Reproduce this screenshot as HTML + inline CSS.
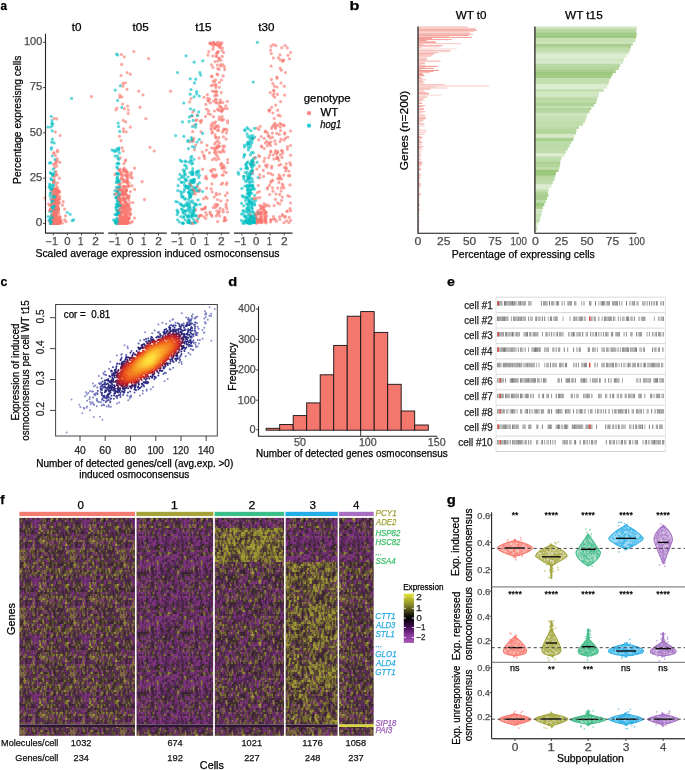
<!DOCTYPE html>
<html><head><meta charset="utf-8"><style>
html,body{margin:0;padding:0;background:#fff;width:685px;height:770px;overflow:hidden}
svg{display:block;will-change:transform}
text{font-family:"Liberation Sans",sans-serif}
.w{stroke:#F8766D}.h{stroke:#00BFC4}
</style></head><body>
<svg width="685" height="770" viewBox="0 0 685 770">
<text x="0.41" y="9.60" font-size="13.5" font-weight="bold" stroke="#000" stroke-width="0.25" textLength="6.49" lengthAdjust="spacingAndGlyphs">a</text>
<g stroke-width="3.2" stroke-linecap="round" stroke-opacity="0.64">
<path class="h" d="M251.8 137.9h0"/>
<path class="w" d="M121.1 206.7h0M60.2 135.5h0M286.2 163.8h0M223.1 209.7h0M56.5 206.8h0M269.6 185.4h0"/>
<path class="h" d="M252.1 189.1h0"/>
<path class="w" d="M259.7 156.5h0"/>
<path class="h" d="M244.2 211.2h0"/>
<path class="w" d="M258.7 213.4h0"/>
<path class="h" d="M192.8 202.6h0"/>
<path class="w" d="M55.8 222.9h0M52.9 206.0h0M260.2 220.0h0M282.6 61.4h0"/>
<path class="h" d="M247.6 168.9h0M254.7 195.3h0"/>
<path class="w" d="M189.7 101.9h0"/>
<path class="h" d="M52.7 210.7h0"/>
<path class="w" d="M120.1 198.1h0M210.1 212.0h0M53.1 221.6h0M275.6 128.3h0"/>
<path class="h" d="M116.0 197.7h0"/>
<path class="w" d="M290.6 131.0h0M122.2 191.0h0M54.3 201.1h0"/>
<path class="h" d="M182.4 209.4h0M202.8 60.8h0M194.5 82.9h0"/>
<path class="w" d="M126.4 190.4h0"/>
<path class="h" d="M52.7 176.1h0"/>
<path class="w" d="M55.7 213.0h0M285.5 138.1h0M122.8 208.1h0"/>
<path class="h" d="M249.7 210.5h0"/>
<path class="w" d="M219.4 143.0h0M213.0 174.5h0M218.8 127.1h0M126.0 213.1h0"/>
<path class="h" d="M120.4 211.8h0M250.0 219.2h0M188.5 216.3h0M117.6 214.1h0M251.4 166.8h0M51.2 223.4h0"/>
<path class="w" d="M216.2 56.0h0M123.1 182.1h0"/>
<path class="h" d="M242.2 195.7h0M180.9 204.7h0M118.5 209.8h0"/>
<path class="w" d="M214.8 95.9h0"/>
<path class="h" d="M251.7 202.9h0"/>
<path class="w" d="M145.9 118.6h0M221.1 119.2h0"/>
<path class="h" d="M194.3 206.6h0"/>
<path class="w" d="M125.6 193.1h0M290.6 52.5h0"/>
<path class="h" d="M248.1 177.1h0"/>
<path class="w" d="M200.9 122.6h0M170.6 91.2h0M226.4 132.9h0M214.6 177.2h0"/>
<path class="h" d="M255.6 200.4h0"/>
<path class="w" d="M55.5 212.7h0M224.6 146.2h0"/>
<path class="h" d="M54.4 209.9h0"/>
<path class="w" d="M55.8 196.6h0M219.0 69.5h0"/>
<path class="h" d="M50.8 223.2h0"/>
<path class="w" d="M282.7 153.3h0"/>
<path class="h" d="M252.5 173.3h0"/>
<path class="w" d="M51.5 216.6h0"/>
<path class="h" d="M54.6 212.5h0M117.0 173.6h0M248.4 149.9h0"/>
<path class="w" d="M264.3 219.7h0M221.5 111.7h0M209.7 99.1h0M57.9 204.4h0M269.8 154.8h0M119.1 200.5h0"/>
<path class="h" d="M49.5 163.1h0"/>
<path class="w" d="M205.8 218.5h0M55.4 207.1h0"/>
<path class="h" d="M251.1 163.7h0M52.0 221.8h0M248.4 221.2h0"/>
<path class="w" d="M120.8 205.0h0M125.7 193.7h0"/>
<path class="h" d="M189.0 222.1h0"/>
<path class="w" d="M121.4 215.6h0"/>
<path class="h" d="M254.2 164.9h0M118.4 221.9h0"/>
<path class="w" d="M53.5 153.5h0M128.5 206.0h0"/>
<path class="h" d="M193.1 215.3h0"/>
<path class="w" d="M54.8 212.4h0M57.8 222.9h0M281.6 150.7h0"/>
<path class="h" d="M248.7 192.9h0"/>
<path class="w" d="M214.7 149.0h0M50.0 221.9h0"/>
<path class="h" d="M258.1 177.5h0"/>
<path class="w" d="M264.7 210.5h0"/>
<path class="h" d="M245.4 172.4h0"/>
<path class="w" d="M124.2 186.4h0M121.8 213.0h0"/>
<path class="h" d="M247.2 185.2h0"/>
<path class="w" d="M258.4 219.6h0M124.8 223.4h0M275.3 127.3h0M126.5 223.0h0M54.2 205.7h0M206.1 176.4h0M55.2 204.8h0M57.5 222.9h0"/>
<path class="w" d="M211.3 129.5h0M216.2 174.7h0"/>
<path class="h" d="M183.8 136.3h0"/>
<path class="w" d="M223.1 75.9h0"/>
<path class="h" d="M254.7 137.2h0M192.0 139.6h0"/>
<path class="w" d="M148.6 58.6h0M220.0 208.4h0"/>
<path class="h" d="M197.7 190.6h0M245.1 130.4h0"/>
<path class="w" d="M198.8 216.2h0M58.1 219.3h0M119.8 218.3h0M126.3 171.7h0M59.6 203.1h0M275.3 152.7h0M226.9 182.8h0M125.6 220.4h0"/>
<path class="w" d="M120.2 222.6h0M276.7 154.0h0M56.2 223.4h0M130.3 127.2h0M219.5 110.5h0"/>
<path class="h" d="M249.4 182.6h0M195.0 188.8h0"/>
<path class="w" d="M259.7 197.6h0M214.8 44.3h0"/>
<path class="h" d="M248.2 217.1h0M249.0 203.0h0"/>
<path class="w" d="M221.4 184.3h0"/>
<path class="h" d="M188.6 203.6h0M252.8 181.9h0"/>
<path class="w" d="M125.0 216.0h0"/>
<path class="h" d="M193.1 190.0h0M248.4 192.9h0"/>
<path class="w" d="M279.5 216.8h0M220.7 152.5h0M216.2 154.7h0M121.0 219.7h0"/>
<path class="h" d="M181.2 182.1h0"/>
<path class="w" d="M133.8 51.5h0"/>
<path class="h" d="M189.3 221.1h0"/>
<path class="w" d="M57.0 191.6h0M265.6 218.6h0M289.7 175.7h0M266.5 212.3h0"/>
<path class="h" d="M252.2 169.7h0"/>
<path class="w" d="M128.0 204.4h0"/>
<path class="h" d="M238.6 174.2h0"/>
<path class="w" d="M211.1 188.9h0M223.6 130.2h0"/>
<path class="h" d="M248.3 129.0h0M248.6 148.0h0"/>
<path class="w" d="M208.5 110.7h0M122.8 186.7h0M130.4 74.2h0M126.6 173.7h0M53.7 219.0h0M59.8 196.4h0M57.5 182.8h0M290.6 203.0h0"/>
<path class="w" d="M222.1 116.6h0M54.0 215.8h0M53.9 202.2h0M217.5 130.4h0M127.7 222.7h0"/>
<path class="h" d="M116.9 166.8h0M248.1 219.9h0"/>
<path class="w" d="M123.0 192.3h0M261.6 221.4h0M57.2 194.1h0M212.2 76.4h0M276.8 133.4h0"/>
<path class="h" d="M249.3 174.2h0M54.7 193.7h0M50.2 193.0h0M247.4 190.4h0"/>
<path class="w" d="M281.8 47.7h0"/>
<path class="h" d="M250.9 171.5h0"/>
<path class="w" d="M54.1 223.1h0"/>
<path class="h" d="M54.0 218.2h0"/>
<path class="w" d="M254.3 217.1h0M57.0 206.9h0M123.7 170.3h0M118.4 214.8h0"/>
<path class="h" d="M54.2 222.7h0M185.0 161.2h0"/>
<path class="w" d="M121.2 172.7h0"/>
<path class="h" d="M189.6 183.5h0"/>
<path class="w" d="M216.9 148.2h0M49.6 211.1h0M61.0 220.6h0M253.4 138.6h0"/>
<path class="h" d="M50.7 188.4h0"/>
<path class="w" d="M265.0 131.9h0M134.4 218.1h0M211.9 216.2h0M60.2 221.4h0M281.0 83.0h0M222.5 132.1h0"/>
<path class="h" d="M179.4 222.0h0"/>
<path class="w" d="M201.6 120.4h0M53.7 193.7h0"/>
<path class="h" d="M248.6 199.3h0M199.9 72.7h0M248.6 185.5h0M256.2 218.4h0M251.9 161.7h0M51.6 219.1h0"/>
<path class="w" d="M264.1 207.3h0M129.2 217.7h0M217.2 147.7h0M55.8 160.5h0"/>
<path class="h" d="M52.4 139.2h0"/>
<path class="w" d="M127.0 197.4h0"/>
<path class="h" d="M193.9 222.9h0"/>
<path class="w" d="M216.3 215.9h0"/>
<path class="h" d="M54.1 219.8h0"/>
<path class="w" d="M119.6 219.5h0"/>
<path class="h" d="M250.4 223.3h0"/>
<path class="w" d="M127.7 218.7h0M119.5 196.2h0"/>
<path class="h" d="M247.9 222.7h0M256.2 218.8h0"/>
<path class="w" d="M56.5 208.7h0"/>
<path class="h" d="M186.1 186.8h0M184.0 216.6h0"/>
<path class="w" d="M56.4 220.8h0"/>
<path class="h" d="M249.9 213.6h0"/>
<path class="w" d="M52.0 222.5h0"/>
<path class="h" d="M192.4 146.5h0"/>
<path class="w" d="M131.3 172.7h0M119.8 194.0h0M271.0 46.2h0M124.8 200.4h0"/>
<path class="h" d="M190.4 108.9h0"/>
<path class="w" d="M219.2 116.9h0"/>
<path class="h" d="M51.5 147.6h0"/>
<path class="w" d="M270.6 145.5h0M260.6 212.5h0M119.6 212.1h0M274.3 86.2h0M58.5 209.5h0M261.6 208.6h0"/>
<path class="h" d="M119.8 209.6h0M250.4 154.8h0"/>
<path class="w" d="M265.2 213.0h0"/>
<path class="h" d="M190.4 195.7h0"/>
<path class="w" d="M58.6 190.5h0"/>
<path class="h" d="M249.9 136.2h0M248.9 195.3h0"/>
<path class="w" d="M117.0 197.5h0M138.7 91.2h0M259.9 177.8h0M55.2 223.4h0"/>
<path class="h" d="M177.9 211.5h0M193.4 190.9h0M188.1 177.0h0"/>
<path class="w" d="M122.5 209.1h0"/>
<path class="h" d="M115.1 156.0h0M50.9 223.4h0"/>
<path class="w" d="M123.2 220.7h0"/>
<path class="h" d="M112.0 150.0h0M52.0 215.5h0"/>
<path class="w" d="M200.3 215.3h0M266.8 141.4h0M258.5 213.4h0M222.0 120.4h0M209.7 43.2h0M224.5 218.1h0"/>
<path class="h" d="M114.7 151.4h0M191.7 156.3h0"/>
<path class="w" d="M191.0 98.5h0"/>
<path class="h" d="M190.6 180.6h0"/>
<path class="w" d="M57.6 209.0h0M222.2 175.0h0"/>
<path class="h" d="M246.4 203.7h0M183.5 217.7h0M184.7 165.2h0"/>
<path class="w" d="M284.3 86.2h0"/>
<path class="h" d="M252.7 199.6h0"/>
<path class="w" d="M215.8 102.6h0M279.9 219.5h0"/>
<path class="h" d="M191.7 180.3h0"/>
<path class="w" d="M217.8 204.8h0M219.8 47.6h0"/>
<path class="h" d="M253.3 222.3h0"/>
<path class="w" d="M55.2 219.8h0M282.9 185.6h0"/>
<path class="h" d="M198.0 218.4h0"/>
<path class="w" d="M126.2 190.6h0M119.7 186.5h0"/>
<path class="h" d="M252.5 204.6h0"/>
<path class="w" d="M258.6 212.7h0M123.9 212.0h0"/>
<path class="h" d="M117.2 200.4h0"/>
<path class="w" d="M56.4 214.1h0M210.6 43.7h0M128.9 218.7h0"/>
<path class="h" d="M113.7 219.9h0M180.2 160.2h0"/>
<path class="w" d="M208.1 113.7h0M54.1 188.3h0M125.8 202.7h0M128.5 208.5h0"/>
<path class="h" d="M52.7 123.5h0M249.7 195.9h0M245.8 221.4h0M247.9 186.7h0"/>
<path class="w" d="M119.7 200.6h0"/>
<path class="h" d="M188.4 192.5h0"/>
<path class="w" d="M259.9 221.2h0M285.6 171.0h0M280.0 54.9h0M216.9 95.4h0M207.3 94.7h0"/>
<path class="h" d="M67.4 212.5h0"/>
<path class="w" d="M55.8 212.4h0M219.4 82.4h0"/>
<path class="h" d="M250.9 215.7h0M119.1 180.8h0M175.7 135.6h0M187.8 141.5h0"/>
<path class="w" d="M55.7 195.3h0"/>
<path class="h" d="M192.9 174.5h0M248.7 200.8h0"/>
<path class="w" d="M126.7 211.7h0M56.4 189.7h0M215.5 121.8h0M217.7 221.6h0M54.7 223.2h0"/>
<path class="h" d="M53.3 221.4h0"/>
<path class="w" d="M57.1 220.6h0"/>
<path class="h" d="M50.2 220.6h0"/>
<path class="w" d="M60.0 222.6h0"/>
<path class="h" d="M249.9 138.4h0M55.8 212.9h0"/>
<path class="w" d="M263.8 205.9h0"/>
<path class="h" d="M185.6 198.8h0"/>
<path class="w" d="M56.5 208.3h0M276.0 194.0h0"/>
<path class="h" d="M50.8 178.6h0M52.9 188.8h0"/>
<path class="w" d="M190.1 141.7h0M214.0 148.2h0"/>
<path class="h" d="M243.7 205.8h0"/>
<path class="w" d="M54.0 222.0h0M193.4 181.5h0"/>
<path class="h" d="M254.4 189.1h0"/>
<path class="w" d="M127.3 187.1h0M58.1 206.8h0"/>
<path class="h" d="M50.9 222.7h0"/>
<path class="w" d="M55.3 221.7h0"/>
<path class="h" d="M53.8 204.9h0"/>
<path class="w" d="M123.8 220.2h0"/>
<path class="h" d="M118.2 210.4h0"/>
<path class="w" d="M120.0 184.2h0M58.2 211.7h0M123.5 131.6h0"/>
<path class="h" d="M255.4 157.6h0"/>
<path class="w" d="M258.3 185.5h0"/>
<path class="h" d="M54.1 195.4h0"/>
<path class="w" d="M124.9 214.4h0M116.9 108.0h0M118.9 169.8h0M261.4 207.3h0"/>
<path class="h" d="M187.4 216.0h0"/>
<path class="w" d="M196.3 220.3h0"/>
<path class="h" d="M120.4 214.6h0M250.1 175.6h0"/>
<path class="w" d="M125.1 223.1h0M125.4 82.8h0M195.8 120.6h0M218.4 45.5h0"/>
<path class="h" d="M250.9 130.7h0M193.2 120.4h0M245.7 215.8h0M51.6 189.9h0M118.3 196.9h0M243.9 176.7h0"/>
<path class="w" d="M256.6 212.5h0"/>
<path class="h" d="M115.8 221.6h0"/>
<path class="w" d="M121.4 177.8h0M54.5 220.4h0M60.1 216.6h0M55.6 200.4h0"/>
<path class="h" d="M252.4 170.9h0"/>
<path class="w" d="M267.6 187.6h0M215.3 99.5h0"/>
<path class="h" d="M247.4 221.6h0"/>
<path class="w" d="M212.7 169.3h0M126.1 204.9h0"/>
<path class="h" d="M243.9 221.0h0"/>
<path class="w" d="M215.6 137.3h0M217.7 74.7h0M221.7 168.1h0M250.0 214.5h0"/>
<path class="h" d="M251.2 217.8h0"/>
<path class="w" d="M58.2 220.2h0"/>
<path class="h" d="M120.0 219.6h0M244.5 146.9h0"/>
<path class="w" d="M211.6 215.0h0M128.1 205.9h0"/>
<path class="h" d="M116.5 204.3h0"/>
<path class="w" d="M56.0 221.8h0"/>
<path class="h" d="M189.8 189.7h0"/>
<path class="w" d="M55.5 209.8h0"/>
<path class="h" d="M177.6 202.0h0"/>
<path class="w" d="M126.2 131.8h0"/>
<path class="h" d="M252.9 186.4h0M190.5 184.8h0"/>
<path class="w" d="M55.8 223.4h0M212.5 132.0h0"/>
<path class="h" d="M253.6 222.2h0"/>
<path class="w" d="M257.7 221.7h0M56.5 216.4h0"/>
<path class="h" d="M248.8 177.6h0M177.0 210.2h0M194.2 209.1h0"/>
<path class="w" d="M123.0 83.4h0M215.8 126.4h0"/>
<path class="h" d="M181.6 161.4h0"/>
<path class="w" d="M255.6 215.0h0"/>
<path class="h" d="M50.8 162.7h0"/>
<path class="w" d="M195.8 209.9h0M211.1 128.0h0"/>
<path class="h" d="M54.2 182.4h0"/>
<path class="w" d="M207.0 198.3h0"/>
<path class="h" d="M249.5 219.9h0"/>
<path class="w" d="M54.2 216.0h0M258.7 155.6h0"/>
<path class="h" d="M184.1 191.3h0"/>
<path class="w" d="M283.2 60.5h0"/>
<path class="h" d="M255.2 222.6h0M245.8 221.0h0"/>
<path class="w" d="M124.3 56.8h0M276.7 158.4h0M195.6 145.1h0M121.1 75.5h0"/>
<path class="h" d="M118.9 213.4h0"/>
<path class="w" d="M270.8 173.6h0M256.8 215.4h0M123.8 211.0h0M128.2 113.5h0M56.8 210.2h0"/>
<path class="h" d="M185.6 210.6h0"/>
<path class="w" d="M201.6 142.3h0M123.6 223.2h0"/>
<path class="h" d="M251.4 222.1h0"/>
<path class="w" d="M57.9 220.4h0M125.1 181.5h0M142.1 181.7h0"/>
<path class="h" d="M252.2 208.7h0"/>
<path class="w" d="M51.5 223.4h0M221.0 44.3h0"/>
<path class="h" d="M180.9 216.6h0"/>
<path class="w" d="M53.3 218.1h0M259.4 166.2h0"/>
<path class="h" d="M251.4 218.0h0"/>
<path class="w" d="M121.0 201.7h0M62.3 223.1h0"/>
<path class="h" d="M115.3 221.0h0"/>
<path class="w" d="M55.4 214.4h0M57.1 217.2h0M222.4 110.4h0M222.5 151.0h0M221.8 42.8h0M208.4 101.1h0M279.0 178.8h0M212.9 55.9h0"/>
<path class="h" d="M249.7 185.9h0"/>
<path class="w" d="M132.3 221.7h0M209.5 152.8h0"/>
<path class="h" d="M119.6 213.1h0M200.7 75.1h0"/>
<path class="w" d="M51.9 214.9h0M125.5 220.3h0M224.1 220.9h0M126.5 176.0h0M57.4 221.5h0M57.5 204.7h0M273.2 155.0h0M54.1 152.6h0"/>
<path class="h" d="M246.1 164.4h0M193.9 159.3h0"/>
<path class="w" d="M56.1 223.3h0"/>
<path class="h" d="M186.5 168.3h0"/>
<path class="w" d="M53.3 223.3h0M208.2 100.6h0M278.4 57.9h0"/>
<path class="h" d="M247.4 222.1h0M246.8 186.6h0M117.5 177.1h0"/>
<path class="w" d="M288.9 222.6h0M261.3 213.3h0"/>
<path class="h" d="M189.1 121.4h0"/>
<path class="w" d="M226.9 208.6h0M277.7 158.5h0M211.1 125.2h0M219.2 45.4h0M124.0 194.3h0M57.4 193.2h0"/>
<path class="h" d="M195.7 79.2h0M247.5 144.0h0"/>
<path class="w" d="M55.9 185.0h0"/>
<path class="h" d="M193.1 179.8h0"/>
<path class="w" d="M55.5 163.9h0"/>
<path class="h" d="M54.1 196.6h0M52.0 120.5h0"/>
<path class="w" d="M54.5 219.8h0M203.5 198.8h0M279.3 134.3h0M121.7 206.9h0M120.2 169.1h0M123.0 217.7h0M282.0 157.4h0M272.9 191.2h0"/>
<path class="h" d="M193.4 219.4h0"/>
<path class="w" d="M274.2 118.6h0M194.5 125.2h0M131.2 174.5h0M273.5 216.5h0M207.7 98.4h0M53.2 196.7h0"/>
<path class="h" d="M185.7 214.6h0"/>
<path class="w" d="M198.8 191.4h0M119.5 223.3h0M269.0 136.0h0M215.3 150.5h0M271.5 128.4h0M122.7 104.1h0"/>
<path class="h" d="M252.7 220.9h0"/>
<path class="w" d="M284.8 217.2h0M219.8 215.9h0"/>
<path class="h" d="M186.1 55.8h0"/>
<path class="w" d="M260.5 209.2h0M216.4 44.1h0"/>
<path class="h" d="M51.8 123.6h0"/>
<path class="w" d="M54.6 167.4h0M58.5 218.2h0"/>
<path class="h" d="M192.6 182.3h0"/>
<path class="w" d="M64.7 209.0h0"/>
<path class="h" d="M250.5 190.0h0"/>
<path class="w" d="M52.6 222.8h0M129.1 185.9h0M263.6 176.4h0"/>
<path class="h" d="M249.5 193.2h0"/>
<path class="w" d="M214.2 197.1h0"/>
<path class="h" d="M52.2 206.8h0M120.5 223.0h0"/>
<path class="w" d="M50.4 222.9h0M199.1 158.1h0M54.5 213.6h0M123.4 191.7h0M126.1 219.3h0M118.5 206.2h0M122.9 218.0h0"/>
<path class="h" d="M115.8 207.7h0"/>
<path class="w" d="M273.8 90.3h0M120.3 187.8h0"/>
<path class="h" d="M198.9 170.9h0M185.4 174.3h0"/>
<path class="w" d="M126.8 178.4h0M122.6 212.1h0M216.9 42.7h0M277.1 78.2h0M213.0 84.9h0M256.3 217.6h0M261.2 136.6h0"/>
<path class="h" d="M52.2 222.7h0"/>
<path class="w" d="M127.5 198.0h0M266.9 204.9h0M55.5 223.1h0M283.9 187.9h0M57.3 219.2h0M215.6 85.3h0M265.6 212.8h0M197.1 115.2h0"/>
<path class="w" d="M55.0 219.9h0M217.9 61.1h0M56.1 197.3h0M53.4 200.1h0M122.9 218.0h0M212.6 126.1h0"/>
<path class="h" d="M253.5 219.5h0"/>
<path class="w" d="M259.7 212.8h0M206.8 215.1h0M216.4 127.0h0"/>
<path class="h" d="M51.2 220.6h0"/>
<path class="w" d="M219.8 102.5h0M280.0 176.7h0"/>
<path class="h" d="M248.2 143.5h0"/>
<path class="w" d="M273.5 218.8h0M261.5 222.4h0M124.4 198.4h0M211.4 85.7h0"/>
<path class="h" d="M253.4 158.7h0"/>
<path class="w" d="M54.6 199.2h0M63.2 201.7h0M214.7 128.5h0M54.0 211.4h0"/>
<path class="h" d="M190.2 78.8h0M243.6 223.4h0"/>
<path class="w" d="M222.3 56.4h0M220.8 165.3h0M208.0 55.1h0"/>
<path class="h" d="M253.2 82.1h0"/>
<path class="w" d="M251.7 218.6h0"/>
<path class="h" d="M120.2 222.2h0"/>
<path class="w" d="M129.7 210.2h0"/>
<path class="h" d="M251.9 140.4h0"/>
<path class="w" d="M213.2 80.9h0"/>
<path class="h" d="M120.5 222.4h0"/>
<path class="w" d="M124.4 217.2h0M267.4 189.0h0M125.1 223.3h0M51.4 190.7h0M257.6 219.8h0M217.1 53.2h0M122.8 205.9h0M127.2 72.5h0"/>
<path class="w" d="M124.5 194.0h0"/>
<path class="h" d="M189.0 185.5h0"/>
<path class="w" d="M128.5 197.1h0"/>
<path class="h" d="M199.3 139.4h0M52.2 156.0h0"/>
<path class="w" d="M284.7 132.9h0M124.2 221.0h0M128.8 185.8h0M44.8 198.0h0M126.8 195.2h0"/>
<path class="h" d="M51.8 142.2h0"/>
<path class="w" d="M54.8 209.5h0M223.0 167.3h0M57.9 222.6h0M263.3 210.4h0M53.5 221.7h0M266.3 223.0h0M59.0 220.6h0M50.0 220.9h0"/>
<path class="h" d="M192.5 173.4h0"/>
<path class="w" d="M269.2 111.3h0M127.8 172.4h0"/>
<path class="h" d="M118.2 223.3h0"/>
<path class="w" d="M57.3 161.1h0M125.8 219.8h0"/>
<path class="h" d="M118.9 147.8h0M247.2 175.3h0"/>
<path class="w" d="M124.6 171.3h0M282.3 197.0h0"/>
<path class="h" d="M53.9 222.4h0M118.5 200.7h0M181.8 176.1h0M250.9 173.4h0M247.1 207.6h0"/>
<path class="w" d="M51.3 216.9h0M271.7 166.2h0M57.1 209.5h0"/>
<path class="h" d="M50.9 198.3h0"/>
<path class="w" d="M261.4 219.9h0M260.5 219.1h0"/>
<path class="h" d="M247.1 133.9h0"/>
<path class="w" d="M273.5 44.7h0"/>
<path class="h" d="M116.7 223.3h0M191.4 137.6h0"/>
<path class="w" d="M220.8 200.8h0M54.1 118.4h0M281.5 200.6h0M124.0 208.0h0M53.3 210.8h0M126.4 222.9h0M265.7 217.9h0M277.8 188.1h0"/>
<path class="w" d="M53.8 217.4h0M130.7 213.5h0"/>
<path class="h" d="M248.7 206.9h0"/>
<path class="w" d="M55.8 197.4h0"/>
<path class="h" d="M254.5 205.1h0M116.8 222.9h0"/>
<path class="w" d="M212.3 91.0h0M59.3 191.8h0"/>
<path class="h" d="M116.9 192.7h0"/>
<path class="w" d="M56.0 219.2h0M271.6 107.3h0"/>
<path class="h" d="M117.7 204.4h0"/>
<path class="w" d="M227.6 159.5h0M261.3 217.1h0M265.8 131.1h0M281.4 187.8h0M129.2 195.6h0M126.3 171.8h0"/>
<path class="h" d="M254.4 214.1h0"/>
<path class="w" d="M57.4 191.2h0M55.0 221.7h0M126.2 207.2h0"/>
<path class="h" d="M249.5 178.4h0M196.0 124.4h0M52.8 201.2h0"/>
<path class="w" d="M127.7 178.2h0M280.7 130.6h0M56.6 223.1h0M258.7 222.3h0"/>
<path class="h" d="M189.2 222.2h0"/>
<path class="w" d="M123.1 220.7h0"/>
<path class="h" d="M114.9 190.6h0"/>
<path class="w" d="M57.5 150.3h0"/>
<path class="h" d="M189.7 204.9h0"/>
<path class="w" d="M260.7 220.1h0M122.3 194.2h0"/>
<path class="h" d="M116.6 54.0h0M118.4 212.8h0"/>
<path class="w" d="M252.9 162.7h0M57.2 200.6h0"/>
<path class="h" d="M73.7 219.8h0"/>
<path class="w" d="M119.8 223.4h0"/>
<path class="h" d="M50.8 173.5h0"/>
<path class="w" d="M200.1 121.0h0M272.9 95.4h0M257.2 192.7h0M279.8 203.9h0M254.8 157.9h0M121.8 194.7h0"/>
<path class="h" d="M117.4 191.2h0"/>
<path class="w" d="M126.6 190.0h0M124.1 169.6h0M260.3 219.1h0"/>
<path class="h" d="M116.8 148.9h0"/>
<path class="w" d="M54.0 203.4h0"/>
<path class="h" d="M118.4 187.1h0"/>
<path class="w" d="M259.5 221.9h0M58.2 208.9h0"/>
<path class="h" d="M193.2 210.4h0"/>
<path class="w" d="M205.8 212.6h0"/>
<path class="h" d="M49.0 220.1h0"/>
<path class="w" d="M266.0 205.8h0"/>
<path class="h" d="M53.4 180.4h0M252.2 171.0h0"/>
<path class="w" d="M128.2 222.9h0M123.0 212.1h0"/>
<path class="h" d="M118.0 222.3h0"/>
<path class="w" d="M281.4 70.2h0M257.4 220.1h0"/>
<path class="h" d="M252.8 165.1h0M116.1 197.8h0M250.5 174.0h0M195.5 127.2h0M194.0 179.7h0"/>
<path class="w" d="M280.4 59.8h0M204.6 158.5h0"/>
<path class="h" d="M243.3 213.5h0"/>
<path class="w" d="M120.4 157.8h0"/>
<path class="h" d="M183.8 103.0h0M53.6 217.1h0"/>
<path class="w" d="M212.5 176.1h0M126.3 190.2h0"/>
<path class="h" d="M177.2 214.6h0M71.6 98.4h0M49.1 187.1h0M52.5 223.2h0"/>
<path class="w" d="M275.1 219.3h0"/>
<path class="h" d="M251.9 222.8h0M252.4 138.6h0"/>
<path class="w" d="M120.4 213.2h0M275.7 143.9h0"/>
<path class="h" d="M191.3 161.1h0"/>
<path class="w" d="M122.9 190.9h0M56.9 209.1h0"/>
<path class="h" d="M119.5 187.2h0M253.3 188.2h0"/>
<path class="w" d="M124.7 180.6h0M116.8 188.8h0M66.0 221.6h0M289.9 162.7h0M120.1 215.5h0"/>
<path class="h" d="M117.5 180.9h0"/>
<path class="w" d="M256.5 223.3h0M126.7 216.5h0M258.9 129.4h0"/>
<path class="h" d="M117.8 158.3h0M116.2 182.5h0"/>
<path class="w" d="M55.7 206.0h0"/>
<path class="h" d="M190.2 94.2h0"/>
<path class="w" d="M120.4 205.1h0"/>
<path class="h" d="M249.3 188.0h0M196.1 215.3h0"/>
<path class="w" d="M126.8 182.2h0"/>
<path class="h" d="M193.8 207.8h0"/>
<path class="w" d="M206.8 178.7h0M217.0 45.1h0"/>
<path class="h" d="M188.6 206.9h0"/>
<path class="w" d="M52.2 222.5h0M264.7 158.3h0M121.7 212.0h0"/>
<path class="h" d="M251.7 193.3h0M53.9 175.4h0"/>
<path class="w" d="M123.9 163.6h0"/>
<path class="h" d="M249.1 194.9h0M187.9 210.6h0M116.6 206.9h0"/>
<path class="w" d="M272.4 137.3h0M219.8 46.9h0M123.3 120.4h0M270.2 92.6h0"/>
<path class="h" d="M244.5 154.6h0"/>
<path class="w" d="M60.2 221.2h0"/>
<path class="h" d="M53.1 189.0h0M192.3 171.7h0M191.8 215.5h0M192.8 171.4h0"/>
<path class="w" d="M277.6 152.5h0"/>
<path class="h" d="M244.4 155.0h0"/>
<path class="w" d="M121.9 206.9h0M213.2 207.5h0"/>
<path class="h" d="M182.4 121.9h0"/>
<path class="w" d="M118.6 183.9h0"/>
<path class="h" d="M192.2 141.0h0"/>
<path class="w" d="M56.3 211.4h0M122.3 175.8h0M266.9 167.1h0"/>
<path class="h" d="M51.9 220.6h0"/>
<path class="w" d="M55.9 162.7h0"/>
<path class="h" d="M186.3 166.0h0"/>
<path class="w" d="M190.0 183.3h0M280.2 68.2h0M52.4 195.3h0M224.8 108.6h0M214.5 123.5h0M217.9 51.9h0"/>
<path class="h" d="M250.1 217.7h0"/>
<path class="w" d="M57.2 223.0h0"/>
<path class="h" d="M115.2 90.1h0"/>
<path class="w" d="M266.0 220.4h0"/>
<path class="h" d="M190.8 182.3h0M117.5 179.1h0M191.7 174.7h0M191.0 89.5h0"/>
<path class="w" d="M267.3 145.7h0M287.4 149.2h0M224.4 66.9h0M252.4 172.5h0M57.4 221.6h0M127.6 218.0h0M271.6 180.9h0M119.4 170.0h0"/>
<path class="w" d="M261.1 206.0h0M119.8 95.1h0"/>
<path class="h" d="M249.2 201.1h0"/>
<path class="w" d="M289.5 196.5h0"/>
<path class="h" d="M186.5 186.4h0"/>
<path class="w" d="M282.3 184.0h0"/>
<path class="h" d="M246.5 223.0h0M247.8 136.7h0"/>
<path class="w" d="M284.1 222.7h0"/>
<path class="h" d="M53.3 173.9h0M113.8 150.5h0M190.5 210.1h0M194.6 147.5h0"/>
<path class="w" d="M119.8 97.3h0"/>
<path class="h" d="M246.6 212.0h0M184.6 170.9h0"/>
<path class="w" d="M56.2 204.7h0M286.6 220.8h0M120.5 219.3h0M59.6 217.6h0M127.6 220.5h0"/>
<path class="h" d="M251.2 202.1h0"/>
<path class="w" d="M281.1 124.0h0"/>
<path class="h" d="M118.5 195.0h0"/>
<path class="w" d="M204.6 208.2h0M267.5 132.8h0"/>
<path class="h" d="M188.8 192.1h0M116.9 204.2h0"/>
<path class="w" d="M58.0 202.1h0M219.7 194.1h0"/>
<path class="h" d="M247.5 189.4h0M54.2 142.9h0"/>
<path class="w" d="M57.6 187.3h0M226.0 206.4h0M58.3 210.0h0M51.7 221.8h0"/>
<path class="h" d="M252.8 211.6h0"/>
<path class="w" d="M58.3 222.8h0"/>
<path class="h" d="M197.6 184.7h0M53.0 196.6h0"/>
<path class="w" d="M122.6 189.5h0"/>
<path class="h" d="M194.4 210.9h0M247.3 172.6h0"/>
<path class="w" d="M50.8 221.8h0M132.0 185.8h0M227.5 120.8h0"/>
<path class="h" d="M247.8 219.5h0"/>
<path class="w" d="M269.0 110.1h0M59.1 221.7h0"/>
<path class="h" d="M251.4 198.6h0"/>
<path class="w" d="M123.9 222.4h0M129.0 213.5h0M49.8 205.5h0M261.4 220.2h0M120.5 203.0h0M58.8 213.2h0M53.9 223.4h0M121.1 174.6h0"/>
<path class="h" d="M243.7 176.4h0"/>
<path class="w" d="M221.9 50.4h0"/>
<path class="h" d="M118.2 150.2h0"/>
<path class="w" d="M276.4 221.3h0"/>
<path class="h" d="M117.6 100.5h0M51.8 188.3h0"/>
<path class="w" d="M221.7 163.5h0M130.2 214.4h0M279.7 194.4h0M265.5 165.4h0M214.7 82.0h0"/>
<path class="h" d="M50.4 172.5h0"/>
<path class="w" d="M125.1 206.6h0M127.4 185.4h0"/>
<path class="h" d="M55.1 159.4h0M186.9 180.7h0"/>
<path class="w" d="M275.6 150.6h0M120.0 171.8h0M124.0 219.4h0M123.6 219.5h0M257.1 198.2h0M214.0 176.0h0M274.1 205.6h0"/>
<path class="h" d="M194.4 179.5h0"/>
<path class="w" d="M122.1 147.8h0M214.7 143.9h0"/>
<path class="h" d="M252.5 138.2h0M250.6 202.3h0M194.1 96.8h0M185.8 204.5h0"/>
<path class="w" d="M129.7 215.3h0"/>
<path class="h" d="M51.8 214.6h0M185.8 179.6h0M188.0 187.8h0"/>
<path class="w" d="M256.9 169.1h0M58.4 199.9h0M59.8 222.4h0"/>
<path class="h" d="M187.8 188.2h0"/>
<path class="w" d="M264.2 210.2h0"/>
<path class="h" d="M251.8 163.9h0"/>
<path class="w" d="M217.9 110.0h0"/>
<path class="h" d="M189.8 207.1h0"/>
<path class="w" d="M264.1 203.5h0M254.5 198.0h0M118.9 220.0h0M132.2 177.9h0M55.6 216.6h0M284.7 95.1h0M219.4 58.0h0M119.4 221.9h0"/>
<path class="w" d="M120.2 194.9h0M219.2 87.3h0M58.2 199.0h0M58.1 223.3h0M126.3 175.4h0"/>
<path class="h" d="M252.2 179.3h0M251.8 178.4h0"/>
<path class="w" d="M210.1 213.6h0M60.1 218.2h0"/>
<path class="h" d="M200.0 204.4h0"/>
<path class="w" d="M57.2 221.2h0"/>
<path class="h" d="M250.6 215.8h0M199.5 175.3h0"/>
<path class="w" d="M271.4 79.6h0M192.0 116.2h0"/>
<path class="h" d="M183.4 206.4h0"/>
<path class="w" d="M220.5 102.6h0"/>
<path class="h" d="M187.6 222.2h0M249.0 223.3h0"/>
<path class="w" d="M120.7 219.1h0M124.2 222.7h0"/>
<path class="h" d="M247.9 197.4h0"/>
<path class="w" d="M272.8 113.0h0M129.1 206.4h0"/>
<path class="h" d="M181.8 177.5h0"/>
<path class="w" d="M124.5 222.4h0M54.6 222.2h0"/>
<path class="h" d="M253.8 220.8h0"/>
<path class="w" d="M127.3 180.6h0M123.9 199.0h0M277.8 151.6h0M124.2 194.0h0M265.2 220.4h0M271.3 53.6h0M219.0 151.7h0M120.2 205.7h0"/>
<path class="w" d="M212.6 122.8h0M122.0 190.3h0"/>
<path class="h" d="M192.4 139.9h0"/>
<path class="w" d="M281.1 139.2h0M125.9 170.1h0M50.4 209.4h0"/>
<path class="h" d="M195.1 204.2h0"/>
<path class="w" d="M269.0 143.4h0M56.4 210.9h0"/>
<path class="h" d="M51.5 217.9h0M117.9 205.9h0M118.3 163.1h0"/>
<path class="w" d="M219.4 105.7h0"/>
<path class="h" d="M258.2 212.9h0"/>
<path class="w" d="M56.1 220.7h0M57.0 191.0h0M122.7 199.2h0M214.7 158.3h0M255.6 214.3h0M216.3 159.8h0"/>
<path class="h" d="M196.1 191.0h0"/>
<path class="w" d="M218.8 137.6h0"/>
<path class="h" d="M247.7 211.4h0M53.6 220.5h0"/>
<path class="w" d="M211.3 76.4h0M57.9 190.9h0M271.0 142.0h0M217.9 140.7h0"/>
<path class="h" d="M196.6 91.5h0"/>
<path class="w" d="M212.0 132.9h0M280.8 164.4h0M59.1 222.6h0M219.6 146.4h0"/>
<path class="h" d="M182.4 223.2h0"/>
<path class="w" d="M122.6 179.1h0M54.6 197.5h0M216.1 137.7h0M121.0 179.0h0"/>
<path class="h" d="M248.6 204.2h0M50.9 219.0h0"/>
<path class="w" d="M59.7 162.3h0M281.1 191.1h0M268.7 157.7h0"/>
<path class="h" d="M196.9 187.2h0"/>
<path class="w" d="M57.5 196.0h0M55.1 189.1h0M59.5 222.9h0"/>
<path class="h" d="M247.0 127.6h0M247.0 193.9h0M179.9 174.3h0M249.8 191.5h0"/>
<path class="w" d="M216.2 142.0h0"/>
<path class="h" d="M115.2 222.8h0M193.8 211.6h0"/>
<path class="w" d="M222.9 146.1h0"/>
<path class="h" d="M52.3 174.3h0"/>
<path class="w" d="M55.6 194.2h0M59.0 223.2h0M276.9 77.1h0"/>
<path class="h" d="M196.8 204.9h0M255.2 220.3h0"/>
<path class="w" d="M278.3 115.2h0"/>
<path class="h" d="M188.3 140.3h0"/>
<path class="w" d="M129.0 218.6h0M53.3 223.4h0"/>
<path class="h" d="M53.1 223.3h0"/>
<path class="w" d="M284.1 125.6h0"/>
<path class="h" d="M52.9 204.4h0"/>
<path class="w" d="M227.1 129.9h0M122.7 194.2h0"/>
<path class="h" d="M251.9 186.1h0M249.2 143.4h0M198.1 199.9h0"/>
<path class="w" d="M270.6 182.3h0"/>
<path class="h" d="M186.2 161.5h0"/>
<path class="w" d="M56.3 219.5h0M226.1 139.1h0M288.9 171.1h0"/>
<path class="h" d="M51.2 116.4h0M251.6 164.4h0"/>
<path class="w" d="M264.4 222.0h0M57.2 193.5h0M55.1 204.6h0"/>
<path class="h" d="M182.1 205.2h0"/>
<path class="w" d="M55.7 211.9h0M123.1 222.8h0M124.2 220.7h0M280.2 115.8h0M227.5 212.0h0M290.0 184.9h0"/>
<path class="h" d="M252.6 160.7h0"/>
<path class="w" d="M217.6 125.5h0M214.3 152.6h0M57.5 220.1h0M216.7 56.6h0"/>
<path class="h" d="M247.2 167.6h0M249.8 201.3h0"/>
<path class="w" d="M285.4 216.3h0M134.5 168.2h0M199.3 216.3h0M223.3 175.0h0M119.9 205.9h0M201.6 209.2h0"/>
<path class="h" d="M183.6 213.4h0M178.1 185.7h0"/>
<path class="w" d="M124.9 210.3h0M219.1 119.5h0M52.4 203.2h0M225.5 129.2h0"/>
<path class="h" d="M189.7 212.4h0M244.9 186.0h0"/>
<path class="w" d="M259.4 219.9h0M192.8 223.4h0M218.3 146.8h0M218.1 51.8h0"/>
<path class="h" d="M47.9 127.1h0M196.7 93.9h0"/>
<path class="w" d="M216.7 146.8h0M128.9 197.5h0M217.6 214.1h0M55.0 217.7h0M55.4 216.5h0M212.6 159.7h0M205.9 104.4h0"/>
<path class="h" d="M53.3 198.2h0M117.6 174.1h0"/>
<path class="w" d="M265.5 142.9h0M259.8 205.5h0"/>
<path class="h" d="M199.0 190.7h0"/>
<path class="w" d="M126.6 221.5h0M211.6 64.9h0"/>
<path class="h" d="M117.4 191.9h0"/>
<path class="w" d="M217.9 68.4h0"/>
<path class="h" d="M253.0 220.0h0"/>
<path class="w" d="M281.6 179.1h0M205.7 196.8h0"/>
<path class="h" d="M190.9 157.5h0"/>
<path class="w" d="M57.2 223.4h0M127.3 180.8h0M53.6 222.6h0M277.6 202.9h0M226.4 172.6h0M215.3 207.5h0M127.8 223.1h0M53.4 219.4h0"/>
<path class="h" d="M53.3 169.2h0"/>
<path class="w" d="M127.1 222.2h0"/>
<path class="h" d="M116.9 173.5h0M251.5 152.6h0M51.6 200.4h0"/>
<path class="w" d="M125.7 121.9h0M290.6 210.7h0M279.8 123.7h0M273.3 58.0h0M128.1 219.5h0"/>
<path class="h" d="M54.9 172.2h0"/>
<path class="w" d="M127.2 182.1h0"/>
<path class="h" d="M118.9 159.3h0"/>
<path class="w" d="M59.0 198.5h0"/>
<path class="h" d="M117.1 178.2h0"/>
<path class="w" d="M222.9 64.9h0M55.5 190.2h0M260.4 218.9h0M123.2 197.3h0"/>
<path class="h" d="M182.6 197.0h0"/>
<path class="w" d="M56.2 195.2h0M125.3 199.6h0M55.6 196.4h0"/>
<path class="h" d="M248.9 178.7h0"/>
<path class="w" d="M125.4 218.9h0M224.2 171.5h0M50.7 223.4h0M278.9 165.3h0M54.4 212.4h0M124.8 202.2h0"/>
<path class="h" d="M188.6 220.2h0"/>
<path class="w" d="M195.6 193.7h0M201.6 215.3h0M55.6 222.8h0M284.7 133.9h0"/>
<path class="h" d="M52.2 130.8h0M193.5 182.8h0"/>
<path class="w" d="M56.7 166.1h0"/>
<path class="h" d="M116.6 197.1h0M119.4 190.4h0"/>
<path class="w" d="M277.2 157.2h0"/>
<path class="h" d="M245.9 168.3h0"/>
<path class="w" d="M58.1 209.0h0M128.7 222.6h0M57.3 197.1h0"/>
<path class="h" d="M253.9 221.5h0"/>
<path class="w" d="M258.6 139.8h0M272.8 180.2h0"/>
<path class="h" d="M114.5 194.3h0M191.9 115.5h0M192.1 212.4h0"/>
<path class="w" d="M190.9 185.8h0M56.8 175.1h0"/>
<path class="h" d="M254.6 204.1h0M187.0 202.7h0M181.2 194.9h0"/>
<path class="w" d="M216.9 91.7h0M256.8 219.4h0M216.5 176.1h0"/>
<path class="h" d="M55.6 223.3h0"/>
<path class="w" d="M279.8 178.2h0M123.1 179.4h0M64.6 219.8h0M51.4 199.7h0M124.3 186.5h0"/>
<path class="h" d="M244.1 216.1h0M53.3 185.6h0"/>
<path class="w" d="M53.7 215.9h0"/>
<path class="h" d="M192.0 190.0h0"/>
<path class="w" d="M217.0 74.0h0M218.0 145.3h0M191.5 223.1h0M130.6 222.8h0M214.9 169.7h0"/>
<path class="h" d="M254.5 222.6h0M243.1 197.0h0"/>
<path class="w" d="M53.5 164.4h0"/>
<path class="h" d="M254.6 218.3h0"/>
<path class="w" d="M202.7 209.4h0"/>
<path class="h" d="M51.5 179.9h0M187.1 205.6h0"/>
<path class="w" d="M215.6 79.9h0"/>
<path class="h" d="M250.2 164.4h0M52.3 125.5h0"/>
<path class="w" d="M124.7 200.9h0M277.5 94.4h0"/>
<path class="h" d="M51.4 193.2h0M249.9 141.4h0M251.8 207.9h0"/>
<path class="w" d="M216.1 94.5h0M227.7 123.0h0"/>
<path class="h" d="M53.4 222.8h0"/>
<path class="w" d="M282.4 150.9h0M120.1 183.7h0"/>
<path class="h" d="M50.5 223.4h0M247.3 178.9h0"/>
<path class="w" d="M254.2 198.8h0M220.7 66.1h0M115.5 193.9h0"/>
<path class="h" d="M243.8 157.1h0"/>
<path class="w" d="M287.1 211.0h0M223.5 119.6h0M118.5 198.4h0M129.0 183.0h0M272.4 133.2h0M54.0 198.2h0M52.7 220.2h0M285.4 72.5h0"/>
<path class="w" d="M56.9 221.1h0"/>
<path class="h" d="M185.3 219.9h0"/>
<path class="w" d="M56.5 200.7h0M286.0 167.4h0M215.8 91.4h0M260.9 220.2h0M55.0 209.1h0"/>
<path class="h" d="M191.7 164.0h0"/>
<path class="w" d="M197.6 221.6h0M121.8 222.7h0M206.4 150.1h0M223.1 149.0h0M265.0 214.2h0"/>
<path class="h" d="M250.5 144.9h0M251.4 160.5h0M247.9 221.7h0"/>
<path class="w" d="M65.5 215.8h0M224.8 220.4h0M57.8 219.6h0"/>
<path class="h" d="M115.0 221.1h0M240.9 169.0h0"/>
<path class="w" d="M117.8 193.9h0"/>
<path class="h" d="M117.4 168.2h0M190.6 160.3h0M238.1 172.3h0"/>
<path class="w" d="M126.1 171.6h0M48.7 204.1h0M59.9 221.9h0"/>
<path class="h" d="M184.5 199.1h0M184.2 182.3h0"/>
<path class="w" d="M125.6 219.9h0M270.5 221.9h0M263.3 207.5h0M270.7 50.1h0M213.5 42.7h0M53.5 219.8h0"/>
<path class="h" d="M251.0 185.5h0"/>
<path class="w" d="M54.7 209.9h0M52.8 212.5h0M129.2 208.9h0"/>
<path class="h" d="M202.5 191.5h0"/>
<path class="w" d="M287.8 137.0h0"/>
<path class="h" d="M252.0 142.8h0"/>
<path class="w" d="M121.7 64.4h0"/>
<path class="h" d="M117.1 215.0h0"/>
<path class="w" d="M122.7 194.8h0M56.0 223.3h0M217.9 109.0h0M55.1 201.6h0M53.6 182.0h0M214.9 128.4h0"/>
<path class="h" d="M182.0 192.9h0M116.4 187.3h0"/>
<path class="w" d="M129.1 175.0h0M204.0 216.8h0"/>
<path class="h" d="M193.0 173.8h0"/>
<path class="w" d="M277.9 125.7h0M270.7 219.8h0M123.4 169.7h0M58.6 222.1h0M54.1 218.0h0M269.1 205.9h0M277.8 157.5h0"/>
<path class="h" d="M118.2 123.0h0M53.2 211.0h0"/>
<path class="w" d="M121.0 223.4h0M122.7 223.0h0M289.5 58.8h0M125.3 223.2h0M223.5 52.5h0"/>
<path class="h" d="M188.9 219.9h0M118.9 222.4h0M198.6 111.9h0"/>
<path class="w" d="M125.6 207.7h0M123.2 223.4h0"/>
<path class="h" d="M52.5 222.1h0M247.7 142.2h0M192.0 181.0h0"/>
<path class="w" d="M60.7 220.8h0M216.8 206.1h0M224.9 167.9h0M265.7 222.0h0M216.6 204.3h0M59.5 221.7h0M57.4 189.9h0M222.4 47.9h0"/>
<path class="h" d="M54.1 209.8h0"/>
<path class="w" d="M283.8 175.1h0"/>
<path class="h" d="M192.2 200.9h0M51.6 204.2h0"/>
<path class="w" d="M123.6 128.8h0"/>
<path class="h" d="M246.6 166.7h0"/>
<path class="w" d="M222.9 108.9h0"/>
<path class="h" d="M184.4 185.1h0M117.3 210.6h0"/>
<path class="w" d="M52.9 222.8h0"/>
<path class="h" d="M243.0 210.7h0"/>
<path class="w" d="M125.2 202.0h0M272.5 187.8h0M270.2 138.0h0M56.0 171.5h0M117.7 210.5h0M268.2 173.1h0"/>
<path class="h" d="M194.5 181.7h0M183.3 196.6h0"/>
<path class="w" d="M225.3 195.5h0M56.5 195.8h0M58.6 192.1h0M122.6 222.1h0M256.9 128.1h0"/>
<path class="h" d="M117.6 155.9h0M116.5 223.3h0M49.9 195.6h0M245.7 181.4h0M248.6 208.6h0"/>
<path class="w" d="M59.6 223.2h0"/>
<path class="h" d="M50.3 221.0h0"/>
<path class="w" d="M124.0 217.0h0M122.7 222.1h0"/>
<path class="h" d="M195.4 216.1h0M53.1 208.0h0"/>
<path class="w" d="M124.0 175.2h0M51.7 218.0h0M193.7 193.7h0M213.6 101.1h0M125.7 214.0h0M279.1 174.9h0"/>
<path class="h" d="M192.6 180.9h0"/>
<path class="w" d="M55.8 199.0h0"/>
<path class="h" d="M197.1 171.3h0"/>
<path class="w" d="M287.2 211.6h0M123.9 198.8h0"/>
<path class="h" d="M51.2 223.1h0"/>
<path class="w" d="M55.2 221.8h0"/>
<path class="h" d="M243.9 179.1h0M195.4 187.7h0"/>
<path class="w" d="M272.7 174.8h0M124.5 108.7h0"/>
<path class="h" d="M250.2 181.4h0"/>
<path class="w" d="M280.4 126.9h0"/>
<path class="h" d="M252.9 212.3h0"/>
<path class="w" d="M57.6 223.4h0"/>
<path class="h" d="M248.2 214.7h0M182.7 212.2h0"/>
<path class="w" d="M222.7 168.1h0"/>
<path class="h" d="M199.3 96.0h0M52.2 221.3h0M246.7 197.6h0M192.7 163.1h0"/>
<path class="w" d="M59.4 192.1h0M276.0 124.9h0M271.1 66.0h0"/>
<path class="h" d="M243.0 223.0h0"/>
<path class="w" d="M275.7 105.0h0"/>
<path class="h" d="M190.3 197.4h0"/>
<path class="w" d="M150.0 147.3h0M119.7 189.9h0M54.5 213.8h0M226.1 204.2h0M121.7 223.2h0M270.7 151.1h0M55.5 219.4h0M288.0 55.3h0"/>
<path class="w" d="M121.6 173.8h0"/>
<path class="h" d="M118.4 212.7h0"/>
<path class="w" d="M204.2 156.5h0"/>
<path class="h" d="M251.2 204.9h0"/>
<path class="w" d="M53.9 223.4h0M119.3 223.2h0M56.5 188.2h0"/>
<path class="h" d="M117.9 213.8h0"/>
<path class="w" d="M279.0 160.3h0M127.4 205.0h0"/>
<path class="h" d="M192.1 216.6h0"/>
<path class="w" d="M219.2 42.3h0"/>
<path class="h" d="M245.4 221.3h0"/>
<path class="w" d="M125.7 207.6h0M130.0 203.0h0M120.1 198.7h0M259.7 174.5h0M126.5 195.2h0M121.7 204.2h0"/>
<path class="h" d="M118.3 212.5h0"/>
<path class="w" d="M54.8 218.6h0"/>
<path class="h" d="M116.6 222.7h0M249.9 220.2h0"/>
<path class="w" d="M126.6 215.9h0M210.3 114.3h0M52.8 219.8h0M290.6 145.5h0M284.3 167.6h0M263.3 170.4h0"/>
<path class="h" d="M191.0 195.9h0"/>
<path class="w" d="M121.9 96.8h0"/>
<path class="h" d="M117.2 218.5h0"/>
<path class="w" d="M216.3 152.6h0M124.2 194.4h0M122.9 207.2h0M289.1 217.4h0M286.3 168.9h0M55.3 196.7h0"/>
<path class="h" d="M183.2 223.2h0"/>
<path class="w" d="M56.7 118.9h0"/>
<path class="h" d="M180.2 203.5h0M197.1 142.0h0"/>
<path class="w" d="M52.4 223.3h0M125.9 214.8h0"/>
<path class="h" d="M116.9 163.5h0M252.5 135.4h0"/>
<path class="w" d="M287.5 146.7h0M127.3 222.4h0M54.2 210.9h0M274.8 123.4h0M128.0 197.3h0"/>
<path class="h" d="M196.3 172.6h0"/>
<path class="w" d="M217.3 65.0h0"/>
<path class="h" d="M120.4 85.8h0"/>
<path class="w" d="M216.4 195.0h0M277.0 87.0h0"/>
<path class="h" d="M252.7 216.1h0"/>
<path class="w" d="M269.7 194.5h0"/>
<path class="h" d="M118.6 126.6h0"/>
<path class="w" d="M210.5 170.5h0"/>
<path class="h" d="M241.9 188.4h0M254.2 215.8h0M198.1 172.7h0"/>
<path class="w" d="M126.3 210.6h0"/>
<path class="h" d="M119.4 152.8h0"/>
<path class="w" d="M211.9 183.9h0M126.7 223.4h0M265.1 215.4h0"/>
<path class="h" d="M50.9 189.4h0"/>
<path class="w" d="M59.7 217.6h0M53.7 216.3h0M126.6 218.4h0"/>
<path class="h" d="M121.8 107.5h0"/>
<path class="w" d="M264.4 217.0h0"/>
<path class="h" d="M119.6 193.6h0M181.3 209.0h0"/>
<path class="w" d="M119.5 136.3h0M280.6 101.6h0"/>
<path class="h" d="M249.1 177.0h0M188.5 148.6h0"/>
<path class="w" d="M134.6 189.4h0"/>
<path class="h" d="M246.2 218.4h0"/>
<path class="w" d="M224.7 69.6h0M127.7 218.2h0M202.4 152.1h0"/>
<path class="h" d="M192.0 171.8h0M198.7 177.5h0"/>
<path class="w" d="M227.3 200.4h0M51.2 206.0h0M222.9 102.5h0M260.2 126.4h0"/>
<path class="h" d="M189.3 193.3h0"/>
<path class="w" d="M54.8 205.3h0M268.3 135.9h0M54.7 193.8h0M274.1 93.5h0"/>
<path class="h" d="M116.1 151.0h0"/>
<path class="w" d="M58.4 201.8h0"/>
<path class="h" d="M189.2 162.3h0"/>
<path class="w" d="M287.8 195.7h0M264.2 138.4h0"/>
<path class="h" d="M117.6 201.4h0"/>
<path class="w" d="M55.4 155.5h0M127.0 217.8h0"/>
<path class="h" d="M189.5 116.9h0"/>
<path class="w" d="M125.3 187.3h0M54.3 198.3h0M56.7 221.5h0M264.3 148.6h0M215.1 134.8h0M284.1 140.0h0M58.9 191.9h0"/>
<path class="h" d="M193.2 187.0h0M51.6 220.2h0"/>
<path class="w" d="M215.7 87.4h0"/>
<path class="h" d="M244.5 145.0h0"/>
<path class="w" d="M130.7 209.1h0M120.4 215.4h0M57.8 215.5h0M55.2 189.4h0M126.9 220.8h0"/>
<path class="h" d="M55.5 210.7h0"/>
<path class="w" d="M273.8 90.7h0M57.0 197.1h0"/>
<path class="h" d="M188.9 215.6h0"/>
<path class="w" d="M143.0 94.8h0M219.4 211.4h0M216.4 99.5h0M192.7 189.2h0M193.2 141.3h0M128.3 110.0h0M123.0 86.2h0M59.5 222.8h0"/>
<path class="h" d="M50.7 127.0h0M49.9 185.7h0"/>
<path class="w" d="M54.1 191.8h0M126.3 214.6h0"/>
<path class="h" d="M118.2 196.7h0"/>
<path class="w" d="M123.7 212.7h0"/>
<path class="h" d="M193.7 214.1h0"/>
<path class="w" d="M211.6 44.3h0M115.1 174.6h0"/>
<path class="h" d="M54.3 196.9h0M177.8 190.7h0"/>
<path class="w" d="M122.8 223.0h0M287.3 47.9h0"/>
<path class="h" d="M118.0 182.5h0M70.2 214.3h0M177.5 72.5h0"/>
<path class="w" d="M59.5 220.4h0M140.0 107.2h0"/>
<path class="h" d="M119.7 131.4h0"/>
<path class="w" d="M227.3 108.5h0M267.3 164.9h0"/>
<path class="h" d="M246.6 222.2h0M254.0 202.1h0"/>
<path class="w" d="M290.6 220.3h0"/>
<path class="h" d="M50.5 217.9h0"/>
<path class="w" d="M127.5 205.2h0"/>
<path class="h" d="M54.8 196.8h0"/>
<path class="w" d="M199.6 189.7h0M118.9 219.5h0"/>
<path class="h" d="M253.6 221.1h0"/>
<path class="w" d="M215.1 61.6h0M62.5 205.2h0"/>
<path class="h" d="M189.7 186.7h0"/>
<path class="w" d="M269.9 110.0h0M217.7 156.7h0M218.7 212.7h0M290.6 155.2h0"/>
<path class="h" d="M188.4 216.3h0"/>
<path class="w" d="M226.1 220.0h0"/>
<path class="h" d="M183.9 210.8h0"/>
<path class="w" d="M124.6 198.6h0M223.2 211.9h0M283.4 125.1h0"/>
<path class="h" d="M253.4 161.8h0"/>
<path class="w" d="M126.6 203.1h0"/>
<path class="h" d="M247.7 145.4h0M191.6 190.1h0M53.1 207.1h0"/>
<path class="w" d="M221.1 164.2h0M273.9 159.1h0"/>
<path class="h" d="M197.7 115.5h0"/>
<path class="w" d="M55.3 132.1h0"/>
<path class="h" d="M48.2 216.5h0"/>
<path class="w" d="M223.8 129.2h0M266.8 216.1h0"/>
<path class="h" d="M185.4 211.5h0"/>
<path class="w" d="M225.0 217.4h0M213.7 43.7h0M277.7 178.3h0M121.6 200.2h0M289.9 208.6h0"/>
<path class="h" d="M117.4 222.3h0M49.7 184.1h0"/>
<path class="w" d="M124.2 168.1h0M194.0 190.8h0"/>
<path class="h" d="M185.1 179.4h0"/>
<path class="w" d="M220.9 107.4h0M122.3 217.2h0"/>
<path class="h" d="M250.9 190.1h0"/>
<path class="w" d="M119.3 220.8h0"/>
<path class="h" d="M192.5 126.6h0"/>
<path class="w" d="M58.1 221.9h0M122.3 208.2h0M128.4 219.6h0M202.6 169.2h0M227.2 192.9h0M193.7 138.4h0M223.7 165.6h0M51.8 221.6h0"/>
<path class="h" d="M247.1 162.4h0"/>
<path class="w" d="M144.5 199.6h0"/>
<path class="h" d="M183.2 169.9h0"/>
<path class="w" d="M57.7 223.1h0"/>
<path class="h" d="M179.1 179.2h0"/>
<path class="w" d="M290.6 164.9h0M59.8 198.9h0M288.4 175.6h0"/>
<path class="h" d="M181.8 182.5h0M245.5 200.4h0M116.4 221.9h0M196.7 174.9h0"/>
<path class="w" d="M122.4 208.6h0M56.2 220.9h0M119.2 200.9h0M123.5 204.6h0M122.3 192.8h0M201.1 131.9h0M54.6 219.7h0M272.8 83.5h0"/>
<path class="h" d="M192.5 193.1h0"/>
<path class="w" d="M261.3 217.8h0"/>
<path class="h" d="M248.0 189.6h0"/>
<path class="w" d="M221.0 107.0h0"/>
<path class="h" d="M244.7 196.8h0"/>
<path class="w" d="M121.4 54.5h0"/>
<path class="h" d="M187.7 217.1h0M51.5 185.9h0"/>
<path class="w" d="M125.7 159.8h0"/>
<path class="h" d="M190.0 193.5h0M246.6 209.2h0"/>
<path class="w" d="M258.2 213.6h0M216.3 193.4h0M203.8 155.2h0M128.9 200.3h0M119.2 223.1h0"/>
<path class="h" d="M251.1 184.8h0"/>
<path class="w" d="M280.0 141.6h0M53.2 215.3h0M205.5 116.5h0M261.6 222.6h0M51.4 204.6h0"/>
<path class="h" d="M191.0 195.0h0"/>
<path class="w" d="M124.4 215.8h0"/>
<path class="h" d="M116.4 210.2h0M189.4 192.1h0M250.2 147.0h0"/>
<path class="w" d="M125.8 223.4h0M57.8 202.4h0"/>
<path class="h" d="M192.6 213.8h0"/>
<path class="w" d="M211.6 147.8h0M259.1 221.2h0M52.7 219.6h0M125.7 189.9h0M154.2 151.0h0M205.5 207.1h0M211.5 171.6h0"/>
<path class="h" d="M117.6 55.0h0M185.7 186.9h0"/>
<path class="w" d="M206.7 188.2h0M57.1 190.0h0M125.1 217.0h0M214.9 204.9h0M56.7 212.9h0"/>
<path class="h" d="M50.5 211.5h0"/>
<path class="w" d="M123.7 223.4h0M57.3 223.2h0M132.9 202.5h0M56.4 194.0h0M220.2 44.2h0M56.4 174.4h0"/>
<path class="h" d="M189.4 195.7h0M248.0 162.1h0M191.1 217.2h0"/>
<path class="w" d="M124.0 187.7h0M125.3 217.1h0M125.7 205.7h0"/>
<path class="h" d="M194.2 62.2h0"/>
<path class="w" d="M59.3 178.2h0M124.4 192.5h0"/>
<path class="h" d="M119.2 205.4h0"/>
<path class="w" d="M130.7 177.1h0M126.7 182.4h0"/>
<path class="h" d="M247.4 180.8h0"/>
<path class="w" d="M54.7 190.8h0"/>
<path class="h" d="M120.0 205.7h0"/>
<path class="w" d="M121.1 222.5h0"/>
<path class="h" d="M194.0 110.2h0"/>
<path class="w" d="M262.8 212.9h0M55.3 207.2h0"/>
<path class="h" d="M184.1 176.9h0"/>
<path class="w" d="M274.7 97.1h0"/>
<path class="h" d="M251.1 171.3h0"/>
<path class="w" d="M129.0 211.4h0"/>
<path class="h" d="M119.3 181.4h0M251.0 223.3h0"/>
<path class="w" d="M54.4 180.0h0M55.6 212.3h0"/>
<path class="h" d="M254.5 128.3h0"/>
<path class="w" d="M55.2 201.1h0M56.9 219.5h0M130.4 191.5h0M121.1 140.6h0M273.9 125.2h0M125.3 161.1h0"/>
<path class="h" d="M248.2 205.2h0M184.4 189.2h0M117.3 213.7h0M184.2 172.3h0"/>
<path class="w" d="M217.5 199.5h0M119.6 215.3h0"/>
<path class="h" d="M118.1 197.6h0"/>
<path class="w" d="M53.5 222.0h0M213.5 42.4h0"/>
<path class="h" d="M54.4 206.2h0M245.4 217.1h0"/>
<path class="w" d="M220.4 100.2h0"/>
<path class="h" d="M247.8 209.2h0"/>
<path class="w" d="M194.4 149.8h0"/>
<path class="h" d="M175.7 201.5h0"/>
<path class="w" d="M210.3 102.9h0M210.9 43.2h0"/>
<path class="h" d="M246.5 198.2h0M190.2 208.2h0M253.4 152.7h0M192.8 168.5h0"/>
<path class="w" d="M216.9 211.0h0M54.3 176.9h0"/>
<path class="h" d="M252.4 166.6h0"/>
<path class="w" d="M213.4 116.7h0"/>
<path class="h" d="M116.2 214.6h0"/>
<path class="w" d="M271.0 152.0h0M127.3 209.8h0"/>
<path class="h" d="M250.8 163.6h0"/>
<path class="w" d="M212.9 49.2h0"/>
<path class="h" d="M244.6 129.8h0M51.3 149.3h0"/>
<path class="w" d="M261.5 146.2h0"/>
<path class="h" d="M251.9 221.2h0"/>
<path class="w" d="M285.1 45.5h0"/>
<path class="h" d="M250.4 193.0h0M184.5 174.6h0"/>
<path class="w" d="M214.5 111.0h0"/>
<path class="h" d="M51.9 201.7h0"/>
<path class="w" d="M54.9 222.4h0M57.4 158.5h0M225.8 105.8h0M192.9 112.0h0"/>
<path class="h" d="M118.8 149.2h0M251.6 206.8h0"/>
<path class="w" d="M121.3 219.0h0M221.2 92.5h0"/>
<path class="h" d="M116.9 180.8h0"/>
<path class="w" d="M57.3 208.0h0M226.4 184.5h0M52.7 192.5h0M265.0 219.2h0M57.1 190.4h0M212.2 192.0h0M207.0 145.4h0"/>
<path class="h" d="M252.5 218.0h0"/>
<path class="w" d="M269.2 143.2h0M119.9 203.3h0M216.5 53.4h0M119.5 210.3h0M218.8 58.9h0M218.7 130.2h0M197.4 186.3h0"/>
<path class="h" d="M188.3 208.9h0"/>
<path class="w" d="M122.4 223.4h0"/>
<path class="h" d="M72.3 220.7h0M257.1 162.3h0"/>
<path class="w" d="M280.5 154.8h0M192.7 131.7h0M272.6 126.2h0"/>
<path class="h" d="M249.0 223.2h0"/>
<path class="w" d="M258.2 221.1h0"/>
<path class="h" d="M183.1 223.2h0"/>
<path class="w" d="M53.2 223.3h0M283.7 60.0h0M55.2 200.3h0"/>
<path class="h" d="M190.3 201.8h0M202.6 133.4h0"/>
<path class="w" d="M118.4 197.7h0"/>
<path class="h" d="M53.2 184.9h0"/>
<path class="w" d="M127.6 106.1h0"/>
<path class="h" d="M178.0 212.4h0M195.4 204.2h0M118.4 189.0h0M52.2 207.4h0"/>
<path class="w" d="M56.6 193.7h0"/>
<path class="h" d="M177.6 219.8h0"/>
<path class="w" d="M206.4 109.0h0M59.3 223.2h0M261.2 214.1h0M52.9 203.7h0M262.0 214.9h0M57.2 220.0h0M57.4 207.0h0M55.7 214.3h0"/>
<path class="h" d="M189.9 172.6h0"/>
<path class="w" d="M118.8 189.6h0M204.0 97.3h0M216.0 84.8h0M119.6 200.0h0M54.3 189.3h0M56.1 210.1h0M223.5 136.9h0M259.5 191.6h0"/>
<path class="h" d="M52.3 207.2h0"/>
<path class="w" d="M115.9 109.8h0M224.1 151.7h0M208.8 51.7h0"/>
<path class="h" d="M116.5 218.9h0M181.9 197.0h0M195.7 222.8h0M252.8 185.4h0"/>
<path class="w" d="M123.2 218.3h0"/>
<path class="h" d="M118.0 221.9h0M199.5 182.8h0"/>
<path class="w" d="M258.0 210.7h0M274.8 140.8h0M278.9 182.4h0M127.0 89.3h0"/>
<path class="h" d="M191.9 214.9h0M188.1 222.4h0"/>
<path class="w" d="M282.5 214.7h0M277.7 110.2h0M275.4 199.4h0M123.6 170.8h0M204.9 208.4h0M264.0 161.4h0M196.8 119.8h0"/>
<path class="h" d="M251.2 217.1h0"/>
<path class="w" d="M123.6 221.1h0M57.4 152.0h0"/>
<path class="h" d="M117.4 213.5h0M241.6 203.3h0M189.6 197.2h0"/>
<path class="w" d="M91.4 96.6h0M120.5 190.1h0"/>
<path class="h" d="M50.9 221.4h0"/>
<path class="w" d="M123.2 151.0h0M54.3 211.2h0"/>
<path class="h" d="M52.9 217.5h0M245.8 164.8h0"/>
<path class="w" d="M275.9 45.6h0M56.9 202.4h0"/>
<path class="h" d="M187.4 204.5h0"/>
<path class="w" d="M282.3 215.7h0"/>
<path class="h" d="M118.6 202.6h0M118.6 174.2h0"/>
<path class="w" d="M58.6 221.0h0M53.9 182.7h0M54.3 201.3h0"/>
<path class="h" d="M190.5 223.2h0M180.6 191.5h0"/>
<path class="w" d="M214.4 91.7h0M220.8 64.6h0"/>
<path class="h" d="M118.9 163.9h0"/>
<path class="w" d="M53.7 211.5h0"/>
<path class="h" d="M188.5 199.5h0"/>
<path class="w" d="M213.0 67.5h0"/>
<path class="h" d="M194.2 222.0h0"/>
<path class="w" d="M54.1 221.2h0"/>
<path class="h" d="M53.4 201.7h0M117.5 206.2h0M186.1 186.0h0"/>
<path class="w" d="M205.3 178.2h0M260.1 215.9h0"/>
<path class="h" d="M253.5 217.3h0M241.4 220.4h0"/>
<path class="w" d="M56.1 223.4h0"/>
<path class="h" d="M254.4 222.6h0M51.3 222.5h0"/>
<path class="w" d="M227.3 101.3h0"/>
<path class="h" d="M249.8 211.2h0"/>
<path class="w" d="M127.3 175.7h0"/>
<path class="h" d="M257.4 42.3h0"/>
<path class="w" d="M213.4 46.4h0M118.7 223.2h0M218.9 159.0h0"/>
<path class="h" d="M241.6 214.1h0"/>
<path class="w" d="M215.1 44.5h0M120.6 208.5h0M271.6 168.1h0"/>
<path class="h" d="M184.4 205.9h0"/>
<path class="w" d="M227.7 162.6h0M119.6 217.6h0"/>
<path class="h" d="M117.2 173.4h0"/>
<path class="w" d="M54.5 222.8h0M221.5 80.0h0M127.7 212.9h0M58.2 208.4h0M54.0 202.9h0M260.5 212.1h0M217.1 102.9h0M125.5 208.3h0"/>
<path class="w" d="M257.2 222.5h0M124.6 206.9h0M261.7 146.8h0M221.7 110.5h0M55.2 217.3h0M222.7 183.1h0M54.4 190.9h0M220.9 60.3h0"/>
<path class="w" d="M58.6 209.2h0M123.1 221.0h0M271.4 219.8h0M50.2 209.2h0"/>
<path class="h" d="M115.1 214.4h0"/>
<path class="w" d="M125.2 222.9h0"/>
</g>
<line x1="45.5" y1="33.7" x2="45.5" y2="233.1" stroke="#222" stroke-width="1.1"/>
<text x="35.68" y="226.30" font-size="10.5" fill="#4D4D4D" stroke="#4D4D4D" stroke-width="0.25" textLength="6.65" lengthAdjust="spacingAndGlyphs">0</text>
<line x1="43.0" y1="223.4" x2="45.5" y2="223.4" stroke="#333" stroke-width="0.9"/>
<text x="29.73" y="181.03" font-size="10.5" fill="#4D4D4D" stroke="#4D4D4D" stroke-width="0.25" textLength="12.65" lengthAdjust="spacingAndGlyphs">25</text>
<line x1="43.0" y1="178.1" x2="45.5" y2="178.1" stroke="#333" stroke-width="0.9"/>
<text x="29.85" y="135.75" font-size="10.5" fill="#4D4D4D" stroke="#4D4D4D" stroke-width="0.25" textLength="12.47" lengthAdjust="spacingAndGlyphs">50</text>
<line x1="43.0" y1="132.8" x2="45.5" y2="132.8" stroke="#333" stroke-width="0.9"/>
<text x="29.73" y="90.47" font-size="10.5" fill="#4D4D4D" stroke="#4D4D4D" stroke-width="0.25" textLength="12.65" lengthAdjust="spacingAndGlyphs">75</text>
<line x1="43.0" y1="87.6" x2="45.5" y2="87.6" stroke="#333" stroke-width="0.9"/>
<text x="23.98" y="45.20" font-size="10.5" fill="#4D4D4D" stroke="#4D4D4D" stroke-width="0.25" textLength="18.35" lengthAdjust="spacingAndGlyphs">100</text>
<line x1="43.0" y1="42.3" x2="45.5" y2="42.3" stroke="#333" stroke-width="0.9"/>
<text x="0" y="0" font-size="11.2" stroke="#000" stroke-width="0.25" textLength="128.30" lengthAdjust="spacingAndGlyphs" transform="translate(21.30 183.92) rotate(-90)">Percentage expresisng cells</text>
<line x1="45.3" y1="233.1" x2="103.9" y2="233.1" stroke="#222" stroke-width="1.1"/>
<text x="71.82" y="31.35" font-size="10.2" stroke="#000" stroke-width="0.25" textLength="9.77" lengthAdjust="spacingAndGlyphs">t0</text>
<line x1="53.3" y1="233.1" x2="53.3" y2="235.4" stroke="#333" stroke-width="0.9"/>
<text x="45.82" y="244.60" font-size="10" fill="#4D4D4D" stroke="#4D4D4D" stroke-width="0.25" textLength="12.05" lengthAdjust="spacingAndGlyphs">−1</text>
<line x1="67.4" y1="233.1" x2="67.4" y2="235.4" stroke="#333" stroke-width="0.9"/>
<text x="64.30" y="244.60" font-size="10" fill="#4D4D4D" stroke="#4D4D4D" stroke-width="0.25" textLength="6.31" lengthAdjust="spacingAndGlyphs">0</text>
<line x1="81.5" y1="233.1" x2="81.5" y2="235.4" stroke="#333" stroke-width="0.9"/>
<text x="78.08" y="244.60" font-size="10" fill="#4D4D4D" stroke="#4D4D4D" stroke-width="0.25" textLength="5.37" lengthAdjust="spacingAndGlyphs">1</text>
<line x1="95.6" y1="233.1" x2="95.6" y2="235.4" stroke="#333" stroke-width="0.9"/>
<text x="92.30" y="244.60" font-size="10" fill="#4D4D4D" stroke="#4D4D4D" stroke-width="0.25" textLength="6.65" lengthAdjust="spacingAndGlyphs">2</text>
<line x1="108.2" y1="233.1" x2="166.8" y2="233.1" stroke="#222" stroke-width="1.1"/>
<text x="132.52" y="31.35" font-size="10.2" stroke="#000" stroke-width="0.25" textLength="16.24" lengthAdjust="spacingAndGlyphs">t05</text>
<line x1="116.2" y1="233.1" x2="116.2" y2="235.4" stroke="#333" stroke-width="0.9"/>
<text x="108.69" y="244.60" font-size="10" fill="#4D4D4D" stroke="#4D4D4D" stroke-width="0.25" textLength="12.05" lengthAdjust="spacingAndGlyphs">−1</text>
<line x1="130.3" y1="233.1" x2="130.3" y2="235.4" stroke="#333" stroke-width="0.9"/>
<text x="127.17" y="244.60" font-size="10" fill="#4D4D4D" stroke="#4D4D4D" stroke-width="0.25" textLength="6.31" lengthAdjust="spacingAndGlyphs">0</text>
<line x1="144.4" y1="233.1" x2="144.4" y2="235.4" stroke="#333" stroke-width="0.9"/>
<text x="140.95" y="244.60" font-size="10" fill="#4D4D4D" stroke="#4D4D4D" stroke-width="0.25" textLength="5.37" lengthAdjust="spacingAndGlyphs">1</text>
<line x1="158.5" y1="233.1" x2="158.5" y2="235.4" stroke="#333" stroke-width="0.9"/>
<text x="155.17" y="244.60" font-size="10" fill="#4D4D4D" stroke="#4D4D4D" stroke-width="0.25" textLength="6.65" lengthAdjust="spacingAndGlyphs">2</text>
<line x1="171.0" y1="233.1" x2="229.6" y2="233.1" stroke="#222" stroke-width="1.1"/>
<text x="195.39" y="31.35" font-size="10.2" stroke="#000" stroke-width="0.25" textLength="16.24" lengthAdjust="spacingAndGlyphs">t15</text>
<line x1="179.0" y1="233.1" x2="179.0" y2="235.4" stroke="#333" stroke-width="0.9"/>
<text x="171.56" y="244.60" font-size="10" fill="#4D4D4D" stroke="#4D4D4D" stroke-width="0.25" textLength="12.05" lengthAdjust="spacingAndGlyphs">−1</text>
<line x1="193.1" y1="233.1" x2="193.1" y2="235.4" stroke="#333" stroke-width="0.9"/>
<text x="190.04" y="244.60" font-size="10" fill="#4D4D4D" stroke="#4D4D4D" stroke-width="0.25" textLength="6.31" lengthAdjust="spacingAndGlyphs">0</text>
<line x1="207.2" y1="233.1" x2="207.2" y2="235.4" stroke="#333" stroke-width="0.9"/>
<text x="203.82" y="244.60" font-size="10" fill="#4D4D4D" stroke="#4D4D4D" stroke-width="0.25" textLength="5.37" lengthAdjust="spacingAndGlyphs">1</text>
<line x1="221.3" y1="233.1" x2="221.3" y2="235.4" stroke="#333" stroke-width="0.9"/>
<text x="218.04" y="244.60" font-size="10" fill="#4D4D4D" stroke="#4D4D4D" stroke-width="0.25" textLength="6.65" lengthAdjust="spacingAndGlyphs">2</text>
<line x1="233.9" y1="233.1" x2="292.5" y2="233.1" stroke="#222" stroke-width="1.1"/>
<text x="258.27" y="31.35" font-size="10.2" stroke="#000" stroke-width="0.25" textLength="16.18" lengthAdjust="spacingAndGlyphs">t30</text>
<line x1="241.9" y1="233.1" x2="241.9" y2="235.4" stroke="#333" stroke-width="0.9"/>
<text x="234.43" y="244.60" font-size="10" fill="#4D4D4D" stroke="#4D4D4D" stroke-width="0.25" textLength="12.05" lengthAdjust="spacingAndGlyphs">−1</text>
<line x1="256.0" y1="233.1" x2="256.0" y2="235.4" stroke="#333" stroke-width="0.9"/>
<text x="252.91" y="244.60" font-size="10" fill="#4D4D4D" stroke="#4D4D4D" stroke-width="0.25" textLength="6.31" lengthAdjust="spacingAndGlyphs">0</text>
<line x1="270.1" y1="233.1" x2="270.1" y2="235.4" stroke="#333" stroke-width="0.9"/>
<text x="266.69" y="244.60" font-size="10" fill="#4D4D4D" stroke="#4D4D4D" stroke-width="0.25" textLength="5.37" lengthAdjust="spacingAndGlyphs">1</text>
<line x1="284.2" y1="233.1" x2="284.2" y2="235.4" stroke="#333" stroke-width="0.9"/>
<text x="280.91" y="244.60" font-size="10" fill="#4D4D4D" stroke="#4D4D4D" stroke-width="0.25" textLength="6.65" lengthAdjust="spacingAndGlyphs">2</text>
<text x="35.43" y="256.60" font-size="11.2" stroke="#000" stroke-width="0.25" textLength="244.02" lengthAdjust="spacingAndGlyphs">Scaled average expression induced osmoconsensus</text>
<text x="303.74" y="101.80" font-size="11.2" stroke="#000" stroke-width="0.25" textLength="46.91" lengthAdjust="spacingAndGlyphs">genotype</text>
<circle cx="309" cy="113.2" r="2.1" fill="#F8766D" fill-opacity="0.85"/>
<circle cx="309" cy="125.7" r="2.1" fill="#00BFC4" fill-opacity="0.85"/>
<text x="320.40" y="115.60" font-size="10.8" stroke="#000" stroke-width="0.25" textLength="17.72" lengthAdjust="spacingAndGlyphs">WT</text>
<text x="320.26" y="127.90" font-size="10.8" font-style="italic" stroke="#000" stroke-width="0.25" textLength="20.99" lengthAdjust="spacingAndGlyphs">hog1</text>
<text x="349.44" y="9.80" font-size="13.5" font-weight="bold" stroke="#000" stroke-width="0.25" textLength="9.92" lengthAdjust="spacingAndGlyphs">b</text>
<text x="455.70" y="19.45" font-size="11.2" stroke="#000" stroke-width="0.25" textLength="30.85" lengthAdjust="spacingAndGlyphs">WT t0</text>
<text x="565.10" y="19.45" font-size="11.2" stroke="#000" stroke-width="0.25" textLength="37.56" lengthAdjust="spacingAndGlyphs">WT t15</text>
<rect x="418.4" y="26.6" width="49.7" height="1.1" fill="#f4a59e"/>
<rect x="418.4" y="27.6" width="57.6" height="1.1" fill="#fadcd8"/>
<rect x="418.4" y="28.7" width="56.6" height="1.1" fill="#f4a59e"/>
<rect x="418.4" y="29.7" width="58.6" height="1.1" fill="#f39a92"/>
<rect x="418.4" y="30.7" width="55.5" height="1.1" fill="#f7bdb7"/>
<rect x="418.4" y="31.8" width="52.5" height="1.1" fill="#fadcd8"/>
<rect x="418.4" y="32.8" width="51.5" height="1.1" fill="#f6b3ad"/>
<rect x="418.4" y="33.8" width="54.5" height="1.1" fill="#f7bdb7"/>
<rect x="418.4" y="34.8" width="50.5" height="1.1" fill="#f39a92"/>
<rect x="418.4" y="35.9" width="30.1" height="1.1" fill="#f9cbc6"/>
<rect x="418.4" y="36.9" width="53.5" height="1.1" fill="#f4a59e"/>
<rect x="418.4" y="37.9" width="13.8" height="1.1" fill="#f39a92"/>
<rect x="418.4" y="39.0" width="33.3" height="1.1" fill="#f4a59e"/>
<rect x="418.4" y="40.0" width="8.3" height="1.1" fill="#f39a92"/>
<rect x="418.4" y="41.0" width="17.1" height="1.1" fill="#f7bdb7"/>
<rect x="418.4" y="42.1" width="17.4" height="1.1" fill="#f39a92"/>
<rect x="418.4" y="43.1" width="42.4" height="1.1" fill="#f9cbc6"/>
<rect x="418.4" y="44.1" width="4.8" height="1.1" fill="#f6b3ad"/>
<rect x="418.4" y="45.2" width="24.2" height="1.1" fill="#f4a59e"/>
<rect x="418.4" y="46.2" width="21.0" height="1.1" fill="#f9cbc6"/>
<rect x="418.4" y="47.2" width="2.7" height="1.1" fill="#f6b3ad"/>
<rect x="418.4" y="48.3" width="38.4" height="1.1" fill="#fadcd8"/>
<rect x="418.4" y="49.3" width="15.0" height="1.1" fill="#fadcd8"/>
<rect x="418.4" y="50.3" width="32.3" height="1.1" fill="#f4a59e"/>
<rect x="418.4" y="51.3" width="31.1" height="1.1" fill="#fadcd8"/>
<rect x="418.4" y="52.4" width="19.7" height="1.1" fill="#f6b3ad"/>
<rect x="418.4" y="53.4" width="15.5" height="1.1" fill="#f39a92"/>
<rect x="418.4" y="54.4" width="13.9" height="1.1" fill="#f7bdb7"/>
<rect x="418.4" y="55.5" width="12.7" height="1.1" fill="#f6b3ad"/>
<rect x="418.4" y="56.5" width="7.3" height="1.1" fill="#f9cbc6"/>
<rect x="418.4" y="57.5" width="9.4" height="1.1" fill="#fadcd8"/>
<rect x="418.4" y="58.6" width="8.7" height="1.1" fill="#f4a59e"/>
<rect x="418.4" y="59.6" width="7.6" height="1.1" fill="#f7bdb7"/>
<rect x="418.4" y="60.6" width="22.2" height="1.1" fill="#f6b3ad"/>
<rect x="418.4" y="61.7" width="5.5" height="1.1" fill="#fadcd8"/>
<rect x="418.4" y="62.7" width="6.7" height="1.1" fill="#f4a59e"/>
<rect x="418.4" y="63.7" width="3.6" height="1.1" fill="#f9cbc6"/>
<rect x="418.4" y="64.7" width="6.8" height="1.1" fill="#f7bdb7"/>
<rect x="418.4" y="65.8" width="19.2" height="1.1" fill="#f39a92"/>
<rect x="418.4" y="66.8" width="6.9" height="1.1" fill="#f7bdb7"/>
<rect x="418.4" y="67.8" width="15.3" height="1.1" fill="#f39a92"/>
<rect x="418.4" y="68.9" width="2.3" height="1.1" fill="#f6b3ad"/>
<rect x="418.4" y="69.9" width="20.5" height="1.1" fill="#f39a92"/>
<rect x="418.4" y="70.9" width="15.1" height="1.1" fill="#f4a59e"/>
<rect x="418.4" y="72.0" width="11.1" height="1.1" fill="#f7bdb7"/>
<rect x="418.4" y="73.0" width="3.9" height="1.1" fill="#f4a59e"/>
<rect x="418.4" y="74.0" width="5.0" height="1.1" fill="#f39a92"/>
<rect x="418.4" y="75.1" width="6.0" height="1.1" fill="#f39a92"/>
<rect x="418.4" y="76.1" width="1.0" height="1.1" fill="#f4a59e"/>
<rect x="418.4" y="77.1" width="2.8" height="1.1" fill="#f4a59e"/>
<rect x="418.4" y="78.2" width="4.3" height="1.1" fill="#f6b3ad"/>
<rect x="418.4" y="79.2" width="7.9" height="1.1" fill="#f9cbc6"/>
<rect x="418.4" y="80.2" width="3.7" height="1.1" fill="#f6b3ad"/>
<rect x="418.4" y="81.2" width="5.9" height="1.1" fill="#f6b3ad"/>
<rect x="418.4" y="82.3" width="4.1" height="1.1" fill="#f7bdb7"/>
<rect x="418.4" y="83.3" width="6.5" height="1.1" fill="#f9cbc6"/>
<rect x="418.4" y="84.3" width="26.4" height="1.1" fill="#f6b3ad"/>
<rect x="418.4" y="85.4" width="70.7" height="1.1" fill="#f9cbc6"/>
<rect x="418.4" y="86.4" width="17.0" height="1.1" fill="#f7bdb7"/>
<rect x="418.4" y="87.4" width="29.4" height="1.1" fill="#f9cbc6"/>
<rect x="418.4" y="88.5" width="12.1" height="1.1" fill="#f4a59e"/>
<rect x="418.4" y="89.5" width="5.5" height="1.1" fill="#f7bdb7"/>
<rect x="418.4" y="90.5" width="1.6" height="1.1" fill="#f9cbc6"/>
<rect x="418.4" y="91.6" width="7.0" height="1.1" fill="#f4a59e"/>
<rect x="418.4" y="92.6" width="10.2" height="1.1" fill="#f4a59e"/>
<rect x="418.4" y="93.6" width="10.4" height="1.1" fill="#f4a59e"/>
<rect x="418.4" y="94.6" width="23.2" height="1.1" fill="#fadcd8"/>
<rect x="418.4" y="95.7" width="9.3" height="1.1" fill="#fadcd8"/>
<rect x="418.4" y="96.7" width="8.4" height="1.1" fill="#f7bdb7"/>
<rect x="418.4" y="97.7" width="6.2" height="1.1" fill="#f9cbc6"/>
<rect x="418.4" y="98.8" width="4.5" height="1.1" fill="#f4a59e"/>
<rect x="418.4" y="99.8" width="6.7" height="1.1" fill="#fadcd8"/>
<rect x="418.4" y="100.8" width="3.1" height="1.1" fill="#f7bdb7"/>
<rect x="418.4" y="101.9" width="1.0" height="1.1" fill="#f9cbc6"/>
<rect x="418.4" y="102.9" width="3.8" height="1.1" fill="#f39a92"/>
<rect x="418.4" y="103.9" width="1.0" height="1.1" fill="#fadcd8"/>
<rect x="418.4" y="105.0" width="7.0" height="1.1" fill="#f7bdb7"/>
<rect x="418.4" y="106.0" width="4.8" height="1.1" fill="#f6b3ad"/>
<rect x="418.4" y="107.0" width="1.1" height="1.1" fill="#f6b3ad"/>
<rect x="418.4" y="108.0" width="5.6" height="1.1" fill="#f7bdb7"/>
<rect x="418.4" y="109.1" width="5.3" height="1.1" fill="#f4a59e"/>
<rect x="418.4" y="110.1" width="1.1" height="1.1" fill="#fadcd8"/>
<rect x="418.4" y="111.1" width="6.8" height="1.1" fill="#f7bdb7"/>
<rect x="418.4" y="112.2" width="4.2" height="1.1" fill="#f9cbc6"/>
<rect x="418.4" y="113.2" width="1.0" height="1.1" fill="#f6b3ad"/>
<rect x="418.4" y="114.2" width="6.4" height="1.1" fill="#fadcd8"/>
<rect x="418.4" y="115.3" width="6.6" height="1.1" fill="#f6b3ad"/>
<rect x="418.4" y="116.3" width="2.3" height="1.1" fill="#fadcd8"/>
<rect x="418.4" y="117.3" width="7.5" height="1.1" fill="#f39a92"/>
<rect x="418.4" y="118.4" width="6.6" height="1.1" fill="#f6b3ad"/>
<rect x="418.4" y="119.4" width="5.0" height="1.1" fill="#f6b3ad"/>
<rect x="418.4" y="120.4" width="4.7" height="1.1" fill="#f6b3ad"/>
<rect x="418.4" y="121.5" width="0.9" height="1.1" fill="#f39a92"/>
<rect x="418.4" y="122.5" width="2.6" height="1.1" fill="#f9cbc6"/>
<rect x="418.4" y="123.5" width="6.0" height="1.1" fill="#f4a59e"/>
<rect x="418.4" y="124.5" width="3.0" height="1.1" fill="#fadcd8"/>
<rect x="418.4" y="125.6" width="6.8" height="1.1" fill="#fadcd8"/>
<rect x="418.4" y="126.6" width="0.9" height="1.1" fill="#fadcd8"/>
<rect x="418.4" y="127.6" width="0.9" height="1.1" fill="#f6b3ad"/>
<rect x="418.4" y="128.7" width="2.2" height="1.1" fill="#f9cbc6"/>
<rect x="418.4" y="129.7" width="8.0" height="1.1" fill="#f9cbc6"/>
<rect x="418.4" y="130.7" width="0.9" height="1.1" fill="#f6b3ad"/>
<rect x="418.4" y="131.8" width="7.8" height="1.1" fill="#f9cbc6"/>
<rect x="418.4" y="132.8" width="0.9" height="1.1" fill="#f6b3ad"/>
<rect x="418.4" y="133.8" width="6.0" height="1.1" fill="#f9cbc6"/>
<rect x="418.4" y="134.9" width="0.8" height="1.1" fill="#f4a59e"/>
<rect x="418.4" y="135.9" width="2.0" height="1.1" fill="#f4a59e"/>
<rect x="418.4" y="136.9" width="4.3" height="1.1" fill="#f4a59e"/>
<rect x="418.4" y="137.9" width="3.0" height="1.1" fill="#f9cbc6"/>
<rect x="418.4" y="139.0" width="2.1" height="1.1" fill="#f9cbc6"/>
<rect x="418.4" y="140.0" width="1.3" height="1.1" fill="#f6b3ad"/>
<rect x="418.4" y="141.0" width="2.7" height="1.1" fill="#f6b3ad"/>
<rect x="418.4" y="142.1" width="4.0" height="1.1" fill="#f4a59e"/>
<rect x="418.4" y="143.1" width="0.6" height="1.1" fill="#f9cbc6"/>
<rect x="418.4" y="144.1" width="3.0" height="1.1" fill="#f7bdb7"/>
<rect x="418.4" y="145.2" width="0.7" height="1.1" fill="#f4a59e"/>
<rect x="418.4" y="146.2" width="4.9" height="1.1" fill="#f4a59e"/>
<rect x="418.4" y="147.2" width="2.1" height="1.1" fill="#f4a59e"/>
<rect x="418.4" y="148.3" width="2.8" height="1.1" fill="#f7bdb7"/>
<rect x="418.4" y="149.3" width="4.6" height="1.1" fill="#fadcd8"/>
<rect x="418.4" y="150.3" width="2.0" height="1.1" fill="#fadcd8"/>
<rect x="418.4" y="151.4" width="2.8" height="1.1" fill="#f7bdb7"/>
<rect x="418.4" y="152.4" width="0.7" height="1.1" fill="#f4a59e"/>
<rect x="418.4" y="153.4" width="3.2" height="1.1" fill="#fadcd8"/>
<rect x="418.4" y="154.4" width="2.2" height="1.1" fill="#f6b3ad"/>
<rect x="418.4" y="155.5" width="2.1" height="1.1" fill="#f6b3ad"/>
<rect x="418.4" y="156.5" width="2.3" height="1.1" fill="#f9cbc6"/>
<rect x="418.4" y="157.5" width="0.6" height="1.1" fill="#f39a92"/>
<rect x="418.4" y="158.6" width="2.8" height="1.1" fill="#f7bdb7"/>
<rect x="418.4" y="159.6" width="0.5" height="1.1" fill="#fadcd8"/>
<rect x="418.4" y="160.6" width="2.8" height="1.1" fill="#fadcd8"/>
<rect x="418.4" y="161.7" width="3.8" height="1.1" fill="#f39a92"/>
<rect x="418.4" y="162.7" width="2.9" height="1.1" fill="#f4a59e"/>
<rect x="418.4" y="163.7" width="3.4" height="1.1" fill="#f39a92"/>
<rect x="418.4" y="164.8" width="3.2" height="1.1" fill="#fadcd8"/>
<rect x="418.4" y="165.8" width="1.8" height="1.1" fill="#f4a59e"/>
<rect x="418.4" y="166.8" width="1.1" height="1.1" fill="#f9cbc6"/>
<rect x="418.4" y="167.8" width="3.2" height="1.1" fill="#f9cbc6"/>
<rect x="418.4" y="168.9" width="2.6" height="1.1" fill="#f39a92"/>
<rect x="418.4" y="169.9" width="1.3" height="1.1" fill="#f6b3ad"/>
<rect x="418.4" y="170.9" width="0.4" height="1.1" fill="#f9cbc6"/>
<rect x="418.4" y="172.0" width="1.0" height="1.1" fill="#f9cbc6"/>
<rect x="418.4" y="173.0" width="1.1" height="1.1" fill="#f4a59e"/>
<rect x="418.4" y="174.0" width="3.1" height="1.1" fill="#f9cbc6"/>
<rect x="418.4" y="175.1" width="2.1" height="1.1" fill="#f7bdb7"/>
<rect x="418.4" y="176.1" width="1.5" height="1.1" fill="#f9cbc6"/>
<rect x="418.4" y="177.1" width="1.8" height="1.1" fill="#f39a92"/>
<rect x="418.4" y="178.2" width="1.4" height="1.1" fill="#fadcd8"/>
<rect x="418.4" y="179.2" width="1.2" height="1.1" fill="#f7bdb7"/>
<rect x="418.4" y="180.2" width="0.9" height="1.1" fill="#f7bdb7"/>
<rect x="418.4" y="181.3" width="1.6" height="1.1" fill="#f7bdb7"/>
<rect x="418.4" y="182.3" width="1.9" height="1.1" fill="#f9cbc6"/>
<rect x="418.4" y="183.3" width="2.6" height="1.1" fill="#f6b3ad"/>
<rect x="418.4" y="184.3" width="2.4" height="1.1" fill="#f6b3ad"/>
<rect x="418.4" y="185.4" width="2.4" height="1.1" fill="#f4a59e"/>
<rect x="418.4" y="186.4" width="1.8" height="1.1" fill="#f9cbc6"/>
<rect x="418.4" y="187.4" width="1.2" height="1.1" fill="#f7bdb7"/>
<rect x="418.4" y="188.5" width="1.2" height="1.1" fill="#f7bdb7"/>
<rect x="418.4" y="189.5" width="0.8" height="1.1" fill="#f7bdb7"/>
<rect x="418.4" y="190.5" width="1.0" height="1.1" fill="#f6b3ad"/>
<rect x="418.4" y="191.6" width="0.6" height="1.1" fill="#fadcd8"/>
<rect x="418.4" y="192.6" width="1.3" height="1.1" fill="#f7bdb7"/>
<rect x="418.4" y="193.6" width="2.4" height="1.1" fill="#f39a92"/>
<rect x="418.4" y="194.7" width="1.3" height="1.1" fill="#f4a59e"/>
<rect x="418.4" y="195.7" width="0.7" height="1.1" fill="#f6b3ad"/>
<rect x="418.4" y="196.7" width="1.2" height="1.1" fill="#f9cbc6"/>
<rect x="418.4" y="197.7" width="1.9" height="1.1" fill="#fadcd8"/>
<rect x="418.4" y="198.8" width="1.1" height="1.1" fill="#fadcd8"/>
<rect x="418.4" y="199.8" width="1.7" height="1.1" fill="#fadcd8"/>
<rect x="418.4" y="200.8" width="1.1" height="1.1" fill="#f9cbc6"/>
<rect x="418.4" y="201.9" width="0.3" height="1.1" fill="#f39a92"/>
<rect x="418.4" y="202.9" width="1.5" height="1.1" fill="#fadcd8"/>
<rect x="418.4" y="203.9" width="1.5" height="1.1" fill="#f4a59e"/>
<rect x="418.4" y="205.0" width="1.1" height="1.1" fill="#f39a92"/>
<rect x="418.4" y="206.0" width="0.8" height="1.1" fill="#fadcd8"/>
<rect x="418.4" y="207.0" width="0.3" height="1.1" fill="#f6b3ad"/>
<rect x="418.4" y="208.1" width="1.3" height="1.1" fill="#f7bdb7"/>
<rect x="418.4" y="209.1" width="1.4" height="1.1" fill="#f6b3ad"/>
<rect x="418.4" y="210.1" width="1.1" height="1.1" fill="#f7bdb7"/>
<rect x="418.4" y="211.1" width="0.6" height="1.1" fill="#fadcd8"/>
<rect x="418.4" y="212.2" width="0.8" height="1.1" fill="#fadcd8"/>
<rect x="418.4" y="213.2" width="1.6" height="1.1" fill="#fadcd8"/>
<rect x="418.4" y="214.2" width="0.9" height="1.1" fill="#fadcd8"/>
<rect x="418.4" y="215.3" width="0.3" height="1.1" fill="#f4a59e"/>
<rect x="418.4" y="216.3" width="1.3" height="1.1" fill="#f9cbc6"/>
<rect x="418.4" y="217.3" width="0.7" height="1.1" fill="#fadcd8"/>
<rect x="418.4" y="218.4" width="0.8" height="1.1" fill="#f9cbc6"/>
<rect x="418.4" y="219.4" width="0.3" height="1.1" fill="#f6b3ad"/>
<rect x="418.4" y="220.4" width="1.2" height="1.1" fill="#f7bdb7"/>
<rect x="418.4" y="221.5" width="1.0" height="1.1" fill="#f9cbc6"/>
<rect x="418.4" y="222.5" width="0.5" height="1.1" fill="#f9cbc6"/>
<rect x="418.4" y="223.5" width="0.5" height="1.1" fill="#f6b3ad"/>
<rect x="418.4" y="224.6" width="0.7" height="1.1" fill="#f9cbc6"/>
<rect x="418.4" y="225.6" width="0.5" height="1.1" fill="#f9cbc6"/>
<rect x="418.4" y="226.6" width="0.5" height="1.1" fill="#f7bdb7"/>
<rect x="418.4" y="227.6" width="0.7" height="1.1" fill="#f6b3ad"/>
<rect x="418.4" y="228.7" width="1.0" height="1.1" fill="#f39a92"/>
<rect x="418.4" y="229.7" width="0.3" height="1.1" fill="#f6b3ad"/>
<rect x="418.4" y="230.7" width="0.5" height="1.1" fill="#f7bdb7"/>
<rect x="418.4" y="231.8" width="0.6" height="1.1" fill="#f6b3ad"/>
<rect x="535.2" y="26.6" width="101.4" height="1.1" fill="#c6e1b4"/>
<rect x="535.2" y="27.6" width="101.4" height="1.1" fill="#c6e1b4"/>
<rect x="535.2" y="28.7" width="101.4" height="1.1" fill="#b0d497"/>
<rect x="535.2" y="29.7" width="101.1" height="1.1" fill="#b0d497"/>
<rect x="535.2" y="30.7" width="101.1" height="1.1" fill="#a9d08e"/>
<rect x="535.2" y="31.8" width="101.1" height="1.1" fill="#a9d08e"/>
<rect x="535.2" y="32.8" width="101.5" height="1.1" fill="#9cc87e"/>
<rect x="535.2" y="33.8" width="101.5" height="1.1" fill="#9cc87e"/>
<rect x="535.2" y="34.8" width="101.5" height="1.1" fill="#9cc87e"/>
<rect x="535.2" y="35.9" width="101.0" height="1.1" fill="#9cc87e"/>
<rect x="535.2" y="36.9" width="101.0" height="1.1" fill="#9cc87e"/>
<rect x="535.2" y="37.9" width="101.0" height="1.1" fill="#c6e1b4"/>
<rect x="535.2" y="39.0" width="100.2" height="1.1" fill="#c6e1b4"/>
<rect x="535.2" y="40.0" width="100.2" height="1.1" fill="#c6e1b4"/>
<rect x="535.2" y="41.0" width="100.2" height="1.1" fill="#c6e1b4"/>
<rect x="535.2" y="42.1" width="97.7" height="1.1" fill="#c6e1b4"/>
<rect x="535.2" y="43.1" width="97.7" height="1.1" fill="#c6e1b4"/>
<rect x="535.2" y="44.1" width="97.7" height="1.1" fill="#9cc87e"/>
<rect x="535.2" y="45.2" width="95.8" height="1.1" fill="#9cc87e"/>
<rect x="535.2" y="46.2" width="95.8" height="1.1" fill="#9cc87e"/>
<rect x="535.2" y="47.2" width="95.8" height="1.1" fill="#b0d497"/>
<rect x="535.2" y="48.3" width="94.9" height="1.1" fill="#b0d497"/>
<rect x="535.2" y="49.3" width="94.9" height="1.1" fill="#b0d497"/>
<rect x="535.2" y="50.3" width="94.9" height="1.1" fill="#b8d9a2"/>
<rect x="535.2" y="51.3" width="93.5" height="1.1" fill="#b8d9a2"/>
<rect x="535.2" y="52.4" width="93.5" height="1.1" fill="#b8d9a2"/>
<rect x="535.2" y="53.4" width="93.5" height="1.1" fill="#d4e8c6"/>
<rect x="535.2" y="54.4" width="91.1" height="1.1" fill="#d4e8c6"/>
<rect x="535.2" y="55.5" width="91.1" height="1.1" fill="#d4e8c6"/>
<rect x="535.2" y="56.5" width="91.1" height="1.1" fill="#d4e8c6"/>
<rect x="535.2" y="57.5" width="88.9" height="1.1" fill="#d4e8c6"/>
<rect x="535.2" y="58.6" width="88.9" height="1.1" fill="#c6e1b4"/>
<rect x="535.2" y="59.6" width="88.9" height="1.1" fill="#c6e1b4"/>
<rect x="535.2" y="60.6" width="87.8" height="1.1" fill="#c6e1b4"/>
<rect x="535.2" y="61.7" width="87.8" height="1.1" fill="#d4e8c6"/>
<rect x="535.2" y="62.7" width="87.8" height="1.1" fill="#d4e8c6"/>
<rect x="535.2" y="63.7" width="85.0" height="1.1" fill="#b0d497"/>
<rect x="535.2" y="64.7" width="85.0" height="1.1" fill="#b0d497"/>
<rect x="535.2" y="65.8" width="85.0" height="1.1" fill="#b0d497"/>
<rect x="535.2" y="66.8" width="83.5" height="1.1" fill="#b0d497"/>
<rect x="535.2" y="67.8" width="83.5" height="1.1" fill="#b0d497"/>
<rect x="535.2" y="68.9" width="83.5" height="1.1" fill="#b0d497"/>
<rect x="535.2" y="69.9" width="80.5" height="1.1" fill="#a9d08e"/>
<rect x="535.2" y="70.9" width="80.5" height="1.1" fill="#a9d08e"/>
<rect x="535.2" y="72.0" width="80.5" height="1.1" fill="#9cc87e"/>
<rect x="535.2" y="73.0" width="77.3" height="1.1" fill="#9cc87e"/>
<rect x="535.2" y="74.0" width="77.3" height="1.1" fill="#9cc87e"/>
<rect x="535.2" y="75.1" width="77.3" height="1.1" fill="#9cc87e"/>
<rect x="535.2" y="76.1" width="75.8" height="1.1" fill="#9cc87e"/>
<rect x="535.2" y="77.1" width="75.8" height="1.1" fill="#9cc87e"/>
<rect x="535.2" y="78.2" width="75.8" height="1.1" fill="#b8d9a2"/>
<rect x="535.2" y="79.2" width="74.0" height="1.1" fill="#b8d9a2"/>
<rect x="535.2" y="80.2" width="74.0" height="1.1" fill="#b8d9a2"/>
<rect x="535.2" y="81.2" width="74.0" height="1.1" fill="#b8d9a2"/>
<rect x="535.2" y="82.3" width="73.2" height="1.1" fill="#b8d9a2"/>
<rect x="535.2" y="83.3" width="73.2" height="1.1" fill="#b8d9a2"/>
<rect x="535.2" y="84.3" width="73.2" height="1.1" fill="#d4e8c6"/>
<rect x="535.2" y="85.4" width="71.8" height="1.1" fill="#d4e8c6"/>
<rect x="535.2" y="86.4" width="71.8" height="1.1" fill="#d4e8c6"/>
<rect x="535.2" y="87.4" width="71.8" height="1.1" fill="#d4e8c6"/>
<rect x="535.2" y="88.5" width="68.4" height="1.1" fill="#d4e8c6"/>
<rect x="535.2" y="89.5" width="68.4" height="1.1" fill="#b0d497"/>
<rect x="535.2" y="90.5" width="68.4" height="1.1" fill="#b0d497"/>
<rect x="535.2" y="91.6" width="63.8" height="1.1" fill="#c6e1b4"/>
<rect x="535.2" y="92.6" width="63.8" height="1.1" fill="#c6e1b4"/>
<rect x="535.2" y="93.6" width="63.8" height="1.1" fill="#c6e1b4"/>
<rect x="535.2" y="94.6" width="63.1" height="1.1" fill="#c6e1b4"/>
<rect x="535.2" y="95.7" width="63.1" height="1.1" fill="#c6e1b4"/>
<rect x="535.2" y="96.7" width="63.1" height="1.1" fill="#c6e1b4"/>
<rect x="535.2" y="97.7" width="61.8" height="1.1" fill="#b0d497"/>
<rect x="535.2" y="98.8" width="61.8" height="1.1" fill="#b0d497"/>
<rect x="535.2" y="99.8" width="61.8" height="1.1" fill="#b8d9a2"/>
<rect x="535.2" y="100.8" width="60.9" height="1.1" fill="#b8d9a2"/>
<rect x="535.2" y="101.9" width="60.9" height="1.1" fill="#b8d9a2"/>
<rect x="535.2" y="102.9" width="60.9" height="1.1" fill="#b0d497"/>
<rect x="535.2" y="103.9" width="58.8" height="1.1" fill="#b0d497"/>
<rect x="535.2" y="105.0" width="58.8" height="1.1" fill="#b0d497"/>
<rect x="535.2" y="106.0" width="58.8" height="1.1" fill="#c6e1b4"/>
<rect x="535.2" y="107.0" width="56.1" height="1.1" fill="#c6e1b4"/>
<rect x="535.2" y="108.0" width="56.1" height="1.1" fill="#b0d497"/>
<rect x="535.2" y="109.1" width="56.1" height="1.1" fill="#b0d497"/>
<rect x="535.2" y="110.1" width="54.3" height="1.1" fill="#b0d497"/>
<rect x="535.2" y="111.1" width="54.3" height="1.1" fill="#b0d497"/>
<rect x="535.2" y="112.2" width="54.3" height="1.1" fill="#b0d497"/>
<rect x="535.2" y="113.2" width="52.0" height="1.1" fill="#c6e1b4"/>
<rect x="535.2" y="114.2" width="52.0" height="1.1" fill="#c6e1b4"/>
<rect x="535.2" y="115.3" width="52.0" height="1.1" fill="#c6e1b4"/>
<rect x="535.2" y="116.3" width="51.2" height="1.1" fill="#b8d9a2"/>
<rect x="535.2" y="117.3" width="51.2" height="1.1" fill="#b8d9a2"/>
<rect x="535.2" y="118.4" width="51.2" height="1.1" fill="#b8d9a2"/>
<rect x="535.2" y="119.4" width="49.9" height="1.1" fill="#b8d9a2"/>
<rect x="535.2" y="120.4" width="49.9" height="1.1" fill="#b8d9a2"/>
<rect x="535.2" y="121.5" width="49.9" height="1.1" fill="#b0d497"/>
<rect x="535.2" y="122.5" width="47.9" height="1.1" fill="#b0d497"/>
<rect x="535.2" y="123.5" width="47.9" height="1.1" fill="#b0d497"/>
<rect x="535.2" y="124.5" width="47.9" height="1.1" fill="#b0d497"/>
<rect x="535.2" y="125.6" width="43.8" height="1.1" fill="#b0d497"/>
<rect x="535.2" y="126.6" width="43.8" height="1.1" fill="#b0d497"/>
<rect x="535.2" y="127.6" width="43.8" height="1.1" fill="#a9d08e"/>
<rect x="535.2" y="128.7" width="41.3" height="1.1" fill="#a9d08e"/>
<rect x="535.2" y="129.7" width="41.3" height="1.1" fill="#a9d08e"/>
<rect x="535.2" y="130.7" width="41.3" height="1.1" fill="#a9d08e"/>
<rect x="535.2" y="131.8" width="40.8" height="1.1" fill="#a9d08e"/>
<rect x="535.2" y="132.8" width="40.8" height="1.1" fill="#a9d08e"/>
<rect x="535.2" y="133.8" width="40.8" height="1.1" fill="#d4e8c6"/>
<rect x="535.2" y="134.9" width="38.9" height="1.1" fill="#d4e8c6"/>
<rect x="535.2" y="135.9" width="38.9" height="1.1" fill="#d4e8c6"/>
<rect x="535.2" y="136.9" width="38.9" height="1.1" fill="#d4e8c6"/>
<rect x="535.2" y="137.9" width="38.2" height="1.1" fill="#a9d08e"/>
<rect x="535.2" y="139.0" width="38.2" height="1.1" fill="#a9d08e"/>
<rect x="535.2" y="140.0" width="38.2" height="1.1" fill="#a9d08e"/>
<rect x="535.2" y="141.0" width="36.2" height="1.1" fill="#b8d9a2"/>
<rect x="535.2" y="142.1" width="36.2" height="1.1" fill="#b8d9a2"/>
<rect x="535.2" y="143.1" width="36.2" height="1.1" fill="#b8d9a2"/>
<rect x="535.2" y="144.1" width="34.4" height="1.1" fill="#b8d9a2"/>
<rect x="535.2" y="145.2" width="34.4" height="1.1" fill="#b0d497"/>
<rect x="535.2" y="146.2" width="34.4" height="1.1" fill="#b0d497"/>
<rect x="535.2" y="147.2" width="32.6" height="1.1" fill="#b0d497"/>
<rect x="535.2" y="148.3" width="32.6" height="1.1" fill="#b0d497"/>
<rect x="535.2" y="149.3" width="32.6" height="1.1" fill="#b0d497"/>
<rect x="535.2" y="150.3" width="30.4" height="1.1" fill="#b0d497"/>
<rect x="535.2" y="151.4" width="30.4" height="1.1" fill="#b0d497"/>
<rect x="535.2" y="152.4" width="30.4" height="1.1" fill="#b0d497"/>
<rect x="535.2" y="153.4" width="29.3" height="1.1" fill="#d4e8c6"/>
<rect x="535.2" y="154.4" width="29.3" height="1.1" fill="#d4e8c6"/>
<rect x="535.2" y="155.5" width="29.3" height="1.1" fill="#d4e8c6"/>
<rect x="535.2" y="156.5" width="26.2" height="1.1" fill="#b0d497"/>
<rect x="535.2" y="157.5" width="26.2" height="1.1" fill="#b0d497"/>
<rect x="535.2" y="158.6" width="26.2" height="1.1" fill="#b0d497"/>
<rect x="535.2" y="159.6" width="25.1" height="1.1" fill="#b0d497"/>
<rect x="535.2" y="160.6" width="25.1" height="1.1" fill="#b0d497"/>
<rect x="535.2" y="161.7" width="25.1" height="1.1" fill="#9cc87e"/>
<rect x="535.2" y="162.7" width="25.0" height="1.1" fill="#9cc87e"/>
<rect x="535.2" y="163.7" width="25.0" height="1.1" fill="#a9d08e"/>
<rect x="535.2" y="164.8" width="25.0" height="1.1" fill="#a9d08e"/>
<rect x="535.2" y="165.8" width="24.3" height="1.1" fill="#a9d08e"/>
<rect x="535.2" y="166.8" width="24.3" height="1.1" fill="#b8d9a2"/>
<rect x="535.2" y="167.8" width="24.3" height="1.1" fill="#b8d9a2"/>
<rect x="535.2" y="168.9" width="23.3" height="1.1" fill="#b8d9a2"/>
<rect x="535.2" y="169.9" width="23.3" height="1.1" fill="#9cc87e"/>
<rect x="535.2" y="170.9" width="23.3" height="1.1" fill="#9cc87e"/>
<rect x="535.2" y="172.0" width="20.7" height="1.1" fill="#9cc87e"/>
<rect x="535.2" y="173.0" width="20.7" height="1.1" fill="#9cc87e"/>
<rect x="535.2" y="174.0" width="20.7" height="1.1" fill="#9cc87e"/>
<rect x="535.2" y="175.1" width="19.9" height="1.1" fill="#9cc87e"/>
<rect x="535.2" y="176.1" width="19.9" height="1.1" fill="#b0d497"/>
<rect x="535.2" y="177.1" width="19.9" height="1.1" fill="#b0d497"/>
<rect x="535.2" y="178.2" width="19.1" height="1.1" fill="#b0d497"/>
<rect x="535.2" y="179.2" width="19.1" height="1.1" fill="#b0d497"/>
<rect x="535.2" y="180.2" width="19.1" height="1.1" fill="#b0d497"/>
<rect x="535.2" y="181.3" width="17.4" height="1.1" fill="#b0d497"/>
<rect x="535.2" y="182.3" width="17.4" height="1.1" fill="#b0d497"/>
<rect x="535.2" y="183.3" width="17.4" height="1.1" fill="#b0d497"/>
<rect x="535.2" y="184.3" width="16.2" height="1.1" fill="#d4e8c6"/>
<rect x="535.2" y="185.4" width="16.2" height="1.1" fill="#d4e8c6"/>
<rect x="535.2" y="186.4" width="16.2" height="1.1" fill="#d4e8c6"/>
<rect x="535.2" y="187.4" width="13.8" height="1.1" fill="#d4e8c6"/>
<rect x="535.2" y="188.5" width="13.8" height="1.1" fill="#c6e1b4"/>
<rect x="535.2" y="189.5" width="13.8" height="1.1" fill="#c6e1b4"/>
<rect x="535.2" y="190.5" width="12.7" height="1.1" fill="#a9d08e"/>
<rect x="535.2" y="191.6" width="12.7" height="1.1" fill="#a9d08e"/>
<rect x="535.2" y="192.6" width="12.7" height="1.1" fill="#9cc87e"/>
<rect x="535.2" y="193.6" width="13.1" height="1.1" fill="#9cc87e"/>
<rect x="535.2" y="194.7" width="13.1" height="1.1" fill="#9cc87e"/>
<rect x="535.2" y="195.7" width="13.1" height="1.1" fill="#9cc87e"/>
<rect x="535.2" y="196.7" width="11.9" height="1.1" fill="#9cc87e"/>
<rect x="535.2" y="197.7" width="11.9" height="1.1" fill="#9cc87e"/>
<rect x="535.2" y="198.8" width="11.9" height="1.1" fill="#9cc87e"/>
<rect x="535.2" y="199.8" width="10.8" height="1.1" fill="#b8d9a2"/>
<rect x="535.2" y="200.8" width="10.8" height="1.1" fill="#b8d9a2"/>
<rect x="535.2" y="201.9" width="10.8" height="1.1" fill="#b8d9a2"/>
<rect x="535.2" y="202.9" width="9.2" height="1.1" fill="#9cc87e"/>
<rect x="535.2" y="203.9" width="9.2" height="1.1" fill="#9cc87e"/>
<rect x="535.2" y="205.0" width="9.2" height="1.1" fill="#9cc87e"/>
<rect x="535.2" y="206.0" width="7.6" height="1.1" fill="#a9d08e"/>
<rect x="535.2" y="207.0" width="7.6" height="1.1" fill="#a9d08e"/>
<rect x="535.2" y="208.1" width="7.6" height="1.1" fill="#a9d08e"/>
<rect x="535.2" y="209.1" width="7.2" height="1.1" fill="#d4e8c6"/>
<rect x="535.2" y="210.1" width="7.2" height="1.1" fill="#d4e8c6"/>
<rect x="535.2" y="211.1" width="7.2" height="1.1" fill="#c6e1b4"/>
<rect x="535.2" y="212.2" width="6.3" height="1.1" fill="#c6e1b4"/>
<rect x="535.2" y="213.2" width="6.3" height="1.1" fill="#c6e1b4"/>
<rect x="535.2" y="214.2" width="6.3" height="1.1" fill="#b8d9a2"/>
<rect x="535.2" y="215.3" width="5.3" height="1.1" fill="#b8d9a2"/>
<rect x="535.2" y="216.3" width="5.3" height="1.1" fill="#b8d9a2"/>
<rect x="535.2" y="217.3" width="5.3" height="1.1" fill="#b8d9a2"/>
<rect x="535.2" y="218.4" width="4.7" height="1.1" fill="#b8d9a2"/>
<rect x="535.2" y="219.4" width="4.7" height="1.1" fill="#b8d9a2"/>
<rect x="535.2" y="220.4" width="4.7" height="1.1" fill="#a9d08e"/>
<rect x="535.2" y="221.5" width="3.4" height="1.1" fill="#a9d08e"/>
<rect x="535.2" y="222.5" width="3.4" height="1.1" fill="#d4e8c6"/>
<rect x="535.2" y="223.5" width="3.4" height="1.1" fill="#d4e8c6"/>
<rect x="535.2" y="224.6" width="2.3" height="1.1" fill="#d4e8c6"/>
<rect x="535.2" y="225.6" width="2.3" height="1.1" fill="#d4e8c6"/>
<rect x="535.2" y="226.6" width="2.3" height="1.1" fill="#c6e1b4"/>
<rect x="535.2" y="227.6" width="2.1" height="1.1" fill="#c6e1b4"/>
<rect x="535.2" y="228.7" width="2.1" height="1.1" fill="#c6e1b4"/>
<rect x="535.2" y="229.7" width="2.1" height="1.1" fill="#c6e1b4"/>
<rect x="535.2" y="230.7" width="0.4" height="1.1" fill="#c6e1b4"/>
<rect x="535.2" y="231.8" width="0.4" height="1.1" fill="#c6e1b4"/>
<line x1="418.0" y1="26.6" x2="418.0" y2="232.8" stroke="#111" stroke-width="1.2"/>
<line x1="534.9" y1="26.6" x2="534.9" y2="232.8" stroke="#111" stroke-width="1.2"/>
<line x1="417.4" y1="233.3" x2="519.0" y2="233.3" stroke="#111" stroke-width="1.1"/>
<line x1="534.3" y1="233.3" x2="636.5" y2="233.3" stroke="#111" stroke-width="1.1"/>
<text x="414.47" y="244.60" font-size="10.5" fill="#4D4D4D" stroke="#4D4D4D" stroke-width="0.25" textLength="6.88" lengthAdjust="spacingAndGlyphs">0</text>
<text x="532.07" y="244.60" font-size="10.5" fill="#4D4D4D" stroke="#4D4D4D" stroke-width="0.25" textLength="6.88" lengthAdjust="spacingAndGlyphs">0</text>
<text x="437.10" y="244.60" font-size="10.5" fill="#4D4D4D" stroke="#4D4D4D" stroke-width="0.25" textLength="13.41" lengthAdjust="spacingAndGlyphs">25</text>
<text x="554.70" y="244.60" font-size="10.5" fill="#4D4D4D" stroke="#4D4D4D" stroke-width="0.25" textLength="13.41" lengthAdjust="spacingAndGlyphs">25</text>
<text x="462.92" y="244.60" font-size="10.5" fill="#4D4D4D" stroke="#4D4D4D" stroke-width="0.25" textLength="13.22" lengthAdjust="spacingAndGlyphs">50</text>
<text x="580.52" y="244.60" font-size="10.5" fill="#4D4D4D" stroke="#4D4D4D" stroke-width="0.25" textLength="13.22" lengthAdjust="spacingAndGlyphs">50</text>
<text x="488.20" y="244.60" font-size="10.5" fill="#4D4D4D" stroke="#4D4D4D" stroke-width="0.25" textLength="13.41" lengthAdjust="spacingAndGlyphs">75</text>
<text x="605.80" y="244.60" font-size="10.5" fill="#4D4D4D" stroke="#4D4D4D" stroke-width="0.25" textLength="13.41" lengthAdjust="spacingAndGlyphs">75</text>
<text x="510.57" y="244.60" font-size="10.5" fill="#4D4D4D" stroke="#4D4D4D" stroke-width="0.25" textLength="16.31" lengthAdjust="spacingAndGlyphs">100</text>
<text x="628.67" y="244.60" font-size="10.5" fill="#4D4D4D" stroke="#4D4D4D" stroke-width="0.25" textLength="16.31" lengthAdjust="spacingAndGlyphs">100</text>
<text x="0" y="0" font-size="11.2" stroke="#000" stroke-width="0.25" textLength="79.49" lengthAdjust="spacingAndGlyphs" transform="translate(408.20 170.19) rotate(-90)">Genes (n=200)</text>
<text x="451.86" y="257.50" font-size="11.2" stroke="#000" stroke-width="0.25" textLength="143.00" lengthAdjust="spacingAndGlyphs">Percentage of expressing cells</text>
<text x="0.47" y="286.20" font-size="13.5" font-weight="bold" stroke="#000" stroke-width="0.25" textLength="6.85" lengthAdjust="spacingAndGlyphs">c</text>
<ellipse cx="148" cy="361" rx="33" ry="10" fill="#f08a2c" transform="rotate(-33 148 361)"/>
<ellipse cx="149" cy="360" rx="18" ry="6" fill="#fbc03a" transform="rotate(-33 149 360)"/>
<path d="M66.7 432.4h0M71.5 399.6h0M211.3 340.7h0M102.4 419.8h0M93.9 416.9h0M100.0 416.8h0M214.8 309.1h0M82.2 413.2h0M209.7 307.3h0M79.4 404.7h0M124.5 345.2h0" stroke="#9698d0" stroke-width="2.0" stroke-linecap="round"/>
<path d="M80.4 407.3h0M181.7 313.2h0M164.5 381.3h0M167.6 379.0h0M211.1 313.8h0M205.0 311.2h0M211.0 315.9h0M84.2 408.8h0M83.8 407.7h0M90.0 410.2h0M158.4 324.6h0M145.1 332.2h0M86.0 392.2h0M209.4 315.7h0M206.2 313.0h0M85.1 396.3h0M207.8 319.8h0M86.5 407.7h0M127.5 346.6h0M205.0 314.2h0M206.1 314.6h0M162.4 322.8h0M205.8 323.1h0M204.4 332.4h0M92.9 383.5h0M87.1 406.5h0M205.4 323.4h0M110.3 361.8h0M202.6 338.8h0M205.8 317.1h0M86.9 394.6h0M128.2 400.3h0M203.9 332.8h0M205.0 322.1h0M204.3 327.8h0M150.8 389.3h0M139.9 395.6h0M98.8 376.0h0M204.2 318.6h0M153.1 386.9h0M88.3 393.0h0M181.8 364.1h0M87.2 400.8h0M110.9 406.8h0M116.9 403.6h0M119.0 402.6h0M116.9 355.6h0M90.0 391.0h0M173.2 319.3h0M190.5 354.6h0M142.7 393.6h0M96.8 406.2h0M172.3 319.8h0M129.8 398.6h0M127.9 348.3h0M192.7 314.3h0M109.0 406.7h0M90.8 403.9h0M202.4 330.1h0M94.2 405.0h0M197.7 346.4h0M89.4 399.2h0M90.1 401.9h0M146.7 390.7h0M93.7 386.6h0M198.9 343.6h0M197.3 316.5h0M89.8 397.2h0M93.4 404.1h0M170.0 321.2h0M106.8 406.4h0M199.9 339.9h0M93.4 403.7h0M91.9 391.5h0M92.2 402.5h0M103.4 373.1h0M92.4 402.2h0" stroke="#8589c8" stroke-width="2.0" stroke-linecap="round"/>
<path d="M154.7 330.5h0M101.7 405.6h0M104.9 371.4h0M196.2 316.9h0M131.3 396.7h0M95.4 385.4h0M92.9 391.6h0M196.0 347.0h0M193.4 349.8h0M108.6 405.2h0M166.2 323.8h0M181.4 361.9h0M191.7 316.0h0M146.6 389.5h0M104.2 405.2h0M129.7 396.7h0M93.1 397.4h0M173.2 367.7h0M186.2 317.6h0M121.8 354.0h0M192.6 349.9h0M185.7 356.3h0M104.0 374.2h0M195.5 318.2h0M103.3 404.4h0M192.1 316.8h0M188.6 353.1h0M170.6 369.6h0M94.1 394.5h0M121.2 354.8h0M195.2 318.2h0M197.8 340.1h0M131.0 395.6h0M142.8 390.8h0M97.6 401.2h0M98.9 402.1h0M96.9 400.5h0M194.4 318.2h0M195.6 345.1h0M179.1 362.6h0M104.6 374.4h0M109.0 368.7h0M101.7 378.3h0M152.2 333.3h0M188.6 317.9h0M95.4 393.6h0M96.8 399.0h0M95.5 395.2h0M198.6 328.7h0M100.9 402.3h0M166.0 372.9h0M140.3 340.6h0M110.4 402.5h0M99.0 383.3h0M196.9 323.2h0M97.3 387.4h0M195.6 342.8h0M196.7 323.1h0M197.7 326.7h0M175.6 322.7h0M197.7 333.0h0M169.6 369.2h0M191.6 318.9h0M188.0 319.2h0M197.4 333.3h0M97.0 393.1h0M127.5 395.4h0M190.7 348.9h0M196.9 335.3h0M127.1 395.4h0" stroke="#7277bf" stroke-width="2.0" stroke-linecap="round"/>
<path d="M195.2 322.2h0M188.6 319.6h0M110.2 401.6h0M105.8 402.1h0M97.6 394.0h0M177.7 323.2h0M106.1 374.9h0M97.8 391.1h0M190.6 319.7h0M179.9 360.2h0M164.8 372.8h0M134.5 392.5h0M99.9 384.0h0M163.4 373.9h0M138.5 343.5h0M196.2 335.1h0M106.1 401.6h0M120.6 396.9h0M117.1 398.1h0M178.3 323.6h0M196.0 334.3h0M102.0 399.8h0M180.1 359.5h0M192.0 346.2h0M188.8 320.6h0M191.0 320.7h0M103.8 400.6h0M171.2 324.9h0M101.2 382.7h0M194.9 324.6h0M193.7 342.8h0M195.9 332.7h0M189.4 321.0h0M195.1 326.8h0M194.9 326.5h0M113.8 398.8h0M179.4 324.2h0M102.7 381.4h0M195.3 330.9h0M102.7 381.5h0M195.3 331.8h0M107.2 400.5h0M102.4 398.7h0M194.0 324.7h0M183.7 323.4h0M108.6 400.3h0M195.0 328.4h0M191.5 345.6h0M188.9 321.9h0M158.0 332.6h0M158.8 332.1h0M113.0 367.2h0M123.2 395.1h0M112.9 367.3h0M131.5 350.9h0M187.2 322.5h0M169.6 326.1h0M121.8 357.4h0M193.5 340.5h0M100.5 386.9h0M181.8 324.4h0M173.8 325.2h0M154.3 379.2h0M194.6 330.6h0M192.2 323.6h0M138.6 389.5h0M190.6 323.1h0M144.1 339.8h0M190.5 345.9h0M190.8 323.3h0M189.5 323.0h0M144.1 386.5h0M108.7 399.4h0M100.6 388.5h0M111.2 370.4h0M187.3 323.4h0M190.8 323.5h0M136.3 390.3h0M101.5 385.8h0M110.9 398.7h0M193.6 335.9h0M100.8 392.2h0M172.9 325.8h0M100.8 389.8h0M156.0 377.6h0M101.8 395.3h0M193.7 334.1h0M126.2 355.0h0" stroke="#5357a8" stroke-width="2.0" stroke-linecap="round"/>
<path d="M175.6 325.6h0M187.2 324.0h0M104.8 380.6h0M146.0 338.9h0M101.0 389.3h0M110.7 398.4h0M104.0 397.5h0M102.4 384.8h0M181.8 325.4h0M111.3 370.8h0M116.2 396.6h0M190.6 324.6h0M155.0 378.1h0M192.0 341.7h0M103.3 396.8h0M106.6 398.6h0M101.9 394.0h0M102.0 394.0h0M130.4 352.7h0M128.0 392.5h0M191.0 343.5h0M191.1 343.2h0M103.4 396.4h0M102.7 384.9h0M192.2 328.1h0M164.5 329.7h0M189.5 325.0h0M147.7 383.2h0M188.7 324.9h0M173.2 326.3h0M186.1 325.2h0M158.4 375.6h0M103.2 395.9h0M121.1 359.1h0M117.2 395.9h0M179.7 326.0h0M191.4 327.0h0M105.0 397.4h0M140.2 387.9h0M102.0 392.9h0M120.4 394.8h0M183.6 325.8h0M179.5 326.0h0M119.0 395.2h0M192.6 334.6h0M192.3 330.6h0M101.8 389.9h0M169.0 327.6h0M102.5 386.4h0M130.2 391.6h0M102.0 388.7h0M188.8 346.3h0M117.3 363.4h0M111.4 371.5h0M166.2 329.0h0M187.2 325.7h0M176.1 360.7h0M191.3 341.4h0M117.0 363.8h0M191.1 328.1h0M179.5 357.5h0M189.5 344.9h0M189.3 345.2h0M185.8 326.2h0M190.9 328.2h0M120.5 360.0h0M135.4 389.7h0M151.2 337.0h0M139.1 388.0h0M191.7 337.4h0M104.4 395.7h0M148.2 382.2h0M177.9 358.8h0M106.6 380.0h0M120.6 360.2h0M105.1 382.4h0M148.3 338.4h0M108.8 397.2h0M143.6 385.3h0M106.8 396.9h0M180.7 355.8h0M191.0 330.4h0M104.2 384.1h0M147.4 382.6h0M109.4 375.9h0M191.5 336.5h0M141.6 386.5h0M184.5 350.9h0M170.5 327.8h0M107.8 396.7h0M107.2 379.9h0M190.1 330.0h0M191.1 333.6h0M108.1 396.7h0M180.7 327.2h0M146.1 383.3h0M190.0 342.3h0M112.1 371.6h0M124.3 392.6h0M173.5 362.0h0M134.4 389.5h0M176.6 359.5h0M123.5 392.7h0M190.4 332.4h0M114.2 395.5h0M190.5 339.4h0M184.1 327.7h0M106.8 395.9h0M188.7 329.4h0M147.0 382.5h0M105.0 384.1h0M184.4 350.5h0M190.6 336.6h0M188.2 329.3h0M103.9 387.5h0M104.8 384.8h0M190.0 340.5h0M108.3 379.1h0M107.9 395.8h0M111.6 395.7h0" stroke="#343691" stroke-width="2.0" stroke-linecap="round"/>
<path d="M190.2 336.4h0M188.7 330.8h0M181.5 353.9h0M186.3 347.4h0M174.6 327.8h0M185.3 348.8h0M154.9 376.7h0M107.7 380.6h0M104.8 392.3h0M180.4 328.2h0M188.8 342.6h0M188.0 330.9h0M126.2 356.9h0M116.5 366.3h0M170.0 328.7h0M187.8 344.6h0M152.1 337.5h0M164.7 331.2h0M107.6 394.9h0M137.9 387.4h0M110.2 376.8h0M138.2 347.6h0M160.0 334.0h0M185.3 329.6h0M189.3 334.8h0M185.5 329.7h0M147.0 381.8h0M105.1 386.8h0M120.4 392.8h0M170.2 329.0h0M187.9 332.3h0M163.4 332.2h0M123.7 391.7h0M106.3 384.3h0M105.3 387.4h0M105.3 390.3h0M162.4 370.7h0M184.6 330.1h0M145.0 382.8h0M180.4 329.0h0M112.1 373.9h0M105.8 391.5h0M109.4 394.3h0M108.3 393.9h0M145.4 382.4h0M142.5 384.4h0M108.9 394.1h0M152.1 377.8h0M108.4 393.7h0M114.3 393.8h0M109.3 394.0h0M123.3 391.4h0M187.4 333.4h0M170.0 363.5h0M169.6 329.6h0M116.1 367.9h0M108.8 380.9h0M115.0 393.5h0M145.8 382.0h0M109.3 393.8h0M178.9 329.1h0M188.4 337.7h0M118.3 392.6h0M114.5 393.5h0M187.7 334.8h0M114.7 370.2h0M176.0 358.4h0M181.5 329.8h0M135.0 387.9h0M106.5 390.8h0M187.9 341.1h0M119.4 363.7h0M186.6 344.6h0M167.3 330.7h0M107.9 383.5h0M109.6 393.4h0M124.8 390.6h0M127.0 357.4h0M175.1 359.0h0M161.6 370.9h0M182.9 330.8h0M134.8 387.8h0M138.3 386.2h0M141.6 345.3h0M117.5 392.3h0M177.1 329.4h0M122.1 391.2h0M106.8 388.6h0M125.8 358.3h0M142.4 383.8h0M112.1 375.8h0M187.5 337.4h0M158.6 372.9h0M164.0 368.6h0M186.3 334.3h0" stroke="#2d2d87" stroke-width="2.0" stroke-linecap="round"/>
<path d="M167.8 364.9h0M115.0 370.6h0M167.6 331.0h0M133.5 353.0h0M172.6 360.7h0M146.2 341.6h0M173.0 329.6h0M177.2 356.7h0M109.8 381.4h0M144.2 382.3h0M107.5 387.4h0M186.5 343.0h0M128.0 357.2h0M109.1 391.6h0M110.6 392.3h0M187.1 339.5h0M115.1 392.2h0M151.0 339.1h0M174.8 329.7h0M141.8 383.8h0M142.5 344.8h0M113.0 374.8h0M157.7 336.5h0M119.0 391.3h0M108.1 389.4h0M114.1 372.8h0M119.6 391.1h0M115.9 369.7h0M113.5 374.0h0M186.5 341.8h0M142.1 345.4h0M109.8 382.3h0M110.4 381.1h0M139.0 348.5h0M108.6 385.0h0M183.9 347.7h0M184.1 347.4h0M108.5 389.7h0M160.5 335.2h0M116.8 391.5h0M167.0 331.7h0M131.2 388.2h0M152.7 376.4h0M181.3 351.4h0M122.2 361.9h0M152.1 376.7h0M149.2 378.5h0M164.4 333.1h0M110.0 391.0h0M186.4 337.9h0M143.6 382.2h0M165.5 366.5h0M186.0 336.7h0M108.8 386.8h0M186.3 338.4h0M181.7 332.0h0M181.0 331.6h0M158.3 336.5h0M117.6 391.0h0M184.3 334.1h0M178.4 330.8h0M170.8 330.6h0M110.1 390.5h0M125.4 359.5h0M152.4 376.3h0M185.8 336.9h0M115.7 391.2h0M112.4 377.8h0M134.7 386.8h0M148.4 340.9h0M176.0 330.5h0M109.2 387.4h0M135.6 386.4h0M144.0 344.1h0M186.0 338.9h0M140.3 347.7h0M177.4 355.6h0M183.7 333.9h0M136.7 351.1h0M185.7 337.6h0M156.3 337.6h0M184.5 335.0h0M170.6 361.4h0M110.7 382.6h0M109.6 388.1h0M111.8 380.0h0M160.8 335.5h0M175.9 330.7h0M131.0 387.8h0M115.3 390.8h0M114.6 373.5h0M113.7 375.4h0M111.1 390.0h0M120.0 390.0h0M176.2 330.8h0M112.5 378.6h0M158.3 336.9h0M111.3 381.8h0M176.8 355.9h0M115.4 372.0h0M114.8 390.6h0M111.4 389.8h0M128.2 388.3h0M121.4 363.5h0M180.3 332.1h0M163.4 368.0h0M113.3 390.4h0M180.9 332.5h0M110.3 385.5h0M182.0 349.3h0M182.4 348.6h0M142.2 346.2h0M165.9 333.0h0M111.7 389.5h0M110.5 387.6h0M132.7 354.8h0M170.3 331.4h0M165.2 366.1h0M185.3 341.2h0M114.0 390.1h0M183.3 334.6h0M118.5 389.9h0M160.6 370.2h0M181.7 333.2h0M123.8 389.0h0M173.4 331.0h0M177.2 355.2h0M184.7 337.2h0" stroke="#2a277f" stroke-width="2.0" stroke-linecap="round"/>
<path d="M124.5 388.8h0M112.0 381.4h0M111.1 388.1h0M167.9 363.3h0M153.2 339.2h0M139.0 384.2h0M111.4 388.4h0M112.9 379.0h0M111.3 388.1h0M184.1 336.1h0M124.2 361.2h0M111.5 388.3h0M172.1 331.3h0M115.9 371.8h0M164.2 334.2h0M184.5 343.6h0M153.7 374.8h0M145.7 379.8h0M176.9 355.3h0M113.9 389.4h0M150.7 376.6h0M129.2 357.7h0M111.4 386.7h0M183.5 346.0h0M165.1 333.8h0M111.5 387.0h0M173.3 331.3h0M111.8 383.6h0M118.5 389.4h0M167.0 364.0h0M159.7 370.7h0M123.7 388.6h0M111.6 386.2h0M149.8 340.9h0M114.4 375.8h0M118.4 389.2h0M121.9 363.5h0M114.6 389.2h0M182.2 348.1h0M114.0 389.0h0M163.9 366.9h0M184.0 337.3h0M175.3 331.6h0M151.6 340.1h0M131.8 386.8h0M116.0 372.5h0M126.0 388.1h0M112.1 384.5h0M112.8 381.4h0M118.1 389.1h0M112.6 387.5h0M123.4 362.3h0M112.5 387.3h0M115.8 372.9h0M112.2 386.5h0M113.3 379.7h0M169.6 332.2h0M132.3 355.7h0M140.5 348.5h0M122.6 388.5h0M173.8 331.7h0M139.6 349.4h0M124.7 361.3h0M178.5 332.6h0M117.2 388.8h0M176.3 355.4h0M119.1 388.7h0M139.4 349.6h0M114.9 388.4h0M115.0 375.2h0M184.1 342.3h0M152.0 340.2h0M160.0 336.9h0M152.7 375.0h0M181.5 334.6h0M113.8 387.7h0M126.5 387.7h0M138.4 383.8h0M126.2 387.7h0M147.1 342.9h0M172.2 358.9h0M132.5 386.2h0M178.8 352.3h0M134.3 385.6h0M146.9 378.4h0M135.7 385.0h0M182.5 346.4h0M126.1 387.6h0M121.5 364.8h0M132.6 386.1h0M144.6 344.9h0M120.1 388.2h0M127.2 359.8h0M141.9 347.5h0M183.1 337.6h0M157.3 371.8h0M130.4 386.6h0M183.6 339.4h0M113.7 381.8h0M175.7 355.5h0M122.5 363.9h0M169.9 332.8h0M172.7 358.1h0M121.7 364.9h0M114.1 385.3h0M152.6 374.7h0M114.8 386.3h0M114.9 377.6h0M144.7 345.1h0M176.5 332.9h0M170.9 359.6h0M177.2 353.7h0M125.4 361.5h0M114.6 385.8h0M122.4 364.2h0" stroke="#2c2274" stroke-width="2.0" stroke-linecap="round"/>
<path d="M129.8 386.5h0M168.2 333.5h0M163.0 335.9h0M182.0 346.4h0M169.4 333.1h0M118.1 387.4h0M153.1 340.2h0M183.2 342.4h0M134.8 354.4h0M134.4 385.1h0M148.6 376.8h0M179.1 334.3h0M122.1 364.9h0M182.8 339.0h0M182.3 337.6h0M124.4 387.1h0M117.2 372.4h0M117.4 371.9h0M129.8 358.5h0M118.1 370.7h0M118.2 386.9h0M130.3 358.2h0M130.9 357.8h0M118.6 370.1h0M180.0 335.3h0M170.2 359.7h0M165.1 364.5h0M147.7 343.2h0M182.8 340.3h0M178.0 352.2h0M150.2 341.8h0M142.7 347.5h0M182.7 342.7h0M131.9 385.5h0M154.3 373.2h0M178.3 334.3h0M166.4 363.0h0M127.5 360.5h0M122.6 386.9h0M177.9 334.2h0M115.3 382.1h0M181.8 345.7h0M173.5 356.7h0M179.3 350.2h0M135.4 354.4h0M116.9 385.2h0M117.8 385.8h0M142.3 348.1h0M172.8 333.4h0M124.1 363.5h0M179.6 349.4h0M181.9 339.1h0M115.7 381.2h0M115.8 381.8h0M121.3 366.7h0M160.6 368.3h0M123.6 364.1h0M167.6 334.5h0M127.4 386.0h0M132.3 385.0h0M135.9 383.6h0M115.9 381.4h0M116.8 375.6h0M176.2 334.1h0M148.2 343.4h0M148.0 343.5h0M116.0 380.9h0M117.4 384.7h0M130.6 358.6h0M180.1 336.6h0M122.0 366.1h0M143.4 347.4h0M132.1 357.5h0M144.3 378.6h0M182.0 342.0h0M127.5 385.8h0M123.0 365.0h0M117.0 383.7h0M117.2 374.8h0M181.3 338.8h0M162.4 337.2h0M116.8 376.3h0M120.9 367.8h0M138.5 382.1h0M116.4 381.2h0M121.3 385.8h0M116.4 380.9h0M176.1 334.4h0" stroke="#571c55" stroke-width="2.0" stroke-linecap="round"/>
<path d="M125.8 385.8h0M121.6 385.8h0M122.5 385.9h0M173.8 334.0h0M178.9 336.1h0M117.8 373.8h0M121.0 367.9h0M154.4 340.7h0M142.8 348.2h0M179.0 349.5h0M176.2 353.2h0M126.7 362.0h0M164.9 363.6h0M147.8 376.2h0M179.3 336.6h0M174.9 334.4h0M141.7 379.9h0M126.8 385.6h0M138.3 352.5h0M126.7 362.0h0M148.4 343.7h0M157.0 370.6h0M132.4 357.6h0M148.6 343.6h0M173.0 334.2h0M131.6 358.3h0M164.4 363.9h0M165.7 336.0h0M145.7 377.2h0M138.0 352.9h0M181.3 343.3h0M117.6 375.4h0M146.2 345.4h0M123.5 385.5h0M129.6 360.0h0M120.8 368.7h0M180.8 345.3h0M117.5 382.3h0M117.2 377.5h0M119.4 384.4h0M153.2 341.4h0M168.3 335.0h0M179.1 337.0h0M120.2 384.7h0M158.3 339.5h0M118.3 383.3h0M117.2 380.2h0M159.2 368.7h0M119.8 384.4h0M117.3 380.4h0M154.0 372.3h0M118.0 382.6h0M173.9 355.0h0M159.4 368.5h0M173.4 355.4h0M179.7 337.9h0M117.8 382.0h0M174.1 354.8h0M178.2 336.4h0M117.6 376.6h0M181.0 341.8h0M137.5 381.9h0M147.3 376.0h0M162.4 365.6h0M150.9 342.6h0M138.4 381.4h0M118.2 382.3h0M152.3 342.0h0M160.3 367.5h0M154.0 372.2h0M171.8 334.7h0M147.4 375.9h0M162.3 365.7h0M125.5 385.0h0M171.1 334.8h0M118.2 375.0h0M127.3 384.9h0M119.7 383.7h0M121.9 367.7h0M127.7 361.9h0M154.1 372.1h0M123.7 365.5h0M159.9 339.2h0M122.3 384.7h0M162.1 365.7h0M135.0 382.9h0M175.9 335.5h0M176.1 335.6h0M157.7 340.1h0M121.1 384.3h0M175.7 352.7h0M145.3 377.0h0M121.7 368.1h0M138.8 381.0h0M169.3 335.2h0M150.4 343.1h0M123.4 366.0h0M178.6 348.9h0M127.1 384.7h0M175.8 335.6h0M154.5 341.3h0M168.4 335.6h0M139.3 352.3h0M138.2 353.3h0M180.3 344.7h0M149.5 343.7h0M174.6 335.4h0M179.6 346.5h0M179.8 346.0h0M127.9 362.1h0M119.3 373.2h0M176.9 336.4h0M118.3 376.3h0M118.4 375.9h0M145.2 347.0h0M136.6 381.9h0M171.3 356.8h0M135.3 382.5h0M122.6 367.4h0M126.1 363.6h0M118.7 381.1h0" stroke="#861a3c" stroke-width="2.0" stroke-linecap="round"/>
<path d="M152.2 372.9h0M143.8 377.6h0M166.6 336.5h0M165.1 337.1h0M178.5 348.4h0M161.7 338.8h0M123.6 384.2h0M133.4 357.7h0M127.4 384.3h0M148.7 344.4h0M169.9 335.5h0M119.4 382.0h0M152.6 342.3h0M120.8 383.2h0M157.5 340.5h0M135.5 382.2h0M146.5 375.9h0M175.1 335.9h0M119.0 381.0h0M179.1 346.9h0M179.6 340.2h0M168.2 359.2h0M122.1 383.6h0M136.1 381.8h0M175.9 336.4h0M119.0 375.4h0M147.0 345.8h0M125.4 364.7h0M179.9 343.4h0M179.6 340.5h0M137.7 354.2h0M118.8 378.1h0M164.2 337.8h0M118.9 376.5h0M174.5 336.0h0M131.7 383.3h0M179.0 346.5h0M154.3 342.0h0M123.8 383.7h0M178.7 339.2h0M179.4 340.7h0M173.9 353.6h0M120.4 372.4h0M119.4 380.1h0M119.1 378.2h0M173.1 336.0h0M167.4 336.7h0M136.6 355.4h0M166.7 337.0h0M177.6 348.9h0M165.3 361.6h0M179.1 345.7h0M147.5 374.9h0M176.2 350.8h0M166.7 337.0h0M172.0 355.4h0M124.5 366.1h0M123.0 368.0h0M179.4 343.7h0M133.8 382.4h0M154.2 342.2h0M123.4 367.5h0M163.4 363.4h0M146.9 346.3h0M121.2 371.0h0M166.5 360.3h0M162.3 339.1h0M123.2 383.1h0M141.1 378.5h0M125.5 383.5h0M120.3 373.1h0M140.2 379.1h0M124.2 366.7h0M131.5 382.9h0M146.9 346.4h0M166.9 337.1h0M169.1 336.5h0M146.1 375.5h0M177.6 338.6h0M159.4 340.4h0M167.8 336.9h0M168.6 358.2h0M170.6 336.4h0M127.2 383.4h0M162.2 364.4h0M154.3 342.3h0M126.7 383.3h0M155.9 341.8h0M131.7 382.7h0M174.7 352.2h0M152.8 371.8h0M120.8 381.1h0M167.8 358.8h0M133.8 358.3h0M172.7 336.5h0M174.9 352.0h0M136.6 380.8h0M175.8 337.5h0M141.0 378.3h0M135.8 381.2h0M154.9 370.5h0M162.8 363.7h0M122.0 381.9h0M165.0 338.1h0M128.5 362.9h0M178.8 341.6h0M120.9 380.9h0M163.4 338.9h0M151.5 372.4h0" stroke="#b81d2a" stroke-width="2.0" stroke-linecap="round"/>
<path d="M145.4 375.6h0M138.5 379.7h0M178.7 341.5h0M177.5 339.1h0M163.8 362.6h0M139.3 353.5h0M120.6 380.1h0M120.0 376.4h0M159.7 366.6h0M155.7 369.8h0M120.2 378.9h0M178.7 342.0h0M122.2 370.3h0M177.5 339.3h0M170.8 336.7h0M145.2 348.2h0M176.2 338.1h0M157.2 368.6h0M121.0 380.4h0M121.3 380.9h0M131.3 360.6h0M121.3 372.2h0M120.2 377.6h0M176.4 349.5h0M124.1 367.6h0M176.1 338.1h0M143.3 376.7h0M172.1 336.8h0M175.4 350.9h0M128.1 382.8h0M168.2 358.1h0M120.6 374.9h0M127.1 364.4h0M169.9 337.0h0M126.5 382.7h0M178.3 345.3h0M129.3 382.6h0M145.3 348.3h0M153.7 342.9h0M134.4 358.1h0M167.2 358.8h0M167.2 337.7h0M124.6 367.3h0M123.7 382.1h0M178.4 343.8h0M178.2 345.2h0M150.3 372.7h0M177.0 339.4h0M149.6 373.1h0M148.7 345.6h0M139.3 353.8h0M177.9 346.1h0M124.2 382.1h0M171.6 354.7h0M147.4 346.6h0M159.4 366.5h0M122.9 381.4h0M150.6 372.5h0M125.9 365.9h0M161.8 340.1h0M160.0 365.9h0M132.0 360.4h0M173.6 337.5h0M168.5 337.5h0M177.4 347.0h0M163.1 362.7h0M123.7 381.7h0M141.1 377.6h0M142.8 350.8h0M167.4 358.4h0M174.8 338.1h0M121.9 372.3h0M121.6 372.9h0M142.0 377.0h0M122.5 370.9h0M127.1 364.9h0M168.9 337.5h0M123.7 381.6h0M134.1 381.1h0M160.9 364.9h0M126.0 382.2h0M140.3 353.1h0M123.3 369.6h0M137.9 355.3h0M122.9 381.0h0M141.9 377.0h0M131.5 381.8h0M175.5 350.0h0M177.9 342.7h0M127.6 364.6h0M124.5 368.0h0M128.0 364.3h0M177.9 344.7h0M124.3 368.4h0M129.0 363.4h0M170.0 337.6h0M141.4 377.2h0M160.5 340.9h0M121.6 374.1h0M176.9 347.5h0M133.2 359.7h0M177.7 342.2h0M159.9 341.1h0M177.6 341.7h0M173.5 338.0h0M121.3 376.7h0M122.7 380.3h0M167.4 338.2h0M128.8 363.7h0M139.1 354.4h0M163.8 361.6h0M176.8 340.5h0M167.6 357.9h0M128.5 381.9h0M148.0 373.4h0M122.2 372.6h0M125.6 367.1h0M166.5 338.6h0M127.4 381.8h0M121.6 375.5h0M165.1 360.1h0M124.0 381.0h0M146.0 374.4h0M125.5 367.3h0M177.5 342.6h0M174.3 351.0h0" stroke="#ca2b25" stroke-width="2.0" stroke-linecap="round"/>
<path d="M123.7 369.8h0M134.6 380.5h0M166.1 359.1h0M159.7 365.6h0M139.3 354.4h0M134.1 380.6h0M121.8 375.0h0M169.0 356.3h0M175.9 339.8h0M165.4 339.1h0M164.7 360.4h0M176.2 340.2h0M160.3 365.0h0M129.1 381.7h0M177.3 342.4h0M131.4 381.3h0M156.2 368.6h0M126.2 381.4h0M121.9 375.1h0M142.4 376.2h0M166.9 338.7h0M173.7 351.5h0M130.5 381.4h0M121.9 375.6h0M123.9 380.5h0M121.9 376.6h0M134.6 380.3h0M122.2 373.8h0M142.5 376.1h0M131.3 381.2h0M148.1 346.9h0M129.6 363.5h0M169.0 338.3h0M175.9 340.2h0M177.2 343.6h0M141.2 352.9h0M137.6 378.8h0M143.0 351.4h0M167.0 338.9h0M137.3 378.9h0M177.1 344.2h0M142.3 376.0h0M165.8 339.3h0M146.3 348.5h0M176.7 345.9h0M158.0 366.9h0M132.3 380.8h0M175.6 348.5h0M160.4 364.6h0M134.9 379.9h0M166.7 358.1h0M135.1 358.5h0M176.9 343.0h0M140.9 376.8h0M172.9 352.1h0M122.9 372.7h0M132.4 361.2h0M149.6 346.0h0M124.5 380.3h0M141.0 353.3h0M176.9 343.6h0M157.2 367.5h0M147.5 347.6h0M137.3 378.7h0M176.2 341.4h0M176.9 344.3h0M150.7 345.4h0M169.4 338.6h0M146.7 348.2h0M175.9 347.5h0M122.5 375.6h0M128.6 364.9h0M174.5 349.9h0M150.7 371.6h0M122.8 373.8h0M149.8 372.0h0M135.3 379.5h0M168.6 356.1h0M124.3 370.3h0M133.0 360.7h0M125.4 368.5h0M122.6 376.5h0M155.3 368.7h0M130.6 363.1h0M175.4 340.6h0M152.5 370.6h0M125.9 380.5h0M166.4 358.1h0M169.7 355.0h0M151.0 345.3h0M170.6 354.1h0M173.7 350.7h0M146.3 348.7h0M171.0 338.8h0M165.7 358.7h0M176.4 342.5h0M122.8 375.0h0M175.9 341.5h0M141.7 376.0h0M125.6 380.2h0M127.2 380.6h0M123.2 373.3h0M158.0 342.7h0M165.4 358.9h0M154.4 343.9h0M153.6 344.2h0M130.6 380.6h0M144.0 350.9h0M171.7 352.9h0M123.9 371.7h0M172.1 352.3h0M162.9 340.9h0M123.9 378.7h0M152.9 370.1h0M134.1 379.7h0M173.3 350.9h0M131.1 380.4h0M160.3 364.2h0M174.3 340.2h0M168.4 339.2h0M134.5 359.6h0M169.1 339.1h0M176.3 344.0h0M175.5 347.3h0M124.7 370.5h0M168.8 339.2h0M123.7 378.0h0M125.3 379.6h0M129.8 380.5h0M139.7 376.9h0M162.0 341.4h0M123.4 377.2h0M123.5 377.3h0M166.7 339.7h0M133.8 379.6h0M171.4 352.9h0M127.4 380.3h0M141.7 375.7h0" stroke="#d83b22" stroke-width="2.0" stroke-linecap="round"/>
<path d="M127.5 366.7h0M174.7 348.6h0M151.2 370.9h0M175.5 347.0h0M124.8 379.0h0M141.0 376.0h0M133.2 379.7h0M160.8 341.9h0M135.5 358.8h0M123.4 375.7h0M142.0 353.0h0M143.3 351.8h0M131.9 362.5h0M127.0 367.4h0M172.2 339.6h0M123.5 375.0h0M123.5 374.7h0M130.7 380.1h0M176.0 344.2h0M126.7 379.9h0M170.1 339.4h0M125.2 370.1h0M133.6 379.5h0M173.4 340.1h0M127.8 380.1h0M175.7 346.0h0M175.7 345.7h0M147.5 372.6h0M141.8 375.5h0M144.1 351.2h0M165.6 358.2h0M167.2 356.7h0M167.9 339.7h0M166.8 357.0h0M123.7 375.5h0M124.1 373.2h0M163.6 341.1h0M135.4 378.6h0M158.4 365.6h0M125.0 371.1h0M134.3 379.0h0M128.0 379.8h0M126.1 379.2h0M161.6 341.9h0M173.7 340.7h0M139.0 376.8h0M149.3 347.0h0M173.2 350.1h0M138.9 356.0h0M129.7 365.0h0M125.3 370.6h0M127.9 367.0h0M162.9 360.7h0M174.8 347.5h0M127.7 367.2h0M137.4 377.5h0M125.0 378.1h0M170.8 352.9h0M175.2 346.0h0M173.1 350.1h0M160.3 363.5h0M128.0 367.0h0M128.3 366.7h0M155.2 344.2h0M133.6 361.2h0M131.9 379.4h0M124.5 376.5h0M167.7 355.8h0M137.8 357.1h0M131.3 379.4h0M124.4 375.8h0M149.0 347.5h0M126.5 369.1h0M131.9 379.3h0M159.4 364.2h0M172.4 340.6h0M170.2 340.1h0M135.6 378.0h0M129.8 379.4h0M174.9 346.1h0M152.0 370.0h0M157.8 343.5h0M139.7 376.0h0M156.7 366.8h0M133.3 361.7h0M149.9 347.0h0M174.9 344.1h0M155.3 344.5h0M131.5 363.7h0M124.8 375.7h0M136.4 358.7h0M171.5 340.5h0M141.8 374.8h0M125.6 377.4h0M159.5 343.1h0M148.2 348.3h0M142.8 352.9h0M164.8 341.3h0M169.4 340.3h0M167.5 355.6h0M174.4 342.9h0M140.3 375.5h0M174.8 344.6h0M151.1 370.3h0M172.4 350.3h0M144.3 373.5h0M154.8 368.1h0M129.5 379.0h0M174.7 344.5h0M174.3 347.0h0M125.4 376.6h0M127.4 378.6h0M127.8 378.7h0M173.0 349.4h0M169.9 353.1h0M140.0 375.6h0M127.1 369.1h0M125.1 374.5h0M170.3 352.6h0M127.7 368.3h0M126.2 370.8h0M131.5 378.8h0M140.5 355.1h0" stroke="#e64a1f" stroke-width="2.0" stroke-linecap="round"/>
<path d="M163.9 359.0h0M136.9 377.1h0M146.7 349.7h0M127.5 378.4h0M148.7 348.1h0M169.4 340.6h0M174.4 345.8h0M130.3 378.8h0M128.7 378.7h0M150.5 346.9h0M159.1 364.2h0M163.1 342.1h0M125.3 374.7h0M170.6 352.1h0M139.5 375.8h0M126.1 377.0h0M166.3 356.4h0M125.4 374.5h0M132.2 378.5h0M130.7 365.1h0M156.5 366.5h0M153.4 345.5h0M165.4 357.3h0M158.2 365.0h0M172.4 341.5h0M127.3 369.4h0M132.7 378.3h0M172.2 341.5h0M173.2 342.3h0M155.4 344.8h0M151.0 370.1h0M127.0 377.5h0M159.4 363.7h0M127.0 370.2h0M136.3 359.3h0M133.8 377.9h0M143.0 353.2h0M172.0 350.1h0M145.7 372.5h0M168.8 341.0h0M126.4 376.6h0M162.0 342.7h0M156.2 344.6h0M155.9 344.7h0M171.5 350.7h0M137.0 358.6h0M126.3 372.0h0M171.5 350.7h0M133.5 377.9h0M136.1 377.0h0M126.0 375.2h0M125.9 373.7h0M174.0 345.1h0M126.3 376.2h0M126.2 376.0h0M129.6 378.2h0M126.0 375.0h0M173.9 344.6h0M129.4 378.1h0M153.0 345.8h0M129.0 367.5h0M138.5 375.8h0M155.4 367.2h0M168.0 354.3h0M126.1 373.5h0M155.5 367.1h0M136.2 376.8h0M155.7 344.9h0M129.9 366.5h0M155.6 344.9h0M128.4 377.6h0M173.7 345.0h0M155.4 367.1h0M170.3 351.7h0M126.4 373.3h0M160.1 343.6h0M127.1 370.9h0M142.3 354.0h0M126.4 373.7h0M149.5 348.0h0M126.8 375.9h0M173.5 345.2h0M172.8 343.0h0M133.2 377.6h0M146.6 371.8h0M157.5 365.2h0M172.3 342.6h0M142.8 373.5h0M152.8 346.2h0M164.5 357.6h0M139.1 356.9h0M169.9 352.0h0M134.2 377.2h0M163.0 342.8h0M151.5 346.8h0M163.8 342.5h0M140.5 355.7h0M164.0 342.5h0M128.8 377.3h0M128.2 377.0h0M156.3 366.2h0M173.0 343.8h0M142.2 373.6h0M171.5 342.3h0M146.2 371.8h0M169.1 352.7h0M134.1 377.1h0M172.3 342.9h0M166.8 355.1h0M165.5 356.4h0M171.4 342.3h0M157.3 344.6h0M163.9 342.6h0M160.0 362.4h0M172.8 343.8h0M170.3 341.9h0M173.1 345.7h0M173.1 344.8h0M173.1 345.3h0M143.8 352.9h0M165.8 356.1h0M165.1 356.7h0M172.9 344.4h0M137.2 359.0h0M130.8 377.4h0M127.3 375.3h0M173.0 345.9h0M165.2 342.4h0M128.6 369.2h0M171.5 342.6h0M171.4 349.6h0M153.1 368.4h0M170.0 342.0h0M164.3 357.4h0M133.9 362.6h0M164.8 357.0h0M141.1 355.4h0M172.9 345.7h0M128.6 369.3h0M172.6 347.3h0M147.6 371.1h0M145.2 351.8h0M127.6 371.5h0M136.8 359.4h0M133.9 362.7h0M154.7 345.7h0M130.0 367.4h0M164.2 342.8h0M168.9 342.0h0M167.8 353.8h0M153.5 368.1h0M158.3 344.5h0" stroke="#ed5b1e" stroke-width="2.0" stroke-linecap="round"/>
<path d="M139.4 357.0h0M151.9 346.9h0M167.9 342.1h0M154.5 367.4h0M171.8 348.7h0M129.0 376.5h0M135.5 376.3h0M129.8 376.8h0M140.5 356.1h0M164.1 357.4h0M167.8 353.6h0M170.6 350.3h0M166.9 342.3h0M148.0 349.6h0M155.4 345.6h0M163.6 357.9h0M172.3 344.6h0M170.0 342.5h0M130.8 376.8h0M132.1 365.2h0M158.9 344.5h0M128.5 370.3h0M172.1 347.4h0M160.8 361.1h0M129.4 376.3h0M127.9 372.3h0M170.2 342.6h0M135.3 376.1h0M165.2 356.1h0M136.7 359.8h0M128.2 371.5h0M169.4 342.6h0M162.7 358.8h0M159.0 363.1h0M163.5 343.3h0M137.8 375.1h0M132.1 376.6h0M147.4 370.9h0M129.7 368.6h0M128.9 370.2h0M134.8 376.1h0M161.1 360.5h0M148.3 370.5h0M137.0 359.7h0M129.2 375.7h0M161.5 344.0h0M171.5 344.0h0M129.6 375.9h0M163.7 343.4h0M166.1 342.9h0M165.1 355.9h0M150.8 369.3h0M147.4 350.4h0M160.9 344.2h0M156.1 345.6h0M129.3 369.6h0M144.4 372.0h0M170.0 350.4h0M167.9 342.8h0M128.9 370.7h0M130.2 368.2h0M131.2 366.9h0M152.2 347.2h0M171.5 347.4h0M152.4 347.1h0M166.1 343.0h0M171.7 346.9h0M134.8 362.4h0M129.9 375.6h0M130.4 375.9h0M133.9 376.0h0M170.6 349.2h0M156.0 345.7h0M146.0 371.3h0M128.9 371.1h0M150.5 348.3h0M152.9 346.9h0M171.2 348.0h0M161.0 344.3h0M156.9 345.5h0M151.5 347.6h0M165.8 343.2h0M168.2 352.4h0M135.5 361.6h0M134.9 362.3h0M140.9 373.3h0M134.8 362.5h0M146.6 351.2h0M170.6 348.9h0M166.4 343.2h0M157.7 345.3h0M168.2 343.1h0M140.2 373.6h0M152.1 368.3h0M167.9 352.6h0M162.6 344.0h0M153.9 346.6h0M168.7 343.2h0M133.1 375.8h0M139.9 357.2h0M140.1 357.1h0M160.5 360.7h0M161.7 359.2h0M156.8 345.7h0M131.4 375.6h0M161.8 359.1h0M160.1 361.2h0M169.6 350.1h0M169.0 351.0h0M171.2 346.7h0M151.7 347.7h0M135.7 375.1h0M132.0 375.6h0M155.9 346.0h0M167.3 343.4h0M165.8 354.6h0M170.7 347.9h0M170.9 347.3h0M162.3 344.3h0M167.9 343.5h0M129.9 370.3h0M146.4 351.6h0M134.4 363.3h0M155.4 365.9h0M150.3 369.1h0M139.9 373.4h0M162.5 358.2h0M131.9 366.7h0M169.6 349.8h0M130.2 369.6h0M145.6 371.1h0M129.5 372.8h0M142.7 372.2h0M147.9 370.2h0M163.7 344.0h0M141.6 355.8h0M151.7 347.9h0M134.0 364.0h0" stroke="#f06c20" stroke-width="2.0" stroke-linecap="round"/>
<path d="M129.6 372.3h0M170.0 344.5h0M140.0 373.3h0M132.2 375.2h0M129.7 372.6h0M166.8 343.7h0M161.4 344.7h0M131.9 375.1h0M169.9 349.1h0M136.7 360.8h0M165.6 343.8h0M135.8 374.8h0M140.4 373.0h0M151.4 368.4h0M132.1 374.9h0M156.5 346.0h0M130.0 371.1h0M129.9 371.9h0M134.7 363.4h0M170.5 346.6h0M153.1 367.4h0M134.4 363.7h0M165.2 354.8h0M136.2 374.5h0M130.1 372.6h0M148.5 369.7h0M165.0 355.0h0M147.0 351.4h0M153.0 347.4h0M152.5 347.7h0M136.7 374.3h0M168.8 344.3h0M165.9 344.0h0M133.9 374.8h0M139.7 373.1h0M169.5 345.0h0M131.1 369.2h0M139.8 373.1h0M163.6 356.4h0M130.8 370.0h0M160.8 359.7h0M141.6 356.2h0M151.1 348.5h0M167.1 352.3h0M152.3 367.8h0M147.6 351.1h0M169.0 344.8h0M135.7 374.3h0M133.8 365.0h0M167.1 352.2h0M168.2 344.5h0M136.9 373.9h0M144.2 371.2h0M160.5 345.3h0M161.4 358.8h0M132.8 374.3h0M139.8 357.9h0M165.0 344.4h0M169.4 345.5h0M168.2 344.6h0M169.4 348.6h0M165.1 354.5h0M130.8 372.3h0M162.3 357.7h0M151.0 368.4h0M166.2 353.2h0M160.6 345.4h0M158.0 362.9h0M163.4 344.8h0M168.7 345.0h0M154.0 366.5h0M134.5 374.3h0M168.7 349.7h0M131.7 373.5h0M149.5 369.0h0M135.8 374.0h0M168.8 345.3h0M158.3 362.5h0M144.3 354.1h0M165.8 344.6h0M165.2 344.7h0M132.7 367.2h0M159.4 345.8h0M145.9 370.4h0M137.7 360.3h0M131.8 369.0h0M131.3 372.1h0M151.6 368.0h0M142.4 355.7h0M151.1 348.9h0M138.8 372.9h0M133.2 366.5h0M132.2 373.2h0M133.2 366.6h0M144.2 370.9h0M168.9 348.3h0M165.1 354.1h0M152.4 367.4h0M157.5 363.2h0M167.6 350.9h0M131.6 370.6h0M148.0 369.5h0M134.1 373.7h0M166.9 351.7h0M140.6 357.5h0M168.7 348.5h0M131.9 369.7h0M159.5 345.9h0M131.8 372.1h0M168.4 349.1h0M165.3 353.7h0M135.3 373.5h0M165.5 353.3h0M145.7 370.3h0M133.2 367.0h0M138.4 372.8h0M138.1 372.9h0M133.2 373.2h0M134.1 365.5h0M163.7 345.3h0M139.3 372.5h0M137.9 372.9h0M135.9 362.8h0M136.9 373.2h0M132.0 371.6h0M132.8 372.9h0M145.0 353.7h0M162.8 356.4h0M156.8 346.7h0M138.8 359.4h0M167.6 350.2h0M132.1 370.0h0M168.5 347.3h0M133.4 373.1h0M143.4 371.0h0M132.1 371.4h0M143.4 371.0h0M168.5 347.7h0M132.1 371.1h0M168.1 346.4h0M165.9 352.5h0M132.8 372.6h0M133.5 366.8h0M133.3 367.2h0M140.6 371.9h0M156.2 346.9h0" stroke="#f37c21" stroke-width="2.0" stroke-linecap="round"/>
<path d="M135.0 364.4h0M166.3 345.5h0M133.8 366.4h0M132.6 369.0h0M138.9 359.5h0M158.9 361.2h0M152.2 367.2h0M135.9 373.0h0M136.8 362.0h0M167.5 346.3h0M167.4 346.2h0M160.2 346.2h0M163.1 345.7h0M158.2 361.9h0M149.8 368.4h0M155.0 347.5h0M137.5 361.2h0M153.3 366.4h0M167.7 348.9h0M132.9 369.2h0M164.1 345.7h0M167.1 350.2h0M133.9 372.5h0M167.0 346.3h0M160.5 346.2h0M136.6 372.7h0M159.7 359.9h0M140.5 371.6h0M133.1 368.8h0M162.9 346.0h0M165.2 345.9h0M143.8 370.6h0M164.4 345.9h0M163.8 345.9h0M135.5 364.2h0M161.2 346.2h0M140.0 358.6h0M166.6 346.4h0M133.5 371.6h0M133.1 370.4h0M165.1 346.0h0M167.2 347.1h0M140.7 371.5h0M150.7 367.8h0M165.3 352.5h0M133.7 371.6h0M158.8 346.7h0M158.8 360.8h0M133.7 371.6h0M134.5 372.1h0M136.4 372.3h0M134.9 365.4h0M167.1 348.5h0M133.4 370.0h0M134.3 371.8h0M135.6 364.4h0M140.0 371.5h0M165.4 346.4h0M136.0 372.2h0M153.8 348.2h0M147.2 369.2h0M134.7 366.2h0M164.3 353.5h0M144.0 370.2h0M145.2 369.8h0M155.4 347.7h0M166.4 347.3h0M141.0 357.9h0M166.0 350.9h0M133.7 369.9h0M134.5 371.5h0M138.0 371.8h0M165.1 352.1h0M134.0 368.5h0M138.1 361.1h0M136.2 371.8h0M165.8 347.1h0M165.9 347.3h0M140.3 358.7h0M162.9 355.0h0M149.3 368.2h0M134.0 369.2h0M166.1 347.6h0M134.6 366.9h0M162.8 346.6h0M163.1 354.8h0M137.5 362.0h0M136.0 364.2h0M135.3 365.5h0M134.1 369.5h0M153.8 348.5h0M160.2 346.9h0M140.5 371.0h0M144.1 370.0h0M147.3 352.6h0M165.7 347.5h0M159.0 360.1h0M146.9 352.9h0M158.0 347.3h0M154.8 364.7h0M134.3 369.8h0M138.7 360.6h0M166.0 349.0h0M137.3 371.5h0M137.7 362.0h0M165.7 348.2h0M165.5 350.5h0M162.4 347.0h0M163.2 354.3h0M160.7 357.6h0M165.4 350.4h0M165.2 347.9h0M147.4 352.7h0M149.9 367.7h0M158.1 361.0h0" stroke="#f68d22" stroke-width="2.0" stroke-linecap="round"/>
<path d="M148.9 351.6h0M142.9 370.1h0M148.5 368.3h0M140.4 370.7h0M156.3 348.0h0M135.2 366.8h0M136.9 371.0h0M163.9 352.8h0M139.3 370.8h0M148.0 368.4h0M137.8 362.1h0M135.8 370.5h0M162.7 347.4h0M135.4 370.0h0M135.3 369.9h0M135.5 370.1h0M141.7 357.8h0M158.8 347.6h0M164.4 351.8h0M155.3 348.3h0M164.7 351.0h0M135.4 369.7h0M152.3 366.3h0M144.8 355.0h0M136.1 365.2h0M146.3 353.8h0M142.5 370.0h0M140.2 359.4h0M139.4 370.6h0M163.1 353.6h0M139.3 370.6h0M162.4 347.6h0M135.3 368.7h0M157.1 361.9h0M162.2 355.0h0M151.4 350.1h0M164.5 348.7h0M163.0 353.6h0M138.3 370.6h0M164.7 349.7h0M158.8 359.7h0M136.8 370.3h0M155.0 364.0h0M145.9 368.9h0M135.7 369.3h0M163.3 348.1h0M150.0 367.3h0M164.5 349.5h0M164.4 350.6h0M154.5 364.4h0M164.4 349.8h0M137.6 370.4h0M140.6 370.2h0M157.6 361.1h0M136.4 369.9h0M136.1 369.5h0M164.4 349.6h0M161.1 347.8h0M145.1 355.1h0M164.1 350.9h0M136.7 364.6h0M164.2 349.3h0M156.1 362.8h0M161.0 347.9h0M160.1 347.9h0M143.4 369.5h0M163.5 348.5h0M155.1 348.7h0M161.7 355.2h0M164.1 349.9h0M163.3 348.5h0M138.7 370.2h0M163.1 348.4h0M136.0 368.7h0M136.1 366.9h0M163.2 352.5h0M137.3 363.8h0M143.0 369.5h0M136.2 368.5h0M160.2 348.1h0M145.3 355.0h0M158.9 359.0h0M141.3 358.8h0M155.6 363.2h0M143.3 356.9h0M142.4 369.5h0M144.9 355.5h0M160.0 357.3h0M140.3 369.8h0M139.4 360.9h0M137.6 363.7h0M160.6 348.3h0M136.4 367.4h0M141.9 369.5h0M157.3 348.5h0M157.1 361.3h0M162.7 352.7h0M138.6 369.7h0M163.4 350.4h0M163.2 351.2h0M142.3 369.4h0M136.5 367.4h0M162.5 349.0h0M161.3 348.6h0M159.6 348.5h0M141.0 369.5h0M143.3 357.1h0M137.9 369.3h0M141.7 369.4h0M137.0 368.5h0M154.3 349.4h0M157.2 360.9h0M162.7 352.1h0M157.6 348.7h0M149.0 352.4h0M162.8 350.5h0M152.3 350.3h0" stroke="#f89c25" stroke-width="2.0" stroke-linecap="round"/>
<path d="M137.0 367.6h0M154.8 363.6h0M139.3 369.3h0M159.0 358.3h0M162.5 350.0h0M137.8 364.1h0M162.7 351.0h0M147.2 353.9h0M153.5 349.9h0M155.2 363.1h0M161.5 354.1h0M156.4 361.7h0M146.2 354.8h0M153.4 350.0h0M162.4 351.7h0M139.8 361.0h0M162.3 350.2h0M149.5 352.2h0M146.5 354.6h0M149.4 367.0h0M160.2 349.0h0M154.9 363.3h0M137.6 365.1h0M162.1 350.3h0M145.2 355.7h0M149.2 352.5h0M144.8 368.4h0M161.9 350.1h0M137.6 367.6h0M137.4 366.4h0M159.8 356.7h0M137.7 365.2h0M138.5 363.2h0M152.9 364.9h0M155.4 362.7h0M148.5 367.2h0M161.4 349.9h0M157.0 349.2h0M149.9 366.6h0M138.8 362.9h0M139.3 362.1h0M147.6 367.5h0M160.8 354.5h0M157.5 360.0h0M160.8 354.6h0M152.2 365.2h0M147.4 367.5h0M152.6 365.0h0M150.6 351.8h0M139.0 362.8h0M137.8 366.6h0M160.5 355.0h0M138.4 367.8h0M159.3 357.0h0M148.9 366.9h0M140.2 361.1h0M139.2 362.6h0M161.2 350.7h0M158.4 358.3h0M159.6 349.7h0M145.5 355.7h0M159.3 356.9h0M138.5 364.0h0M145.9 355.4h0M161.1 350.8h0M160.2 350.0h0M160.4 350.1h0M160.9 350.6h0M140.9 360.3h0M138.2 366.7h0M161.2 352.7h0M158.2 349.6h0M147.0 367.5h0M139.8 361.8h0M152.8 350.7h0M138.5 367.4h0M142.5 358.6h0M142.0 359.2h0M158.6 357.8h0M159.9 350.0h0M161.1 351.8h0M140.4 361.1h0M139.0 367.6h0M159.4 350.0h0M143.0 368.2h0M155.6 350.0h0M151.6 351.5h0M140.1 361.7h0M140.7 368.1h0M157.9 358.7h0M139.7 362.3h0M156.5 350.0h0M139.6 362.5h0M143.9 368.0h0M139.8 367.8h0M155.7 361.6h0M160.3 350.9h0M138.9 364.2h0M149.7 366.2h0M159.9 354.8h0M146.8 367.2h0M151.4 365.3h0M153.9 350.7h0M141.7 367.9h0M139.9 362.3h0" stroke="#f9a929" stroke-width="2.0" stroke-linecap="round"/>
<path d="M140.5 367.7h0M139.8 362.6h0M140.2 367.6h0M139.9 362.5h0M155.1 362.1h0M150.1 352.7h0M158.0 350.3h0M139.0 364.8h0M156.8 350.3h0M139.0 365.8h0M141.3 360.5h0M147.4 354.7h0M140.3 367.3h0M159.2 355.4h0M152.1 364.5h0M148.3 354.1h0M151.2 365.2h0M158.5 356.8h0M149.2 353.5h0M139.7 366.6h0M153.5 363.5h0M150.6 352.6h0M145.7 356.3h0M145.7 356.3h0M139.4 365.4h0M154.3 350.9h0M152.2 351.7h0M140.0 363.0h0M151.3 352.3h0M154.7 350.9h0M154.9 350.8h0M150.3 365.5h0M151.2 365.0h0M158.2 350.9h0M154.8 350.9h0M140.0 363.1h0M139.6 364.4h0M145.3 367.1h0M153.0 363.7h0M157.7 357.8h0M139.6 365.4h0M157.7 350.9h0M153.1 363.6h0M139.7 364.4h0M150.5 365.3h0M144.1 357.9h0M149.5 353.5h0M139.7 364.4h0M140.3 366.6h0M145.4 356.8h0M158.6 351.4h0M159.1 354.4h0M147.2 366.6h0M157.2 351.0h0M155.4 351.0h0M157.6 351.1h0M140.5 366.5h0M157.0 351.0h0M149.2 353.9h0M159.2 352.6h0M141.0 361.7h0M152.1 364.2h0M155.7 360.6h0M157.3 351.2h0M153.3 351.7h0M144.6 357.6h0M157.4 357.9h0M157.3 351.2h0M140.1 364.6h0M158.8 352.4h0M140.5 362.9h0M146.8 355.8h0M156.1 351.2h0M159.0 353.1h0M153.4 363.0h0M156.1 351.2h0M153.4 363.0h0M158.8 352.7h0M142.9 359.5h0M149.4 353.9h0M144.7 366.8h0M153.8 362.5h0M158.7 353.4h0M154.9 361.3h0M156.6 359.0h0M158.7 353.0h0M150.3 353.4h0M156.8 351.5h0M144.0 358.4h0M144.6 366.8h0M141.1 366.1h0M146.8 366.4h0M157.9 352.0h0M140.5 364.5h0M150.5 353.3h0M153.8 351.8h0M156.6 358.8h0M143.5 366.7h0M140.6 364.3h0M149.5 365.3h0M158.1 352.5h0M158.1 355.5h0M153.9 351.9h0M157.3 357.3h0M143.0 366.6h0M158.1 355.4h0" stroke="#fab62e" stroke-width="2.0" stroke-linecap="round"/>
<path d="M151.1 353.1h0M141.4 362.1h0M146.9 356.1h0M157.8 352.6h0M158.2 354.4h0M156.1 351.8h0M140.8 363.9h0M156.9 352.0h0M144.4 358.4h0M149.1 354.5h0M147.0 366.1h0M153.4 362.6h0M141.0 365.0h0M142.7 366.3h0M158.1 353.6h0M143.5 366.4h0M156.3 352.0h0M142.2 366.0h0M142.7 366.2h0M143.3 359.7h0M151.2 364.2h0M157.9 354.3h0M151.8 363.8h0M152.2 363.5h0M157.6 353.1h0M146.5 366.0h0M153.3 352.4h0M143.6 366.2h0M141.3 364.2h0M141.6 362.5h0M155.5 352.2h0M142.0 365.5h0M155.7 359.5h0M157.2 356.5h0M152.1 363.4h0M154.5 352.3h0M147.1 356.4h0M143.8 359.4h0M150.5 364.4h0M154.4 361.1h0M142.0 365.3h0M157.3 353.4h0M156.7 357.3h0M141.7 362.8h0M157.1 356.3h0M157.2 355.9h0M154.1 361.4h0M155.3 352.4h0M150.4 354.1h0M141.9 362.5h0M150.0 364.6h0M155.4 359.5h0M143.2 360.4h0M157.2 355.3h0M157.2 355.0h0M151.7 353.5h0M147.6 365.4h0M152.0 353.3h0M147.1 365.5h0M154.7 352.7h0M157.1 354.4h0M149.7 354.7h0M155.3 352.8h0M148.0 365.2h0M142.3 362.2h0M156.9 354.5h0M154.1 352.9h0M144.4 365.6h0M156.1 353.2h0M147.6 365.2h0M146.9 365.4h0M154.9 359.8h0M148.7 364.9h0M143.8 360.0h0M152.2 362.8h0M156.8 354.5h0M142.3 362.8h0M142.2 363.6h0M153.7 361.3h0M150.9 354.1h0M156.1 353.5h0M156.0 353.4h0M153.3 353.2h0M142.3 362.9h0M151.7 363.2h0M153.0 353.3h0M150.7 354.4h0M153.0 362.0h0M155.3 353.3h0M151.0 363.6h0M144.1 359.8h0M142.9 364.6h0M148.9 355.5h0M145.5 365.3h0M143.5 360.7h0M156.3 354.2h0M146.4 365.2h0M153.0 353.5h0M152.3 353.7h0M152.5 362.3h0M148.6 355.8h0M154.0 353.4h0M156.1 354.2h0M142.6 363.5h0M142.7 363.6h0M146.9 365.0h0M142.8 364.0h0M142.7 363.0h0M155.5 353.8h0M143.1 364.4h0" stroke="#fbc332" stroke-width="2.0" stroke-linecap="round"/>
<path d="M153.1 361.5h0M152.8 361.9h0M149.6 355.3h0M144.7 359.6h0M143.5 364.6h0M150.7 354.7h0M155.9 354.5h0M144.9 365.0h0M156.0 356.1h0M155.6 357.6h0M154.7 359.4h0M150.8 354.7h0M144.0 364.7h0M143.7 364.5h0M145.3 359.0h0M145.0 364.9h0M155.7 354.6h0M148.4 356.3h0M152.2 362.2h0M153.3 361.1h0M154.6 359.3h0M150.8 354.8h0M143.3 362.2h0M152.4 362.0h0M145.6 364.8h0M146.6 357.9h0M155.7 355.9h0M143.3 362.7h0M153.0 354.1h0M145.7 358.8h0M145.9 358.7h0M149.2 363.9h0M146.7 364.6h0M145.6 359.0h0M150.8 355.0h0M143.5 363.5h0M154.2 359.6h0M154.9 358.4h0M143.8 364.0h0M153.7 360.3h0M154.6 354.3h0M155.5 356.0h0M143.7 361.9h0M144.7 360.2h0M144.7 360.2h0M153.4 354.3h0M150.3 363.2h0M154.9 354.8h0M144.7 360.3h0M148.4 364.1h0M145.9 359.0h0M144.0 363.7h0M151.9 362.0h0M154.5 354.6h0M148.7 356.5h0M153.4 360.4h0M143.8 362.4h0M155.1 355.5h0M148.1 357.0h0M152.2 361.6h0M154.5 358.4h0M152.4 354.7h0M145.6 364.2h0M146.0 359.0h0M146.9 364.2h0M145.8 364.2h0M149.2 356.3h0M145.5 359.6h0M152.9 360.8h0M150.6 355.5h0M144.7 360.7h0M149.6 363.4h0M146.6 364.1h0M152.9 354.8h0M144.3 361.5h0M153.3 354.8h0M147.7 363.9h0M154.7 357.0h0M148.0 357.5h0M153.2 355.0h0M152.9 360.5h0M145.7 363.9h0M154.5 355.9h0M148.3 363.6h0M144.8 363.3h0M154.1 355.5h0M153.4 355.2h0M154.2 355.7h0M144.7 361.6h0M150.9 355.7h0M145.4 363.7h0M144.6 362.0h0M146.5 359.0h0M147.6 358.0h0M148.7 357.1h0M154.2 357.6h0M152.6 355.4h0M145.5 360.4h0M145.4 363.4h0M154.0 356.0h0M146.9 363.6h0M153.8 355.9h0M148.6 357.4h0M151.1 361.8h0M145.7 363.2h0M145.1 362.2h0M152.6 355.7h0M153.9 356.9h0M152.1 355.7h0M149.6 356.8h0" stroke="#fcd037" stroke-width="2.0" stroke-linecap="round"/>
<path d="M145.2 361.5h0M152.6 360.1h0M146.8 359.1h0M148.3 357.8h0M148.0 358.0h0M145.3 361.5h0M147.4 358.6h0M153.8 357.3h0M151.8 355.9h0M153.8 356.9h0M145.3 361.6h0M152.2 355.9h0M150.6 362.0h0M149.6 362.6h0M151.6 356.1h0M145.7 360.8h0M145.7 360.9h0M147.1 363.1h0M151.6 361.1h0M153.6 357.3h0M153.2 356.3h0M149.8 362.4h0M150.8 356.5h0M146.5 362.9h0M147.7 363.0h0M148.2 358.2h0M149.9 362.2h0M146.6 362.9h0M152.6 359.6h0M150.4 361.8h0M149.5 357.3h0M148.2 358.3h0M153.0 356.9h0M152.9 356.7h0M149.2 357.6h0M148.2 362.7h0M147.3 359.3h0M147.5 359.1h0M151.9 360.2h0M149.7 357.4h0M152.7 357.1h0M148.4 358.4h0M146.3 361.9h0M150.6 357.1h0M151.9 360.0h0M151.6 356.9h0M152.5 358.9h0M150.4 361.5h0M147.6 359.4h0M146.6 361.1h0M152.2 359.3h0M150.5 361.2h0M147.8 362.2h0M152.0 359.4h0M147.4 362.0h0M148.6 360.3h0M147.7 361.4h0M150.7 359.7h0M147.7 360.8h0M151.8 359.0h0M148.9 360.1h0M150.3 359.7h0M152.2 358.6h0M148.2 360.6h0M151.8 358.7h0M149.1 361.8h0M152.2 358.8h0M149.4 359.0h0M147.7 359.6h0M150.0 357.7h0M149.8 358.8h0M150.4 360.3h0M147.2 360.6h0M148.8 359.6h0M148.2 361.5h0M149.3 361.4h0M148.6 358.8h0M149.6 359.5h0M151.2 359.9h0M151.4 359.3h0M147.5 360.8h0" stroke="#fdde3c" stroke-width="2.0" stroke-linecap="round"/>
<rect x="55.6" y="304.5" width="161.7" height="131.5" fill="none" stroke="#444" stroke-width="1"/>
<line x1="50.0" y1="410.4" x2="55.6" y2="410.4" stroke="#444" stroke-width="1"/>
<text x="0" y="0" font-size="10.8" fill="#222" stroke="#222" stroke-width="0.25" textLength="14.22" lengthAdjust="spacingAndGlyphs" transform="translate(43.60 416.16) rotate(-90)">0.2</text>
<line x1="50.0" y1="379.5" x2="55.6" y2="379.5" stroke="#444" stroke-width="1"/>
<text x="0" y="0" font-size="10.8" fill="#222" stroke="#222" stroke-width="0.25" textLength="14.17" lengthAdjust="spacingAndGlyphs" transform="translate(43.60 385.26) rotate(-90)">0.3</text>
<line x1="50.0" y1="348.6" x2="55.6" y2="348.6" stroke="#444" stroke-width="1"/>
<text x="0" y="0" font-size="10.8" fill="#222" stroke="#222" stroke-width="0.25" textLength="14.01" lengthAdjust="spacingAndGlyphs" transform="translate(43.60 354.35) rotate(-90)">0.4</text>
<line x1="50.0" y1="317.7" x2="55.6" y2="317.7" stroke="#444" stroke-width="1"/>
<text x="0" y="0" font-size="10.8" fill="#222" stroke="#222" stroke-width="0.25" textLength="14.17" lengthAdjust="spacingAndGlyphs" transform="translate(43.60 323.46) rotate(-90)">0.5</text>
<line x1="80.0" y1="436.0" x2="80.0" y2="441.0" stroke="#444" stroke-width="1"/>
<text x="74.40" y="454.20" font-size="10.5" fill="#222" stroke="#222" stroke-width="0.25" textLength="11.39" lengthAdjust="spacingAndGlyphs">40</text>
<line x1="105.2" y1="436.0" x2="105.2" y2="441.0" stroke="#444" stroke-width="1"/>
<text x="99.32" y="454.20" font-size="10.5" fill="#222" stroke="#222" stroke-width="0.25" textLength="11.72" lengthAdjust="spacingAndGlyphs">60</text>
<line x1="130.5" y1="436.0" x2="130.5" y2="441.0" stroke="#444" stroke-width="1"/>
<text x="124.68" y="454.20" font-size="10.5" fill="#222" stroke="#222" stroke-width="0.25" textLength="11.61" lengthAdjust="spacingAndGlyphs">80</text>
<line x1="155.8" y1="436.0" x2="155.8" y2="441.0" stroke="#444" stroke-width="1"/>
<text x="147.42" y="454.20" font-size="10.5" fill="#222" stroke="#222" stroke-width="0.25" textLength="16.31" lengthAdjust="spacingAndGlyphs">100</text>
<line x1="181.0" y1="436.0" x2="181.0" y2="441.0" stroke="#444" stroke-width="1"/>
<text x="172.67" y="454.20" font-size="10.5" fill="#222" stroke="#222" stroke-width="0.25" textLength="16.31" lengthAdjust="spacingAndGlyphs">120</text>
<line x1="206.2" y1="436.0" x2="206.2" y2="441.0" stroke="#444" stroke-width="1"/>
<text x="197.92" y="454.20" font-size="10.5" fill="#222" stroke="#222" stroke-width="0.25" textLength="16.31" lengthAdjust="spacingAndGlyphs">140</text>
<text x="63.76" y="318.00" font-size="10" stroke="#000" stroke-width="0.25" textLength="46.52" lengthAdjust="spacingAndGlyphs">cor =&#160; 0.81</text>
<text x="0" y="0" font-size="10.5" stroke="#000" stroke-width="0.25" textLength="96.87" lengthAdjust="spacingAndGlyphs" transform="translate(19.00 420.39) rotate(-90)">Expression of induced</text>
<text x="0" y="0" font-size="10.5" stroke="#000" stroke-width="0.25" textLength="140.49" lengthAdjust="spacingAndGlyphs" transform="translate(29.40 440.80) rotate(-90)">osmoconsensus per cell WT t15</text>
<text x="36.25" y="466.50" font-size="10" stroke="#000" stroke-width="0.25" textLength="196.98" lengthAdjust="spacingAndGlyphs">Number of detected genes/cell (avg.exp. &gt;0)</text>
<text x="79.25" y="478.30" font-size="10" stroke="#000" stroke-width="0.25" textLength="110.12" lengthAdjust="spacingAndGlyphs">induced osmoconsensus</text>
<text x="228.21" y="286.00" font-size="13.5" font-weight="bold" stroke="#000" stroke-width="0.25" textLength="8.95" lengthAdjust="spacingAndGlyphs">d</text>
<line x1="360.7" y1="430.0" x2="360.7" y2="436.0" stroke="#333" stroke-width="1"/>
<rect x="266.2" y="428.3" width="13.5" height="1.9" fill="#F4776E" stroke="#111" stroke-width="0.9"/>
<rect x="279.7" y="424.5" width="13.5" height="5.7" fill="#F4776E" stroke="#111" stroke-width="0.9"/>
<rect x="293.2" y="415.6" width="13.5" height="14.6" fill="#F4776E" stroke="#111" stroke-width="0.9"/>
<rect x="306.7" y="402.9" width="13.5" height="27.3" fill="#F4776E" stroke="#111" stroke-width="0.9"/>
<rect x="320.2" y="374.8" width="13.5" height="55.4" fill="#F4776E" stroke="#111" stroke-width="0.9"/>
<rect x="333.7" y="345.4" width="13.5" height="84.8" fill="#F4776E" stroke="#111" stroke-width="0.9"/>
<rect x="347.2" y="316.2" width="13.5" height="114.0" fill="#F4776E" stroke="#111" stroke-width="0.9"/>
<rect x="360.7" y="311.6" width="13.5" height="118.6" fill="#F4776E" stroke="#111" stroke-width="0.9"/>
<rect x="374.2" y="332.4" width="13.5" height="97.8" fill="#F4776E" stroke="#111" stroke-width="0.9"/>
<rect x="387.7" y="384.3" width="13.5" height="45.9" fill="#F4776E" stroke="#111" stroke-width="0.9"/>
<rect x="401.2" y="411.0" width="13.5" height="19.2" fill="#F4776E" stroke="#111" stroke-width="0.9"/>
<rect x="414.7" y="425.0" width="13.6" height="5.2" fill="#F4776E" stroke="#111" stroke-width="0.9"/>
<line x1="258.5" y1="306.3" x2="258.5" y2="436.2" stroke="#222" stroke-width="1.1"/>
<line x1="258.0" y1="436.2" x2="436.9" y2="436.2" stroke="#222" stroke-width="1.1"/>
<line x1="256.0" y1="429.8" x2="258.5" y2="429.8" stroke="#333" stroke-width="0.9"/>
<text x="249.52" y="433.20" font-size="10" fill="#4D4D4D" stroke="#4D4D4D" stroke-width="0.25" textLength="6.08" lengthAdjust="spacingAndGlyphs">0</text>
<line x1="256.0" y1="400.2" x2="258.5" y2="400.2" stroke="#333" stroke-width="0.9"/>
<text x="237.80" y="403.60" font-size="10" fill="#4D4D4D" stroke="#4D4D4D" stroke-width="0.25" textLength="17.81" lengthAdjust="spacingAndGlyphs">100</text>
<line x1="256.0" y1="370.0" x2="258.5" y2="370.0" stroke="#333" stroke-width="0.9"/>
<text x="238.07" y="373.40" font-size="10" fill="#4D4D4D" stroke="#4D4D4D" stroke-width="0.25" textLength="17.53" lengthAdjust="spacingAndGlyphs">200</text>
<line x1="256.0" y1="339.4" x2="258.5" y2="339.4" stroke="#333" stroke-width="0.9"/>
<text x="238.24" y="342.80" font-size="10" fill="#4D4D4D" stroke="#4D4D4D" stroke-width="0.25" textLength="17.37" lengthAdjust="spacingAndGlyphs">300</text>
<line x1="256.0" y1="309.0" x2="258.5" y2="309.0" stroke="#333" stroke-width="0.9"/>
<text x="238.39" y="312.40" font-size="10" fill="#4D4D4D" stroke="#4D4D4D" stroke-width="0.25" textLength="17.20" lengthAdjust="spacingAndGlyphs">400</text>
<line x1="300.0" y1="436.2" x2="300.0" y2="438.6" stroke="#333" stroke-width="0.9"/>
<text x="294.07" y="445.80" font-size="10" fill="#4D4D4D" stroke="#4D4D4D" stroke-width="0.25" textLength="11.82" lengthAdjust="spacingAndGlyphs">50</text>
<line x1="368.0" y1="436.2" x2="368.0" y2="438.6" stroke="#333" stroke-width="0.9"/>
<text x="358.90" y="445.80" font-size="10" fill="#4D4D4D" stroke="#4D4D4D" stroke-width="0.25" textLength="17.81" lengthAdjust="spacingAndGlyphs">100</text>
<line x1="436.9" y1="436.2" x2="436.9" y2="438.6" stroke="#333" stroke-width="0.9"/>
<text x="427.80" y="445.80" font-size="10" fill="#4D4D4D" stroke="#4D4D4D" stroke-width="0.25" textLength="17.81" lengthAdjust="spacingAndGlyphs">150</text>
<text x="0" y="0" font-size="10" stroke="#000" stroke-width="0.25" textLength="48.11" lengthAdjust="spacingAndGlyphs" transform="translate(236.00 390.81) rotate(-90)">Frequency</text>
<text x="256.11" y="456.60" font-size="10.5" stroke="#000" stroke-width="0.25" textLength="191.54" lengthAdjust="spacingAndGlyphs">Number of detected genes osmoconsensus</text>
<text x="446.90" y="286.00" font-size="13.5" font-weight="bold" stroke="#000" stroke-width="0.25" textLength="7.95" lengthAdjust="spacingAndGlyphs">e</text>
<path d="M497.6 301.1v4.5M498.8 301.1v4.5M504.5 301.1v4.5M505.6 301.1v4.5M509.1 301.1v4.5M514.8 301.1v4.5M544.9 301.1v4.5M549.5 301.1v4.5M552.9 301.1v4.5M570.2 301.1v4.5M589.7 301.1v4.5M595.5 301.1v4.5M602.4 301.1v4.5M608.1 301.1v4.5M615.0 301.1v4.5M616.2 301.1v4.5M626.5 301.1v4.5M654.1 301.1v4.5M656.4 301.1v4.5M661.0 301.1v4.5M663.3 301.1v4.5" stroke="#7a7a7a" stroke-width="1"/>
<path d="M499.9 301.1v4.5M506.8 301.1v4.5M513.7 301.1v4.5M518.3 301.1v4.5M530.9 301.1v4.5M541.4 301.1v4.5M543.7 301.1v4.5M551.8 301.1v4.5M562.1 301.1v4.5M571.3 301.1v4.5M604.7 301.1v4.5M607.0 301.1v4.5M609.3 301.1v4.5M612.7 301.1v4.5M613.9 301.1v4.5M630.0 301.1v4.5M632.3 301.1v4.5M634.6 301.1v4.5M638.0 301.1v4.5M644.9 301.1v4.5" stroke="#8a8a8a" stroke-width="1"/>
<path d="M501.0 301.1v4.5M510.2 301.1v4.5M512.5 301.1v4.5M520.6 301.1v4.5M524.0 301.1v4.5M525.2 301.1v4.5M546.0 301.1v4.5M557.5 301.1v4.5M569.0 301.1v4.5M574.8 301.1v4.5M590.9 301.1v4.5M601.2 301.1v4.5M617.3 301.1v4.5M649.5 301.1v4.5M651.8 301.1v4.5" stroke="#808080" stroke-width="1"/>
<path d="M502.2 301.1v4.5M521.7 301.1v4.5M528.6 301.1v4.5M547.2 301.1v4.5M554.1 301.1v4.5M564.4 301.1v4.5M581.7 301.1v4.5M598.9 301.1v4.5M633.4 301.1v4.5M636.9 301.1v4.5M642.6 301.1v4.5M643.8 301.1v4.5M657.6 301.1v4.5" stroke="#aaaaaa" stroke-width="1"/>
<path d="M507.9 301.1v4.5M511.4 301.1v4.5M516.0 301.1v4.5M522.9 301.1v4.5M558.7 301.1v4.5M567.9 301.1v4.5M575.9 301.1v4.5M584.0 301.1v4.5M603.5 301.1v4.5M619.6 301.1v4.5M647.2 301.1v4.5" stroke="#949494" stroke-width="1"/>
<path d="M519.4 301.1v4.5M529.8 301.1v4.5M556.4 301.1v4.5M621.9 301.1v4.5" stroke="#9e9e9e" stroke-width="1"/>
<rect x="497.6" y="301.1" width="1.3" height="4.5" fill="#e0443a"/>
<line x1="496.0" y1="297.2" x2="665.4" y2="297.2" stroke="#d9d9d9" stroke-width="1"/>
<text x="464.21" y="308.80" font-size="10" fill="#222" stroke="#222" stroke-width="0.25" textLength="28.44" lengthAdjust="spacingAndGlyphs">cell #1</text>
<path d="M497.6 316.5v4.5M498.8 316.5v4.5M503.3 316.5v4.5M518.3 316.5v4.5M521.7 316.5v4.5M536.7 316.5v4.5M539.0 316.5v4.5M542.4 316.5v4.5M550.5 316.5v4.5M579.2 316.5v4.5M585.0 316.5v4.5M591.9 316.5v4.5M594.2 316.5v4.5M609.1 316.5v4.5M613.7 316.5v4.5M644.8 316.5v4.5M658.9 316.5v4.5" stroke="#7a7a7a" stroke-width="1"/>
<path d="M499.9 316.5v4.5M504.5 316.5v4.5M507.9 316.5v4.5M524.0 316.5v4.5M525.2 316.5v4.5M528.6 316.5v4.5M530.9 316.5v4.5M555.1 316.5v4.5M576.9 316.5v4.5M581.5 316.5v4.5M589.6 316.5v4.5M598.8 316.5v4.5M604.5 316.5v4.5M605.7 316.5v4.5M608.0 316.5v4.5M622.9 316.5v4.5M639.0 316.5v4.5" stroke="#8a8a8a" stroke-width="1"/>
<path d="M501.0 316.5v4.5M502.2 316.5v4.5M513.7 316.5v4.5M514.8 316.5v4.5M544.7 316.5v4.5M556.2 316.5v4.5M610.3 316.5v4.5M627.5 316.5v4.5M628.7 316.5v4.5M634.4 316.5v4.5" stroke="#808080" stroke-width="1"/>
<path d="M505.6 316.5v4.5M506.8 316.5v4.5M511.4 316.5v4.5M517.1 316.5v4.5M520.6 316.5v4.5M532.1 316.5v4.5M553.9 316.5v4.5M570.0 316.5v4.5M574.6 316.5v4.5M575.8 316.5v4.5M580.4 316.5v4.5M595.3 316.5v4.5M602.2 316.5v4.5" stroke="#9e9e9e" stroke-width="1"/>
<path d="M516.0 316.5v4.5M551.6 316.5v4.5M582.7 316.5v4.5M611.4 316.5v4.5M618.3 316.5v4.5M626.4 316.5v4.5M631.0 316.5v4.5M632.1 316.5v4.5M643.6 316.5v4.5M661.2 316.5v4.5M663.5 316.5v4.5" stroke="#949494" stroke-width="1"/>
<path d="M519.4 316.5v4.5M522.9 316.5v4.5M535.5 316.5v4.5M540.1 316.5v4.5M548.2 316.5v4.5M557.4 316.5v4.5M563.1 316.5v4.5M573.5 316.5v4.5M606.8 316.5v4.5M614.9 316.5v4.5M620.6 316.5v4.5M624.1 316.5v4.5M641.3 316.5v4.5M642.5 316.5v4.5M654.3 316.5v4.5M662.3 316.5v4.5" stroke="#aaaaaa" stroke-width="1"/>
<rect x="589.0" y="316.5" width="1.5" height="4.5" fill="#e0443a"/>
<line x1="496.0" y1="312.6" x2="665.4" y2="312.6" stroke="#d9d9d9" stroke-width="1"/>
<text x="464.21" y="324.05" font-size="10" fill="#222" stroke="#222" stroke-width="0.25" textLength="28.44" lengthAdjust="spacingAndGlyphs">cell #2</text>
<path d="M497.6 332.0v4.5M503.3 332.0v4.5M525.2 332.0v4.5M526.3 332.0v4.5M530.9 332.0v4.5M537.8 332.0v4.5M545.9 332.0v4.5M549.3 332.0v4.5M551.6 332.0v4.5M559.7 332.0v4.5M595.3 332.0v4.5M598.8 332.0v4.5M603.4 332.0v4.5M626.4 332.0v4.5M641.3 332.0v4.5" stroke="#8a8a8a" stroke-width="1"/>
<path d="M498.8 332.0v4.5M501.0 332.0v4.5M519.4 332.0v4.5M524.0 332.0v4.5M536.7 332.0v4.5M562.0 332.0v4.5M571.2 332.0v4.5M572.3 332.0v4.5M574.6 332.0v4.5M576.9 332.0v4.5M586.1 332.0v4.5M601.1 332.0v4.5M618.3 332.0v4.5M632.1 332.0v4.5M647.1 332.0v4.5M655.1 332.0v4.5M660.9 332.0v4.5" stroke="#9e9e9e" stroke-width="1"/>
<path d="M499.9 332.0v4.5M506.8 332.0v4.5M512.5 332.0v4.5M516.0 332.0v4.5M517.1 332.0v4.5M527.5 332.0v4.5M547.0 332.0v4.5M557.4 332.0v4.5M568.9 332.0v4.5M582.7 332.0v4.5M606.8 332.0v4.5M612.6 332.0v4.5M631.0 332.0v4.5M636.7 332.0v4.5M640.2 332.0v4.5M652.8 332.0v4.5M659.7 332.0v4.5" stroke="#7a7a7a" stroke-width="1"/>
<path d="M502.2 332.0v4.5M505.6 332.0v4.5M509.1 332.0v4.5M529.8 332.0v4.5M533.2 332.0v4.5M573.5 332.0v4.5M579.2 332.0v4.5M590.7 332.0v4.5M593.0 332.0v4.5M596.5 332.0v4.5M616.0 332.0v4.5M617.2 332.0v4.5M639.0 332.0v4.5M656.3 332.0v4.5M663.2 332.0v4.5" stroke="#808080" stroke-width="1"/>
<path d="M507.9 332.0v4.5M510.2 332.0v4.5M511.4 332.0v4.5M518.3 332.0v4.5M535.5 332.0v4.5M556.2 332.0v4.5M563.1 332.0v4.5M578.1 332.0v4.5M580.4 332.0v4.5" stroke="#aaaaaa" stroke-width="1"/>
<path d="M513.7 332.0v4.5M534.4 332.0v4.5M542.4 332.0v4.5M553.9 332.0v4.5M560.8 332.0v4.5M587.3 332.0v4.5M605.7 332.0v4.5M608.0 332.0v4.5M611.4 332.0v4.5M619.5 332.0v4.5M624.1 332.0v4.5M649.4 332.0v4.5M658.6 332.0v4.5" stroke="#949494" stroke-width="1"/>
<rect x="497.6" y="332.0" width="1.3" height="4.5" fill="#e0443a"/>
<line x1="496.0" y1="328.1" x2="665.4" y2="328.1" stroke="#d9d9d9" stroke-width="1"/>
<text x="464.21" y="339.30" font-size="10" fill="#222" stroke="#222" stroke-width="0.25" textLength="28.39" lengthAdjust="spacingAndGlyphs">cell #3</text>
<path d="M497.6 347.4v4.5M501.0 347.4v4.5M518.3 347.4v4.5M532.1 347.4v4.5M539.0 347.4v4.5M556.2 347.4v4.5M559.7 347.4v4.5M573.5 347.4v4.5M618.1 347.4v4.5M625.0 347.4v4.5M626.1 347.4v4.5M630.7 347.4v4.5" stroke="#8a8a8a" stroke-width="1"/>
<path d="M499.9 347.4v4.5M505.6 347.4v4.5M506.8 347.4v4.5M509.1 347.4v4.5M510.2 347.4v4.5M511.4 347.4v4.5M514.8 347.4v4.5M520.6 347.4v4.5M525.2 347.4v4.5M528.6 347.4v4.5M553.9 347.4v4.5M567.7 347.4v4.5M576.9 347.4v4.5M595.1 347.4v4.5M604.3 347.4v4.5M607.7 347.4v4.5M612.3 347.4v4.5M615.8 347.4v4.5M633.0 347.4v4.5M634.2 347.4v4.5M641.1 347.4v4.5M644.5 347.4v4.5M658.3 347.4v4.5M659.5 347.4v4.5" stroke="#949494" stroke-width="1"/>
<path d="M502.2 347.4v4.5M503.3 347.4v4.5M504.5 347.4v4.5M535.5 347.4v4.5M536.7 347.4v4.5M537.8 347.4v4.5M540.1 347.4v4.5M548.2 347.4v4.5M579.2 347.4v4.5M588.2 347.4v4.5M622.7 347.4v4.5M623.8 347.4v4.5M627.3 347.4v4.5M628.4 347.4v4.5M652.6 347.4v4.5M662.9 347.4v4.5" stroke="#7a7a7a" stroke-width="1"/>
<path d="M507.9 347.4v4.5M512.5 347.4v4.5M521.7 347.4v4.5M544.7 347.4v4.5M547.0 347.4v4.5M552.8 347.4v4.5M580.4 347.4v4.5M593.9 347.4v4.5M597.4 347.4v4.5M602.0 347.4v4.5M603.1 347.4v4.5M606.6 347.4v4.5M620.4 347.4v4.5M631.9 347.4v4.5M643.4 347.4v4.5M656.0 347.4v4.5" stroke="#9e9e9e" stroke-width="1"/>
<path d="M513.7 347.4v4.5M516.0 347.4v4.5M522.9 347.4v4.5M533.2 347.4v4.5M545.9 347.4v4.5M558.5 347.4v4.5M608.9 347.4v4.5M613.5 347.4v4.5M614.6 347.4v4.5M639.9 347.4v4.5" stroke="#aaaaaa" stroke-width="1"/>
<path d="M534.4 347.4v4.5M564.3 347.4v4.5M589.3 347.4v4.5M592.8 347.4v4.5M611.2 347.4v4.5M635.3 347.4v4.5M636.5 347.4v4.5M654.9 347.4v4.5" stroke="#808080" stroke-width="1"/>
<rect x="497.6" y="347.4" width="1.3" height="4.5" fill="#e0443a"/>
<line x1="496.0" y1="343.5" x2="665.4" y2="343.5" stroke="#d9d9d9" stroke-width="1"/>
<text x="464.21" y="354.55" font-size="10" fill="#222" stroke="#222" stroke-width="0.25" textLength="28.24" lengthAdjust="spacingAndGlyphs">cell #4</text>
<path d="M497.6 362.8v4.5M505.6 362.8v4.5M506.8 362.8v4.5M514.8 362.8v4.5M516.0 362.8v4.5M519.4 362.8v4.5M521.7 362.8v4.5M530.9 362.8v4.5M553.9 362.8v4.5M556.2 362.8v4.5M559.7 362.8v4.5M610.0 362.8v4.5M641.0 362.8v4.5M652.5 362.8v4.5" stroke="#8a8a8a" stroke-width="1"/>
<path d="M498.8 362.8v4.5M503.3 362.8v4.5M507.9 362.8v4.5M509.1 362.8v4.5M510.2 362.8v4.5M517.1 362.8v4.5M532.1 362.8v4.5M547.0 362.8v4.5M560.8 362.8v4.5M576.2 362.8v4.5M584.3 362.8v4.5M595.0 362.8v4.5M613.4 362.8v4.5M628.4 362.8v4.5M633.0 362.8v4.5M638.7 362.8v4.5" stroke="#7a7a7a" stroke-width="1"/>
<path d="M499.9 362.8v4.5M550.5 362.8v4.5M565.4 362.8v4.5M566.6 362.8v4.5M573.9 362.8v4.5M582.0 362.8v4.5M585.4 362.8v4.5M607.7 362.8v4.5M612.3 362.8v4.5M615.7 362.8v4.5M634.1 362.8v4.5M644.5 362.8v4.5M653.7 362.8v4.5M654.8 362.8v4.5M661.7 362.8v4.5" stroke="#808080" stroke-width="1"/>
<path d="M501.0 362.8v4.5M504.5 362.8v4.5M526.3 362.8v4.5M533.2 362.8v4.5M552.8 362.8v4.5M562.0 362.8v4.5M563.1 362.8v4.5M597.3 362.8v4.5M611.1 362.8v4.5M637.6 362.8v4.5M649.1 362.8v4.5M651.4 362.8v4.5M659.4 362.8v4.5" stroke="#9e9e9e" stroke-width="1"/>
<path d="M511.4 362.8v4.5M513.7 362.8v4.5M520.6 362.8v4.5M525.2 362.8v4.5M528.6 362.8v4.5M534.4 362.8v4.5M536.7 362.8v4.5M539.0 362.8v4.5M544.7 362.8v4.5M555.1 362.8v4.5M583.1 362.8v4.5M608.8 362.8v4.5M619.2 362.8v4.5M623.8 362.8v4.5M624.9 362.8v4.5M627.2 362.8v4.5M629.5 362.8v4.5M630.7 362.8v4.5M643.3 362.8v4.5M650.2 362.8v4.5M662.9 362.8v4.5" stroke="#aaaaaa" stroke-width="1"/>
<path d="M512.5 362.8v4.5M518.3 362.8v4.5M524.0 362.8v4.5M527.5 362.8v4.5M529.8 362.8v4.5M548.2 362.8v4.5M578.5 362.8v4.5M586.6 362.8v4.5M601.9 362.8v4.5M603.1 362.8v4.5M604.2 362.8v4.5M606.5 362.8v4.5M616.9 362.8v4.5M621.5 362.8v4.5M635.3 362.8v4.5M645.6 362.8v4.5M647.9 362.8v4.5M656.0 362.8v4.5M657.1 362.8v4.5M658.3 362.8v4.5" stroke="#949494" stroke-width="1"/>
<rect x="589.0" y="362.8" width="1.5" height="4.5" fill="#e0443a"/>
<line x1="496.0" y1="358.9" x2="665.4" y2="358.9" stroke="#d9d9d9" stroke-width="1"/>
<text x="464.21" y="369.80" font-size="10" fill="#222" stroke="#222" stroke-width="0.25" textLength="28.39" lengthAdjust="spacingAndGlyphs">cell #5</text>
<path d="M497.6 378.2v4.5M522.9 378.2v4.5M527.5 378.2v4.5M529.8 378.2v4.5M541.3 378.2v4.5M585.7 378.2v4.5M592.6 378.2v4.5M597.2 378.2v4.5M619.0 378.2v4.5M636.8 378.2v4.5M647.1 378.2v4.5M650.6 378.2v4.5M659.8 378.2v4.5" stroke="#9e9e9e" stroke-width="1"/>
<path d="M498.8 378.2v4.5M502.2 378.2v4.5M518.3 378.2v4.5M524.0 378.2v4.5M586.8 378.2v4.5M590.3 378.2v4.5M593.7 378.2v4.5M600.6 378.2v4.5M622.5 378.2v4.5M637.9 378.2v4.5M648.3 378.2v4.5M649.4 378.2v4.5M660.9 378.2v4.5" stroke="#aaaaaa" stroke-width="1"/>
<path d="M499.9 378.2v4.5M503.3 378.2v4.5M510.2 378.2v4.5M517.1 378.2v4.5M521.7 378.2v4.5M530.9 378.2v4.5M535.5 378.2v4.5M559.2 378.2v4.5M561.5 378.2v4.5M582.2 378.2v4.5M599.5 378.2v4.5M611.0 378.2v4.5M616.7 378.2v4.5M617.9 378.2v4.5M646.0 378.2v4.5" stroke="#949494" stroke-width="1"/>
<path d="M501.0 378.2v4.5M505.6 378.2v4.5M525.2 378.2v4.5M539.0 378.2v4.5M544.7 378.2v4.5M566.1 378.2v4.5M568.4 378.2v4.5M571.9 378.2v4.5M584.5 378.2v4.5M596.0 378.2v4.5M615.6 378.2v4.5M643.7 378.2v4.5M644.8 378.2v4.5M654.0 378.2v4.5M663.2 378.2v4.5" stroke="#8a8a8a" stroke-width="1"/>
<path d="M511.4 378.2v4.5M533.2 378.2v4.5M534.4 378.2v4.5M537.8 378.2v4.5M545.9 378.2v4.5M558.1 378.2v4.5M569.6 378.2v4.5M583.4 378.2v4.5M594.9 378.2v4.5M608.7 378.2v4.5M662.1 378.2v4.5" stroke="#808080" stroke-width="1"/>
<path d="M512.5 378.2v4.5M513.7 378.2v4.5M514.8 378.2v4.5M516.0 378.2v4.5M520.6 378.2v4.5M526.3 378.2v4.5M528.6 378.2v4.5M532.1 378.2v4.5M543.6 378.2v4.5M567.3 378.2v4.5M573.0 378.2v4.5M575.3 378.2v4.5M581.1 378.2v4.5M605.2 378.2v4.5M614.4 378.2v4.5M640.2 378.2v4.5M655.2 378.2v4.5M656.3 378.2v4.5M657.5 378.2v4.5" stroke="#7a7a7a" stroke-width="1"/>
<rect x="499.6" y="378.2" width="1.3" height="4.5" fill="#e0443a"/>
<line x1="496.0" y1="374.4" x2="665.4" y2="374.4" stroke="#d9d9d9" stroke-width="1"/>
<text x="464.21" y="385.05" font-size="10" fill="#222" stroke="#222" stroke-width="0.25" textLength="28.39" lengthAdjust="spacingAndGlyphs">cell #6</text>
<path d="M497.6 393.7v4.5M498.8 393.7v4.5M503.3 393.7v4.5M525.2 393.7v4.5M542.4 393.7v4.5M578.1 393.7v4.5M588.4 393.7v4.5M601.1 393.7v4.5M621.8 393.7v4.5M631.0 393.7v4.5M641.3 393.7v4.5M650.5 393.7v4.5M654.0 393.7v4.5M656.3 393.7v4.5M658.6 393.7v4.5" stroke="#9e9e9e" stroke-width="1"/>
<path d="M499.9 393.7v4.5M502.2 393.7v4.5M509.1 393.7v4.5M520.6 393.7v4.5M521.7 393.7v4.5M526.3 393.7v4.5M530.9 393.7v4.5M539.0 393.7v4.5M543.6 393.7v4.5M548.2 393.7v4.5M556.2 393.7v4.5M563.1 393.7v4.5M587.3 393.7v4.5M613.7 393.7v4.5M639.0 393.7v4.5M640.2 393.7v4.5M651.7 393.7v4.5M663.2 393.7v4.5" stroke="#7a7a7a" stroke-width="1"/>
<path d="M501.0 393.7v4.5M506.8 393.7v4.5M514.8 393.7v4.5M547.0 393.7v4.5M558.5 393.7v4.5M572.3 393.7v4.5M576.9 393.7v4.5M586.1 393.7v4.5M591.9 393.7v4.5M599.9 393.7v4.5M605.7 393.7v4.5M625.2 393.7v4.5M628.7 393.7v4.5M629.8 393.7v4.5M657.4 393.7v4.5" stroke="#8a8a8a" stroke-width="1"/>
<path d="M505.6 393.7v4.5M511.4 393.7v4.5M533.2 393.7v4.5M559.7 393.7v4.5M562.0 393.7v4.5M583.8 393.7v4.5M598.8 393.7v4.5M610.3 393.7v4.5M634.4 393.7v4.5M659.7 393.7v4.5" stroke="#808080" stroke-width="1"/>
<path d="M507.9 393.7v4.5M512.5 393.7v4.5M513.7 393.7v4.5M516.0 393.7v4.5M517.1 393.7v4.5M518.3 393.7v4.5M527.5 393.7v4.5M551.6 393.7v4.5M560.8 393.7v4.5M571.2 393.7v4.5M612.6 393.7v4.5M618.3 393.7v4.5M620.6 393.7v4.5M633.3 393.7v4.5M644.8 393.7v4.5" stroke="#949494" stroke-width="1"/>
<path d="M522.9 393.7v4.5M528.6 393.7v4.5M574.6 393.7v4.5M585.0 393.7v4.5M589.6 393.7v4.5M606.8 393.7v4.5M617.2 393.7v4.5M626.4 393.7v4.5M632.1 393.7v4.5M662.0 393.7v4.5" stroke="#aaaaaa" stroke-width="1"/>
<rect x="499.6" y="393.7" width="1.3" height="4.5" fill="#e0443a"/>
<line x1="496.0" y1="389.8" x2="665.4" y2="389.8" stroke="#d9d9d9" stroke-width="1"/>
<text x="464.21" y="400.30" font-size="10" fill="#222" stroke="#222" stroke-width="0.25" textLength="28.44" lengthAdjust="spacingAndGlyphs">cell #7</text>
<path d="M497.6 409.1v4.5M498.8 409.1v4.5M506.8 409.1v4.5M511.4 409.1v4.5M513.7 409.1v4.5M532.1 409.1v4.5M539.0 409.1v4.5M581.5 409.1v4.5M621.8 409.1v4.5" stroke="#949494" stroke-width="1"/>
<path d="M499.9 409.1v4.5M501.0 409.1v4.5M502.2 409.1v4.5M504.5 409.1v4.5M507.9 409.1v4.5M510.2 409.1v4.5M534.4 409.1v4.5M535.5 409.1v4.5M562.0 409.1v4.5M567.7 409.1v4.5M570.0 409.1v4.5M582.7 409.1v4.5M588.4 409.1v4.5M619.5 409.1v4.5M632.1 409.1v4.5M639.0 409.1v4.5M643.6 409.1v4.5M648.2 409.1v4.5" stroke="#aaaaaa" stroke-width="1"/>
<path d="M503.3 409.1v4.5M512.5 409.1v4.5M514.8 409.1v4.5M521.7 409.1v4.5M526.3 409.1v4.5M541.3 409.1v4.5M560.8 409.1v4.5M573.5 409.1v4.5M580.4 409.1v4.5M590.7 409.1v4.5M597.6 409.1v4.5M620.6 409.1v4.5M633.3 409.1v4.5M637.9 409.1v4.5M641.3 409.1v4.5M657.4 409.1v4.5M660.9 409.1v4.5" stroke="#8a8a8a" stroke-width="1"/>
<path d="M517.1 409.1v4.5M520.6 409.1v4.5M525.2 409.1v4.5M537.8 409.1v4.5M542.4 409.1v4.5M543.6 409.1v4.5M557.4 409.1v4.5M559.7 409.1v4.5M566.6 409.1v4.5M579.2 409.1v4.5M595.3 409.1v4.5M598.8 409.1v4.5M603.4 409.1v4.5M612.6 409.1v4.5M640.2 409.1v4.5M647.1 409.1v4.5M658.6 409.1v4.5" stroke="#9e9e9e" stroke-width="1"/>
<path d="M527.5 409.1v4.5M549.3 409.1v4.5M556.2 409.1v4.5M558.5 409.1v4.5M568.9 409.1v4.5M576.9 409.1v4.5M591.9 409.1v4.5M605.7 409.1v4.5M618.3 409.1v4.5M626.4 409.1v4.5M628.7 409.1v4.5M655.1 409.1v4.5M659.7 409.1v4.5M662.0 409.1v4.5" stroke="#808080" stroke-width="1"/>
<path d="M529.8 409.1v4.5M536.7 409.1v4.5M548.2 409.1v4.5M551.6 409.1v4.5M565.4 409.1v4.5M585.0 409.1v4.5M601.1 409.1v4.5M609.1 409.1v4.5M614.9 409.1v4.5M616.0 409.1v4.5M622.9 409.1v4.5M625.2 409.1v4.5M636.7 409.1v4.5M651.7 409.1v4.5M663.2 409.1v4.5" stroke="#7a7a7a" stroke-width="1"/>
<rect x="499.6" y="409.1" width="1.3" height="4.5" fill="#e0443a"/>
<line x1="496.0" y1="405.2" x2="665.4" y2="405.2" stroke="#d9d9d9" stroke-width="1"/>
<text x="464.21" y="415.55" font-size="10" fill="#222" stroke="#222" stroke-width="0.25" textLength="28.39" lengthAdjust="spacingAndGlyphs">cell #8</text>
<path d="M497.6 424.5v4.5M499.9 424.5v4.5M507.9 424.5v4.5M522.9 424.5v4.5M528.6 424.5v4.5M536.7 424.5v4.5M551.6 424.5v4.5M573.5 424.5v4.5M581.5 424.5v4.5M590.7 424.5v4.5M610.3 424.5v4.5M612.6 424.5v4.5M619.5 424.5v4.5M624.1 424.5v4.5M625.2 424.5v4.5M631.0 424.5v4.5M641.3 424.5v4.5M644.8 424.5v4.5" stroke="#aaaaaa" stroke-width="1"/>
<path d="M498.8 424.5v4.5M505.6 424.5v4.5M558.5 424.5v4.5M565.4 424.5v4.5M586.1 424.5v4.5M605.7 424.5v4.5M608.0 424.5v4.5M609.1 424.5v4.5M618.3 424.5v4.5M639.0 424.5v4.5M640.2 424.5v4.5M652.8 424.5v4.5" stroke="#7a7a7a" stroke-width="1"/>
<path d="M501.0 424.5v4.5M502.2 424.5v4.5M504.5 424.5v4.5M509.1 424.5v4.5M518.3 424.5v4.5M525.2 424.5v4.5M556.2 424.5v4.5M567.7 424.5v4.5M580.4 424.5v4.5M582.7 424.5v4.5M588.4 424.5v4.5M621.8 424.5v4.5M635.6 424.5v4.5M656.3 424.5v4.5M659.7 424.5v4.5" stroke="#9e9e9e" stroke-width="1"/>
<path d="M503.3 424.5v4.5M510.2 424.5v4.5M524.0 424.5v4.5M530.9 424.5v4.5M549.3 424.5v4.5M550.5 424.5v4.5M559.7 424.5v4.5M564.3 424.5v4.5M566.6 424.5v4.5M576.9 424.5v4.5M578.1 424.5v4.5M629.8 424.5v4.5" stroke="#8a8a8a" stroke-width="1"/>
<path d="M506.8 424.5v4.5M513.7 424.5v4.5M514.8 424.5v4.5M516.0 424.5v4.5M557.4 424.5v4.5M587.3 424.5v4.5M591.9 424.5v4.5M596.5 424.5v4.5M613.7 424.5v4.5M622.9 424.5v4.5M657.4 424.5v4.5" stroke="#949494" stroke-width="1"/>
<path d="M512.5 424.5v4.5M517.1 424.5v4.5M529.8 424.5v4.5M537.8 424.5v4.5M542.4 424.5v4.5M548.2 424.5v4.5M562.0 424.5v4.5M572.3 424.5v4.5M574.6 424.5v4.5M575.8 424.5v4.5M579.2 424.5v4.5M616.0 424.5v4.5M633.3 424.5v4.5M636.7 424.5v4.5M642.5 424.5v4.5M649.4 424.5v4.5M660.9 424.5v4.5M662.0 424.5v4.5" stroke="#808080" stroke-width="1"/>
<rect x="497.6" y="424.5" width="1.3" height="4.5" fill="#e0443a"/>
<rect x="589.0" y="424.5" width="1.5" height="4.5" fill="#e0443a"/>
<line x1="496.0" y1="420.6" x2="665.4" y2="420.6" stroke="#d9d9d9" stroke-width="1"/>
<text x="464.21" y="430.80" font-size="10" fill="#222" stroke="#222" stroke-width="0.25" textLength="28.44" lengthAdjust="spacingAndGlyphs">cell #9</text>
<path d="M497.6 440.0v4.5M501.0 440.0v4.5M502.2 440.0v4.5M504.5 440.0v4.5M510.2 440.0v4.5M514.8 440.0v4.5M528.6 440.0v4.5M550.5 440.0v4.5M555.1 440.0v4.5M580.2 440.0v4.5M583.6 440.0v4.5M595.1 440.0v4.5M606.3 440.0v4.5M610.9 440.0v4.5M613.2 440.0v4.5M629.3 440.0v4.5M630.5 440.0v4.5" stroke="#8a8a8a" stroke-width="1"/>
<path d="M498.8 440.0v4.5M512.5 440.0v4.5M516.0 440.0v4.5M519.4 440.0v4.5M520.6 440.0v4.5M521.7 440.0v4.5M536.7 440.0v4.5M565.2 440.0v4.5M571.0 440.0v4.5M574.4 440.0v4.5M614.4 440.0v4.5M624.7 440.0v4.5M625.9 440.0v4.5M659.2 440.0v4.5" stroke="#949494" stroke-width="1"/>
<path d="M503.3 440.0v4.5M506.8 440.0v4.5M513.7 440.0v4.5M541.3 440.0v4.5M547.0 440.0v4.5M566.4 440.0v4.5M567.5 440.0v4.5M589.4 440.0v4.5M619.0 440.0v4.5M651.2 440.0v4.5" stroke="#aaaaaa" stroke-width="1"/>
<path d="M505.6 440.0v4.5M507.9 440.0v4.5M517.1 440.0v4.5M564.1 440.0v4.5M592.8 440.0v4.5M622.4 440.0v4.5M636.2 440.0v4.5M637.4 440.0v4.5M646.6 440.0v4.5M648.9 440.0v4.5M663.8 440.0v4.5" stroke="#808080" stroke-width="1"/>
<path d="M518.3 440.0v4.5M525.2 440.0v4.5M530.9 440.0v4.5M542.4 440.0v4.5M575.6 440.0v4.5M584.8 440.0v4.5M587.1 440.0v4.5M591.7 440.0v4.5M609.8 440.0v4.5M621.3 440.0v4.5M654.6 440.0v4.5M658.1 440.0v4.5M662.7 440.0v4.5" stroke="#7a7a7a" stroke-width="1"/>
<path d="M522.9 440.0v4.5M526.3 440.0v4.5M537.8 440.0v4.5M544.7 440.0v4.5M548.2 440.0v4.5M552.8 440.0v4.5M562.9 440.0v4.5M569.8 440.0v4.5M596.3 440.0v4.5M616.7 440.0v4.5M632.8 440.0v4.5M635.1 440.0v4.5M643.1 440.0v4.5M645.4 440.0v4.5M652.3 440.0v4.5M653.5 440.0v4.5M655.8 440.0v4.5M656.9 440.0v4.5M660.4 440.0v4.5" stroke="#9e9e9e" stroke-width="1"/>
<rect x="499.6" y="440.0" width="1.3" height="4.5" fill="#e0443a"/>
<line x1="496.0" y1="436.1" x2="665.4" y2="436.1" stroke="#d9d9d9" stroke-width="1"/>
<text x="458.20" y="446.05" font-size="10" fill="#222" stroke="#222" stroke-width="0.25" textLength="34.37" lengthAdjust="spacingAndGlyphs">cell #10</text>
<line x1="496.0" y1="451.5" x2="665.4" y2="451.5" stroke="#d0d0d0" stroke-width="1"/>
<line x1="496.0" y1="297.2" x2="496.0" y2="451.5" stroke="#e3e3e3" stroke-width="1"/>
<line x1="665.4" y1="297.2" x2="665.4" y2="451.5" stroke="#e3e3e3" stroke-width="1"/>
<text x="0.20" y="503.80" font-size="13.5" font-weight="bold" stroke="#000" stroke-width="0.25" textLength="4.37" lengthAdjust="spacingAndGlyphs">f</text>
<defs>
<pattern id="hm0" patternUnits="userSpaceOnUse" width="41" height="58"><path stroke="#89783d" stroke-width="2" d="M39 1h1M29 5h1M18 9h1M28 19h2M16 25h1M7 43h1m1 0h1m22 0h1m3 0h1M7 45h1m13 0h1M16 53h1M24 57h1"/><path stroke="#796939" stroke-width="2" d="M40 1h1M17 19h1M14 27h1M31 29h1m1 0h1M16 37h1M27 41h1M7 53h1M29 57h1"/><path stroke="#795c49" stroke-width="2" d="M10 1h1M31 3h1M13 5h1m13 0h2M13 9h1M19 11h1M13 13h1M17 17h1M18 19h1M30 31h1m2 0h1M38 37h1M9 41h1m26 0h1M27 43h1m3 0h1M18 51h1M24 53h1m11 0h1"/><path stroke="#665a30" stroke-width="2" d="M16 19h1M12 21h1M16 23h1M15 25h1M12 37h1M6 43h1M8 53h1"/><path stroke="#784a5d" stroke-width="2" d="M2 1h1m15 0h1M37 5h1M19 9h1m4 0h1M13 11h1m3 0h2M38 13h1M9 15h1M18 17h1M34 27h1M34 29h1M10 31h1M20 33h1m8 0h1m10 0h1M5 35h1M17 37h1m1 0h1M8 43h1M8 45h1m11 0h1M19 51h1M6 53h1M23 57h1m1 0h1"/><path stroke="#783c6c" stroke-width="2" d="M5 1h1M22 3h1m4 0h3m2 0h1M14 5h1m11 0h1m11 0h1M13 7h1m4 0h1m10 0h1M7 9h1m4 0h1M16 11h1M12 13h1m7 0h1M1 19h1M14 25h1M16 27h1m16 0h1M38 29h1M29 31h1m1 0h2m1 0h1m1 0h1m1 0h1M0 33h1M4 35h1m1 0h1m12 0h1M2 37h1m15 0h1M12 39h1M12 41h1m22 0h1M26 43h1m8 0h1m2 0h1M6 45h1m2 0h1m12 0h1m9 0h1M6 51h1M4 53h1m12 0h2m4 0h1m13 0h1M10 57h1"/><path stroke="#634643" stroke-width="2" d="M6 1h1m4 0h1M13 3h1M22 5h1M7 7h1M8 9h1m8 0h1M2 11h1M20 15h1M16 17h1m12 0h1M21 21h1m3 0h1m7 0h1M22 23h1m10 0h1m5 0h1M15 27h1M30 29h1m1 0h1m3 0h2M37 31h1M37 33h1M17 35h1M1 37h1m9 0h1m14 0h1m10 0h1M15 39h1M11 41h1m8 0h1M10 43h2m25 0h1m1 0h1M17 49h2M17 51h1m2 0h1M3 53h1m15 0h1M22 55h4M37 57h1"/><path stroke="#55472f" stroke-width="2" d="M13 1h1M12 19h1M13 21h1m2 0h1M14 37h2"/><path stroke="#4f3c34" stroke-width="2" d="M12 1h1m14 0h1M28 17h1M21 19h1m1 0h2M15 23h1M11 27h1m19 0h1M13 29h1M37 35h1M13 37h1M21 43h1M7 51h1M30 57h1"/><path stroke="#7b317e" stroke-width="2" d="M3 1h1m5 0h1m9 0h2m3 0h2M1 3h3m1 0h1m2 0h3m9 0h2m3 0h2m6 0h3M1 5h2m2 0h1M0 7h3m7 0h2m13 0h4m9 0h1M1 9h1m3 0h1m4 0h2m11 0h1m3 0h2M7 11h1m2 0h1m4 0h1m7 0h2m1 0h2m1 0h2m6 0h2M4 13h7m4 0h1m7 0h1m1 0h2m12 0h2M5 15h4m1 0h3m19 0h1m5 0h2M1 17h2m31 0h1m1 0h2M3 19h1M2 21h2m34 0h2M2 23h2M0 25h3m14 0h2m4 0h2m14 0h2M6 27h1m10 0h4m6 0h1m11 0h2M5 29h5m7 0h5m17 0h2M3 31h2m4 0h1m10 0h2m2 0h2M2 33h2m5 0h2m5 0h1m4 0h1m1 0h3m8 0h2M1 35h3m3 0h4m4 0h2m11 0h4M4 37h3m1 0h1m1 0h1m10 0h3m4 0h4M4 39h2m2 0h2m7 0h2m13 0h3m2 0h3M0 41h2m30 0h3m3 0h2M25 43h1M27 45h2m1 0h2m3 0h1m2 0h1M6 47h1m9 0h2m1 0h1m2 0h1m10 0h4m2 0h1M9 49h2m8 0h2m2 0h1m12 0h1M5 51h1m3 0h2m13 0h1m11 0h3M5 53h1m6 0h1m9 0h1m15 0h1M6 55h2m6 0h5M3 57h2m6 0h1m2 0h2m2 0h3"/><path stroke="#6c2f6c" stroke-width="2" d="M8 1h1m7 0h2m16 0h1M4 3h1m9 0h1m24 0h1M0 5h1m3 0h1m1 0h1m2 0h1m24 0h1m5 0h1M23 7h2m7 0h1m2 0h1m1 0h1m1 0h2M4 9h1m1 0h1m7 0h1m10 0h2M4 11h2m8 0h1m10 0h1m2 0h1m2 0h1M2 13h2m14 0h1m2 0h1m2 0h1m3 0h1m2 0h2m2 0h1M15 15h1m7 0h1m13 0h1M3 17h1m2 0h1m7 0h1m10 0h1m7 0h1m1 0h1m4 0h1M2 19h1m1 0h1m30 0h3m2 0h1M6 21h2m21 0h1M9 23h2m3 0h1m8 0h1m2 0h1m2 0h4m4 0h2M7 25h1m11 0h1m6 0h1m6 0h1m4 0h1M0 27h1m1 0h1m2 0h1m3 0h1m12 0h1m3 0h1m8 0h1M2 29h2m6 0h2m4 0h1m8 0h1m1 0h1m7 0h1M35 31h1M4 33h1m13 0h1m7 0h2M0 35h1m23 0h1m10 0h1M9 37h1m14 0h2m8 0h2M0 39h1m1 0h1m20 0h2m3 0h3M14 41h2m1 0h1m1 0h1m2 0h1m2 0h1M30 43h1M10 45h1m4 0h2m19 0h1m2 0h1M5 47h1m5 0h1m6 0h1m9 0h1m11 0h1M2 49h1m8 0h1m1 0h2m6 0h2m3 0h1m10 0h1m1 0h1M12 51h1m3 0h1m8 0h1m6 0h1M21 53h1M8 55h1m3 0h1m25 0h1M5 57h1m2 0h1m8 0h1m15 0h1"/><path stroke="#5e3255" stroke-width="2" d="M1 1h1m24 0h1m6 0h1M0 3h1m29 0h1m9 0h1M21 5h1m1 0h1m6 0h2m7 0h1M14 7h1M9 9h1M3 11h1m2 0h1m1 0h2m1 0h2m7 0h1m15 0h1M14 13h1m2 0h1m1 0h1m7 0h1m9 0h1M4 15h1m16 0h1m18 0h1M5 17h1m1 0h1m7 0h1m5 0h1M0 19h1m12 0h1m11 0h1M18 21h1m9 0h1m3 0h1m1 0h1m1 0h1m3 0h1M12 23h1m4 0h1m3 0h1m2 0h2M3 25h1m21 0h1m1 0h1m6 0h1M30 27h1m6 0h1M29 29h1M11 31h1m6 0h2M5 33h1m11 0h1m1 0h1m8 0h1m7 0h1m1 0h2M11 35h1m6 0h1m1 0h1m5 0h1m9 0h1m1 0h1M3 37h1m16 0h1M11 39h1m2 0h1m4 0h1m15 0h2m3 0h1M8 41h1m12 0h1m4 0h1m10 0h1m2 0h1M12 43h1m15 0h1m4 0h1M33 45h1m3 0h1M20 47h2m15 0h2M5 49h1m29 0h1M15 53h1m4 0h1M3 55h1m32 0h2M2 57h1m9 0h1m25 0h2"/><path stroke="#5e2860" stroke-width="2" d="M4 1h1m10 0h1m5 0h1M11 3h1m3 0h2m7 0h1m13 0h1M3 5h1m3 0h1m2 0h1m5 0h1m7 0h2m6 0h1m2 0h1M5 7h1m3 0h1m7 0h1m1 0h4m10 0h2M0 9h1m14 0h1m21 0h1M0 11h1m21 0h1m10 0h1m5 0h1M0 13h2m9 0h1m10 0h1m6 0h1m3 0h1M1 15h2m11 0h1m4 0h1m2 0h1m1 0h1m1 0h1m4 0h1m1 0h1M0 17h1m25 0h1m11 0h2M6 19h2m24 0h1M8 21h1m18 0h1m2 0h1m4 0h1m1 0h1M1 23h1m5 0h1m3 0h1m1 0h1m4 0h1m8 0h1M4 25h2m6 0h1m22 0h1M1 27h1m5 0h1m13 0h1m1 0h2m13 0h1M4 29h1m7 0h1m13 0h1M0 31h1m1 0h1m2 0h1m2 0h1m3 0h1m1 0h3m5 0h2m4 0h1m10 0h2M1 33h1m6 0h1m2 0h1m3 0h1m6 0h1m10 0h1M21 35h1m1 0h1m1 0h1m1 0h1m6 0h1M7 37h1m24 0h2M1 39h1m4 0h1m3 0h1m2 0h1M18 41h1m11 0h1M0 43h2m16 0h1m3 0h1M2 45h2m13 0h1M2 47h2m4 0h3m3 0h2m7 0h1m5 0h1m1 0h2M24 49h2m8 0h1m3 0h1m1 0h1M11 51h1m11 0h1m7 0h1m7 0h2M13 53h1m16 0h2M4 55h2m3 0h1m1 0h1m1 0h1m5 0h1m7 0h1M6 57h1m2 0h1m6 0h1m9 0h1m4 0h2m1 0h1m1 0h1"/><path stroke="#4c3539" stroke-width="2" d="M28 1h1m9 0h1M18 3h1M35 11h1M29 15h1M8 17h1M27 19h1m2 0h1M17 21h1m6 0h1M5 23h1M13 27h1M14 29h1m8 0h1M20 39h1M10 41h1m17 0h1M20 43h1M24 47h1M25 53h1m7 0h1m1 0h1M26 55h1m2 0h1M28 57h1"/><path stroke="#4d2f40" stroke-width="2" d="M7 1h1m15 0h1m5 0h1m1 0h1M12 3h1m4 0h1m1 0h1m3 0h1M20 5h1M8 7h1m21 0h2M39 9h1M1 11h1m32 0h1M13 15h1m3 0h1m9 0h1M4 17h1M5 19h1m9 0h1m6 0h1M1 21h1m18 0h1m1 0h1M40 23h1M22 25h1m14 0h1M10 27h1m18 0h1m2 0h1M15 29h1M30 33h1M0 37h1m26 0h1m8 0h1m2 0h1M16 39h1m9 0h2M16 43h2M11 45h1M7 47h1M3 49h2m11 0h1m11 0h2M0 51h1m7 0h1m12 0h1m8 0h1M9 53h1m22 0h1m6 0h1M21 55h1m8 0h1M13 57h1m8 0h1"/><path stroke="#4c254a" stroke-width="2" d="M14 1h1m15 0h1m1 0h1m2 0h2M6 3h2m28 0h2M8 5h1m2 0h1m3 0h1m1 0h1m15 0h1m2 0h1M3 7h2m1 0h1m5 0h1m2 0h2m19 0h1M2 9h2m12 0h1m3 0h3m6 0h1m4 0h1m3 0h1m1 0h1M21 11h1m10 0h1m7 0h1M16 13h1m13 0h1m3 0h1m1 0h1M0 15h1m2 0h1m12 0h1m1 0h1m6 0h1m8 0h3M13 17h1m5 0h1m2 0h1m1 0h1m5 0h3M8 19h1m5 0h1m11 0h1m4 0h1m1 0h2m3 0h2M4 21h2m3 0h1m16 0h1m4 0h1M0 23h1m3 0h1m1 0h1m1 0h1m10 0h1m8 0h1m5 0h3M6 25h1m1 0h2m1 0h1m1 0h1m6 0h1m7 0h1m3 0h1m3 0h1M3 27h2m3 0h1m3 0h1m12 0h1m2 0h1m7 0h1M0 29h2m20 0h1m1 0h1m3 0h1M1 31h1m11 0h1m3 0h1m8 0h2M13 33h2m16 0h2M14 35h1m7 0h1m9 0h1M3 39h1m3 0h1m13 0h2m2 0h1m5 0h1M2 41h1m1 0h1m8 0h1m2 0h1m6 0h2m4 0h1m1 0h1M2 43h1m12 0h1m3 0h1m3 0h2m4 0h1m4 0h1M1 45h1m3 0h1m8 0h1m3 0h2m3 0h1m2 0h1m2 0h1m4 0h1m5 0h1M4 47h1m8 0h1m12 0h2m2 0h1M1 49h1m4 0h1m1 0h1m3 0h1m2 0h1m11 0h1m4 0h2M2 51h1m1 0h1m8 0h3m6 0h1m3 0h1m6 0h1m1 0h1M11 53h1m2 0h1m12 0h1M0 55h3m7 0h1m9 0h1m7 0h1m5 0h2m3 0h1M1 57h1m5 0h1m13 0h1m5 0h1m7 0h1"/><path stroke="#3e2c2e" stroke-width="2" d="M0 1h1M12 5h1m6 0h1M32 9h1M9 17h1M11 19h1m7 0h1M0 21h1m10 0h1m3 0h1M3 41h1m2 0h2M12 45h1m11 0h2M1 47h1m23 0h1M30 49h1M3 51h1m23 0h3M2 53h1m25 0h1M40 55h1M40 57h1"/><path stroke="#3a2136" stroke-width="2" d="M22 1h1m14 0h1M18 5h1M30 9h2m1 0h1m1 0h2M28 15h1m1 0h1M10 17h3m7 0h1m2 0h1m3 0h1M9 19h2m9 0h1M10 21h1m3 0h1m4 0h1m3 0h1M20 23h1M10 25h1m10 0h1m7 0h3M6 31h2M6 33h2m4 0h1M12 35h2m19 0h1m5 0h2M40 37h1M5 41h1M3 43h3m7 0h2m25 0h1M0 45h1m3 0h1m8 0h1M0 47h1m11 0h1M0 49h1m6 0h1m23 0h1M1 51h1m32 0h1M0 53h2m8 0h1m15 0h1m2 0h1m4 0h1m5 0h1M31 55h3M0 57h1"/></pattern><pattern id="hm1" patternUnits="userSpaceOnUse" width="44" height="60"><path stroke="#8f8636" stroke-width="2" d="M36 13h2M9 17h1M17 29h1M2 33h1"/><path stroke="#89783d" stroke-width="2" d="M42 9h1M28 15h1M8 17h1M9 19h1M15 21h1m9 0h1M25 23h1M25 25h1M17 27h1M2 31h1M1 33h1M31 37h1M10 45h1M23 47h1m16 0h1M7 51h1M32 55h1"/><path stroke="#796939" stroke-width="2" d="M13 3h1M27 7h1M41 9h1M16 11h2M27 13h1M6 27h1M17 31h1M40 39h1M24 49h1M21 53h1M13 55h1m25 0h1"/><path stroke="#795c49" stroke-width="2" d="M15 5h1M12 7h1M14 9h1m15 0h1M15 11h1M39 13h1M22 15h1m12 0h2M14 21h1m1 0h1M1 23h1m19 0h1m4 0h1M4 29h1m9 0h1m7 0h1m18 0h1M1 37h1m15 0h1m5 0h1M6 41h1m11 0h1m9 0h1M23 43h1m11 0h1M2 47h1m10 0h1m17 0h1M11 51h1m23 0h1M16 53h1M33 55h1m6 0h1M0 57h1m19 0h1"/><path stroke="#665a30" stroke-width="2" d="M28 13h1M30 37h1M26 41h1M17 47h1m21 0h1"/><path stroke="#784a5d" stroke-width="2" d="M12 3h1M15 7h2M38 13h1M37 15h1m3 0h1M1 17h1m17 0h1m13 0h1M8 19h1m31 0h1M24 23h1m8 0h1m4 0h1M17 25h1M18 27h1M8 29h1m7 0h1m8 0h1M1 31h1m1 0h1M26 33h1M15 41h1m13 0h1M14 43h1m15 0h1M9 47h1m4 0h1M23 49h1m4 0h1M12 51h1m3 0h1M9 57h1m33 0h1M12 59h1m15 0h1"/><path stroke="#783c6c" stroke-width="2" d="M21 3h1M12 5h1m3 0h1M11 7h1m2 0h1m2 0h1m24 0h1M4 9h1M28 11h1m7 0h2M17 13h1M21 15h1m12 0h1m5 0h1M4 17h1m29 0h1m1 0h1m3 0h1M39 19h1m1 0h1M17 21h1M15 23h1m4 0h1m11 0h1M26 25h1M14 27h3m8 0h1M5 29h1m9 0h1m8 0h1m15 0h1M18 31h1M27 33h1M0 35h3M12 37h1m19 0h1M13 39h1m3 0h1m21 0h1M4 41h2m8 0h1m1 0h2M13 43h1m10 0h1m4 0h1m6 0h1M9 45h1m21 0h1m6 0h1M8 47h1m1 0h2m10 0h1m18 0h1M2 49h1m4 0h1m21 0h1M6 51h1m15 0h1m13 0h1M8 53h1m8 0h1m4 0h1m9 0h1M16 55h1m9 0h1M1 57h1m6 0h1m4 0h1m5 0h1m20 0h3M1 59h1m11 0h1m13 0h1m1 0h1"/><path stroke="#634643" stroke-width="2" d="M39 3h1M29 5h1M3 9h1m7 0h1m3 0h1m15 0h1m11 0h1M4 11h1m5 0h1m7 0h1m5 0h2m1 0h1M6 13h1m22 0h1m2 0h1M27 15h1m1 0h1M3 17h1m6 0h1M10 19h1M7 21h1m18 0h1M0 23h1M4 25h1m27 0h1M5 27h1m1 0h1M18 29h1m15 0h1M3 33h1m13 0h1M13 37h1m4 0h1m21 0h1M4 39h2m3 0h1M3 41h1m26 0h1m4 0h1M17 45h1m5 0h1m6 0h1m8 0h1M12 47h1m2 0h2m7 0h2m12 0h1M5 49h1m5 0h3m26 0h1M8 51h1m4 0h1m1 0h1M13 53h1M25 55h1m2 0h1m2 0h1M21 57h1m4 0h1M0 59h1"/><path stroke="#55472f" stroke-width="2" d="M16 9h1M5 13h1m29 0h1M12 15h1M5 25h1M0 29h1m34 0h1M27 41h1M16 45h1M20 53h1M21 55h1"/><path stroke="#4f3c34" stroke-width="2" d="M13 5h1m25 0h1M20 7h1m19 0h2M24 9h1M0 11h1m42 0h1M26 13h1m7 0h1M23 15h1M6 25h1M40 27h1M1 29h1m11 0h1M0 33h1M8 35h3m27 0h1M39 37h1M6 39h1m23 0h1M9 41h1m22 0h1M30 47h1M10 49h1M14 51h1m5 0h1M25 57h1"/><path stroke="#7b317e" stroke-width="2" d="M11 1h1m6 0h1m3 0h2m4 0h2m8 0h2m3 0h1M20 3h1m1 0h2m4 0h4m5 0h1M17 5h1m2 0h4M8 7h2m33 0h1M28 9h2m5 0h1M22 11h1m7 0h2M2 13h2m3 0h2m6 0h2M0 15h3m5 0h1m11 0h1m12 0h1m8 0h2M0 17h1m19 0h1m4 0h5m2 0h1m2 0h1m2 0h2m2 0h1M4 19h1m10 0h2m3 0h1m2 0h2m1 0h4m2 0h1m9 0h2M8 21h2m2 0h2m9 0h2m2 0h2m7 0h2M8 23h2m2 0h1m3 0h3m20 0h2M7 25h4m3 0h3m1 0h1m1 0h2m5 0h1m3 0h1M8 27h2m1 0h2m11 0h1m1 0h1m4 0h1M11 29h1m14 0h1m5 0h2M25 31h2m12 0h1M18 33h1m6 0h1M15 35h2m8 0h1M10 37h1m5 0h1m8 0h2M10 39h3M0 41h2M5 43h3m1 0h1m27 0h2M6 45h1m5 0h1m21 0h1m2 0h1M7 47h1m19 0h2m5 0h1M1 49h1m20 0h1m4 0h1M1 51h2M1 53h1m4 0h1m2 0h3m13 0h3m5 0h2m3 0h2M0 55h2m39 0h3M3 57h2m2 0h1m2 0h3m3 0h1m10 0h3M4 59h1m2 0h1m3 0h1m5 0h3m11 0h2m6 0h3"/><path stroke="#6c2f6c" stroke-width="2" d="M4 1h1m3 0h1m8 0h1m1 0h1m4 0h1m1 0h2m4 0h1m2 0h1m1 0h1m2 0h1m1 0h1M8 3h1m17 0h1m11 0h1M3 5h2m4 0h1m9 0h1m17 0h1m4 0h2M0 7h1m4 0h1m4 0h1m25 0h1m2 0h1M34 9h1m2 0h1M1 11h2m5 0h1m10 0h3m1 0h1m5 0h1m5 0h1m2 0h1M9 13h2m3 0h1m4 0h2M7 15h1m7 0h1m16 0h1M17 17h1m5 0h2m5 0h2m11 0h1M19 19h1m10 0h1m6 0h2M10 21h1m10 0h1m13 0h1m2 0h1m4 0h1M7 23h1m5 0h1m15 0h3m2 0h1M2 25h2m7 0h1m10 0h1m7 0h1m10 0h1M13 27h1m9 0h1m3 0h1m2 0h1m3 0h1M27 29h1M4 31h1m1 0h1m1 0h1m2 0h1m2 0h1m12 0h1m12 0h1M22 33h1m9 0h1m2 0h1m3 0h1M3 35h1m14 0h1m9 0h1m3 0h1m3 0h1M5 37h1m3 0h1m5 0h1m11 0h1m14 0h1M0 39h1m14 0h1m4 0h1m7 0h1m14 0h1M21 41h1m1 0h1m14 0h1m4 0h1M1 43h1m6 0h1m16 0h1m2 0h1m2 0h1m7 0h1m3 0h1M3 45h1m1 0h1m2 0h1m4 0h1m11 0h2m2 0h1m2 0h1m2 0h1M26 47h1m10 0h1M0 49h1m18 0h1m6 0h1m7 0h1M3 51h1m14 0h1m7 0h2m5 0h1m4 0h2M5 53h1m6 0h1m24 0h1M3 55h1m2 0h1m3 0h1m23 0h1M2 57h1m3 0h1m8 0h1m1 0h1m4 0h1m8 0h1m3 0h1m2 0h1M8 59h1m1 0h1m22 0h1"/><path stroke="#5e3255" stroke-width="2" d="M12 1h1M3 3h2M18 5h1m9 0h1m2 0h1m6 0h1M13 7h1m14 0h1m1 0h1m6 0h2M2 9h1m9 0h2m3 0h2m19 0h1M5 11h1m3 0h1m4 0h1m11 0h1m12 0h1M4 13h1m13 0h1m3 0h1m1 0h1m6 0h1M9 15h1m3 0h1M2 17h1m4 0h1m3 0h1m6 0h1M3 19h1m3 0h1m5 0h2m10 0h1M1 21h1m18 0h1M2 23h1m11 0h1m7 0h1m4 0h1M0 25h2m10 0h1m10 0h2m14 0h2M4 27h1M6 29h2m1 0h1m2 0h1m8 0h1m1 0h1m18 0h1M0 31h1m21 0h1m9 0h2m9 0h1M23 33h1m18 0h1M17 35h1m5 0h1m2 0h1m4 0h1M0 37h1m7 0h1m13 0h1m1 0h1M1 39h1m5 0h1m10 0h1m2 0h1m5 0h1m7 0h1M2 41h1m7 0h1m2 0h1m5 0h1M2 43h1m12 0h1m2 0h1m3 0h1m4 0h1M2 45h1m1 0h1m6 0h1m6 0h1m3 0h1M1 47h1M6 49h1m7 0h1m5 0h1m20 0h1M9 51h2m6 0h1m1 0h1m8 0h1m5 0h1M7 53h1m6 0h2m12 0h1m11 0h1M27 55h1m1 0h1M32 57h1m6 0h1M43 59h1"/><path stroke="#5e2860" stroke-width="2" d="M0 1h1m1 0h1m6 0h2m5 0h1m3 0h2m12 0h1m1 0h1m4 0h1M0 3h1m4 0h2m4 0h1m5 0h3m7 0h1m4 0h1m3 0h1m5 0h2M8 5h1m23 0h1m1 0h1M4 7h1m17 0h1m12 0h1M5 9h1m15 0h1m14 0h1m2 0h1M34 11h1m5 0h1M1 13h1m11 0h1M14 15h1m2 0h3m18 0h1M21 17h1m15 0h1m3 0h1M0 19h2m3 0h1m6 0h1m4 0h1m13 0h1m1 0h1m2 0h1M0 21h1m1 0h1m19 0h1m6 0h2m1 0h1m6 0h1M10 23h1m8 0h1m3 0h1m4 0h1m6 0h1m5 0h3M13 25h1m5 0h1m15 0h1m1 0h2m3 0h1M10 27h1m21 0h2m2 0h1M10 29h1m20 0h1m7 0h1M5 31h1m1 0h1m20 0h1m9 0h1M19 33h1m4 0h1m3 0h2m3 0h1m4 0h1m1 0h1M4 35h2m8 0h1m4 0h2m3 0h1m16 0h1M3 37h1m7 0h1m24 0h1m4 0h1m1 0h1M14 39h1m1 0h1m2 0h1m18 0h1m3 0h1M22 41h1m1 0h1m14 0h1m2 0h1M0 43h1m3 0h1m7 0h1m4 0h1m24 0h1M1 45h1m5 0h1m19 0h2m4 0h1m2 0h1m6 0h1M6 47h1m22 0h1m3 0h1M42 49h2M0 51h1m4 0h1M0 53h1m1 0h3m13 0h1m5 0h1m5 0h1m10 0h1M2 55h1m8 0h1m5 0h2M14 57h1m3 0h1m4 0h1m6 0h1m5 0h2M2 59h2m16 0h1m2 0h1m12 0h3m3 0h1"/><path stroke="#4c3539" stroke-width="2" d="M14 3h1M7 5h1m6 0h1m10 0h1M2 7h1m23 0h1M27 9h1M33 13h1M12 17h2M4 21h2M28 27h1m10 0h1M2 29h2M16 31h1M43 33h1M26 39h1m2 0h1m11 0h1M7 41h1m17 0h1m5 0h1m4 0h1M34 43h1M3 47h1m14 0h1M15 49h2m8 0h1m5 0h1m7 0h1M21 51h1m9 0h1M14 55h1m5 0h1"/><path stroke="#4d2f40" stroke-width="2" d="M13 1h1M2 3h1m12 0h1m24 0h1M30 5h1M3 7h1m15 0h1m11 0h1M0 9h2m6 0h3m29 0h1M3 11h1m7 0h1m1 0h1m27 0h1M0 13h1m39 0h1M4 15h1m1 0h1m4 0h1m12 0h1M22 17h1M2 19h1M6 21h1m12 0h1M11 23h1M33 25h1M3 27h1m18 0h1m18 0h1M12 31h2M4 33h1m9 0h1m21 0h1M29 35h2m6 0h1m2 0h1M2 37h1m11 0h1m20 0h1M8 39h1m13 0h2m1 0h1M12 41h1m21 0h1M10 43h1m10 0h1m4 0h1m13 0h1M15 45h1m8 0h1M32 47h1M3 49h1m4 0h1m23 0h1m2 0h1M29 51h1m2 0h1m7 0h1M35 53h1M12 55h1m9 0h1m1 0h1m5 0h1m7 0h1M26 59h1"/><path stroke="#4c254a" stroke-width="2" d="M1 1h1m1 0h1m1 0h3m7 0h1m9 0h1m4 0h2m1 0h1M1 3h1m5 0h1m1 0h1m6 0h1m7 0h2m7 0h3m5 0h1M0 5h1m1 0h1m2 0h1m4 0h2m12 0h1m8 0h1m1 0h2M1 7h1m4 0h2m10 0h1m2 0h1m7 0h1m2 0h1m1 0h1M7 9h1m11 0h2m1 0h1M7 11h1m24 0h1M11 13h2m8 0h1m1 0h1m6 0h1m11 0h1M3 15h1m6 0h1m5 0h1m13 0h2m7 0h1M5 17h2m8 0h2M6 19h1m4 0h1m6 0h1m2 0h2m11 0h2M3 21h1m7 0h1m6 0h1m12 0h1m1 0h2m5 0h3M3 23h1m2 0h1m29 0h2M28 25h2m4 0h1m1 0h1m6 0h1M2 27h1m16 0h1m1 0h1m7 0h1m5 0h1m1 0h2m3 0h1M30 29h1m7 0h1M9 31h2m4 0h1m3 0h1m1 0h1m1 0h2m4 0h1m1 0h1m2 0h1m2 0h1m3 0h2M11 33h1m9 0h1m8 0h2m2 0h1m2 0h1m3 0h1M22 35h1m4 0h1m7 0h1m6 0h2M4 37h1m15 0h2m6 0h1M24 39h1m11 0h1M11 41h1m8 0h1m12 0h1m3 0h1M3 43h1m7 0h1m4 0h1m15 0h1m8 0h1M0 45h1m13 0h1m4 0h1m1 0h1m19 0h2M0 47h1m3 0h2m13 0h1m15 0h2m5 0h2M18 49h1m2 0h1m8 0h1m2 0h1m3 0h1M4 51h1m18 0h1m1 0h1m11 0h1M23 53h1m5 0h1m1 0h1m4 0h1m5 0h2M4 55h2m1 0h3m5 0h1m3 0h1m15 0h1M5 57h1m27 0h2M5 59h2m2 0h1m4 0h1m1 0h1m4 0h2m1 0h1m5 0h1m3 0h2"/><path stroke="#3e2c2e" stroke-width="2" d="M40 5h1M25 7h1M25 9h2M42 11h1M5 15h1M4 23h2M36 29h1M35 31h1M16 33h1M11 35h3m25 0h1M29 37h1m4 0h1m3 0h1M3 39h1m27 0h1M40 41h1M40 45h1M4 49h1m4 0h1m7 0h1M24 51h1m5 0h1m10 0h2M25 59h1"/><path stroke="#3a2136" stroke-width="2" d="M14 1h1M10 3h1M1 5h1m4 0h1m19 0h2m13 0h1M23 7h2m8 0h1M6 9h1m16 0h1m8 0h2M6 11h1m5 0h1m20 0h1M25 13h1m15 0h1m1 0h1M25 15h2M14 17h1M0 27h2m18 0h1m22 0h1M19 29h2m7 0h2m7 0h1m5 0h1M20 31h1m9 0h1m5 0h1M5 33h6m1 0h2m1 0h1m4 0h1M6 35h2m13 0h1m11 0h2M6 37h2m11 0h1m13 0h1m3 0h1M2 39h1m29 0h3m2 0h1M8 41h1m32 0h1M19 43h2m12 0h1M20 45h1M20 47h2M36 49h1m1 0h1M43 51h1M19 53h1M23 55h1m12 0h2M24 57h1M15 59h1"/></pattern><pattern id="hm2" patternUnits="userSpaceOnUse" width="47" height="62"><path stroke="#9f9935" stroke-width="2" d="M10 7h1M17 13h1M17 15h2M24 23h2M15 43h1M8 53h1"/><path stroke="#8f8636" stroke-width="2" d="M35 5h1M9 7h1M20 11h2M16 15h1M38 21h1M25 25h1"/><path stroke="#89783d" stroke-width="2" d="M24 3h1m7 0h1M1 5h1M1 7h1m13 0h1m12 0h1m6 0h1m8 0h1M32 11h1M2 13h2m29 0h1m9 0h1M7 17h1M38 19h1M25 21h1M23 23h1M24 25h1M9 27h1m24 0h1m7 0h1M36 29h1M41 31h1M30 33h1M30 35h1M2 37h1M44 39h1M5 41h1m14 0h1m18 0h1M16 43h1m22 0h1M19 47h1M34 49h1M6 51h1m37 0h1M9 53h1m34 0h1M20 59h1m7 0h1m5 0h1"/><path stroke="#7c7330" stroke-width="2" d="M27 3h1M9 9h1m20 0h1M37 13h1M13 23h2M29 33h1M26 37h1M15 41h1m5 0h1M7 49h1m16 0h1M43 55h1M41 59h1"/><path stroke="#796939" stroke-width="2" d="M28 1h1M4 3h1M31 5h2m1 0h1m2 0h1M27 7h1M3 11h1m9 0h1m1 0h3M22 13h1m12 0h1M37 15h1M1 17h1m4 0h1m10 0h1M3 19h1m13 0h1m6 0h1m2 0h1M14 25h1M1 29h1m8 0h1m17 0h2M35 31h1M37 37h2M10 39h1m15 0h1M8 41h1M14 43h1m5 0h1m1 0h1m17 0h1m2 0h1M38 45h1M18 51h1M7 53h1m6 0h1m26 0h1M42 55h1M19 57h1M35 59h1"/><path stroke="#795c49" stroke-width="2" d="M7 1h1m16 0h1m14 0h1m4 0h1M14 3h1m5 0h1M4 5h1m25 0h1M6 7h1M33 11h1m12 0h1M15 15h1m12 0h1M29 17h1M39 21h1M5 23h1m32 0h1M6 29h1m12 0h1m15 0h1M26 31h1m15 0h1m3 0h1M5 33h1M12 35h1M1 37h1m37 0h1M1 39h1m3 0h1m17 0h1m15 0h2M29 41h1m16 0h1M13 43h1M3 51h1m25 0h1m3 0h1M7 57h1M26 59h1m11 0h1M24 61h1m5 0h1m9 0h1"/><path stroke="#665a30" stroke-width="2" d="M20 1h1M7 3h1M10 5h1m22 0h1m4 0h1M11 7h1m17 0h1m13 0h1M10 9h1m10 0h1m7 0h1M4 11h1M18 13h1m2 0h1m10 0h1m1 0h1m1 0h1M0 15h1m26 0h1m5 0h1M18 17h1m7 0h1M2 19h1m19 0h2m9 0h1m11 0h1M15 23h1m27 0h1m2 0h1M43 27h1M18 29h1M16 31h1m4 0h1M9 35h1m14 0h1m4 0h1M11 41h1m10 0h1M0 43h1m8 0h1m34 0h1m1 0h1M19 45h1M18 47h1m20 0h1M6 49h1M7 51h2m8 0h1m21 0h1M1 53h1m28 0h1m12 0h1M30 55h1m8 0h1M18 57h1m11 0h1M21 59h1m3 0h1m16 0h1M34 61h1"/><path stroke="#784a5d" stroke-width="2" d="M31 3h1m1 0h1M2 5h1M0 7h1m33 0h1M15 9h1M35 11h1M1 13h1m13 0h2M19 15h1M8 17h1m7 0h1m11 0h1M37 19h1M11 21h1m25 0h1M6 23h1m19 0h1m2 0h1m9 0h1M23 25h1m22 0h1M19 27h1m15 0h1M5 29h1m14 0h1M3 37h1m19 0h1M2 39h1M0 41h1m8 0h1m28 0h1m1 0h1M44 49h1M34 51h1M41 55h1M27 59h1m1 0h1M12 61h1m7 0h1m10 0h1m9 0h1"/><path stroke="#783c6c" stroke-width="2" d="M25 1h1m14 0h1m2 0h1M15 3h1m5 0h1M29 5h1M16 7h1M6 9h2m16 0h1m3 0h1m6 0h1m2 0h1m5 0h1M34 11h1M13 13h1m27 0h2m1 0h1M3 15h1m18 0h1M5 17h1m6 0h1M5 21h1m20 0h1M4 23h1M9 25h1m6 0h1m9 0h1m15 0h1M0 27h1m7 0h1m16 0h1m10 0h1M2 29h1m4 0h1m25 0h2M0 31h1m21 0h1m2 0h1m17 0h1M6 33h1m3 0h1m1 0h1m18 0h1M15 35h1m15 0h1m6 0h2M0 37h1m11 0h1m17 0h1m9 0h1M24 39h1m11 0h1m4 0h1m1 0h1m1 0h1M43 41h1M38 43h1M23 47h1M19 49h1m13 0h1m5 0h1M4 51h2M45 53h1M8 55h1M8 57h1m19 0h1M33 59h1m2 0h2M25 61h2"/><path stroke="#634643" stroke-width="2" d="M14 1h1m1 0h1m2 0h1M19 3h1m8 0h1M0 5h1m27 0h1M30 7h2m7 0h2m4 0h1M8 9h1m7 0h1m14 0h1m4 0h1m2 0h1M2 11h1m4 0h1m23 0h1m11 0h1M40 13h1M1 15h1m23 0h1m3 0h1m6 0h1M10 17h1m2 0h1m13 0h1M7 19h1m8 0h1m8 0h2m19 0h1M17 23h1M0 25h1m14 0h1m19 0h1M4 27h1m5 0h1m7 0h1m13 0h2M9 29h1m1 0h1m20 0h1m9 0h1M4 31h1m5 0h2m21 0h2m1 0h1M8 33h2m5 0h1M14 35h1m8 0h1m10 0h1m8 0h1M13 37h1m8 0h1m1 0h1m19 0h1M9 39h1m1 0h1m13 0h1m3 0h1m7 0h1M1 41h2m7 0h1m1 0h1m1 0h1m1 0h1m2 0h1m16 0h1m4 0h1m3 0h1M19 43h1m1 0h1M2 47h1m3 0h1m23 0h1m1 0h1m7 0h1M3 49h1m4 0h1m9 0h1m3 0h2m11 0h1M32 51h1m10 0h1M10 53h1m2 0h1m1 0h1m7 0h1m4 0h2m7 0h1M38 55h1m5 0h1M20 57h1M19 59h1m10 0h1M21 61h1m6 0h2m2 0h1m9 0h1"/><path stroke="#55472f" stroke-width="2" d="M15 1h1m11 0h1m5 0h1M25 3h1M7 5h1m19 0h1m8 0h1M8 7h1M1 9h2m17 0h1M14 11h1m4 0h1m2 0h1m13 0h2M31 13h1m14 0h1M26 15h1M0 17h1M39 19h1M24 21h1M0 23h1m43 0h1M3 35h1m9 0h1m14 0h1M10 37h1m14 0h1m10 0h1m6 0h1M4 39h1m15 0h1m1 0h1m15 0h1M8 43h1M39 45h1M21 49h1m3 0h1M21 51h1m8 0h1M26 53h2m14 0h1M42 57h1M40 59h1m2 0h1M33 61h1m5 0h1"/><path stroke="#4f3c34" stroke-width="2" d="M32 1h1M0 3h1m4 0h2m19 0h1M6 5h1m2 0h1m1 0h1m27 0h1M2 7h1m9 0h1m8 0h1m14 0h1M22 9h1m2 0h1m11 0h1m2 0h2m4 0h1M18 11h1M32 15h1m5 0h1M2 17h2m11 0h1m14 0h2m1 0h1M0 19h2m13 0h1m2 0h1m2 0h1m6 0h1m5 0h1M23 21h1m17 0h1M13 25h1M6 27h1m32 0h1M21 29h1m5 0h1M5 31h1m9 0h1m4 0h1M1 33h1m14 0h1m8 0h1M1 35h2m16 0h1M5 37h1m14 0h1m6 0h2M21 39h1M4 41h1m2 0h1m15 0h1M20 45h1M7 47h1m26 0h1m3 0h1M9 51h1m6 0h1m20 0h1m2 0h1M6 53h1m10 0h1m21 0h2M31 57h1m9 0h1m1 0h1"/><path stroke="#7b317e" stroke-width="2" d="M22 1h2M17 3h1m4 0h2M15 5h2m5 0h2M27 9h1m6 0h1M44 11h1M12 13h1M23 15h2M10 19h1M6 21h2M7 23h1M8 25h1m8 0h6m5 0h2M46 27h1M7 33h1m3 0h1m28 0h4M40 35h1M0 39h1m11 0h1m4 0h1m28 0h1M27 43h1m4 0h1M14 45h1m12 0h1m4 0h2M22 47h1m6 0h1M11 49h1m20 0h1M0 55h1m8 0h2m4 0h1m30 0h1M9 57h1m36 0h1M0 59h1m3 0h1m27 0h1m13 0h1"/><path stroke="#6c2f6c" stroke-width="2" d="M6 1h1m5 0h1m4 0h1m17 0h2m5 0h1M10 3h1m7 0h1m10 0h2m9 0h1m1 0h2M17 5h1M5 7h1m12 0h2M23 9h1M5 11h1m21 0h1M27 13h2M12 15h1m1 0h1m27 0h1M4 17h1m17 0h3M5 19h1m3 0h1m1 0h2M8 21h2m2 0h1m9 0h1m4 0h1M3 23h1m6 0h1m7 0h1m2 0h1m8 0h3M6 25h1m34 0h1M3 27h1m11 0h1M3 29h1m8 0h2m1 0h1m9 0h1M23 31h1m13 0h1m1 0h1M45 33h1M7 35h1m14 0h1m9 0h1m12 0h2M31 37h2m13 0h1M6 39h1m6 0h1m2 0h1m13 0h1m1 0h1M13 41h1m16 0h1m3 0h2M3 43h1m1 0h1m20 0h1m8 0h1m1 0h1M13 45h1M5 47h1m22 0h1M12 49h2m14 0h1m1 0h2m4 0h1M35 51h2M34 53h2M13 55h2m1 0h1m6 0h1m13 0h1m7 0h1M4 57h1m21 0h2M2 59h1m2 0h1m1 0h2m22 0h1m13 0h1M0 61h1m1 0h1m5 0h1m2 0h1m1 0h1m3 0h1m4 0h2m21 0h1"/><path stroke="#5e3255" stroke-width="2" d="M8 1h1m4 0h1m7 0h1m16 0h1M1 3h1m1 0h1m12 0h1m18 0h1m3 0h1M3 5h1m1 0h1m8 0h1m5 0h2m2 0h1M38 7h1M0 9h1m4 0h1m6 0h1m4 0h1M0 11h1m5 0h1m5 0h1m28 0h1m3 0h1M0 13h1m10 0h1m11 0h1m21 0h1M2 15h1m1 0h1m8 0h1m16 0h1m3 0h2m4 0h2m1 0h1M19 17h1m5 0h1M4 19h1m3 0h1M3 21h1m11 0h2m19 0h1M20 23h1m1 0h1m5 0h1m6 0h1M4 25h2m30 0h1M7 27h1m9 0h1m2 0h1m3 0h1m3 0h1m8 0h1m3 0h1M4 29h1m11 0h2m13 0h1m5 0h1m1 0h1M3 31h1m2 0h1m2 0h1m17 0h1m10 0h1m1 0h1M0 33h1m13 0h1m11 0h1m7 0h2M6 35h1m4 0h1m25 0h1m6 0h1M6 37h1m4 0h1m22 0h1M6 41h1m30 0h1m6 0h1M17 43h1m11 0h1m4 0h1M15 45h1M3 47h1m5 0h1m10 0h2m11 0h1M2 49h1m14 0h1m2 0h1m8 0h1m8 0h1m1 0h1M19 51h1m3 0h1m4 0h1m13 0h1m2 0h1M3 53h1m28 0h1m5 0h1M1 55h1m5 0h1m10 0h1m3 0h1m6 0h1M6 57h1m6 0h1m15 0h1m4 0h1m4 0h1M18 59h1m20 0h1M27 61h1m7 0h1"/><path stroke="#5e2860" stroke-width="2" d="M3 1h1m7 0h1m6 0h1m22 0h1M41 3h1M13 5h1m28 0h1m2 0h1M4 7h1M11 11h1m11 0h2m17 0h1M21 15h1m22 0h1M35 17h1m4 0h1M10 21h1m24 0h1M11 23h1m24 0h1M3 25h1m3 0h1m2 0h1m16 0h1m4 0h1M16 27h1M8 29h1m14 0h2M12 31h1m11 0h1m19 0h1M27 33h1m9 0h2m5 0h1m1 0h1M15 37h2m24 0h1m3 0h1M18 39h1m12 0h1m3 0h1M33 41h1M2 43h1m15 0h1m9 0h1m4 0h1M3 45h1m1 0h3m3 0h1m16 0h2m1 0h1M4 47h1m6 0h2m1 0h1m26 0h1M0 49h2m8 0h1m16 0h1M28 55h1m3 0h1M0 57h1m4 0h1m4 0h1m1 0h1M1 59h1m4 0h1m8 0h3M4 61h2m1 0h1m8 0h1m1 0h2m16 0h1m9 0h1"/><path stroke="#4c3539" stroke-width="2" d="M29 1h1m4 0h1M19 5h1m23 0h1M7 7h1m6 0h1m5 0h1m1 0h1m3 0h1m10 0h1M3 9h1m28 0h1M4 13h1m5 0h1m9 0h1m5 0h1M5 15h1m40 0h1M14 17h1m24 0h1M13 19h1M2 21h1m10 0h1m3 0h1M16 23h1M5 27h1m23 0h1M22 29h1m18 0h1m1 0h1M1 31h2M4 33h1m18 0h2m3 0h1M8 35h1m1 0h1M9 37h1m4 0h1m4 0h1m1 0h1M14 39h1m12 0h1M3 41h1m13 0h1m8 0h1M10 43h2m29 0h2M16 45h1m23 0h1M8 47h1m7 0h2m6 0h1M43 49h1M0 51h1m1 0h1m19 0h1m1 0h1m6 0h1m6 0h1M2 53h1m13 0h1m1 0h1m12 0h1M40 55h1M2 57h1m19 0h1M43 61h1"/><path stroke="#4d2f40" stroke-width="2" d="M30 1h1m14 0h1M8 3h1m2 0h1m1 0h1m20 0h1m3 0h1M40 5h1m3 0h1M3 7h1m21 0h1m7 0h1m7 0h2M4 9h1m6 0h1m6 0h1m7 0h1m6 0h1m8 0h2m1 0h1M1 11h1m6 0h3m15 0h1M14 13h1m4 0h1m4 0h1M31 15h1m7 0h1M20 17h1m13 0h1m10 0h1M6 19h1M40 21h1M12 23h1m6 0h1m17 0h1M33 25h2m2 0h2m4 0h2M1 27h1m12 0h1M0 29h1m25 0h1m3 0h1m15 0h1M17 31h1m10 0h1m3 0h1m12 0h1M13 33h1M26 35h1m6 0h1m1 0h1M4 37h1m2 0h1m21 0h1m3 0h1m1 0h1M3 39h1m4 0h1m6 0h1m3 0h1m13 0h1M18 41h1m9 0h1m13 0h1M1 43h1M0 45h1m21 0h1m14 0h1m3 0h1M1 47h1m8 0h1m20 0h1m3 0h1M4 49h1M20 51h1m20 0h1M0 53h1M19 55h1m11 0h1M3 57h1m11 0h1m5 0h1m3 0h1m6 0h1m2 0h1m2 0h1M22 59h1m21 0h1M9 61h1m28 0h1"/><path stroke="#4c254a" stroke-width="2" d="M2 1h1m1 0h2m3 0h2m15 0h1m10 0h1M2 3h1m6 0h1m26 0h1M12 5h1m5 0h1m22 0h1m4 0h1M17 7h1m5 0h2M28 11h1M11 15h1m8 0h1m24 0h1M9 17h1m1 0h1m9 0h1m19 0h3m2 0h1M36 19h1M4 21h1m14 0h1m1 0h1m6 0h5M2 23h1m5 0h2m17 0h1M30 25h2M2 27h1m19 0h2m2 0h1m4 0h1m13 0h1M14 29h1m23 0h1M7 31h2m4 0h2m16 0h1M22 33h1m9 0h2m2 0h1m2 0h1M0 35h1m15 0h1m4 0h1m14 0h1m4 0h1M17 37h2M34 39h1m7 0h1M27 41h1m3 0h2M4 43h1m1 0h1m24 0h1m4 0h1M1 45h2m1 0h1m7 0h1m8 0h1m1 0h1m2 0h1m3 0h1M0 47h1m12 0h1m1 0h1m11 0h1m18 0h1M5 49h1m3 0h1m16 0h1m10 0h1m7 0h2M10 51h2m1 0h1m12 0h2m18 0h1M4 53h2m6 0h1m20 0h1m2 0h1m9 0h1M5 55h2m4 0h2m4 0h1m6 0h1m1 0h2m6 0h3M1 57h1m9 0h1m2 0h1m8 0h2m8 0h1m2 0h2m7 0h1M3 59h1m5 0h4m1 0h1M1 61h1m1 0h1m2 0h1m3 0h1m3 0h1m22 0h1m6 0h1"/><path stroke="#3e2c2e" stroke-width="2" d="M1 1h1M37 3h1m8 0h1M8 5h1m16 0h2M13 7h1m18 0h1M13 9h2m4 0h1M25 11h1m3 0h2m7 0h1m1 0h1M25 13h1m3 0h2m7 0h2M6 15h2m2 0h1M32 17h1m4 0h2M14 19h1m4 0h1m12 0h1m11 0h1M0 21h2m12 0h1m3 0h1m14 0h1m8 0h5M42 23h1m2 0h1M1 25h1M45 29h1M19 31h1m9 0h2M2 33h1m16 0h3M4 35h2m12 0h1m1 0h1m4 0h1m1 0h1m14 0h1M42 37h1M28 39h1M12 43h1m10 0h1m1 0h1m19 0h1M9 45h1m8 0h1m24 0h2M44 47h1M16 49h1M1 51h1m13 0h1M22 53h1m1 0h2M17 57h1m26 0h1M24 59h1"/><path stroke="#3a2136" stroke-width="2" d="M0 1h1m30 0h1m14 0h1M12 3h1m31 0h2M46 7h1M39 11h1M5 13h5M8 15h2M36 17h1m7 0h1M20 19h1m8 0h3m3 0h1m4 0h4M20 21h1m13 0h1M1 23h1m31 0h2m5 0h2M2 25h1m8 0h2m26 0h2m4 0h1M11 27h3m7 0h1m5 0h1m2 0h1m7 0h1m1 0h1m3 0h1M40 29h1m3 0h1M18 31h1M3 33h1m13 0h2M17 35h1M8 37h1M7 39h1M24 41h2M7 43h1m16 0h1m5 0h1M8 45h1m1 0h1m6 0h1m6 0h2m8 0h3m5 0h1m2 0h2M25 47h2m9 0h2m4 0h2m1 0h1M14 49h2m25 0h2M12 51h1m1 0h1m10 0h1M11 53h1m7 0h3M2 55h3m15 0h2m3 0h1m7 0h1M16 57h1m23 0h1M13 59h1m9 0h1M15 61h1"/></pattern><pattern id="hm3" patternUnits="userSpaceOnUse" width="50" height="58"><path stroke="#9f9935" stroke-width="2" d="M17 5h1M40 7h1M43 19h1M16 23h1"/><path stroke="#8f8636" stroke-width="2" d="M1 5h2m15 0h1m21 0h1M39 7h1M41 9h1M6 17h1m4 0h1M42 19h1m1 0h1M15 23h1M33 25h1M17 31h1M41 35h1M24 41h1m18 0h1M24 43h2M46 45h1M8 47h2M9 49h1m10 0h2M14 53h2M2 55h1"/><path stroke="#89783d" stroke-width="2" d="M39 3h1m3 0h1m1 0h1M31 5h1m12 0h1M15 7h1M42 9h1M1 11h1m36 0h2M6 13h1M3 17h1m6 0h1m14 0h1m14 0h1M9 19h1m14 0h1m5 0h2M9 21h1m31 0h1m5 0h1M0 23h1m32 0h1M15 27h1m15 0h1m2 0h1m6 0h1M17 29h1m1 0h1m2 0h1m1 0h1m5 0h1m12 0h1M16 31h1M21 35h1m1 0h1m18 0h1M2 37h1m17 0h1m3 0h1M33 41h1M43 43h1M24 45h1m3 0h1m3 0h1m7 0h1m6 0h1M37 49h1m6 0h1M9 51h1m10 0h1m14 0h1m8 0h1M40 53h2M1 55h1m4 0h2M15 57h1"/><path stroke="#7c7330" stroke-width="2" d="M16 5h1M16 7h2M1 9h1m24 0h1M48 11h1M16 15h1M7 17h1m4 0h1M39 19h1M21 29h1M34 35h1M23 37h1m24 0h1M34 41h1m7 0h1M14 43h1M0 49h1M32 51h1M7 53h1"/><path stroke="#796939" stroke-width="2" d="M8 3h1m1 0h1M28 7h1M4 9h1m12 0h1m29 0h2M47 11h1M1 15h1m44 0h1M16 17h1m31 0h1M23 19h1m4 0h1m11 0h1M16 21h1M3 25h1m4 0h1M11 27h1m21 0h1M6 29h1m30 0h1m4 0h1M20 33h1m3 0h1M26 35h1m6 0h1m6 0h1M3 37h1m10 0h1m32 0h1M39 39h1M6 41h1m11 0h1m16 0h2M23 43h1M33 45h1M21 47h1m24 0h1M19 49h1m5 0h1m3 0h1m8 0h1m7 0h1M36 51h1m8 0h1M12 55h1m13 0h1M1 57h1m19 0h1m23 0h1"/><path stroke="#795c49" stroke-width="2" d="M10 1h1M23 3h1m7 0h1m10 0h1M24 5h1m10 0h1m3 0h1M23 7h1M9 9h1M44 11h1M21 15h1M20 17h1M2 19h1m4 0h1m21 0h1m3 0h1m7 0h1M34 21h1m7 0h2m2 0h1M46 23h1M16 27h1m6 0h1m8 0h1M23 29h1m25 0h1M23 31h1m20 0h1m1 0h1M2 33h1m3 0h1m1 0h1m3 0h1m19 0h1m4 0h1M20 35h1m1 0h1M21 37h2M21 39h1m1 0h1m14 0h1M37 41h1M26 43h1M12 45h1m12 0h1m11 0h1m3 0h1M42 49h1M18 53h1m11 0h1m15 0h1M17 55h1M0 57h1m42 0h1"/><path stroke="#665a30" stroke-width="2" d="M9 3h1m34 0h1M15 5h1m33 0h1M29 7h1M40 9h1M0 11h1m17 0h1m7 0h1M1 17h2m1 0h1m19 0h1m18 0h1M12 19h1m21 0h1m10 0h2M21 21h1M3 23h1m4 0h1m10 0h1m27 0h1M10 25h1m35 0h1M8 27h1m1 0h1m10 0h1M20 29h1m4 0h1m6 0h1m7 0h2M20 31h1m11 0h1m4 0h1M48 35h1M40 39h1m7 0h2M2 41h1m2 0h1m19 0h1M15 43h1m17 0h1M0 47h2m45 0h3M5 49h2m1 0h1m7 0h1m1 0h1m3 0h1m16 0h1m5 0h1m3 0h1M5 51h2m8 0h3m1 0h1m13 0h1m7 0h1M11 53h1m4 0h1m5 0h1m10 0h2m10 0h1M21 55h1m23 0h1"/><path stroke="#784a5d" stroke-width="2" d="M24 3h1m15 0h1M23 5h1m8 0h1m12 0h1M18 9h1m10 0h1m13 0h1M43 11h1M1 13h1M20 15h1m12 0h1m9 0h1m1 0h1M19 17h1m21 0h1M6 19h1m3 0h1m14 0h1M2 21h1m12 0h1m17 0h1m6 0h1m3 0h1M17 23h1m14 0h1m12 0h1M15 25h1m18 0h1M24 27h1m5 0h1m9 0h1M0 29h1m15 0h1m1 0h1m10 0h1M18 31h1m3 0h1M7 33h1m15 0h1m2 0h1m6 0h1M2 35h1m21 0h1M25 37h1m12 0h2M24 39h1m18 0h1M27 43h1M28 47h1m3 0h1m4 0h1M10 49h1m21 0h1M10 51h1m32 0h1M13 53h1m3 0h1m17 0h1M0 55h1m34 0h1m5 0h1m1 0h1"/><path stroke="#783c6c" stroke-width="2" d="M9 1h1m33 0h1M32 3h1m5 0h1m7 0h1M19 5h1m14 0h1m7 0h2M43 7h1m2 0h1M10 9h1M7 13h1m19 0h2M35 15h1M23 17h1m2 0h1m18 0h1M3 19h1m28 0h1m16 0h1M1 21h1m1 0h1m9 0h1m35 0h1M1 23h1m12 0h1m19 0h1M7 25h1m16 0h1m6 0h1M27 27h1m11 0h1M43 31h1M1 33h1m40 0h1m2 0h2M37 35h1M1 37h1m35 0h1M15 39h1m2 0h1m17 0h2m9 0h1M37 43h1m8 0h1M11 45h1m14 0h2m11 0h1M6 47h1m3 0h2m6 0h2m18 0h1M42 51h1M40 55h1M6 57h2m8 0h2"/><path stroke="#634643" stroke-width="2" d="M8 1h1m22 0h1M18 3h1M3 5h1m9 0h2m26 0h1M1 7h2m11 0h1m7 0h1m1 0h1m7 0h1m8 0h1m2 0h2M30 9h1m14 0h1M40 11h1M0 13h1m4 0h1m20 0h1m2 0h2m4 0h2m6 0h1M6 15h1m8 0h1m8 0h1m11 0h1m4 0h1m2 0h1M9 17h1m5 0h1m26 0h1m1 0h1m1 0h1M0 19h2m9 0h1m2 0h2M0 21h1m7 0h1m3 0h1m9 0h1m22 0h1m2 0h1M4 23h1m13 0h1m5 0h1m19 0h1M11 25h1m4 0h1m15 0h1M1 27h1m1 0h1m22 0h1m15 0h1M39 29h1m4 0h1M0 31h1m18 0h1m6 0h1m2 0h1m15 0h1M25 33h1m8 0h1m9 0h1m2 0h1M25 35h1M18 37h2m9 0h1m10 0h2M22 39h1m12 0h1m6 0h1M27 41h2M6 43h1m21 0h1m5 0h1m9 0h1M2 45h2m25 0h1m1 0h1m2 0h1m8 0h1m4 0h1M3 47h1m1 0h1m1 0h1m12 0h1m10 0h1m13 0h1M11 49h1m14 0h3m4 0h1m9 0h1M18 51h1m2 0h1m4 0h1m10 0h1m8 0h1M1 53h2m3 0h1m14 0h1m4 0h1m2 0h1m1 0h1m10 0h1M42 55h1m1 0h1M22 57h1m17 0h1m1 0h1"/><path stroke="#55472f" stroke-width="2" d="M11 3h1m15 0h1m2 0h1M0 5h1m24 0h1m2 0h1M18 7h1m6 0h1M2 9h2m12 0h1m22 0h1M2 11h1m16 0h1m9 0h1M2 15h2m3 0h1m3 0h1m28 0h1m6 0h2M5 17h1m12 0h1m19 0h2M8 19h1m9 0h1m28 0h1M10 21h1m17 0h1M5 23h1m5 0h1m31 0h1m5 0h1M2 25h1m6 0h1m39 0h1M9 27h1m2 0h1m9 0h1m21 0h1M3 29h1m27 0h1m1 0h1m4 0h1M13 31h1m10 0h2m4 0h1m2 0h2M21 33h1M7 35h1m4 0h1m19 0h1M12 37h2m14 0h1m15 0h1m1 0h1M2 39h1m9 0h1M14 41h1m4 0h1m3 0h1m17 0h1M2 43h2m15 0h1m9 0h1m12 0h1M13 45h1m9 0h1m21 0h1M13 47h1m8 0h1M1 49h1m5 0h1m7 0h1m1 0h1m23 0h1M3 51h1m30 0h1m5 0h1M12 53h1M3 55h1m11 0h1m11 0h1M2 57h1m17 0h1m23 0h1"/><path stroke="#4f3c34" stroke-width="2" d="M7 1h1m14 0h2m21 0h1M1 3h3m3 0h1m9 0h1m23 0h1M26 5h2m2 0h1M6 7h1m14 0h1m4 0h2M0 9h1m4 0h1m19 0h1m1 0h1M5 11h2m10 0h1m2 0h1m4 0h1m1 0h1m21 0h1M47 13h1M0 15h1m11 0h1m4 0h2m6 0h1m3 0h1m12 0h1M8 17h1m8 0h1m29 0h1M13 19h1m2 0h1m21 0h1M9 23h1m11 0h1M0 25h1M38 27h1m4 0h1M7 29h1m40 0h1M1 31h1m3 0h2m14 0h1m9 0h1M16 33h2m1 0h1M6 35h1m4 0h1m23 0h1m7 0h1m3 0h1M6 37h1m26 0h2m7 0h1m2 0h1m3 0h1M14 39h1m5 0h1m13 0h1m6 0h1M3 41h2m5 0h1m4 0h1m1 0h1m8 0h1m5 0h1m15 0h1M5 43h1m1 0h1m5 0h1m2 0h1m1 0h1m11 0h1m1 0h1m16 0h1M22 45h1m21 0h1M2 47h1m9 0h1M3 49h1m32 0h1m3 0h1m6 0h1M4 51h1m2 0h2m5 0h1m16 0h1m6 0h1M8 53h3m8 0h1m12 0h1m5 0h2m4 0h1M8 55h1m2 0h1m4 0h1m5 0h1"/><path stroke="#7b317e" stroke-width="2" d="M5 1h1m28 0h2m12 0h1M5 3h1m28 0h2M37 5h2M36 9h2M22 13h2M34 15h1M14 21h1M13 23h1m21 0h1M28 27h2M1 35h1m28 0h1M46 39h1M39 47h1M0 53h1m48 0h1M30 55h2M34 57h3m1 0h2"/><path stroke="#6c2f6c" stroke-width="2" d="M4 1h1m16 0h1m10 0h1m3 0h1m9 0h2M4 3h1m8 0h1m5 0h1m16 0h2M4 5h1m15 0h1m25 0h1M11 7h1M14 9h1M14 11h1m8 0h1M2 13h3m16 0h1m9 0h3M27 15h1m3 0h1M22 17h1m4 0h1m1 0h1m3 0h1M7 21h1m24 0h1M28 23h2m11 0h1M18 25h1m4 0h1M18 27h1M15 31h1m26 0h1M27 33h2m1 0h1m17 0h1M0 37h1m8 0h2m19 0h1M4 39h1m11 0h1m11 0h1m2 0h1m13 0h1M31 43h1m15 0h2M10 45h1m7 0h1M16 47h1m19 0h1M49 51h1M29 55h1m6 0h1m2 0h1M9 57h1m8 0h1m13 0h1m4 0h1"/><path stroke="#5e3255" stroke-width="2" d="M0 1h2m9 0h1m1 0h1m6 0h1m3 0h1m13 0h2m2 0h1M0 3h1m19 0h1m28 0h1M10 5h1m22 0h1m2 0h1M31 7h1m1 0h1m1 0h1m2 0h1m3 0h1m4 0h1M8 9h1m29 0h1m5 0h1m1 0h1m2 0h1M9 11h2m26 0h1M8 13h1m9 0h1m15 0h1m2 0h1M5 15h1m16 0h2m2 0h1m3 0h1M21 17h1m8 0h3m1 0h1M4 19h1M23 21h2m10 0h1M2 23h1m4 0h1m4 0h1m9 0h2m14 0h1M4 25h1m12 0h1m4 0h1m18 0h1m2 0h2M2 27h1m4 0h1m9 0h1m1 0h2m4 0h1m9 0h1m13 0h1M14 29h2m11 0h2M27 31h2m9 0h1m8 0h1M5 33h1m7 0h1m4 0h1m10 0h1m6 0h1m4 0h1m1 0h1M19 35h1m9 0h1M26 37h1m16 0h1M5 39h1m1 0h1m2 0h1m6 0h1m7 0h1M31 41h1m6 0h1m7 0h1M35 43h2M5 45h1m10 0h1m21 0h1m3 0h1M4 47h1m20 0h2m13 0h1m1 0h1m1 0h1M24 49h1M0 51h1m22 0h1m3 0h1m1 0h1M3 53h1m16 0h1m6 0h1m19 0h1M18 55h1M14 57h1m16 0h1m17 0h1"/><path stroke="#5e2860" stroke-width="2" d="M6 1h1m11 0h2m5 0h1m7 0h1m3 0h1m11 0h1M33 3h1M5 5h1m16 0h1M12 7h1m24 0h1M12 9h2m21 0h1M22 11h1m12 0h1M14 13h1m9 0h1M32 15h1M35 17h1M26 19h1m9 0h1M6 21h1M40 23h1M12 25h1m15 0h1m6 0h1m4 0h1M4 27h1M14 33h2M16 35h1M8 39h1m23 0h1M8 41h1M6 45h1M17 47h1m25 0h1M43 53h1m4 0h1M32 55h1M24 57h1m2 0h1m1 0h1m3 0h1m14 0h1"/><path stroke="#4c3539" stroke-width="2" d="M3 1h1m10 0h1m29 0h1M22 3h1M8 5h1M4 7h1m4 0h1m38 0h1M28 9h1M4 11h1m23 0h1m1 0h1m15 0h1M9 13h1m32 0h1m5 0h2M10 15h1M0 17h1m12 0h1m35 0h1M19 19h1m2 0h1m4 0h1m9 0h1M11 21h1m5 0h1M10 23h1m9 0h1m21 0h1M47 25h1M14 27h1m22 0h1M5 29h1m20 0h1m7 0h1M49 31h1M40 33h1M8 35h1m4 0h1m13 0h1m11 0h1M11 37h1m3 0h1M0 39h1m10 0h1m1 0h1M16 41h1m12 0h2m9 0h1m3 0h1M1 45h1M33 47h1M22 51h1m7 0h1M28 53h1m7 0h2M5 55h1m7 0h2m10 0h1m7 0h2M26 57h1m19 0h1"/><path stroke="#4d2f40" stroke-width="2" d="M12 1h1m17 0h1m9 0h1M12 3h1m1 0h1m14 0h1M9 5h1m1 0h2M0 7h1m2 0h1m3 0h1m2 0h1m2 0h1m16 0h1m3 0h1m14 0h1M15 9h1m15 0h1M7 11h2m2 0h1m29 0h2M10 13h2m3 0h1m3 0h2m4 0h1m12 0h2M4 15h1m4 0h1m9 0h1M28 17h1M48 19h1M4 21h2m25 0h1m7 0h1M6 23h1m30 0h1M1 25h1m4 0h1m12 0h1m1 0h1m8 0h1m7 0h1m3 0h2M0 27h1m5 0h1m38 0h1M1 29h1m2 0h1m6 0h1m24 0h1m8 0h1M2 31h1m4 0h1m28 0h1m4 0h1M9 33h1m1 0h1m10 0h1m8 0h1m3 0h1m2 0h1M3 35h1m6 0h1m3 0h1m2 0h1m13 0h1m4 0h1m12 0h1M4 37h1m3 0h1m7 0h1M3 39h1m2 0h1m12 0h1m7 0h1m5 0h1M7 41h1m1 0h1m3 0h1m25 0h1m7 0h1M22 43h1m17 0h1M7 45h3m7 0h1m1 0h1m15 0h2M23 47h2m2 0h1m1 0h2m3 0h2m5 0h1M23 49h1M11 51h1m12 0h2m2 0h1M5 53h1m17 0h1m1 0h1M20 55h1m7 0h1M12 57h1m10 0h1m17 0h1"/><path stroke="#4c254a" stroke-width="2" d="M16 1h2m11 0h1m11 0h1M6 3h1m14 0h1m3 0h1m22 0h1M21 5h1m25 0h1M8 7h1m27 0h1M11 9h1m9 0h1m11 0h2M12 11h2m7 0h1m2 0h1m9 0h1m1 0h1M12 13h1m28 0h1M14 15h1m13 0h1M14 17h1M5 19h1m29 0h1M25 21h2M27 23h1m2 0h2m4 0h1m2 0h1M13 25h2m5 0h1m4 0h1m1 0h1m1 0h1m6 0h2m1 0h1M36 27h1m10 0h2M13 29h1M9 31h2m3 0h1m20 0h1m3 0h1M0 33h1m9 0h1m28 0h1m9 0h1M0 35h1m8 0h1m5 0h1m2 0h1m19 0h1M31 37h1m4 0h1M9 39h1m19 0h2m13 0h1M21 41h1m23 0h1M38 43h2m5 0h1M4 45h1M47 51h2M4 53h1M9 55h2m12 0h2m12 0h2m10 0h1M5 57h1m2 0h1m1 0h2m1 0h1m5 0h1m5 0h1m2 0h1m1 0h1"/><path stroke="#3e2c2e" stroke-width="2" d="M2 1h1m12 0h1M15 3h2m9 0h1m1 0h1M6 5h2m21 0h1m18 0h1M5 7h1M6 9h1m16 0h1M16 11h1m28 0h1M16 13h2m26 0h1m1 0h1M37 15h1m11 0h1M37 17h1M17 19h1m2 0h2M18 21h3m8 0h2m7 0h1M48 23h1M5 25h1m42 0h1M13 27h1M2 29h1m7 0h1M3 31h2m3 0h1m3 0h1M3 33h1M5 35h1m38 0h1M7 37h1m9 0h1m9 0h1m4 0h1m2 0h1M1 39h1m24 0h1M0 41h2m9 0h1m8 0h1m28 0h1M0 43h2m2 0h1m12 0h1m2 0h1m20 0h1M0 45h1m13 0h2m4 0h2m8 0h1m18 0h1M14 47h1M2 49h1m1 0h1m7 0h3m15 0h2m2 0h2m12 0h1M2 51h1m9 0h2m25 0h1M46 55h1M3 57h1"/><path stroke="#3a2136" stroke-width="2" d="M26 1h3M47 3h1M19 7h2M7 9h1m11 0h2m1 0h1m1 0h1m7 0h1M3 11h1m11 0h1m15 0h3M13 13h1m26 0h1m4 0h1M8 15h1m4 0h1m24 0h2M36 17h1M27 21h1m8 0h2M25 23h2M26 25h1M5 27h1m40 0h1M8 29h2m2 0h1m22 0h1m10 0h2M11 31h1m28 0h1m7 0h1M4 33h1M4 35h1m23 0h1m16 0h2M5 37h1M12 41h1m9 0h1M8 43h5m8 0h1M15 47h1M1 51h1M24 53h1M4 55h1m14 0h1m27 0h2M4 57h1m42 0h1"/></pattern><pattern id="hm4" patternUnits="userSpaceOnUse" width="53" height="60"><path stroke="#9f9935" stroke-width="2" d="M10 1h1m12 0h1M47 15h1M8 19h1M17 23h1M35 25h1M3 27h1m31 0h1M34 29h1M11 31h1M13 35h1M8 39h1M17 41h1M39 47h1"/><path stroke="#8f8636" stroke-width="2" d="M5 1h1m3 0h1m10 0h1m1 0h1m1 0h1M5 3h1m24 0h1m4 0h2m5 0h2M42 5h1M48 7h1M23 9h1M2 11h1M47 13h1M13 15h1m17 0h1m16 0h1M17 17h2M24 19h1M16 23h1m28 0h1M9 25h1m34 0h1M2 27h1m6 0h1m26 0h1M9 29h1m15 0h1m7 0h1M12 31h1m7 0h1M11 33h1m8 0h1m14 0h2M14 35h1M0 37h1m7 0h1m4 0h1M0 39h1m8 0h1m2 0h1m8 0h1m8 0h2m8 0h1M1 41h1m16 0h1M2 43h2m13 0h1M27 45h1M40 47h1M17 49h1M51 55h1M43 57h1M22 59h1m5 0h1"/><path stroke="#89783d" stroke-width="2" d="M6 1h1m6 0h1m1 0h1m12 0h1m9 0h1m12 0h1M11 3h1m38 0h1M4 5h1m12 0h1M11 7h1m9 0h1m21 0h1m3 0h1M45 9h1M23 11h1m2 0h1m2 0h1m16 0h1M0 13h1m27 0h1m1 0h1m4 0h1m8 0h1M14 15h1m4 0h1m7 0h1M10 17h1m1 0h1m14 0h1m3 0h1M7 19h1m8 0h1M1 21h1m6 0h1M0 23h1M10 25h1m32 0h1M27 27h1m15 0h1M26 29h2M17 31h1m17 0h1M27 33h1M4 35h1M43 37h2M4 39h2m1 0h1m5 0h1m6 0h1m11 0h1M4 41h1m7 0h1m27 0h1M38 43h2M28 45h1m8 0h1M20 47h1m5 0h1M16 49h1m27 0h1M17 51h1M3 53h1m17 0h1m6 0h1m3 0h1M5 55h1m21 0h1m16 0h1m7 0h1M14 57h1m13 0h1M13 59h1m22 0h1m6 0h1"/><path stroke="#7c7330" stroke-width="2" d="M21 1h1m7 0h2M14 3h1m3 0h1m12 0h2M32 5h1M23 7h1m8 0h1M1 13h1m11 0h1m11 0h1M1 15h1M24 17h1m22 0h1M40 21h1M43 23h2M2 25h1M4 33h1m9 0h1M30 37h1m18 0h1M23 39h1M2 41h1m13 0h1m20 0h1M18 43h1m28 0h3M9 51h1M27 53h1M38 57h1M21 59h1m17 0h1m7 0h1"/><path stroke="#796939" stroke-width="2" d="M47 1h1M51 3h1M22 5h1M16 7h1m5 0h1M1 11h1m23 0h1m1 0h2m4 0h1m11 0h1M2 13h1m19 0h1m6 0h1m10 0h1M2 15h1m17 0h1M11 17h1m21 0h1m1 0h1m16 0h1M1 19h1m15 0h1m7 0h1M25 21h1M9 23h1m31 0h1M8 25h1m14 0h1m10 0h1m6 0h1M25 27h1m13 0h1M43 29h1M18 31h1m2 0h1m22 0h1M18 33h2m22 0h1M7 35h1m4 0h1M35 37h1m16 0h1M1 39h1m37 0h1m11 0h1M28 41h1m6 0h2M39 45h1M6 47h1m2 0h1m9 0h1m10 0h1M10 49h1m21 0h1m12 0h1M2 51h1m12 0h1m28 0h2M13 53h1m12 0h1m22 0h1M41 55h1m1 0h1M44 57h1"/><path stroke="#795c49" stroke-width="2" d="M14 1h1m10 0h1M34 3h1M0 5h1m4 0h1m12 0h1m14 0h1m14 0h1m2 0h1M9 7h1m31 0h2M42 9h1M9 11h1m37 0h2M6 13h1m41 0h1M5 15h1m6 0h1m17 0h1m4 0h1M4 17h1M5 19h1M8 23h1m26 0h1m10 0h1m4 0h1M36 25h1M4 27h1m5 0h2m14 0h1m7 0h1M10 29h1m35 0h1M10 33h1m1 0h1m3 0h1m26 0h1M2 35h1m39 0h1M12 37h1m13 0h1M52 39h1M3 41h1M37 43h1M38 45h1m4 0h1M38 47h1m9 0h1M0 49h1m19 0h1m19 0h1M3 51h2M14 53h1m18 0h1M8 55h1m19 0h1m16 0h1M10 59h1m27 0h1"/><path stroke="#665a30" stroke-width="2" d="M19 1h1m24 0h1M4 3h1M23 5h1m6 0h2m11 0h1M49 7h1M0 9h3m28 0h2m11 0h1M8 11h1m13 0h1m19 0h1M12 13h1m11 0h1m6 0h1m11 0h1M26 15h1M16 17h1m4 0h1m1 0h1m6 0h1m1 0h1M18 19h1m7 0h1m12 0h1M15 23h1m2 0h1m1 0h3m4 0h1m12 0h1m9 0h1M3 25h1m35 0h2m4 0h1m3 0h2M8 27h1m31 0h1m3 0h1M17 29h2M10 31h1m8 0h1m16 0h2m2 0h1m2 0h1M15 33h1m21 0h2M50 35h2M7 37h1m1 0h1m4 0h1m6 0h1m1 0h2m6 0h1m13 0h1m4 0h1M17 39h1m4 0h1m11 0h1m2 0h1m12 0h1M8 41h1m24 0h1m5 0h1m5 0h1m3 0h1M0 43h2m7 0h1m1 0h1m4 0h1m11 0h1m7 0h1m5 0h1m9 0h1M12 45h2m10 0h1m1 0h1m15 0h1M0 47h1m15 0h1m4 0h1m25 0h1M1 49h2M1 51h1m8 0h1m5 0h1m6 0h1M51 53h1M32 55h2M22 57h1m16 0h2M20 59h1m2 0h1m5 0h1m16 0h1"/><path stroke="#784a5d" stroke-width="2" d="M11 1h1m25 0h1m12 0h1M10 3h1m1 0h1m12 0h1m23 0h1M11 5h1m9 0h1m13 0h1m11 0h1m2 0h1M10 7h1m6 0h2m26 0h1M22 9h1m23 0h1M0 11h1m29 0h1M3 13h1m3 0h2m14 0h1m3 0h1M10 15h1m7 0h1M5 17h1m3 0h1m3 0h1m5 0h1m5 0h2M9 19h1M2 21h1m6 0h1m14 0h1M52 23h1M4 25h1m6 0h1m10 0h1m4 0h1m3 0h1m10 0h1M11 29h2m19 0h1m2 0h1M16 31h1m10 0h1M17 33h1m26 0h1M3 35h1m39 0h1M6 39h1M5 41h1m3 0h1m3 0h1M35 43h1M29 45h1m14 0h1M8 47h1m18 0h1M15 49h1m5 0h1m21 0h1M4 53h1m10 0h1m4 0h1m4 0h1m3 0h1m14 0h1m3 0h1M13 55h1m12 0h1M5 57h1m21 0h1m17 0h1M26 59h2m9 0h1"/><path stroke="#783c6c" stroke-width="2" d="M16 1h1m9 0h2M47 3h2M1 5h1m4 0h1m3 0h1m23 0h1M16 9h1m1 0h1m2 0h1m7 0h1M20 11h1m18 0h1M6 15h1m4 0h1m3 0h1m1 0h1m18 0h2m14 0h1M14 17h1m5 0h1M10 19h2m7 0h1M51 21h1M47 23h1M5 27h1m22 0h1m2 0h1M20 29h1m16 0h1M24 31h1m21 0h1M27 35h1m13 0h1m2 0h1M4 37h1m22 0h1M29 41h1M34 43h1M22 45h1M28 47h2m15 0h1M18 49h2m19 0h1m8 0h1m3 0h1M18 51h1M22 53h1m8 0h1M14 55h1M18 57h1m17 0h1m4 0h2m9 0h1M6 59h1m8 0h1"/><path stroke="#634643" stroke-width="2" d="M12 1h1m23 0h1m6 0h1m2 0h1m2 0h1m2 0h1M6 3h1m6 0h1m5 0h1m1 0h1m1 0h2m1 0h1m6 0h1m3 0h1m14 0h1M36 5h1m2 0h1m12 0h1M12 7h1m7 0h1m10 0h1m12 0h1m1 0h1M3 9h1m2 0h1m12 0h1m4 0h1m3 0h1m1 0h1m17 0h2M3 11h1m15 0h1m4 0h1m6 0h1m6 0h1m5 0h1M4 13h2m8 0h1m1 0h1m2 0h1m6 0h1m7 0h1m4 0h1M0 15h1m3 0h1m17 0h2m8 0h1m5 0h1M36 17h2m10 0h1M4 19h1m7 0h1m38 0h1M0 21h1m15 0h2m18 0h1m4 0h1M1 23h1m2 0h1m37 0h1M25 25h1M30 27h1m2 0h1M6 29h1m8 0h1m3 0h1m10 0h1m13 0h1m2 0h1M22 31h1m2 0h2m1 0h1m5 0h1M9 33h1m3 0h1m10 0h1m1 0h1m1 0h1m16 0h1m1 0h2M24 35h1m20 0h1m3 0h1M1 37h1M10 39h1m7 0h1m14 0h1m1 0h2M0 41h1m40 0h1M4 43h1m28 0h1m6 0h1M11 45h1m9 0h1m23 0h1M7 47h1m3 0h1m37 0h1M11 49h1m35 0h1M27 51h1m15 0h1M5 53h1m13 0h1m25 0h1m4 0h1M4 55h1m7 0h1m3 0h1m4 0h1m3 0h1m16 0h1m3 0h1M6 57h1m6 0h1m3 0h1m3 0h1m11 0h1m3 0h1m13 0h1M5 59h1m6 0h1m1 0h1m3 0h2m15 0h1m6 0h1"/><path stroke="#55472f" stroke-width="2" d="M4 1h1m34 0h1m8 0h1M17 3h1m4 0h1m6 0h1m14 0h2M41 5h1M24 7h2m7 0h1M43 9h1m8 0h1M32 11h1m1 0h1M20 13h1m21 0h1m3 0h1M21 15h1m2 0h1m24 0h1M3 17h1m18 0h1m11 0h1M6 19h1m16 0h1M7 21h1m29 0h1m7 0h1M5 23h1m4 0h1m3 0h1m8 0h1m7 0h1m2 0h1m14 0h1M1 25h1M52 27h1M16 29h1M9 31h1M3 33h1m17 0h1m12 0h1M8 35h1m2 0h1m23 0h1M22 37h1m2 0h1m8 0h1m4 0h2m7 0h1m2 0h1M24 39h1m16 0h1m7 0h1M11 41h1m20 0h1m1 0h1m3 0h1m9 0h1m1 0h1M10 43h1m1 0h1m2 0h1m11 0h1m4 0h1m10 0h1m6 0h2M2 45h1m33 0h1M1 47h1m3 0h1m4 0h1m4 0h1m1 0h2m4 0h1m1 0h1m5 0h1M9 49h1m21 0h1M12 51h1m1 0h1M2 53h1m6 0h1m2 0h1m39 0h1M3 55h1m36 0h1M4 59h1m4 0h1m34 0h1"/><path stroke="#4f3c34" stroke-width="2" d="M18 1h1m12 0h1m3 0h1m6 0h1M9 3h1m5 0h1m25 0h1M9 5h1m4 0h1m1 0h1M0 7h2m13 0h1M33 9h1M16 11h1m26 0h1M21 13h1m19 0h1m3 0h1M25 15h1m2 0h1m17 0h1M0 17h1m6 0h1m20 0h1m9 0h2m6 0h1m4 0h1M27 19h1m12 0h1m4 0h1m1 0h1M6 21h1m16 0h1m2 0h1m12 0h1M6 23h1m4 0h1m14 0h1m1 0h1M17 25h1m6 0h1m26 0h1M1 27h1m22 0h1m12 0h1m3 0h2M8 29h1m15 0h1m15 0h1M29 31h1m11 0h2M29 33h1m9 0h1M15 35h1m5 0h1m7 0h2m21 0h1M15 37h1m4 0h1m8 0h1m6 0h1m4 0h2M11 39h1m4 0h1m2 0h1m9 0h1m8 0h1M19 41h1m7 0h1m16 0h1m6 0h1M8 43h1m15 0h1m6 0h1m9 0h1M3 45h1m15 0h2m4 0h1m14 0h1m7 0h1M32 47h1m17 0h1M33 49h1M24 51h1m7 0h1m4 0h1M0 53h1M2 55h1m14 0h2m30 0h2M4 57h1m24 0h1M40 59h1m4 0h1m2 0h1"/><path stroke="#7b317e" stroke-width="2" d="M33 1h1M4 7h1M4 9h1M10 11h1M9 13h2M9 15h1M49 19h2M21 29h1m16 0h1M47 31h2M44 47h1M27 49h1m14 0h1M47 51h1M39 53h1M15 55h1M15 57h2m18 0h1M16 59h1m16 0h1"/><path stroke="#6c2f6c" stroke-width="2" d="M7 5h1M12 9h1m37 0h1M17 13h2M8 15h1m24 0h1M49 17h1M31 19h1m4 0h1M4 21h1m5 0h2M12 25h2m18 0h1m15 0h1m3 0h1M6 27h1m14 0h1m25 0h1M22 29h1m8 0h1m16 0h2M49 31h1M25 35h1M42 41h1M34 45h1M43 47h1M26 49h1m14 0h1M19 51h1m13 0h1m5 0h1m8 0h1M6 53h2m16 0h1m5 0h1m3 0h1m12 0h1M29 55h1M10 57h1m15 0h1M7 59h1m3 0h1m19 0h2m1 0h1m17 0h1"/><path stroke="#5e3255" stroke-width="2" d="M7 1h1m26 0h1M0 3h1m19 0h1m25 0h1M12 5h2m5 0h2M5 7h1m7 0h1m5 0h1m10 0h1m8 0h2M5 9h1m3 0h3m3 0h1m4 0h1m4 0h3m13 0h1m5 0h1m3 0h1M4 11h3m30 0h1M11 13h1m24 0h1m15 0h1M3 15h1m12 0h1m23 0h1m2 0h2M8 17h1m6 0h1M0 19h1m12 0h1m1 0h1M5 21h1m9 0h1m13 0h1m5 0h1m10 0h1m3 0h1M24 23h1m11 0h1M0 25h1m4 0h1m10 0h1m4 0h1m4 0h1m1 0h1m1 0h1M29 27h1m2 0h1m13 0h1M5 29h1m22 0h1m7 0h1m2 0h1M15 31h1m7 0h1M23 33h1m1 0h1m23 0h2M1 35h1m24 0h1m10 0h2m1 0h1M2 37h2m1 0h1M2 39h1m41 0h1M30 41h1M23 43h1m5 0h1M6 45h1m16 0h1m6 0h1m21 0h1M37 47h1m3 0h1M37 49h1M5 51h1m14 0h1m1 0h1m2 0h2m1 0h1m17 0h1M8 53h1m14 0h1m19 0h1M22 55h1m8 0h1m2 0h1M19 57h1m5 0h1m6 0h1m16 0h1M25 59h1"/><path stroke="#5e2860" stroke-width="2" d="M0 1h2M27 5h1M3 7h1m3 0h1m21 0h1m4 0h2M17 9h1M11 11h1m2 0h1m37 0h1M7 15h1m43 0h1M50 17h1M20 19h1M48 23h1M29 25h1m17 0h1M5 31h1M32 33h1M30 43h1M28 49h1m7 0h1m1 0h1m10 0h1m1 0h1M30 51h1m9 0h2m9 0h1M38 53h1m1 0h1M9 57h1m24 0h1M1 59h1"/><path stroke="#4c3539" stroke-width="2" d="M8 1h1m36 0h1M27 3h1M3 5h1m4 0h1m40 0h1M8 7h1m5 0h1M12 11h1m28 0h1M32 13h1M34 15h1m4 0h1M2 19h1m43 0h1M28 21h1m1 0h2m1 0h1M12 23h2M7 25h1m12 0h1m17 0h1m7 0h1M13 27h1m24 0h1M2 29h1M13 31h1m18 0h1m5 0h2M5 33h1m16 0h1m23 0h1M0 35h1m4 0h2m13 0h1m15 0h1m2 0h1M37 37h2m7 0h2M14 39h1m30 0h1M7 41h1m2 0h1m20 0h1m14 0h1m5 0h1M13 43h1M0 45h2m5 0h1m24 0h2m7 0h1m5 0h1m3 0h1M22 47h1m1 0h1m27 0h1M8 49h1m21 0h1m15 0h1M8 51h1m2 0h1m1 0h1M16 53h1m1 0h1m18 0h1m8 0h1M11 55h1m7 0h1m18 0h1m9 0h1M7 57h1m38 0h1M24 59h1m25 0h1"/><path stroke="#4d2f40" stroke-width="2" d="M17 1h1m14 0h1M3 3h1M40 5h1m3 0h1m1 0h1M6 7h1m19 0h1M7 9h2m4 0h2M7 11h1m5 0h1m1 0h1m2 0h1m21 0h1m8 0h1M15 13h1m17 0h1m4 0h1M29 15h1M1 17h2m3 0h1M30 19h1m4 0h1m1 0h1m14 0h1M32 21h1m1 0h1m12 0h1M2 23h2m21 0h1m6 0h1M14 25h1m18 0h1M0 27h1m11 0h1m1 0h1m1 0h1m3 0h1m2 0h1M3 29h2m9 0h1m14 0h1m15 0h1M4 31h1m3 0h1m5 0h1m15 0h1m14 0h1M8 33h1m31 0h2M19 35h1m3 0h1m4 0h1m17 0h1m1 0h1M6 37h1m21 0h1M3 39h1m11 0h1m10 0h1m1 0h1m14 0h1M15 41h1m7 0h1M14 43h1m11 0h1M9 45h1m4 0h1m16 0h1m3 0h1M12 47h1m23 0h1M12 49h1m12 0h1m24 0h1M0 51h1m20 0h1m7 0h1m1 0h1m17 0h1M1 53h1m9 0h1m5 0h1m23 0h1M6 55h2m1 0h1m10 0h1m3 0h1m10 0h2m10 0h1M8 57h1m2 0h2m7 0h1m10 0h1M2 59h1m14 0h1m12 0h1m18 0h1m1 0h1"/><path stroke="#4c254a" stroke-width="2" d="M1 3h2m13 0h1M37 7h1m12 0h1M34 9h1m5 0h1M21 11h1m29 0h1M37 13h1m13 0h1M50 15h1M3 19h1m10 0h1m17 0h1m15 0h1M3 21h1m8 0h3m5 0h1m28 0h1m2 0h1M6 25h1M18 27h2m2 0h1m25 0h1M13 29h1M7 31h1M31 33h1M17 35h2m12 0h1m15 0h1M17 37h3M27 39h1M6 41h1m7 0h1m28 0h1M5 43h1M5 45h1m2 0h1M35 47h1m6 0h1M29 49h1M34 51h1m3 0h1m3 0h1m7 0h1m1 0h1M35 53h1M23 55h1m6 0h1M0 59h1"/><path stroke="#3e2c2e" stroke-width="2" d="M3 1h1m36 0h2M8 3h1m19 0h1m9 0h2M15 5h1m8 0h2m3 0h1m7 0h2m6 0h1M2 7h1m35 0h1m12 0h2M37 9h2M35 11h1M49 13h1M42 15h1M43 17h1M22 19h1m10 0h1m4 0h1M18 21h1m3 0h1m4 0h1m10 0h1m4 0h2M7 23h1m11 0h1m10 0h1m7 0h2M18 25h1M7 27h1m37 0h1m3 0h3M7 29h1m33 0h2M33 31h1M2 33h1m4 0h1m43 0h2M9 35h2m11 0h1m11 0h1M10 37h2m20 0h2M25 39h1m21 0h2M20 41h3m1 0h3m20 0h1M6 43h2m11 0h3m3 0h1m18 0h3M10 45h1m4 0h4m27 0h1m2 0h2M2 47h3m28 0h1m12 0h1m4 0h1M3 49h5m15 0h1M10 53h1M0 55h1m36 0h1m1 0h1M2 57h2m19 0h1m6 0h1m16 0h1m2 0h1M3 59h1"/><path stroke="#3a2136" stroke-width="2" d="M2 1h1M7 3h1m32 0h1M2 5h1m23 0h1m1 0h1M27 7h2m7 0h1M35 9h2m2 0h1M17 11h1m18 0h1m13 0h1M50 13h1M41 15h1m3 0h1M29 17h1m10 0h3m1 0h2M21 19h1m6 0h2m4 0h1m6 0h4M19 21h1m1 0h1m20 0h1m5 0h1M29 23h1m3 0h1m3 0h1M15 25h1m3 0h1m17 0h1M15 27h1m1 0h1M0 29h2m21 0h1m26 0h3M0 31h4m2 0h1m24 0h1m18 0h3M0 33h2m4 0h1m23 0h1m2 0h1M16 35h1m15 0h2M16 37h1M42 39h1m3 0h1M22 43h1M4 45h1M13 47h2m19 0h1M13 49h2m7 0h1m1 0h1m9 0h2M6 51h2m27 0h2M36 53h1m5 0h1M1 55h1m8 0h1M0 57h2m22 0h1m23 0h1M8 59h1m32 0h1"/></pattern><pattern id="hm5" patternUnits="userSpaceOnUse" width="56" height="62"><path stroke="#9f9935" stroke-width="2" d="M2 5h1m4 0h2m2 0h1M36 7h1M46 9h1M1 13h3m15 0h2M19 15h2M26 17h1M26 19h1M24 23h1M2 31h1M35 33h1m11 0h2M13 35h1m21 0h1m11 0h3M13 37h1m16 0h1m4 0h2M0 39h2m13 0h1m20 0h2m14 0h4M0 41h1m14 0h1m35 0h1m3 0h1M9 43h1M2 57h1m27 0h2M6 59h2m31 0h1M45 61h1"/><path stroke="#8f8636" stroke-width="2" d="M0 1h1m37 0h1m4 0h1M3 3h1m3 0h1m33 0h2M1 5h1m8 0h1m1 0h1M1 7h1m5 0h2m28 0h1m8 0h1M19 9h2m26 0h1M0 13h1m13 0h1m6 0h2m18 0h1m12 0h1M25 15h2M8 17h1m14 0h1m30 0h1M53 19h1M8 21h1M8 23h1m20 0h2M8 25h1m19 0h1M22 27h1m3 0h2M0 29h1m29 0h3m7 0h2M1 31h1M16 33h1m19 0h1M14 35h1m19 0h1m3 0h1m11 0h1M1 37h2m9 0h1m16 0h1M16 39h1m13 0h1M37 41h1m8 0h1M8 43h1m1 0h2m6 0h2M1 45h1m17 0h1m1 0h1M18 47h1m14 0h1M3 49h2m8 0h1m19 0h1m16 0h1M3 51h1M50 53h1M2 55h1m6 0h2m44 0h1M1 57h1M38 59h1M44 61h1"/><path stroke="#89783d" stroke-width="2" d="M22 3h1m28 0h1M38 5h2m1 0h1m3 0h1M21 7h1m13 0h1m9 0h1M11 9h1m14 0h1m14 0h1M54 11h1M10 13h1m15 0h1M7 17h1M3 19h1m23 0h1m6 0h1m5 0h1m11 0h1M24 21h1m1 0h1m6 0h1M23 23h1m3 0h1m9 0h1M2 29h1m8 0h1M31 31h1M17 33h1m7 0h1M1 35h1M11 37h1M8 39h1m10 0h1m6 0h1m20 0h1m2 0h2M43 41h1m3 0h1m1 0h2M34 43h1m10 0h1m4 0h1M2 45h1m19 0h1m28 0h1M1 47h1m32 0h2m2 0h1M14 49h1m36 0h1M53 51h2M3 53h1m9 0h1m11 0h1m29 0h1M30 55h1m15 0h1M32 57h1m7 0h1M12 59h1m28 0h1M0 61h1m6 0h1m15 0h1"/><path stroke="#7c7330" stroke-width="2" d="M36 1h2m6 0h1m10 0h1M2 3h1m1 0h1M3 5h2m27 0h1m9 0h1M0 7h1m11 0h1m42 0h1M42 9h2M15 11h1m9 0h1m15 0h1M4 13h1m3 0h1m46 0h1M8 15h1m45 0h2M3 17h1m11 0h1m1 0h1m4 0h1m4 0h1m24 0h2M8 19h1M44 21h2m8 0h1M28 23h1m6 0h2m7 0h1M5 25h3m15 0h1M43 27h1m3 0h1M1 29h1m4 0h1m9 0h1M30 31h1m18 0h1M7 33h2m5 0h2m33 0h1M9 35h1m15 0h1m4 0h1m15 0h1M23 37h1m1 0h2m21 0h1m4 0h1M2 39h1m21 0h1m10 0h1M34 41h1m3 0h1m6 0h1m6 0h1m1 0h1M15 43h1M3 45h1M19 47h1m31 0h1M26 49h1M4 51h1m40 0h1M8 53h1m29 0h1m8 0h1m1 0h1M25 55h1m3 0h1m18 0h4m2 0h1M47 57h1m6 0h1M2 59h1m2 0h1m34 0h1M6 61h1m31 0h1"/><path stroke="#796939" stroke-width="2" d="M8 1h1m12 0h1m7 0h1m23 0h2M8 3h1m22 0h1M16 5h1m8 0h1m25 0h1M11 7h1m11 0h1m26 0h1M2 9h1m11 0h1m6 0h1m27 0h1m5 0h1M29 11h1m22 0h1M7 13h1m16 0h2m13 0h1M7 15h1m6 0h1M0 17h1m46 0h1m2 0h1M23 19h1m4 0h1m12 0h1m12 0h1M43 21h1m2 0h1M2 23h1m52 0h1M19 25h1m32 0h1M14 27h1m6 0h1m7 0h1m12 0h1M33 29h1m9 0h1m3 0h1m7 0h1M11 31h1m9 0h2m25 0h1M9 33h1m27 0h1M15 35h1m6 0h1m1 0h1m1 0h1m9 0h2M16 37h1m3 0h1m23 0h1m1 0h2m3 0h2M5 39h1M14 41h1m16 0h1M4 43h1m11 0h1m11 0h1m14 0h1m7 0h1m3 0h1M6 45h1m8 0h1m4 0h1m18 0h2M8 47h1m5 0h1m30 0h1M6 49h1m11 0h1m1 0h1m7 0h1m8 0h1m7 0h1M26 51h1m19 0h1M4 53h1M17 55h1m10 0h1m18 0h1M8 57h1m14 0h1m1 0h1M1 59h1m11 0h1m36 0h1M26 61h1m19 0h1"/><path stroke="#795c49" stroke-width="2" d="M43 3h1M9 5h1m42 0h1M20 7h1m23 0h1M45 9h1M5 11h1m22 0h1m24 0h1M9 13h1m28 0h1M5 15h1m17 0h2M35 17h1M31 19h1m23 0h1M23 21h1m1 0h1m1 0h1m6 0h1m2 0h1M13 23h1m1 0h1m2 0h1M18 25h1m6 0h1m1 0h1m23 0h1M17 27h1m10 0h1m10 0h1M42 29h1m8 0h1M3 31h1m21 0h1M12 35h1m10 0h1M16 41h1M2 47h1m34 0h1m14 0h2M11 49h1m3 0h1m36 0h1M22 53h1M8 55h1"/><path stroke="#665a30" stroke-width="2" d="M3 1h1m3 0h1m14 0h1m19 0h1m2 0h1M12 3h1m21 0h1m9 0h1m3 0h1M28 5h1m11 0h1m5 0h1m1 0h1M2 7h1m16 0h1m2 0h1m7 0h1m1 0h1m14 0h1m3 0h1m1 0h1M7 9h1m5 0h1m1 0h3m12 0h1m1 0h1m3 0h2m10 0h1m5 0h1M4 11h1m2 0h1m6 0h1m4 0h2m5 0h1m15 0h1M13 13h1m9 0h1m8 0h2m6 0h1m1 0h1M0 15h1m2 0h2m13 0h1m2 0h2m22 0h1m1 0h1M2 17h1m1 0h1m9 0h1m3 0h1m5 0h2m3 0h1m1 0h2m22 0h1M9 19h1m3 0h1m10 0h1m23 0h1M7 21h1m5 0h1m1 0h1m20 0h1m5 0h1m4 0h2M3 23h1m1 0h1m27 0h2m10 0h1M4 25h1m8 0h1m10 0h1m4 0h1m13 0h1m3 0h1M7 27h1m15 0h1m8 0h1m21 0h1M7 29h1m5 0h1m1 0h1m1 0h1m11 0h1m16 0h1M0 31h1m12 0h1m28 0h2M1 33h1m18 0h2m5 0h3m8 0h1m11 0h1M2 35h1m3 0h1m3 0h1m16 0h3m1 0h1m7 0h1m1 0h1M17 37h1m1 0h1m4 0h1m2 0h2m11 0h1M7 39h1m12 0h1m2 0h1m1 0h1m19 0h2m1 0h1M1 41h1m31 0h1m10 0h1M1 43h1m20 0h1m10 0h1m10 0h1m7 0h1M5 45h1m12 0h1M0 47h1m2 0h1m5 0h1m3 0h1m6 0h1m2 0h1m25 0h2M22 49h2m3 0h1M2 51h1m5 0h1m4 0h1m8 0h1m2 0h1m1 0h2m3 0h2m16 0h1M41 53h2m3 0h1m1 0h1M1 55h1m14 0h1m5 0h1m4 0h1m14 0h2M9 57h2m3 0h1m14 0h1m18 0h1m1 0h1M16 59h1m6 0h1m1 0h1m19 0h1m1 0h1M4 61h2m10 0h2m4 0h1m2 0h1m9 0h1m3 0h1m3 0h1"/><path stroke="#784a5d" stroke-width="2" d="M52 3h1M37 5h1M10 7h1m18 0h1M12 9h1m5 0h1m21 0h1M6 11h1m33 0h1M5 13h1m47 0h1M6 15h1M0 19h1m32 0h1m1 0h1M2 21h1m27 0h1M12 23h1m1 0h1m4 0h1m5 0h2M26 25h1M11 27h1m6 0h2m20 0h1m10 0h1M14 29h1m7 0h1M26 31h1m5 0h1m2 0h1M2 33h1m23 0h1M0 35h1m15 0h1M14 37h1m22 0h1M14 39h1m14 0h1m19 0h1M4 41h1m4 0h1m8 0h2m22 0h1M20 43h2M34 45h1M12 47h1m2 0h1m20 0h1m11 0h1M12 49h1m4 0h1m16 0h1m11 0h1m6 0h1M51 51h1M14 53h1m16 0h1m19 0h1M3 55h1m27 0h1M22 57h1m16 0h1M0 59h1m7 0h1m2 0h1m18 0h2M24 61h1m2 0h1m25 0h1"/><path stroke="#783c6c" stroke-width="2" d="M23 1h1M23 3h1M53 5h1M25 7h1M27 9h2M10 11h1m35 0h2M6 13h1M42 19h1m3 0h1M31 21h1m6 0h1m1 0h1M38 23h1m13 0h1M17 25h1M36 31h1M9 39h1M12 45h1M35 49h1m18 0h1M11 51h1m23 0h1m16 0h1M40 55h1"/><path stroke="#634643" stroke-width="2" d="M6 1h1m2 0h1m41 0h1M1 3h1M13 5h3m6 0h1m10 0h1m10 0h1m5 0h1M9 7h1m4 0h2m10 0h1M10 9h1m14 0h1m3 0h1m1 0h1m18 0h1M55 11h1M36 13h2m8 0h1m5 0h1M1 15h2m50 0h1M6 17h1M4 19h1m2 0h1m24 0h1m14 0h1M12 21h1m22 0h1m5 0h1M43 23h1m7 0h1M11 25h2m17 0h1M8 27h1m7 0h1m13 0h2m6 0h1m2 0h1m10 0h1M3 29h1m6 0h1m9 0h2m12 0h1m4 0h1m8 0h1M20 31h1m26 0h1M0 33h1m2 0h2m36 0h1M7 35h1m9 0h1m22 0h1m3 0h1m6 0h1m3 0h1M15 37h1m18 0h1m3 0h1m2 0h1m3 0h1M4 39h1m22 0h1m16 0h1M5 41h1m2 0h1m8 0h1m8 0h4m2 0h1M17 43h1m11 0h1m16 0h1M11 45h1m4 0h1m6 0h1m4 0h1m6 0h1m2 0h1m6 0h1m6 0h1M11 47h1m32 0h1m2 0h1M2 49h1m18 0h1m10 0h1m3 0h1m1 0h1m16 0h1M14 51h1m24 0h1m15 0h1M0 53h1m1 0h1m7 0h3m11 0h1m1 0h1m3 0h1m1 0h1m2 0h1M11 55h1m1 0h2m6 0h1m10 0h1M3 57h1m9 0h1m22 0h1m4 0h1M10 59h1m3 0h2m16 0h1m1 0h1m2 0h1m15 0h2M8 61h1m6 0h1m36 0h1m1 0h1"/><path stroke="#55472f" stroke-width="2" d="M4 1h2m6 0h1m1 0h2m17 0h3m5 0h1m6 0h1m3 0h1M5 3h1m4 0h2m9 0h1m10 0h2m1 0h1M0 5h1m16 0h1m3 0h1m4 0h1m2 0h1m1 0h1m11 0h1m11 0h1M3 7h1m12 0h1m14 0h1m6 0h4m1 0h1m5 0h1m2 0h1m1 0h1M6 9h1m1 0h1m26 0h1m8 0h1M2 11h2m4 0h1m4 0h1m2 0h1m7 0h1m18 0h1M11 13h1m3 0h4m8 0h1M15 15h1m30 0h1M1 17h1m3 0h1m10 0h1m2 0h1m8 0h1m1 0h1m3 0h1m11 0h1m4 0h1M2 19h1m9 0h1m12 0h1m3 0h2M3 21h1m5 0h1m4 0h1m38 0h1m1 0h1M0 23h2m2 0h1m1 0h2m38 0h1m7 0h1M3 25h1m5 0h2m11 0h1m11 0h1m1 0h1m9 0h1M6 27h1m6 0h1m6 0h1m4 0h1m7 0h1m12 0h1M12 29h1m31 0h2M12 31h1m1 0h1m1 0h1m12 0h1m10 0h2m8 0h1M13 33h1m8 0h1m1 0h1m5 0h1m3 0h1M4 35h2m2 0h1m36 0h1M0 37h1m2 0h1m5 0h1m8 0h1m3 0h1m8 0h1m7 0h1m9 0h2m3 0h1M3 39h1m13 0h2m3 0h1m8 0h1m2 0h1m3 0h1m2 0h1M30 41h1m5 0h1m2 0h1m8 0h1m4 0h1M0 43h1m2 0h1m1 0h1m1 0h1m4 0h1m10 0h1m3 0h1M0 45h1m3 0h1m3 0h2m16 0h1m2 0h1m6 0h1m13 0h1M4 47h1m16 0h2m1 0h3m1 0h1m10 0h2m5 0h1M5 49h1m13 0h1m5 0h1m23 0h1M21 51h1m15 0h2m3 0h1M7 53h1m1 0h1m29 0h1m14 0h1M0 55h1m6 0h1m18 0h1m25 0h1M0 57h1m5 0h2m3 0h2m11 0h1m10 0h1m6 0h1m1 0h1m1 0h1m2 0h1m1 0h1m1 0h1m1 0h1M3 59h1m20 0h1m19 0h1m1 0h1m1 0h1m2 0h2M1 61h3m6 0h1m3 0h1m5 0h1m8 0h1m7 0h1m10 0h1m6 0h1"/><path stroke="#4f3c34" stroke-width="2" d="M1 1h1m9 0h1m14 0h3m1 0h1m8 0h1M6 3h1m2 0h1m3 0h1m15 0h2m7 0h1m1 0h1m4 0h1m8 0h1M5 5h2m40 0h1m1 0h1M13 7h1m3 0h2m23 0h1m5 0h1M0 9h2m1 0h1M17 11h1m3 0h1m5 0h1m9 0h1M9 15h2m16 0h1m2 0h1m1 0h1m17 0h1M9 17h1m10 0h2m17 0h2m7 0h1M17 19h1m4 0h1m16 0h1M6 21h1m9 0h1m11 0h2M9 23h1m21 0h1m15 0h1M2 25h1m11 0h1m5 0h1m12 0h1m1 0h1m1 0h1m6 0h1m8 0h2M3 27h1m5 0h1m5 0h1m37 0h1m1 0h1M26 29h1m25 0h1M7 31h1m2 0h1m4 0h1m1 0h1M6 33h1m24 0h1m14 0h1m4 0h1m2 0h1M3 35h1m17 0h1m20 0h1m10 0h2M10 37h1m32 0h1m11 0h1M6 39h1m6 0h1m19 0h1m5 0h2M3 41h1m3 0h1m2 0h1m12 0h2m10 0h1M2 43h1m11 0h1m11 0h1m5 0h1m2 0h4m10 0h1m4 0h1M7 45h1m2 0h1m3 0h1m10 0h1m6 0h2M7 47h1m21 0h1m2 0h1m9 0h1m11 0h2M7 49h1m2 0h1m18 0h1m14 0h1M5 51h1m25 0h1m4 0h1m10 0h1m1 0h1M5 53h1m15 0h1m7 0h1m7 0h1m2 0h1m4 0h1M15 55h1m2 0h1m4 0h2m20 0h1M15 57h1m1 0h2m24 0h1M4 59h1m12 0h1m4 0h1m3 0h1m6 0h1m15 0h1M12 61h1m8 0h1m12 0h1m1 0h1m10 0h1"/><path stroke="#7b317e" stroke-width="2" d="M24 1h1M11 23h1m27 0h1"/><path stroke="#6c2f6c" stroke-width="2" d="M39 11h1M35 13h1M34 15h1M36 19h1M39 21h1M19 31h1m14 0h1m16 0h1M19 35h1M47 49h1M10 51h1M1 53h1m21 0h1M4 55h1m15 0h1M27 57h1M50 61h1"/><path stroke="#5e3255" stroke-width="2" d="M25 1h1m24 0h1M15 3h2m32 0h2m2 0h1M23 5h2m9 0h1M24 7h1m2 0h2m5 0h1M53 9h1M11 11h2m9 0h1m22 0h1M28 13h1m1 0h2m2 0h1m12 0h1m3 0h1M13 15h1m24 0h1M36 17h1M6 19h1m11 0h1m24 0h1m7 0h1M1 21h1m9 0h1m20 0h1M16 23h2M1 25h1m48 0h1M12 27h1m21 0h1M19 29h1m5 0h1m2 0h1M4 31h2m18 0h1m8 0h1m21 0h1M10 33h1m8 0h1m20 0h1m14 0h1M18 35h1m24 0h1M6 37h1M11 39h1M20 41h1M31 43h1m15 0h1M53 45h1M30 47h1M1 49h1m14 0h1m7 0h1M1 51h1m4 0h1m5 0h1m11 0h1m9 0h1m5 0h1M33 53h1M41 55h1M26 57h1m1 0h1m9 0h1m6 0h1M35 59h1m6 0h1M11 61h1m37 0h1m1 0h1"/><path stroke="#5e2860" stroke-width="2" d="M18 3h1M50 13h1M38 17h1m4 0h1M40 23h1M40 25h1M9 29h1"/><path stroke="#4c3539" stroke-width="2" d="M16 1h1m1 0h1m1 0h1m28 0h1M28 3h1M27 5h1m7 0h2m17 0h1M6 7h1m26 0h1M22 9h1m28 0h1M1 11h1m16 0h1m11 0h1m5 0h1M29 15h1m22 0h1M33 17h1m11 0h1m3 0h1M5 19h1m39 0h1M0 21h1m4 0h1m43 0h1M22 23h1m19 0h1M31 25h1m6 0h1m3 0h1m12 0h1M0 27h1m4 0h1m31 0h1m10 0h1M5 29h1m17 0h1m3 0h1m7 0h1m14 0h1M6 31h1m2 0h1M18 33h1m20 0h1m2 0h1m9 0h1M5 37h1M12 39h1M6 43h1m32 0h1m2 0h1M13 45h1m13 0h1m15 0h2m1 0h2m7 0h1M17 47h1M8 49h1M7 51h1m1 0h1m10 0h1M36 53h1M33 57h1M9 61h1m18 0h1m11 0h1"/><path stroke="#4d2f40" stroke-width="2" d="M10 1h1m6 0h1m13 0h1m14 0h1M0 3h1m38 0h1M19 5h1M4 7h1M52 9h1M0 11h1m8 0h1m28 0h1m12 0h1M12 13h1m16 0h1M31 15h1m1 0h1m1 0h1m3 0h1m1 0h2m1 0h1m3 0h1M41 17h1m2 0h1M50 19h1M50 21h1m1 0h1M32 23h1M16 25h1m22 0h1m5 0h1M10 27h1m13 0h1M8 29h1m40 0h1M18 31h1m4 0h1m13 0h1m8 0h1M5 33h1m5 0h1m31 0h1M11 35h1m8 0h1m31 0h1M7 37h1M21 39h1m6 0h1m13 0h2M24 43h1m15 0h1M37 45h1m10 0h1M10 47h1m16 0h1M0 49h1m38 0h1M23 51h1m17 0h1M20 53h1m13 0h1m17 0h1M12 55h1m22 0h2m2 0h1M4 57h2m15 0h1m15 0h1M36 59h1m18 0h1M31 61h2m9 0h1"/><path stroke="#4c254a" stroke-width="2" d="M17 3h1m1 0h1m4 0h1M39 9h1M37 15h1M37 17h1m4 0h1M1 19h1m35 0h2M10 21h1m11 0h1m28 0h1M10 23h1m9 0h1m20 0h1m8 0h1m2 0h1M41 25h1M35 27h1m14 0h1M18 29h1m5 0h1m11 0h3M52 31h1M10 39h1M24 45h1m6 0h1m22 0h1M16 47h1m14 0h1M30 49h2m16 0h1M0 51h1M18 53h1M5 55h1m13 0h1M20 57h1M9 59h1m9 0h2m6 0h1"/><path stroke="#3e2c2e" stroke-width="2" d="M2 1h1m10 0h1m18 0h1m7 0h1m6 0h1M14 3h1m10 0h3m8 0h2m9 0h1m7 0h1M18 5h1m1 0h1m9 0h1M5 9h1m3 0h1m13 0h1m9 0h2m3 0h1M23 11h1m7 0h3m10 0h1m4 0h1M43 13h1m1 0h1M11 15h1m4 0h2m22 0h1m10 0h1M10 17h1m1 0h2M10 19h2m2 0h3m27 0h1m4 0h1M4 21h1m14 0h2M48 23h1M15 25h1m5 0h1m10 0h1m15 0h1M1 27h2m1 0h1m31 0h1m7 0h2M53 29h2M8 31h1m19 0h1m10 0h1m4 0h1M12 33h1m10 0h1m29 0h1M33 35h1M4 37h1m3 0h1m12 0h1M32 39h1M2 41h1m3 0h1m4 0h1m1 0h1m8 0h1m2 0h1M13 43h1m11 0h1m4 0h1m22 0h1M17 45h1m23 0h2m6 0h1M5 47h2m34 0h1m1 0h1M9 49h1m32 0h1M15 51h2m12 0h2m12 0h2m3 0h1M6 53h1m9 0h2m9 0h2m14 0h2m8 0h1M6 55h1m26 0h1m4 0h1m5 0h1m8 0h1M16 57h1m17 0h1m17 0h1M18 59h1m10 0h1m13 0h1M13 61h1m4 0h2m10 0h1m2 0h1m7 0h1"/><path stroke="#3a2136" stroke-width="2" d="M19 1h1M20 3h1m25 0h1M5 7h1M4 9h1m19 0h1M34 11h2m12 0h1m1 0h1M44 13h1m3 0h2M12 15h1m15 0h1m7 0h1m6 0h1m5 0h1M11 17h1M19 19h3M17 21h2m2 0h1M21 23h1m27 0h1M0 25h1m48 0h1M49 27h1M4 29h1M27 31h1m10 0h1m6 0h1m7 0h2M32 33h2m10 0h2M32 35h1M32 37h2m8 0h1M12 41h1m8 0h1m18 0h2M41 43h1m6 0h1M30 45h1M40 49h2m1 0h1M17 51h3M15 53h1m3 0h1M34 55h1m2 0h1M19 57h1M21 59h1m6 0h1"/></pattern><pattern id="hm6" patternUnits="userSpaceOnUse" width="59" height="58"><path stroke="#9f9935" stroke-width="2" d="M15 1h2m14 0h1m4 0h1m3 0h1m5 0h1M15 3h1M19 5h1m7 0h1M18 7h2m3 0h1m19 0h1m6 0h3M19 9h2M20 11h3M3 17h1m39 0h1m8 0h1M2 19h2m31 0h1M54 21h1m3 0h1M53 23h1M15 25h1m14 0h1m22 0h1M1 27h1M1 29h1m12 0h1m5 0h2m23 0h2M15 31h1m21 0h2M15 33h1m8 0h1m3 0h1m8 0h3M3 35h2m10 0h3m6 0h2m7 0h2M11 37h1m12 0h2m8 0h2M10 39h2m16 0h2m7 0h1m2 0h1M23 41h1m22 0h1M0 43h1m6 0h1m5 0h2m43 0h1M0 45h1m18 0h1m38 0h1M33 47h2m21 0h2M33 49h1m23 0h2M47 51h1M53 53h1M19 55h1m6 0h2m12 0h2m8 0h1M14 57h3m9 0h1m4 0h1m7 0h3m8 0h1"/><path stroke="#8f8636" stroke-width="2" d="M28 1h1m6 0h1m3 0h1m5 0h1m1 0h1m2 0h1m1 0h1M9 3h2m5 0h1m14 0h2m13 0h1m4 0h1M13 5h1m9 0h2m3 0h1m17 0h1m2 0h2M26 7h1m14 0h2m3 0h1m6 0h1M21 9h1m1 0h1m2 0h1m8 0h1m1 0h2M1 11h3m5 0h2m32 0h1M25 13h1M49 15h1M0 17h1m1 0h1m32 0h1m6 0h1m1 0h1m13 0h1M18 19h1m17 0h1m3 0h1m3 0h1m6 0h1M0 21h1m18 0h1m28 0h1m4 0h1M25 23h1M2 25h1m11 0h1m6 0h2m8 0h1m25 0h1M15 27h1m1 0h2m3 0h1m1 0h2m2 0h1m23 0h2M5 29h2m6 0h1m4 0h2m7 0h2m8 0h1m9 0h1M1 31h1m12 0h1m5 0h2m19 0h2m3 0h1M0 33h1m3 0h1m11 0h2m9 0h1m12 0h1m5 0h1m8 0h2m1 0h1M18 35h1m9 0h1m6 0h2M40 37h1M12 39h1m8 0h1m1 0h4m4 0h1m4 0h1m2 0h1m12 0h1M17 41h1m3 0h2m1 0h1m26 0h1m1 0h1M6 43h1m1 0h1m6 0h1m2 0h1m4 0h1m13 0h1m19 0h1M4 45h2m12 0h1M12 47h2m7 0h1m8 0h3M0 49h2m13 0h1m5 0h1m9 0h1m2 0h1m21 0h1M8 51h2m6 0h2m9 0h1m20 0h1M0 53h1m26 0h1m17 0h1M0 55h2m18 0h1m2 0h1m20 0h2m5 0h1m1 0h1M13 57h1m13 0h2m6 0h1m7 0h1m13 0h1"/><path stroke="#89783d" stroke-width="2" d="M37 1h1m11 0h1m5 0h1M42 3h1m2 0h1M39 5h1m14 0h1M20 7h2m25 0h1M28 9h1m7 0h1m20 0h1M25 11h1m16 0h1m15 0h1M13 13h1m19 0h1m22 0h1M32 15h1m15 0h1m8 0h2M6 17h1m29 0h1m10 0h1M58 19h1M20 21h1m4 0h1m5 0h1M7 23h1m1 0h1m3 0h2m15 0h1M16 25h1m11 0h1m27 0h1M2 27h1m13 0h1m3 0h2m5 0h1m6 0h1M58 31h1M1 33h1m24 0h1m30 0h1M11 35h1m32 0h2m6 0h1m2 0h1M5 37h1m3 0h1m21 0h1M22 39h1m19 0h2M10 41h1m3 0h1m30 0h1m1 0h1M12 43h1m18 0h1m1 0h1M2 45h1m49 0h1M18 47h1m21 0h1m6 0h2M36 49h1M12 51h1m6 0h1m33 0h1M18 53h1m4 0h1m22 0h1M47 55h1M56 57h1"/><path stroke="#7c7330" stroke-width="2" d="M8 1h1m5 0h1m12 0h1m23 0h1M14 3h1m9 0h1m3 0h3m2 0h1m15 0h1m2 0h1M18 5h1m3 0h1m3 0h1m24 0h1M13 7h1m13 0h1m16 0h1M18 9h1m8 0h1m11 0h1m6 0h1m3 0h1m1 0h1m5 0h1M0 11h1m12 0h2m2 0h2M17 13h1m8 0h1M17 15h1m2 0h1m10 0h1m7 0h1m14 0h1M15 17h1m2 0h1m11 0h1m17 0h2m1 0h1M39 19h1m12 0h1M18 21h1m15 0h3m1 0h1m6 0h3m1 0h1M46 23h1M7 25h1M0 27h1m18 0h1m21 0h1m2 0h4M0 29h1m1 0h1m6 0h1m5 0h3m7 0h1m13 0h1m18 0h1M5 31h1m4 0h1m12 0h2m3 0h2m3 0h2m4 0h1m5 0h1m4 0h1M23 33h1m5 0h1m1 0h1m1 0h1m13 0h1m4 0h2M28 37h1m4 0h1m2 0h1M17 39h1m15 0h2m3 0h1m14 0h1M8 41h1m4 0h1m18 0h1m1 0h2m4 0h1m9 0h1m1 0h1m3 0h1M1 43h1m15 0h1m4 0h1m2 0h1m6 0h1M1 45h1m14 0h2m2 0h1m3 0h1m5 0h1m2 0h2m2 0h1m15 0h1m1 0h3M1 47h1m13 0h1m3 0h1m15 0h1m5 0h1M3 49h1m7 0h1m16 0h1m1 0h1m17 0h2M28 51h1m12 0h1m2 0h1m1 0h1M7 53h1m9 0h1m1 0h1m1 0h1m10 0h1m8 0h2m6 0h1M2 55h1m3 0h1m21 0h1m26 0h1M0 57h3m14 0h2m3 0h2m5 0h2m1 0h1m3 0h1m12 0h1m3 0h1m1 0h1m2 0h1"/><path stroke="#796939" stroke-width="2" d="M10 1h1m27 0h1m4 0h1M5 3h1m2 0h1M4 5h1m15 0h1m26 0h1M22 7h1m1 0h1m3 0h1M6 9h1m27 0h1m16 0h1m3 0h1M4 11h1m46 0h1M16 13h1m19 0h1m1 0h1m1 0h1m3 0h1M11 15h1m3 0h2M7 17h1m6 0h1m4 0h1M30 19h1M2 23h1m7 0h1m13 0h1m12 0h1m6 0h1M25 25h2m19 0h1M23 27h1M2 31h1m28 0h1M5 33h1m19 0h1M2 35h1M10 37h1m3 0h1m3 0h1m10 0h1M56 39h1M9 41h1m18 0h1m8 0h1M10 43h1m13 0h1m1 0h2m12 0h1M15 45h1m15 0h1m7 0h1m9 0h1M16 47h1m5 0h1m14 0h1m15 0h3M12 49h1m9 0h1M15 51h1m5 0h1m1 0h1M33 53h1m24 0h1M4 55h1m11 0h1m25 0h1M42 57h1m1 0h1"/><path stroke="#795c49" stroke-width="2" d="M32 1h1m8 0h1m6 0h1M48 5h1M38 7h1m19 0h1M22 9h1M23 11h1M24 13h1M11 19h1m2 0h1m4 0h1M30 21h1M29 25h1M3 27h1M29 29h1M56 31h1M2 33h1M5 35h1m20 0h1m10 0h1M12 37h1m31 0h1M12 41h1m5 0h1M3 45h1m36 0h1m6 0h1M58 47h1M25 49h1m6 0h1m4 0h1M18 51h1m3 0h1M28 53h1M5 55h1m37 0h1m8 0h1m3 0h1M51 57h1"/><path stroke="#665a30" stroke-width="2" d="M9 1h1m2 0h2m12 0h1m2 0h2m13 0h1m8 0h1m2 0h3M23 3h1m2 0h2m19 0h2m1 0h1m2 0h3M8 5h1m3 0h1m16 0h1m3 0h2m6 0h5m6 0h2m1 0h1M34 7h1m4 0h2M14 9h2m17 0h1m6 0h1m8 0h1m6 0h1M8 11h1m6 0h1m3 0h1m6 0h1m10 0h1m8 0h1m5 0h2m3 0h1M3 13h1m4 0h2m10 0h2m12 0h1m2 0h1m1 0h1m11 0h1m1 0h1M30 15h1m22 0h1M16 17h1m12 0h1m10 0h2m3 0h1m7 0h1m1 0h1M0 19h1m6 0h1m7 0h1m13 0h1m1 0h2m5 0h1m4 0h1m5 0h1M17 21h1m19 0h1m6 0h1m10 0h1m1 0h1M11 23h1m6 0h2m6 0h1m4 0h1m4 0h1m1 0h1m6 0h1m1 0h3m4 0h1M3 25h1m9 0h1m10 0h1m19 0h1m3 0h1m3 0h1m1 0h1M14 27h1m11 0h1m2 0h3m5 0h1m4 0h1M4 29h1m5 0h2m10 0h3m7 0h2m2 0h1m1 0h1m1 0h3m1 0h1m5 0h3M0 31h1m3 0h1m1 0h1m2 0h1m6 0h1m2 0h1m2 0h1m2 0h1m10 0h1m3 0h1m6 0h1m6 0h2M3 33h1m6 0h2m2 0h1m15 0h1m1 0h1m1 0h3m17 0h1M10 35h1m16 0h1m10 0h2M4 37h1m12 0h1m5 0h1m8 0h1m6 0h1m7 0h1m6 0h2M20 39h1m9 0h1m1 0h1m2 0h1m5 0h1m5 0h1M0 41h1m24 0h2m2 0h3m1 0h1m2 0h1m18 0h1M9 43h1m6 0h1m4 0h1m6 0h1m5 0h1m15 0h3M7 45h2m14 0h1m2 0h1m5 0h1m2 0h1m2 0h1m15 0h1M0 47h1m2 0h2m9 0h1m5 0h1m15 0h1m7 0h1m4 0h1M2 49h1m1 0h1m11 0h1m3 0h1m5 0h2m7 0h1M0 51h1m19 0h1m10 0h1m4 0h1m5 0h1m2 0h1m3 0h1m8 0h1M5 53h2m1 0h1m2 0h1m8 0h1m1 0h1m3 0h1m9 0h1m3 0h1m3 0h1m3 0h1m1 0h1m1 0h1m1 0h1M7 55h1m3 0h1m1 0h1m4 0h1m3 0h1m13 0h1m2 0h1m6 0h1m1 0h2m4 0h1m2 0h2M5 57h1m6 0h1m12 0h1m19 0h2m7 0h1"/><path stroke="#784a5d" stroke-width="2" d="M35 3h1m3 0h1m3 0h1M38 5h1M29 7h1m24 0h1m2 0h1M5 9h1m18 0h1m17 0h1M24 11h1m16 0h1m2 0h1M22 13h1m34 0h2M36 15h1m10 0h1M37 17h1m19 0h1M10 19h1m46 0h1M1 21h2m8 0h1m1 0h1m10 0h1M8 23h1m6 0h1M27 25h1M33 27h1M57 31h1M18 33h1M32 35h1M43 37h1m8 0h1M9 39h1m34 0h1M11 41h1M19 43h1M48 45h1M7 51h1m5 0h1m19 0h1M47 53h1M15 55h1"/><path stroke="#783c6c" stroke-width="2" d="M36 3h1m3 0h2m2 0h1M15 7h1M5 11h1M47 13h2M5 15h2m30 0h1M14 21h1M54 27h1M12 35h1M5 39h1m39 0h1M24 49h1m28 0h2"/><path stroke="#634643" stroke-width="2" d="M42 1h1M4 3h1M5 5h1m8 0h1m25 0h1M14 7h1m2 0h1m12 0h1m5 0h2m10 0h1M25 9h1m3 0h1m2 0h1m8 0h1m1 0h1M35 11h2m3 0h1m7 0h1M2 13h1m9 0h1m2 0h1m7 0h1m8 0h1m8 0h1m4 0h1m8 0h1M3 15h2m9 0h1m6 0h1m11 0h1m4 0h1m16 0h2M5 17h1m14 0h1m17 0h1m7 0h1m9 0h1M9 19h1m27 0h1m7 0h1m1 0h1M9 21h2m1 0h1M16 23h1m26 0h1M8 25h1m8 0h1m27 0h1m1 0h1M30 29h2m2 0h1m22 0h1M43 31h1M6 35h1M6 37h1m8 0h2m2 0h1m1 0h1m4 0h2m2 0h1m10 0h1M13 39h1m4 0h1m8 0h1m18 0h1M15 41h1m4 0h1M2 43h1m8 0h1m8 0h1m26 0h1M36 45h1m14 0h1M5 47h1m11 0h1M8 49h1m4 0h2m2 0h1m20 0h1m1 0h1M11 51h1m12 0h1m1 0h1m5 0h1m21 0h1M14 53h1M14 55h1m10 0h1M38 57h1m13 0h1"/><path stroke="#55472f" stroke-width="2" d="M0 1h2m3 0h3m3 0h1m5 0h1m6 0h2m28 0h1M3 3h1m7 0h3m11 0h1m8 0h1m2 0h1m20 0h1M0 5h1m8 0h3m9 0h1m3 0h1M8 7h1m3 0h1m12 0h1m5 0h1m1 0h1m1 0h1m9 0h1m3 0h1M12 9h2m31 0h1m1 0h1m5 0h1M11 11h2m3 0h1m21 0h1m8 0h1m2 0h1M10 13h1m3 0h1m3 0h1m24 0h1m1 0h1m6 0h1M0 15h1m9 0h1m7 0h1m6 0h1m14 0h1M1 17h1m2 0h1m5 0h1m6 0h1m3 0h1m9 0h1m2 0h1m4 0h1m10 0h1m3 0h1M6 19h1m10 0h1m16 0h1m6 0h1m6 0h1m1 0h1m2 0h1M26 21h1m5 0h1m6 0h1m12 0h1M0 23h2m1 0h2m7 0h1m4 0h1m2 0h1m11 0h1m2 0h1m16 0h1m4 0h2M1 25h1m9 0h1m8 0h1m2 0h1m14 0h1m1 0h1m2 0h1m5 0h1m8 0h1M40 27h1m2 0h1m13 0h2M7 29h1m4 0h1m13 0h1m8 0h1M11 31h1m1 0h1m13 0h1m2 0h1m1 0h1m2 0h1m13 0h1m1 0h3M6 33h1m12 0h2m20 0h1m3 0h1m5 0h1M9 35h1m4 0h1m4 0h3m1 0h1m5 0h1m10 0h2m4 0h1m6 0h2m1 0h2M3 37h1m16 0h1m16 0h1m10 0h1M48 39h1m2 0h1M6 41h2m8 0h1m10 0h1m10 0h2m9 0h1m4 0h1m2 0h2M5 43h1m24 0h1m7 0h2m13 0h1m2 0h1M6 45h1m5 0h3m6 0h2m2 0h1m24 0h1M2 47h1m5 0h1m2 0h1m27 0h1M9 49h1m9 0h1m9 0h1m11 0h1m1 0h2m2 0h1M5 51h1m28 0h2m4 0h1m2 0h1m8 0h1M1 53h1m10 0h1m3 0h1m7 0h1m10 0h1M3 55h1m8 0h1m4 0h1m3 0h1m2 0h1m4 0h1m5 0h1M6 57h4m9 0h2m3 0h1m22 0h1"/><path stroke="#4f3c34" stroke-width="2" d="M2 1h1m19 0h2m10 0h1M6 3h1m10 0h1m1 0h1m18 0h1m18 0h1M3 5h1m3 0h1m8 0h1m13 0h1m1 0h1m4 0h1M5 7h3m24 0h1M0 9h1m6 0h1m1 0h2m5 0h2m26 0h1m9 0h1M7 11h1m31 0h1m5 0h1m3 0h1m6 0h1M4 13h1m6 0h1m23 0h1m13 0h2m3 0h1M19 15h1m4 0h1m19 0h2m4 0h1m1 0h1M11 17h1m10 0h1m5 0h1m3 0h1M1 19h1m2 0h1m3 0h1m11 0h1m12 0h1m8 0h1m12 0h2M29 21h1m3 0h1m6 0h2m1 0h1m6 0h1M6 23h1m16 0h1m5 0h1m20 0h1M12 25h1m5 0h1m13 0h1m4 0h1m3 0h2M11 27h3m34 0h1m2 0h1m4 0h1M3 29h1m4 0h1m34 0h1m4 0h2m3 0h1M3 31h1m4 0h1m8 0h2m7 0h1m17 0h1M9 33h1m11 0h2m25 0h1M22 35h1m8 0h1m10 0h2m3 0h1m3 0h1m6 0h1M8 37h1m29 0h1m6 0h1m5 0h1m1 0h1M14 39h1m1 0h1m37 0h2m1 0h2M1 41h1m1 0h1m37 0h1m6 0h1M3 43h2m30 0h2m12 0h1m5 0h1M29 45h1M6 47h1m2 0h1m19 0h1m8 0h1m3 0h1m9 0h1M10 49h1m7 0h1m31 0h1m1 0h1m2 0h1M4 51h1m5 0h1m18 0h2m26 0h1M4 53h1m24 0h1m1 0h1m2 0h1m8 0h1m7 0h1M32 55h1m4 0h2M4 57h1m16 0h1m12 0h1m2 0h1m10 0h1"/><path stroke="#6c2f6c" stroke-width="2" d="M16 7h1m39 0h1M31 9h1M32 11h1M13 15h1M41 23h1M9 25h1M56 29h1"/><path stroke="#5e3255" stroke-width="2" d="M2 3h1m4 0h1M57 5h1M0 7h1m54 0h1M4 9h1m3 0h1M6 11h1m26 0h1M5 13h1M7 15h2m3 0h1m21 0h2M12 19h2m32 0h1M8 21h1m6 0h1M32 27h1m2 0h2M54 29h1M2 37h1m19 0h1m19 0h1M6 39h1m12 0h1M43 41h2M45 47h1M14 51h1m10 0h1"/><path stroke="#5e2860" stroke-width="2" d="M42 23h1M55 27h1M49 35h1M0 37h2M19 41h1"/><path stroke="#4c3539" stroke-width="2" d="M33 1h1M56 3h1M31 5h1m3 0h1M1 9h2m8 0h1m18 0h1M30 11h1m3 0h1M0 13h1m30 0h1M29 15h1m11 0h1m4 0h1M3 21h1m12 0h1m6 0h1m32 0h1M55 23h2M10 25h1m44 0h1M4 27h2M42 33h1m1 0h1m4 0h2M0 35h2M13 37h1m35 0h1m6 0h1M4 39h1M46 43h1m1 0h1M27 45h1m16 0h1M24 47h1M37 51h1M9 53h1m5 0h1m14 0h1m24 0h1M30 55h2M10 57h1"/><path stroke="#4d2f40" stroke-width="2" d="M21 1h1M6 5h1m8 0h1m20 0h1m19 0h1m1 0h1M3 9h1m44 0h1M27 11h3M1 13h1m4 0h1m35 0h1M1 15h2m19 0h1m19 0h1M8 17h1m4 0h1M7 21h1m34 0h1M34 25h1M8 27h3m38 0h1M8 35h1m39 0h1M46 37h1m3 0h1M0 39h1m7 0h1M42 41h1M41 43h1m3 0h1M41 45h1m4 0h1M23 47h1m22 0h1M23 49h1m15 0h1M13 53h1m11 0h1m31 0h1M11 57h1"/><path stroke="#4c254a" stroke-width="2" d="M31 11h1M25 17h1M6 21h1M40 23h1M35 25h2M55 29h1M43 33h1M13 35h1m36 0h1M5 41h1M42 43h2M28 45h1m16 0h1M56 53h1"/><path stroke="#3e2c2e" stroke-width="2" d="M3 1h2m13 0h3M0 3h1m17 0h1m1 0h1m1 0h1M1 5h2m14 0h1M4 7h1m4 0h3M54 11h2M7 13h1m11 0h1m7 0h1m2 0h1M9 15h1m13 0h1m2 0h3m14 0h1m7 0h1M9 17h1m13 0h1m3 0h1m5 0h1M16 19h1m4 0h2m1 0h2m1 0h2m25 0h1M4 21h1m16 0h1m5 0h2m22 0h1M5 23h1m15 0h2m4 0h2m4 0h2m4 0h1m11 0h1M0 25h1m3 0h1m1 0h1m12 0h1m19 0h1m10 0h2M6 27h2m30 0h2M7 31h1m4 0h1m35 0h1M7 33h2m3 0h2M30 35h1M57 37h1M3 39h1m45 0h2M2 41h1m1 0h1M29 43h1m24 0h1M9 45h3M7 47h1m17 0h2m1 0h1m14 0h1m6 0h2M5 49h1m36 0h1m2 0h2m4 0h1M1 51h3m2 0h1m43 0h1m5 0h1M2 53h2m6 0h1m26 0h1m1 0h1M8 55h1m1 0h1m22 0h1M3 57h1m29 0h1"/><path stroke="#3a2136" stroke-width="2" d="M1 3h1m19 0h1M1 7h3M28 13h2M12 17h1m11 0h1m1 0h1M5 19h1m17 0h1m2 0h1M5 21h1m16 0h1M5 25h1m27 0h1M50 27h1M7 35h1M7 37h1m50 0h1M1 39h2m4 0h1m7 0h1M44 43h1M42 45h2M10 47h1m16 0h1M6 49h2M38 51h2m11 0h1m3 0h1M38 53h1M9 55h1m24 0h1"/></pattern><pattern id="hm7" patternUnits="userSpaceOnUse" width="62" height="60"><path stroke="#9f9935" stroke-width="2" d="M0 1h1m3 0h2m8 0h2m7 0h1m6 0h1m12 0h1m3 0h2m8 0h1M4 3h1m10 0h1m27 0h1m3 0h2m7 0h2M2 5h5m13 0h2m15 0h1m10 0h1M0 7h7m2 0h5m6 0h1m5 0h2m12 0h2m19 0h1M4 9h2m3 0h2m14 0h2m12 0h3M9 11h2m30 0h1m10 0h2M3 13h1m3 0h2m1 0h1m21 0h1m6 0h1m2 0h2m8 0h2M6 15h3m29 0h1m16 0h2m1 0h1M5 17h3m19 0h3m2 0h1m5 0h1m16 0h4m1 0h2M28 19h2m6 0h2m17 0h1m1 0h1M7 21h2m9 0h1m9 0h5m4 0h1m20 0h1M7 23h2m22 0h1m2 0h2m10 0h4M2 25h1m24 0h2m3 0h4M3 27h2m23 0h2m4 0h3M3 29h1m25 0h2m5 0h3m4 0h1M1 31h2m23 0h1m4 0h3m3 0h2m3 0h2M38 33h1m2 0h3m5 0h1M24 35h1m17 0h1m6 0h1M15 37h1m13 0h2m4 0h2m1 0h4m10 0h2m6 0h2M22 39h5m2 0h2m4 0h2m6 0h2M3 41h1m18 0h2m11 0h2m1 0h1m5 0h1m7 0h3M38 43h3m1 0h1M40 45h2M12 49h1m13 0h3m15 0h1m3 0h1M9 51h5m5 0h2m6 0h2m15 0h1m3 0h3m8 0h2M6 53h2m4 0h2m3 0h2m29 0h1m7 0h3M6 55h1m18 0h1m11 0h3m4 0h1m10 0h2M15 57h4m2 0h1m3 0h1m12 0h1M16 59h2m24 0h1m9 0h1"/><path stroke="#8f8636" stroke-width="2" d="M1 1h1m6 0h2m2 0h2m2 0h1m1 0h2m2 0h1m6 0h1m1 0h1m2 0h1m7 0h1m13 0h1m1 0h1m2 0h1M3 3h1m1 0h1m7 0h2m19 0h1m4 0h1m2 0h1m1 0h1m1 0h1m2 0h1m5 0h1M12 5h2m16 0h1m5 0h1m3 0h1m6 0h1m1 0h1m7 0h1M19 7h1m10 0h1m8 0h1M0 9h2m4 0h1m4 0h2m8 0h1m15 0h2m11 0h1m9 0h1M3 11h1m21 0h3m5 0h2m5 0h1m10 0h1m4 0h2M2 13h1m3 0h1m4 0h1m4 0h2m2 0h1m6 0h1m3 0h1m1 0h1m4 0h1m15 0h1m1 0h3M9 15h2m6 0h1m10 0h1m2 0h1m7 0h1m3 0h1m13 0h1M8 17h1m1 0h1m4 0h1m4 0h1m1 0h1m2 0h1m5 0h1m1 0h1m1 0h2M7 19h1m10 0h1m2 0h1m16 0h1m17 0h1m1 0h1m1 0h1M0 21h1m5 0h1m9 0h1m5 0h1m16 0h1m8 0h1m1 0h2m5 0h1m2 0h2M3 23h1m2 0h1m34 0h1m3 0h1m4 0h1m1 0h1M3 25h1m4 0h1m6 0h1m10 0h1m18 0h1m2 0h1m3 0h2M5 27h1m21 0h1m3 0h2m6 0h1m12 0h1m6 0h2M4 29h1m1 0h1m3 0h1m33 0h1M6 31h1m1 0h1m1 0h2m5 0h1m4 0h2m3 0h4m5 0h1m4 0h1m7 0h1m2 0h1M1 33h2m9 0h1m6 0h2m11 0h1m23 0h1M0 35h2m10 0h1m10 0h1m1 0h1m12 0h1m13 0h1m7 0h1M12 37h2m2 0h1m4 0h1m2 0h2m8 0h1m16 0h1m2 0h1m3 0h1M4 39h1m5 0h3m6 0h1m8 0h1m3 0h2m21 0h2M4 41h1m16 0h1m5 0h2m1 0h1m3 0h1m2 0h1m5 0h1M3 43h1m56 0h1M22 45h1m2 0h1m5 0h2m1 0h2m6 0h1M12 47h1m2 0h1M20 49h1m8 0h1m1 0h1m1 0h1m6 0h1m5 0h2m2 0h1M3 51h1m3 0h1m13 0h1m1 0h1m2 0h1m2 0h1m3 0h2m5 0h1m4 0h1m6 0h1m5 0h1m2 0h1M0 53h2m6 0h3m3 0h1m1 0h1m2 0h1m3 0h1m4 0h1m18 0h1m7 0h1M5 55h1m1 0h1m2 0h4m4 0h1m5 0h1m18 0h1m1 0h1m2 0h1m8 0h2M13 57h2m7 0h1m11 0h2m1 0h1m6 0h1m4 0h2m2 0h1M1 59h1m5 0h1m5 0h1m7 0h1m19 0h1m2 0h1m1 0h1m4 0h1"/><path stroke="#89783d" stroke-width="2" d="M20 1h1m17 0h1M38 3h1M34 5h1M21 7h1m15 0h1m20 0h1M4 17h1m7 0h1M4 19h1m12 0h1m23 0h1M1 21h1m32 0h1m1 0h1M9 23h1m7 0h1M29 25h1m1 0h1M15 27h1m2 0h1m11 0h1m16 0h1M18 29h1m1 0h1m10 0h2M7 31h1m13 0h1M7 35h1m1 0h1m31 0h1m9 0h1M5 37h1m8 0h1M6 41h1m7 0h1M13 43h1m44 0h2M12 45h1m39 0h1M8 47h1m35 0h1M11 49h1m3 0h1M30 53h1m6 0h1m1 0h1m4 0h1m5 0h1M31 55h1m9 0h1M24 57h1m20 0h2M27 59h1"/><path stroke="#7c7330" stroke-width="2" d="M33 1h1m3 0h1m3 0h1M6 3h1m2 0h2m5 0h1m13 0h1m9 0h1m10 0h1m9 0h1M7 5h3m5 0h1m25 0h1m1 0h1m9 0h1M14 7h1m9 0h2m2 0h2m21 0h1m8 0h1M7 9h2m11 0h1m21 0h1m2 0h1m2 0h2m1 0h2m3 0h1m4 0h1M4 11h1m2 0h2m10 0h1m9 0h1m7 0h1m4 0h1m3 0h1M5 13h1m3 0h1m3 0h1m5 0h1m2 0h2m1 0h2m17 0h1m1 0h1m1 0h1m11 0h1M15 15h2m6 0h1m2 0h2m31 0h1m1 0h1M2 17h1m10 0h2m6 0h1m2 0h1m1 0h1m7 0h1m2 0h1m16 0h1m4 0h1M6 19h1m1 0h3m3 0h3m10 0h1m2 0h1m16 0h1m13 0h1M13 21h1m3 0h1m1 0h1m1 0h1m16 0h1m1 0h2m13 0h2m2 0h1M21 23h2m17 0h1M1 25h1m2 0h1m8 0h2m9 0h1m16 0h1m7 0h1M2 27h1m7 0h1m22 0h1m6 0h1m3 0h1m5 0h2m2 0h1M15 29h1m8 0h1m10 0h1m14 0h2m4 0h1M13 31h2m3 0h1m5 0h2m8 0h1m5 0h1m5 0h1m3 0h2m4 0h1m2 0h1M17 33h2m18 0h1m8 0h1m1 0h1m1 0h1M2 35h1m33 0h2m5 0h1m2 0h1m10 0h1m3 0h1M0 37h1m3 0h1m4 0h1m7 0h4m2 0h1m2 0h2m4 0h1m4 0h1m4 0h1m1 0h1m1 0h1m2 0h1m9 0h1M17 39h1m9 0h1m3 0h1m2 0h1m14 0h1m2 0h1m1 0h1m3 0h1M7 41h1m2 0h2m7 0h1m4 0h1m6 0h1m7 0h1m2 0h1m12 0h1m3 0h1m1 0h1M0 43h1m9 0h1m12 0h1m3 0h1m5 0h1m7 0h1m1 0h1m6 0h3m8 0h1M4 45h1m21 0h2m11 0h1m9 0h1M11 47h1m14 0h1m33 0h1M3 49h1m26 0h1m1 0h1m12 0h1m3 0h1m1 0h2m6 0h1m1 0h1M8 51h1m8 0h2m3 0h1m1 0h1m7 0h1m14 0h1m3 0h1m1 0h2M11 53h1m17 0h1m8 0h1m20 0h1M8 55h1m5 0h1m11 0h2m8 0h1M12 57h1m6 0h1m23 0h1m11 0h3M5 59h2m12 0h1m23 0h1m3 0h2m4 0h1"/><path stroke="#796939" stroke-width="2" d="M28 1h1M50 3h1M10 5h1m7 0h1m12 0h1M36 7h1m17 0h1M3 9h1m18 0h1m34 0h1m1 0h1M36 11h1m2 0h1m18 0h1m1 0h1M4 13h1M2 15h1m37 0h2m2 0h1M9 17h1m13 0h1m15 0h1m13 0h1M34 19h1M33 21h1M15 23h1m21 0h1m21 0h1m1 0h1M17 25h2m17 0h1m9 0h2m9 0h1M49 27h1M5 29h1m10 0h1M0 31h1m2 0h1m5 0h1m9 0h2M8 33h1m21 0h2m8 0h1M15 35h1m2 0h1M1 39h1m11 0h1m1 0h1m5 0h1m25 0h1m9 0h1M26 41h1m2 0h1m11 0h1m3 0h1M26 43h1m17 0h1m9 0h1m1 0h1M23 45h1m22 0h1m11 0h1m1 0h1M22 47h1m4 0h1M5 49h1m1 0h1m5 0h1m7 0h1M2 51h1m2 0h2m18 0h1m12 0h1m4 0h1M24 53h1m24 0h1M17 55h1m5 0h1m11 0h1m17 0h1M0 57h2m24 0h1m5 0h1m8 0h1m6 0h1m2 0h1M20 59h1m1 0h2m4 0h1m16 0h1"/><path stroke="#795c49" stroke-width="2" d="M44 1h1M0 3h1m36 0h1M56 5h1M2 9h1M2 11h1m8 0h1M40 13h2M32 15h1M22 19h1m12 0h1M16 23h1m13 0h1m1 0h1m3 0h1m14 0h1m6 0h1m1 0h1M48 27h1M45 29h1m1 0h1M44 31h1M0 33h1m6 0h1M8 35h1m30 0h1m10 0h1M33 37h1M14 39h1m5 0h1M13 41h1M53 43h1M6 49h1m7 0h1M40 53h1M22 55h1m7 0h1m9 0h1m1 0h1M27 57h1m2 0h1m21 0h1M0 59h1m13 0h1"/><path stroke="#665a30" stroke-width="2" d="M10 1h2m5 0h1m3 0h1m2 0h1m1 0h2m4 0h1m2 0h2m2 0h2m5 0h1m4 0h2M8 3h1m3 0h1m5 0h1m3 0h2m3 0h1m1 0h1m1 0h1m1 0h1m1 0h2m4 0h1m3 0h1m12 0h2M14 5h1m1 0h1m2 0h1m2 0h1m1 0h2m9 0h1m3 0h1m4 0h2m8 0h2m4 0h1M8 7h1m39 0h1m6 0h1m1 0h1m1 0h1M19 9h1m4 0h1m2 0h1m4 0h2m10 0h1m8 0h1m1 0h1M5 11h2m7 0h1m5 0h1m1 0h3m3 0h1m9 0h1m11 0h1m8 0h1M1 13h1m10 0h1m1 0h1m6 0h1m2 0h1m9 0h1m12 0h1m1 0h1m1 0h1m3 0h1m3 0h1M1 15h1m3 0h1m5 0h2m9 0h1m1 0h2m7 0h2m2 0h1m4 0h1m11 0h1m5 0h1M0 17h2m9 0h1m7 0h1m10 0h1m10 0h1m2 0h1M0 19h1m4 0h1m7 0h1m5 0h2m4 0h2m4 0h3m20 0h1m4 0h1M3 21h1m5 0h1m10 0h1m6 0h1m14 0h2m1 0h1m1 0h1m1 0h1M4 23h1m8 0h2m4 0h2m7 0h1m4 0h1m5 0h1m4 0h1m8 0h1M5 25h1m1 0h1m31 0h2m9 0h1M11 27h1m1 0h2m9 0h1m18 0h1m9 0h1m1 0h1m5 0h1M2 29h1m8 0h1m5 0h1m5 0h1m1 0h4m30 0h1M12 31h1m26 0h1m5 0h1m1 0h2m9 0h1M9 33h3m1 0h1m10 0h3m6 0h1m5 0h1m5 0h1m1 0h1m3 0h2m4 0h1M10 35h2m1 0h2m4 0h3m22 0h2m2 0h1m7 0h1M1 37h1m5 0h1m2 0h2m10 0h1m5 0h1m2 0h1m11 0h1m1 0h1m4 0h1m4 0h1m1 0h1M3 39h1m1 0h3m8 0h1m1 0h1m18 0h2m3 0h1m5 0h1m2 0h1m1 0h1m6 0h1M20 41h1m4 0h1m7 0h1m6 0h1m10 0h1m4 0h1m1 0h1m1 0h1M4 43h1m6 0h1m7 0h1m2 0h1m1 0h1m9 0h1m1 0h2m11 0h1m5 0h1m1 0h1M0 45h1m10 0h1m3 0h1m1 0h1m3 0h1m2 0h1m3 0h1m4 0h1m2 0h1m13 0h1m10 0h1M7 47h1m1 0h1m6 0h2m3 0h1m3 0h1m5 0h1m2 0h2m3 0h2m6 0h1m7 0h1m5 0h1M4 49h1m13 0h2m5 0h1m8 0h1m2 0h1m1 0h1m1 0h1m1 0h1m16 0h1M0 51h2m2 0h1m9 0h3m13 0h1m8 0h1m1 0h1m4 0h1m8 0h3M5 53h1m9 0h1m11 0h1m13 0h1m19 0h1M3 55h1m5 0h1m11 0h1m25 0h1m6 0h1m4 0h1M5 57h2m13 0h1m2 0h1m7 0h1m4 0h1m5 0h1m15 0h1M2 59h1m5 0h1m3 0h1m2 0h1m2 0h1m12 0h1m3 0h1m22 0h1"/><path stroke="#784a5d" stroke-width="2" d="M11 5h1m26 0h1M31 7h1m6 0h1M58 9h1M3 15h1m49 0h1M17 17h1M42 19h1M4 21h1m30 0h1M18 23h1m23 0h1M30 25h1M16 27h1m2 0h1M7 29h1m1 0h1m9 0h1m26 0h1M5 31h1M44 33h1M40 35h1m12 0h1M12 43h1m12 0h1M53 45h1M45 47h1M10 49h1M25 53h1m10 0h1m6 0h1M49 55h1M40 57h1M25 59h1m3 0h2m7 0h1"/><path stroke="#783c6c" stroke-width="2" d="M10 23h1M8 29h1M34 35h1M35 53h1"/><path stroke="#634643" stroke-width="2" d="M6 1h1m18 0h1M19 3h2M1 5h1m15 0h1m40 0h1M18 7h1m31 0h1M43 9h1M12 11h1M4 15h1m47 0h1M16 17h1M11 19h1M23 21h1M1 23h2m26 0h1m13 0h1M9 25h1m6 0h1M17 27h1m20 0h1m6 0h2M4 31h1M14 33h1M17 35h1m17 0h1m23 0h1M6 37h1m1 0h1M45 39h2M5 41h1m6 0h1m44 0h1M20 43h1m7 0h1m16 0h1M38 45h1m20 0h1M20 47h1m2 0h1m22 0h1m1 0h1M9 49h1m28 0h1M20 53h1m1 0h1m28 0h1M16 55h1m33 0h1m1 0h1M28 57h1m10 0h1M24 59h1m1 0h1m10 0h1m11 0h1"/><path stroke="#55472f" stroke-width="2" d="M2 1h2m3 0h1m41 0h1m5 0h1M1 3h2m4 0h1m3 0h1m5 0h1m10 0h1m3 0h1m19 0h2m6 0h1M26 5h2m1 0h1m12 0h1m3 0h1m3 0h1m10 0h1M7 7h1m9 0h1m4 0h1m19 0h1m2 0h1m3 0h1m2 0h2M13 9h1m14 0h2m6 0h1m9 0h2m6 0h1M13 11h1m7 0h1m8 0h1m1 0h1m2 0h1m7 0h1m1 0h1m1 0h2m5 0h2M15 13h1m2 0h1m9 0h1m1 0h1m6 0h1m7 0h1m15 0h1M0 15h1m12 0h2m5 0h1m8 0h2m4 0h1m11 0h2m2 0h1M3 17h1m36 0h1m2 0h1M1 19h3m35 0h2m7 0h1m1 0h2M2 21h1m2 0h1m8 0h2m28 0h1m1 0h1m5 0h1M0 23h1m4 0h1m17 0h2m1 0h2m10 0h1m18 0h1M6 25h1m5 0h1m12 0h1m18 0h1m6 0h1m2 0h1M0 27h2m4 0h2m1 0h1m15 0h2m10 0h1M13 29h2m6 0h1m11 0h2m4 0h1m2 0h1m6 0h1m2 0h1m1 0h2M15 31h2m18 0h1m17 0h1m3 0h1m2 0h1M3 33h2m16 0h1m1 0h1m3 0h3m6 0h1m23 0h1M6 35h1m9 0h1m5 0h1m3 0h2m4 0h1m14 0h1m10 0h1M47 37h2m7 0h1M0 39h1m8 0h1m29 0h1m1 0h1m8 0h1m8 0h1m1 0h1M0 41h1m1 0h1m12 0h2m15 0h1M1 43h2m11 0h1m6 0h1m10 0h1m2 0h1M3 45h1m1 0h1m7 0h2m1 0h1m1 0h3m8 0h2m12 0h1m1 0h1m5 0h1m3 0h1m1 0h1M4 47h1m5 0h1m2 0h2m13 0h1m1 0h1m1 0h1m3 0h1m4 0h1m1 0h1m6 0h1m8 0h1M2 49h1m5 0h1m7 0h2m4 0h2m29 0h1m2 0h3M31 51h1m3 0h1m1 0h1m4 0h1M2 53h3m26 0h3m11 0h1m8 0h1m5 0h1M0 55h3m1 0h1m10 0h1m3 0h1m8 0h1m3 0h1m1 0h1m11 0h1M7 57h1m3 0h1m21 0h1m13 0h1m6 0h1M4 59h1m27 0h3m1 0h1m3 0h1m9 0h1m6 0h1"/><path stroke="#4f3c34" stroke-width="2" d="M45 1h1m13 0h2M21 3h1m2 0h3m27 0h1M0 5h1m22 0h1m8 0h2m18 0h1m6 0h1M15 7h1m7 0h1m8 0h2m10 0h1m2 0h1m8 0h1M16 9h2m5 0h1m7 0h1m2 0h1M1 11h1m16 0h1m25 0h1m4 0h1m11 0h1M0 13h1M18 15h2m1 0h1m14 0h1m12 0h1M18 17h1m23 0h1m4 0h1M43 19h2m1 0h1M54 21h1M20 25h1m2 0h1m18 0h1m12 0h2m1 0h2M12 27h1m28 0h1m16 0h1M1 29h1m20 0h1m25 0h1m8 0h1m2 0h1M55 31h1m5 0h1M16 33h1m42 0h1M3 35h3m22 0h1m1 0h2M2 37h1M2 39h1m37 0h1M8 41h1m9 0h1M18 43h1m11 0h2M1 45h1m8 0h1m33 0h1m9 0h1m1 0h1M3 47h1m1 0h2m11 0h2m9 0h1m3 0h1m15 0h1m2 0h1m3 0h1M0 49h1m23 0h1m30 0h1M26 53h1m7 0h1m18 0h1M51 55h1M2 57h2m4 0h2m49 0h3M9 59h1m1 0h1m44 0h1"/><path stroke="#6c2f6c" stroke-width="2" d="M25 21h1M54 35h1"/><path stroke="#5e3255" stroke-width="2" d="M34 7h1M45 15h1M45 17h1M12 19h1m10 0h1M24 21h1M25 23h1M58 29h1M6 33h1m8 0h1m37 0h1m1 0h1M38 47h1M21 53h1M61 55h1M29 57h1"/><path stroke="#5e2860" stroke-width="2" d="M11 23h1M54 33h1"/><path stroke="#4c3539" stroke-width="2" d="M16 7h1M14 9h1m3 0h1M16 11h2M29 13h1M46 15h1m3 0h1M24 19h1M10 21h1m1 0h1M12 23h1M10 25h1m8 0h1m40 0h2M8 27h1m11 0h1M5 33h1m28 0h1m23 0h1M55 35h1M8 39h1M9 41h1m39 0h1M9 43h1m36 0h1M9 45h1m27 0h1M24 47h1m12 0h1m4 0h1m11 0h1M36 49h1M42 53h1m9 0h1M29 55h1m30 0h1M10 57h1M3 59h1m35 0h1m21 0h1"/><path stroke="#4d2f40" stroke-width="2" d="M35 7h1m7 0h1M0 11h1M35 13h2M50 17h1M52 19h2M26 21h1M33 35h1M46 41h2M7 43h1m9 0h1M8 45h1M10 59h1"/><path stroke="#3e2c2e" stroke-width="2" d="M50 1h1m2 0h2M28 5h1m22 0h1M46 7h1M15 9h1m14 0h1M15 11h1m15 0h1M50 13h1M46 17h1m1 0h1m3 0h1M45 19h1m3 0h1M53 21h1M54 23h3M0 25h1m10 0h1m9 0h2m14 0h2M21 27h1m1 0h1m18 0h1m13 0h2M0 29h1m11 0h1m27 0h2m11 0h1m7 0h1M54 31h1M22 33h1m12 0h1m25 0h1M29 35h1M3 37h1M1 41h1m15 0h1m30 0h1m1 0h1M5 43h2m8 0h2m12 0h1m17 0h2M2 45h1m3 0h2m39 0h2M0 47h1m1 0h1m48 0h1m1 0h1m3 0h2M1 49h1m33 0h1m6 0h1m11 0h1M36 51h1M46 53h1M20 55h1m12 0h1M4 57h1M54 59h2m3 0h2"/><path stroke="#3a2136" stroke-width="2" d="M35 9h1M49 17h1m1 0h1M11 21h1M43 25h1M22 27h1M8 43h1M1 47h1"/></pattern>
<filter id="hblur" x="0" y="0" width="1" height="1"><feGaussianBlur stdDeviation="0.5"/></filter>
</defs>
<rect x="19.4" y="511.8" width="115.6" height="4.3" fill="#F37B70"/>
<rect x="136.4" y="511.8" width="76.9" height="4.3" fill="#A3A33A"/>
<rect x="214.6" y="511.8" width="69.6" height="4.3" fill="#3BBF8A"/>
<rect x="285.4" y="511.8" width="52.4" height="4.3" fill="#20AEE6"/>
<rect x="339.1" y="511.8" width="34.6" height="4.3" fill="#A86CC1"/>
<g>
<rect x="19.4" y="517.9" width="115.6" height="10.1" fill="url(#hm3)"/>
<rect x="136.4" y="517.9" width="76.9" height="10.1" fill="url(#hm3)"/>
<rect x="214.6" y="517.9" width="69.6" height="10.1" fill="url(#hm1)"/>
<rect x="285.4" y="517.9" width="52.4" height="10.1" fill="url(#hm3)"/>
<rect x="339.1" y="517.9" width="34.6" height="10.1" fill="url(#hm2)"/>
<rect x="19.4" y="528.0" width="115.6" height="34.0" fill="url(#hm3)"/>
<rect x="136.4" y="528.0" width="76.9" height="34.0" fill="url(#hm1)"/>
<rect x="214.6" y="528.0" width="69.6" height="34.0" fill="url(#hm7)"/>
<rect x="285.4" y="528.0" width="52.4" height="34.0" fill="url(#hm1)"/>
<rect x="339.1" y="528.0" width="34.6" height="34.0" fill="url(#hm1)"/>
<rect x="19.4" y="562.0" width="115.6" height="38.0" fill="url(#hm3)"/>
<rect x="136.4" y="562.0" width="76.9" height="38.0" fill="url(#hm1)"/>
<rect x="214.6" y="562.0" width="69.6" height="38.0" fill="url(#hm2)"/>
<rect x="285.4" y="562.0" width="52.4" height="38.0" fill="url(#hm6)"/>
<rect x="339.1" y="562.0" width="34.6" height="38.0" fill="url(#hm3)"/>
<rect x="19.4" y="600.0" width="115.6" height="90.0" fill="url(#hm3)"/>
<rect x="136.4" y="600.0" width="76.9" height="90.0" fill="url(#hm1)"/>
<rect x="214.6" y="600.0" width="69.6" height="90.0" fill="url(#hm2)"/>
<rect x="285.4" y="600.0" width="52.4" height="90.0" fill="url(#hm6)"/>
<rect x="339.1" y="600.0" width="34.6" height="90.0" fill="url(#hm3)"/>
<rect x="19.4" y="690.0" width="115.6" height="34.5" fill="url(#hm3)"/>
<rect x="136.4" y="690.0" width="76.9" height="34.5" fill="url(#hm1)"/>
<rect x="214.6" y="690.0" width="69.6" height="34.5" fill="url(#hm2)"/>
<rect x="285.4" y="690.0" width="52.4" height="34.5" fill="url(#hm5)"/>
<rect x="339.1" y="690.0" width="34.6" height="34.5" fill="url(#hm3)"/>
<rect x="19.4" y="724.5" width="115.6" height="2.5" fill="#2e1634"/>
<rect x="136.4" y="724.5" width="76.9" height="2.5" fill="#2e1634"/>
<rect x="214.6" y="724.5" width="69.6" height="2.5" fill="#2e1634"/>
<rect x="285.4" y="724.5" width="52.4" height="2.5" fill="#2e1634"/>
<rect x="339.1" y="724.5" width="34.6" height="2.5" fill="#d8d838"/>
<rect x="19.4" y="727.0" width="115.6" height="8.8" fill="url(#hm3)"/>
<rect x="136.4" y="727.0" width="76.9" height="8.8" fill="url(#hm2)"/>
<rect x="214.6" y="727.0" width="69.6" height="8.8" fill="url(#hm2)"/>
<rect x="285.4" y="727.0" width="52.4" height="8.8" fill="url(#hm4)"/>
<rect x="339.1" y="727.0" width="34.6" height="8.8" fill="url(#hm3)"/>
</g>
<rect x="135.1" y="517.9" width="1.2" height="217.9" fill="#ffffff"/>
<rect x="213.4" y="517.9" width="1.2" height="217.9" fill="#ffffff"/>
<rect x="284.2" y="517.9" width="1.2" height="217.9" fill="#ffffff"/>
<rect x="337.8" y="517.9" width="1.2" height="217.9" fill="#ffffff"/>
<text x="77.40" y="509.20" font-size="10.5" stroke="#000" stroke-width="0.25" textLength="6.42" lengthAdjust="spacingAndGlyphs">0</text>
<text x="170.83" y="509.20" font-size="10.5" stroke="#000" stroke-width="0.25" textLength="7.16" lengthAdjust="spacingAndGlyphs">1</text>
<text x="248.49" y="509.20" font-size="10.5" stroke="#000" stroke-width="0.25" textLength="6.77" lengthAdjust="spacingAndGlyphs">2</text>
<text x="309.59" y="509.20" font-size="10.5" stroke="#000" stroke-width="0.25" textLength="6.49" lengthAdjust="spacingAndGlyphs">3</text>
<text x="353.38" y="509.20" font-size="10.5" stroke="#000" stroke-width="0.25" textLength="6.11" lengthAdjust="spacingAndGlyphs">4</text>
<text x="375.45" y="515.90" font-size="8.2" font-style="italic" fill="#A3A33A" stroke="#A3A33A" stroke-width="0.25" textLength="21.42" lengthAdjust="spacingAndGlyphs">PCY1</text>
<text x="376.09" y="525.40" font-size="8.2" font-style="italic" fill="#A3A33A" stroke="#A3A33A" stroke-width="0.25" textLength="20.21" lengthAdjust="spacingAndGlyphs">ADE2</text>
<text x="375.46" y="535.60" font-size="8.2" font-style="italic" fill="#3BBF6A" stroke="#3BBF6A" stroke-width="0.25" textLength="24.84" lengthAdjust="spacingAndGlyphs">HSP82</text>
<text x="375.47" y="545.10" font-size="8.2" font-style="italic" fill="#3BBF6A" stroke="#3BBF6A" stroke-width="0.25" textLength="24.80" lengthAdjust="spacingAndGlyphs">HSC82</text>
<text x="375.42" y="555.00" font-size="8.2" font-style="italic" fill="#3BBF6A" stroke="#3BBF6A" stroke-width="0.25" textLength="6.62" lengthAdjust="spacingAndGlyphs">...</text>
<text x="375.50" y="564.30" font-size="8.2" font-style="italic" fill="#3BBF6A" stroke="#3BBF6A" stroke-width="0.25" textLength="20.09" lengthAdjust="spacingAndGlyphs">SSA4</text>
<text x="375.25" y="618.50" font-size="8.2" font-style="italic" fill="#29ABE2" stroke="#29ABE2" stroke-width="0.25" textLength="20.40" lengthAdjust="spacingAndGlyphs">CTT1</text>
<text x="376.08" y="627.90" font-size="8.2" font-style="italic" fill="#29ABE2" stroke="#29ABE2" stroke-width="0.25" textLength="19.17" lengthAdjust="spacingAndGlyphs">ALD3</text>
<text x="375.50" y="637.20" font-size="8.2" font-style="italic" fill="#29ABE2" stroke="#29ABE2" stroke-width="0.25" textLength="19.25" lengthAdjust="spacingAndGlyphs">STL1</text>
<text x="375.42" y="646.80" font-size="8.2" font-style="italic" fill="#29ABE2" stroke="#29ABE2" stroke-width="0.25" textLength="6.74" lengthAdjust="spacingAndGlyphs">...</text>
<text x="375.34" y="656.70" font-size="8.2" font-style="italic" fill="#29ABE2" stroke="#29ABE2" stroke-width="0.25" textLength="21.32" lengthAdjust="spacingAndGlyphs">GLO1</text>
<text x="376.09" y="666.00" font-size="8.2" font-style="italic" fill="#29ABE2" stroke="#29ABE2" stroke-width="0.25" textLength="19.40" lengthAdjust="spacingAndGlyphs">ALD4</text>
<text x="375.34" y="675.40" font-size="8.2" font-style="italic" fill="#29ABE2" stroke="#29ABE2" stroke-width="0.25" textLength="20.30" lengthAdjust="spacingAndGlyphs">GTT1</text>
<text x="375.51" y="726.40" font-size="8.2" font-style="italic" fill="#9B59B6" stroke="#9B59B6" stroke-width="0.25" textLength="20.68" lengthAdjust="spacingAndGlyphs">SIP18</text>
<text x="375.46" y="732.50" font-size="8.2" font-style="italic" fill="#9B59B6" stroke="#9B59B6" stroke-width="0.25" textLength="16.87" lengthAdjust="spacingAndGlyphs">PAI3</text>
<text x="403.15" y="589.60" font-size="8.5" stroke="#000" stroke-width="0.25" textLength="40.36" lengthAdjust="spacingAndGlyphs">Expression</text>
<defs><linearGradient id="expg" x1="0" y1="0" x2="0" y2="1"><stop offset="0" stop-color="#e4e436"/><stop offset="0.22" stop-color="#8c8c2c"/><stop offset="0.46" stop-color="#0a0a08"/><stop offset="0.52" stop-color="#080008"/><stop offset="0.7" stop-color="#4a1060"/><stop offset="0.85" stop-color="#8a3a9e"/><stop offset="1" stop-color="#a458b0"/></linearGradient></defs>
<rect x="403.8" y="593.7" width="10.2" height="49.2" fill="url(#expg)"/>
<line x1="403.8" y1="597.0" x2="406.0" y2="597.0" stroke="#fff" stroke-width="0.8"/>
<line x1="411.8" y1="597.0" x2="414.0" y2="597.0" stroke="#fff" stroke-width="0.8"/>
<text x="416.30" y="599.80" font-size="8.5" fill="#222" stroke="#222" stroke-width="0.25" textLength="5.56" lengthAdjust="spacingAndGlyphs">2</text>
<line x1="403.8" y1="608.3" x2="406.0" y2="608.3" stroke="#fff" stroke-width="0.8"/>
<line x1="411.8" y1="608.3" x2="414.0" y2="608.3" stroke="#fff" stroke-width="0.8"/>
<text x="416.01" y="611.10" font-size="8.5" fill="#222" stroke="#222" stroke-width="0.25" textLength="5.88" lengthAdjust="spacingAndGlyphs">1</text>
<line x1="403.8" y1="618.1" x2="406.0" y2="618.1" stroke="#fff" stroke-width="0.8"/>
<line x1="411.8" y1="618.1" x2="414.0" y2="618.1" stroke="#fff" stroke-width="0.8"/>
<text x="416.47" y="620.90" font-size="8.5" fill="#222" stroke="#222" stroke-width="0.25" textLength="5.28" lengthAdjust="spacingAndGlyphs">0</text>
<line x1="403.8" y1="627.5" x2="406.0" y2="627.5" stroke="#fff" stroke-width="0.8"/>
<line x1="411.8" y1="627.5" x2="414.0" y2="627.5" stroke="#fff" stroke-width="0.8"/>
<text x="416.44" y="630.30" font-size="8.5" fill="#222" stroke="#222" stroke-width="0.25" textLength="9.01" lengthAdjust="spacingAndGlyphs">−1</text>
<line x1="403.8" y1="637.4" x2="406.0" y2="637.4" stroke="#fff" stroke-width="0.8"/>
<line x1="411.8" y1="637.4" x2="414.0" y2="637.4" stroke="#fff" stroke-width="0.8"/>
<text x="416.44" y="640.20" font-size="8.5" fill="#222" stroke="#222" stroke-width="0.25" textLength="9.01" lengthAdjust="spacingAndGlyphs">−2</text>
<text x="70.86" y="746.20" font-size="9.8" fill="#111" stroke="#111" stroke-width="0.25" textLength="20.61" lengthAdjust="spacingAndGlyphs">1032</text>
<text x="73.59" y="760.60" font-size="9.8" fill="#111" stroke="#111" stroke-width="0.25" textLength="15.22" lengthAdjust="spacingAndGlyphs">234</text>
<text x="167.49" y="746.20" font-size="9.8" fill="#111" stroke="#111" stroke-width="0.25" textLength="15.22" lengthAdjust="spacingAndGlyphs">674</text>
<text x="167.25" y="760.60" font-size="9.8" fill="#111" stroke="#111" stroke-width="0.25" textLength="15.66" lengthAdjust="spacingAndGlyphs">192</text>
<text x="241.46" y="746.20" font-size="9.8" fill="#111" stroke="#111" stroke-width="0.25" textLength="20.61" lengthAdjust="spacingAndGlyphs">1021</text>
<text x="244.19" y="760.60" font-size="9.8" fill="#111" stroke="#111" stroke-width="0.25" textLength="15.41" lengthAdjust="spacingAndGlyphs">227</text>
<text x="302.33" y="746.20" font-size="9.8" fill="#111" stroke="#111" stroke-width="0.25" textLength="20.61" lengthAdjust="spacingAndGlyphs">1176</text>
<text x="305.09" y="760.60" font-size="9.8" fill="#111" stroke="#111" stroke-width="0.25" textLength="15.36" lengthAdjust="spacingAndGlyphs">248</text>
<text x="345.56" y="746.20" font-size="9.8" fill="#111" stroke="#111" stroke-width="0.25" textLength="20.56" lengthAdjust="spacingAndGlyphs">1058</text>
<text x="348.29" y="760.60" font-size="9.8" fill="#111" stroke="#111" stroke-width="0.25" textLength="15.41" lengthAdjust="spacingAndGlyphs">237</text>
<text x="1.07" y="746.20" font-size="9.8" fill="#111" stroke="#111" stroke-width="0.25" textLength="57.28" lengthAdjust="spacingAndGlyphs">Molecules/cell</text>
<text x="15.34" y="760.60" font-size="9.8" fill="#111" stroke="#111" stroke-width="0.25" textLength="43.00" lengthAdjust="spacingAndGlyphs">Genes/cell</text>
<text x="199.86" y="768.50" font-size="10.5" stroke="#000" stroke-width="0.25" textLength="23.99" lengthAdjust="spacingAndGlyphs">Cells</text>
<text x="0" y="0" font-size="10.5" stroke="#000" stroke-width="0.25" textLength="32.04" lengthAdjust="spacingAndGlyphs" transform="translate(15.10 635.04) rotate(-90)">Genes</text>
<text x="446.81" y="503.60" font-size="13.5" font-weight="bold" stroke="#000" stroke-width="0.25" textLength="9.07" lengthAdjust="spacingAndGlyphs">g</text>
<path d="M515.0 540.5 516.4 540.9 517.8 541.2 519.2 541.6 520.5 542.0 521.7 542.4 522.9 542.8 524.0 543.1 525.0 543.5 526.0 543.9 527.0 544.2 527.8 544.6 528.7 545.0 529.4 545.4 530.1 545.8 530.7 546.1 531.2 546.5 531.6 546.9 532.0 547.2 532.2 547.6 532.3 548.0 532.2 548.4 532.0 548.9 531.6 549.3 531.2 549.7 530.7 550.1 530.1 550.5 529.4 551.0 528.7 551.4 527.8 551.8 527.0 552.2 526.0 552.7 525.0 553.1 524.0 553.5 522.9 554.0 521.7 554.4 520.5 554.8 519.2 555.2 517.8 555.6 516.4 556.1 515.0 556.5 515.0 556.5 513.6 556.1 512.2 555.6 510.8 555.2 509.5 554.8 508.3 554.4 507.1 554.0 506.0 553.5 505.0 553.1 504.0 552.7 503.0 552.2 502.2 551.8 501.3 551.4 500.6 551.0 499.9 550.5 499.3 550.1 498.8 549.7 498.4 549.3 498.0 548.9 497.8 548.4 497.7 548.0 497.8 547.6 498.0 547.2 498.4 546.9 498.8 546.5 499.3 546.1 499.9 545.8 500.6 545.4 501.3 545.0 502.2 544.6 503.0 544.2 504.0 543.9 505.0 543.5 506.0 543.1 507.1 542.8 508.3 542.4 509.5 542.0 510.8 541.6 512.2 541.2 513.6 540.9 515.0 540.5Z" fill="#F8766D" fill-opacity="0.45"/>
<path d="M519.0 544.1h0M514.4 549.7h0M522.1 544.9h0M515.3 552.1h0M506.8 548.3h0M514.6 539.3h0M502.0 549.2h0M508.9 551.9h0M503.5 545.1h0M515.7 557.8h0M517.0 553.4h0M514.4 541.0h0M503.1 548.2h0M514.1 555.3h0M521.4 543.9h0M522.5 543.4h0M516.6 547.8h0M514.6 546.6h0M504.6 544.5h0M510.3 553.2h0M508.1 551.7h0M516.3 555.9h0M521.5 551.3h0M521.9 549.1h0M514.6 543.3h0M508.8 552.5h0M519.5 554.5h0M510.9 547.3h0M511.5 547.8h0M514.7 557.5h0M513.8 540.8h0M528.0 550.8h0M514.7 548.2h0M522.6 548.8h0M517.7 545.0h0M518.7 548.8h0M507.7 544.4h0M527.6 546.6h0M517.9 546.6h0M503.8 546.1h0M518.1 542.0h0M512.0 551.7h0M519.9 550.3h0M521.6 553.9h0M530.0 547.3h0M515.5 555.7h0M514.9 553.5h0M507.4 546.9h0M509.3 553.4h0M518.2 542.1h0M514.6 551.6h0M506.1 552.6h0M509.5 545.5h0M504.9 547.4h0M513.3 542.1h0M522.0 553.9h0M514.5 551.2h0M527.0 545.4h0M522.1 548.5h0M514.1 540.8h0" stroke="#F8766D" stroke-width="1.7" stroke-linecap="round" stroke-opacity="0.6"/>
<path d="M520.9 552.7h0M516.6 553.5h0M517.5 547.5h0M511.3 552.9h0M508.1 548.6h0M503.2 551.5h0M527.5 550.4h0M515.3 540.6h0M525.1 549.9h0M507.7 549.2h0M529.0 547.3h0M510.0 554.0h0M509.3 542.7h0M514.8 540.7h0M521.9 543.7h0M504.4 550.0h0M509.6 548.7h0M506.3 548.2h0M508.4 544.1h0M521.3 547.0h0M501.1 548.8h0M525.0 550.7h0M521.9 551.6h0M514.9 539.7h0M517.6 542.0h0M519.6 544.3h0M520.1 545.4h0M502.0 546.2h0M509.2 547.1h0M512.1 553.9h0M516.5 548.3h0M511.9 555.2h0M515.2 549.3h0M527.0 551.0h0M520.6 546.2h0M516.9 548.5h0M518.1 542.0h0M514.6 556.3h0M529.1 546.3h0M508.4 543.0h0M518.5 542.2h0M513.7 551.4h0M500.9 549.6h0M513.3 549.9h0M511.6 548.4h0M506.6 547.2h0M514.5 541.5h0M520.3 545.4h0M519.8 552.3h0M506.8 547.8h0M514.6 547.1h0M528.5 549.7h0M514.7 542.5h0M521.8 548.2h0M519.3 553.7h0M522.6 549.6h0M525.1 550.2h0M520.0 550.5h0M525.7 545.3h0M518.5 547.1h0" stroke="#F8766D" stroke-width="1.7" stroke-linecap="round" stroke-opacity="0.6"/>
<path d="M524.7 552.4h0M513.5 557.0h0M509.7 546.2h0M504.2 547.1h0M502.1 548.8h0M527.5 546.1h0M514.0 551.1h0M522.2 543.0h0M507.1 550.6h0M519.1 546.5h0M508.4 550.3h0M513.7 555.3h0M524.0 545.5h0M518.6 543.9h0M517.3 544.7h0M511.7 545.8h0M514.7 555.0h0M518.6 547.6h0M506.1 545.8h0M508.1 547.0h0M525.4 544.5h0M516.2 541.1h0M517.0 554.8h0M515.0 540.4h0M515.5 541.2h0M508.0 550.6h0M515.1 539.7h0M512.3 542.7h0M527.3 547.8h0M504.1 546.9h0M522.4 551.9h0M501.1 548.6h0M512.8 544.5h0M506.6 548.8h0M522.7 552.1h0M519.3 554.5h0M515.2 540.3h0M519.9 542.4h0M521.5 551.2h0M505.1 544.5h0M517.3 552.3h0M514.2 549.6h0M511.4 552.0h0M511.1 545.7h0M518.5 546.0h0M508.4 553.7h0M515.1 542.1h0M506.4 550.3h0M503.2 545.7h0M515.0 541.2h0M517.6 553.2h0M508.2 539.6h0M515.7 559.7h0M518.3 546.1h0M515.4 554.4h0M520.7 537.5h0M507.1 541.1h0M515.6 544.7h0M509.4 551.8h0M514.9 554.0h0" stroke="#F8766D" stroke-width="1.7" stroke-linecap="round" stroke-opacity="0.6"/>
<path d="M521.1 539.7h0M522.0 556.5h0M510.1 553.2h0M522.0 555.7h0" stroke="#F8766D" stroke-width="1.7" stroke-linecap="round" stroke-opacity="0.6"/>
<path d="M515.0 540.5 516.4 540.9 517.8 541.2 519.2 541.6 520.5 542.0 521.7 542.4 522.9 542.8 524.0 543.1 525.0 543.5 526.0 543.9 527.0 544.2 527.8 544.6 528.7 545.0 529.4 545.4 530.1 545.8 530.7 546.1 531.2 546.5 531.6 546.9 532.0 547.2 532.2 547.6 532.3 548.0 532.2 548.4 532.0 548.9 531.6 549.3 531.2 549.7 530.7 550.1 530.1 550.5 529.4 551.0 528.7 551.4 527.8 551.8 527.0 552.2 526.0 552.7 525.0 553.1 524.0 553.5 522.9 554.0 521.7 554.4 520.5 554.8 519.2 555.2 517.8 555.6 516.4 556.1 515.0 556.5 515.0 556.5 513.6 556.1 512.2 555.6 510.8 555.2 509.5 554.8 508.3 554.4 507.1 554.0 506.0 553.5 505.0 553.1 504.0 552.7 503.0 552.2 502.2 551.8 501.3 551.4 500.6 551.0 499.9 550.5 499.3 550.1 498.8 549.7 498.4 549.3 498.0 548.9 497.8 548.4 497.7 548.0 497.8 547.6 498.0 547.2 498.4 546.9 498.8 546.5 499.3 546.1 499.9 545.8 500.6 545.4 501.3 545.0 502.2 544.6 503.0 544.2 504.0 543.9 505.0 543.5 506.0 543.1 507.1 542.8 508.3 542.4 509.5 542.0 510.8 541.6 512.2 541.2 513.6 540.9 515.0 540.5Z" fill="none" stroke="#F8766D" stroke-width="1.1"/>
<line x1="505.0" y1="548.0" x2="525.0" y2="548.0" stroke="#000" stroke-width="1.3"/>
<text x="511.67" y="518.30" font-size="8.5" stroke="#000" stroke-width="0.25" textLength="6.64" lengthAdjust="spacingAndGlyphs">**</text>
<path d="M551.4 545.0 552.8 545.6 554.1 546.1 555.4 546.7 556.6 547.3 557.7 547.8 558.8 548.4 559.9 549.0 560.8 549.5 561.7 550.1 562.6 550.6 563.4 551.2 564.1 551.8 564.7 552.3 565.3 552.9 565.8 553.5 566.2 554.0 566.6 554.6 566.9 555.2 567.0 555.7 567.1 556.3 566.5 556.8 565.9 557.3 565.2 557.8 564.4 558.2 563.7 558.7 562.9 559.2 562.2 559.7 561.4 560.2 560.6 560.7 559.8 561.1 559.0 561.6 558.1 562.1 557.3 562.6 556.5 563.1 555.7 563.6 554.8 564.1 554.0 564.5 553.1 565.0 552.3 565.5 552.1 566.0 551.7 578.5 551.1 578.5 550.7 566.0 550.5 565.5 549.7 565.0 548.8 564.5 548.0 564.1 547.1 563.6 546.3 563.1 545.5 562.6 544.7 562.1 543.8 561.6 543.0 561.1 542.2 560.7 541.4 560.2 540.6 559.7 539.9 559.2 539.1 558.7 538.4 558.2 537.6 557.8 536.9 557.3 536.3 556.8 535.7 556.3 535.8 555.7 535.9 555.2 536.2 554.6 536.6 554.0 537.0 553.5 537.5 552.9 538.1 552.3 538.7 551.8 539.4 551.2 540.2 550.6 541.1 550.1 542.0 549.5 542.9 549.0 544.0 548.4 545.1 547.8 546.2 547.3 547.4 546.7 548.7 546.1 550.0 545.6 551.4 545.0Z" fill="#A3A53A" fill-opacity="0.45"/>
<path d="M562.9 556.3h0M551.1 565.0h0M554.3 563.9h0M542.7 560.2h0M554.4 553.8h0M558.0 557.3h0M543.1 557.8h0M551.7 563.5h0M547.8 562.1h0M551.6 567.2h0M555.9 559.9h0M549.7 562.1h0M550.2 548.2h0M552.2 550.7h0M549.1 560.6h0M543.2 549.6h0M553.6 554.9h0M552.1 546.0h0M542.8 551.4h0M551.6 563.4h0M551.6 562.5h0M547.1 549.4h0M555.3 554.9h0M556.2 559.8h0M545.4 557.9h0M548.0 555.0h0M544.8 555.8h0M550.2 556.4h0M553.4 546.4h0M559.5 557.0h0M556.2 559.2h0M551.0 566.6h0M537.9 554.4h0M553.3 558.1h0M564.8 556.9h0M545.6 551.1h0M557.9 559.2h0M538.9 555.7h0M560.1 554.1h0M550.3 555.9h0M554.9 554.4h0M556.5 557.2h0M554.8 561.7h0M544.7 554.2h0M556.8 560.0h0M548.9 563.4h0M557.1 561.3h0M549.0 548.1h0M542.5 557.6h0M547.7 561.0h0M546.7 558.4h0M544.9 551.5h0M557.4 555.9h0M555.5 551.5h0M555.3 553.6h0M543.2 554.1h0M543.5 549.8h0M549.5 558.6h0M557.7 549.4h0M539.8 558.0h0" stroke="#A3A53A" stroke-width="1.7" stroke-linecap="round" stroke-opacity="0.6"/>
<path d="M553.4 559.0h0M551.4 555.1h0M550.9 564.7h0M554.8 557.7h0M547.3 554.0h0M554.1 559.5h0M551.8 555.3h0M557.9 551.6h0M551.8 545.6h0M543.6 555.3h0M553.6 557.0h0M551.3 548.4h0M557.2 550.4h0M547.0 553.4h0M541.4 551.5h0M544.2 550.9h0M560.2 557.5h0M542.7 551.6h0M540.6 556.3h0M558.5 554.6h0M555.7 551.2h0M539.7 556.4h0M553.7 552.0h0M547.2 548.7h0M560.0 556.9h0M556.0 556.2h0M550.8 544.7h0M562.0 553.3h0M559.0 553.9h0M551.4 546.4h0M554.5 562.4h0M542.8 556.9h0M547.9 563.4h0M552.5 564.8h0M552.1 558.9h0M548.3 550.4h0M555.1 558.1h0M559.6 554.4h0M549.4 547.2h0M549.0 548.5h0M555.9 560.2h0M547.9 550.0h0M553.9 549.1h0M543.9 555.1h0M561.2 554.2h0M556.7 554.9h0M550.7 557.6h0M547.6 556.6h0M551.3 551.1h0M547.1 553.1h0M560.0 550.9h0M543.1 554.9h0M549.9 546.2h0M549.3 561.8h0M545.0 558.1h0M550.2 557.9h0M552.0 559.2h0M545.5 554.2h0M560.2 557.1h0M550.9 558.5h0" stroke="#A3A53A" stroke-width="1.7" stroke-linecap="round" stroke-opacity="0.6"/>
<path d="M561.5 553.5h0M546.2 561.3h0M557.7 558.3h0M562.3 558.3h0M548.3 562.1h0M550.9 567.0h0M564.2 554.2h0M549.3 550.5h0M545.6 557.5h0M558.5 552.4h0M557.7 557.4h0M558.1 560.2h0M555.0 562.4h0M551.4 565.5h0M551.7 558.7h0M551.9 565.0h0M555.9 555.0h0M542.1 552.9h0M541.6 554.3h0M550.2 544.2h0M558.7 555.3h0M552.6 547.0h0M551.6 549.1h0M550.0 552.9h0M549.5 558.8h0M557.6 554.4h0M549.0 549.2h0M558.9 558.7h0M550.7 565.5h0M546.7 557.5h0M559.1 558.7h0M548.7 549.7h0M550.3 563.7h0M559.4 557.6h0M558.4 552.6h0M550.9 544.1h0M548.4 550.4h0M540.9 551.4h0M545.8 560.4h0M552.9 556.8h0M556.4 561.4h0M543.0 557.5h0M543.5 559.6h0M549.8 563.4h0M544.7 552.2h0M559.3 554.5h0M554.9 561.5h0M546.0 559.1h0M546.4 553.3h0M561.8 555.0h0M544.9 570.9h0M558.0 569.9h0M554.4 554.3h0M546.5 564.3h0M559.0 559.1h0M557.9 567.3h0M554.8 542.6h0M557.8 555.1h0M552.2 545.2h0M556.2 543.7h0" stroke="#A3A53A" stroke-width="1.7" stroke-linecap="round" stroke-opacity="0.6"/>
<path d="M544.0 562.4h0M545.8 549.6h0M553.4 559.7h0M558.5 541.9h0M553.7 571.5h0M551.8 570.5h0M551.9 571.0h0M551.1 575.4h0M549.8 569.7h0M552.7 568.8h0M549.2 577.4h0M549.7 571.1h0M550.5 569.3h0M550.7 572.7h0" stroke="#A3A53A" stroke-width="1.7" stroke-linecap="round" stroke-opacity="0.6"/>
<path d="M551.4 545.0 552.8 545.6 554.1 546.1 555.4 546.7 556.6 547.3 557.7 547.8 558.8 548.4 559.9 549.0 560.8 549.5 561.7 550.1 562.6 550.6 563.4 551.2 564.1 551.8 564.7 552.3 565.3 552.9 565.8 553.5 566.2 554.0 566.6 554.6 566.9 555.2 567.0 555.7 567.1 556.3 566.5 556.8 565.9 557.3 565.2 557.8 564.4 558.2 563.7 558.7 562.9 559.2 562.2 559.7 561.4 560.2 560.6 560.7 559.8 561.1 559.0 561.6 558.1 562.1 557.3 562.6 556.5 563.1 555.7 563.6 554.8 564.1 554.0 564.5 553.1 565.0 552.3 565.5 552.1 566.0 551.7 578.5 551.1 578.5 550.7 566.0 550.5 565.5 549.7 565.0 548.8 564.5 548.0 564.1 547.1 563.6 546.3 563.1 545.5 562.6 544.7 562.1 543.8 561.6 543.0 561.1 542.2 560.7 541.4 560.2 540.6 559.7 539.9 559.2 539.1 558.7 538.4 558.2 537.6 557.8 536.9 557.3 536.3 556.8 535.7 556.3 535.8 555.7 535.9 555.2 536.2 554.6 536.6 554.0 537.0 553.5 537.5 552.9 538.1 552.3 538.7 551.8 539.4 551.2 540.2 550.6 541.1 550.1 542.0 549.5 542.9 549.0 544.0 548.4 545.1 547.8 546.2 547.3 547.4 546.7 548.7 546.1 550.0 545.6 551.4 545.0Z" fill="none" stroke="#A3A53A" stroke-width="1.1"/>
<line x1="542.0" y1="556.8" x2="560.8" y2="556.8" stroke="#000" stroke-width="1.3"/>
<text x="544.57" y="518.30" font-size="8.5" stroke="#000" stroke-width="0.25" textLength="13.68" lengthAdjust="spacingAndGlyphs">****</text>
<path d="M588.2 534.0 588.8 534.9 589.4 535.8 590.0 536.7 590.6 537.6 591.2 538.5 591.9 539.4 592.5 540.3 593.1 541.2 593.7 542.1 594.3 543.0 594.9 543.9 595.5 544.8 596.1 545.7 596.7 546.6 597.4 547.5 598.0 548.4 598.6 549.3 599.2 550.2 599.8 551.1 600.4 552.0 600.4 552.7 600.3 553.4 600.1 554.1 599.9 554.8 599.6 555.5 599.3 556.2 598.9 556.9 598.4 557.6 597.9 558.3 597.4 559.0 596.7 559.7 596.0 560.4 595.2 561.1 594.4 561.8 593.5 562.5 592.6 563.2 591.6 563.9 590.5 564.6 589.4 565.3 588.2 566.0 588.2 566.0 587.0 565.3 585.9 564.6 584.8 563.9 583.8 563.2 582.9 562.5 582.0 561.8 581.2 561.1 580.4 560.4 579.7 559.7 579.1 559.0 578.5 558.3 578.0 557.6 577.5 556.9 577.1 556.2 576.8 555.5 576.5 554.8 576.3 554.1 576.1 553.4 576.0 552.7 576.0 552.0 576.6 551.1 577.2 550.2 577.8 549.3 578.4 548.4 579.1 547.5 579.7 546.6 580.3 545.7 580.9 544.8 581.5 543.9 582.1 543.0 582.7 542.1 583.3 541.2 583.9 540.3 584.5 539.4 585.2 538.5 585.8 537.6 586.4 536.7 587.0 535.8 587.6 534.9 588.2 534.0Z" fill="#3DBB85" fill-opacity="0.45"/>
<path d="M588.5 541.1h0M586.1 538.1h0M585.0 544.1h0M584.7 547.7h0M591.0 558.3h0M593.6 550.5h0M584.3 554.5h0M593.6 553.1h0M593.6 551.6h0M597.5 553.5h0M590.7 545.8h0M588.3 564.3h0M582.7 560.6h0M583.3 555.4h0M586.7 556.0h0M582.8 551.6h0M593.4 545.6h0M591.0 553.7h0M586.4 541.1h0M586.2 563.7h0M592.4 551.7h0M589.3 551.2h0M589.9 563.9h0M587.3 545.1h0M591.6 549.4h0M583.1 554.3h0M586.7 554.7h0M587.6 535.3h0M582.8 548.5h0M598.7 554.2h0M589.7 561.7h0M588.1 558.9h0M596.8 552.6h0M587.4 538.6h0M585.4 548.4h0M579.8 549.6h0M597.9 554.4h0M584.0 545.0h0M593.1 547.5h0M591.8 544.8h0M589.3 543.2h0M591.8 555.3h0M591.4 539.8h0M587.9 558.6h0M589.9 559.0h0M587.1 543.0h0M587.5 557.8h0M586.8 537.5h0M589.2 543.6h0M587.1 553.7h0M596.7 549.0h0M591.1 547.7h0M588.4 544.1h0M583.8 543.4h0M581.8 547.6h0M590.9 548.6h0M594.7 551.9h0M579.8 550.5h0M586.2 555.5h0M597.8 556.0h0" stroke="#3DBB85" stroke-width="1.7" stroke-linecap="round" stroke-opacity="0.6"/>
<path d="M582.9 551.4h0M588.2 548.1h0M581.8 547.2h0M591.0 548.9h0M593.0 557.7h0M592.7 559.8h0M590.9 549.2h0M589.7 538.2h0M583.3 555.0h0M583.6 550.4h0M586.8 557.1h0M596.4 556.8h0M585.9 556.7h0M595.7 547.7h0M583.9 560.6h0M593.2 548.1h0M583.9 556.2h0M597.2 549.9h0M586.5 540.1h0M596.9 554.1h0M587.9 562.5h0M597.2 557.0h0M583.7 547.4h0M592.2 545.7h0M588.7 542.0h0M584.7 561.6h0M588.8 553.4h0M588.3 563.6h0M596.5 550.8h0M581.1 556.1h0M586.3 557.4h0M591.2 563.8h0M586.5 550.8h0M585.3 544.8h0M584.1 544.2h0M579.0 555.5h0M590.3 552.8h0M589.6 555.7h0M585.6 561.5h0M588.8 540.2h0M595.3 545.9h0M590.5 561.3h0M583.7 558.2h0M585.8 550.7h0M586.1 547.8h0M591.3 550.5h0M588.3 536.3h0M592.5 541.6h0M590.2 551.9h0M591.5 547.1h0M596.8 555.1h0M583.2 552.5h0M578.4 553.4h0M584.3 555.9h0M580.6 555.3h0M581.0 552.8h0M587.3 537.1h0M586.3 558.7h0M594.4 551.4h0M587.1 564.5h0" stroke="#3DBB85" stroke-width="1.7" stroke-linecap="round" stroke-opacity="0.6"/>
<path d="M594.2 554.7h0M585.3 557.1h0M593.9 550.5h0M588.0 545.4h0M595.8 553.5h0M590.5 545.2h0M583.8 544.5h0M591.2 550.5h0M597.9 553.6h0M588.5 542.9h0M583.3 550.6h0M583.7 561.1h0M581.6 545.7h0M591.6 553.7h0M593.7 544.7h0M581.7 553.5h0M591.8 562.2h0M594.0 547.0h0M586.8 541.7h0M596.7 549.4h0M586.4 546.7h0M592.2 544.2h0M592.2 543.5h0M589.0 547.7h0M584.6 559.6h0M591.1 551.5h0M586.2 552.4h0M584.2 553.7h0M583.1 542.6h0M589.8 552.9h0M581.7 557.3h0M587.2 554.3h0M595.3 551.4h0M586.8 551.3h0M580.6 553.7h0M588.5 559.4h0M588.1 537.5h0M592.9 562.4h0M583.8 549.5h0M585.9 561.9h0M587.4 535.6h0M591.7 550.4h0M587.2 538.9h0M585.0 555.5h0M590.6 543.2h0M591.9 549.7h0M594.6 550.7h0M598.2 551.2h0M592.3 557.6h0M590.4 550.8h0M583.0 544.8h0M592.0 566.2h0M592.6 561.2h0M594.2 552.1h0M594.1 548.9h0M586.7 532.4h0M592.1 553.0h0M591.7 550.9h0M590.4 544.7h0M589.4 562.5h0" stroke="#3DBB85" stroke-width="1.7" stroke-linecap="round" stroke-opacity="0.6"/>
<path d="M590.1 529.9h0M585.8 529.0h0M591.4 533.8h0M590.9 536.1h0" stroke="#3DBB85" stroke-width="1.7" stroke-linecap="round" stroke-opacity="0.6"/>
<path d="M588.2 534.0 588.8 534.9 589.4 535.8 590.0 536.7 590.6 537.6 591.2 538.5 591.9 539.4 592.5 540.3 593.1 541.2 593.7 542.1 594.3 543.0 594.9 543.9 595.5 544.8 596.1 545.7 596.7 546.6 597.4 547.5 598.0 548.4 598.6 549.3 599.2 550.2 599.8 551.1 600.4 552.0 600.4 552.7 600.3 553.4 600.1 554.1 599.9 554.8 599.6 555.5 599.3 556.2 598.9 556.9 598.4 557.6 597.9 558.3 597.4 559.0 596.7 559.7 596.0 560.4 595.2 561.1 594.4 561.8 593.5 562.5 592.6 563.2 591.6 563.9 590.5 564.6 589.4 565.3 588.2 566.0 588.2 566.0 587.0 565.3 585.9 564.6 584.8 563.9 583.8 563.2 582.9 562.5 582.0 561.8 581.2 561.1 580.4 560.4 579.7 559.7 579.1 559.0 578.5 558.3 578.0 557.6 577.5 556.9 577.1 556.2 576.8 555.5 576.5 554.8 576.3 554.1 576.1 553.4 576.0 552.7 576.0 552.0 576.6 551.1 577.2 550.2 577.8 549.3 578.4 548.4 579.1 547.5 579.7 546.6 580.3 545.7 580.9 544.8 581.5 543.9 582.1 543.0 582.7 542.1 583.3 541.2 583.9 540.3 584.5 539.4 585.2 538.5 585.8 537.6 586.4 536.7 587.0 535.8 587.6 534.9 588.2 534.0Z" fill="none" stroke="#3DBB85" stroke-width="1.1"/>
<line x1="580.9" y1="549.4" x2="595.5" y2="549.4" stroke="#000" stroke-width="1.3"/>
<text x="581.37" y="518.30" font-size="8.5" stroke="#000" stroke-width="0.25" textLength="13.68" lengthAdjust="spacingAndGlyphs">****</text>
<path d="M626.0 525.0 627.2 525.7 628.4 526.4 629.5 527.1 630.6 527.8 631.7 528.5 632.8 529.1 633.8 529.8 634.8 530.5 635.8 531.2 636.7 531.9 637.6 532.6 638.4 533.3 639.2 534.0 640.0 534.7 640.7 535.3 641.4 536.0 642.0 536.7 642.5 537.4 642.9 538.1 643.2 538.8 642.9 539.3 642.5 539.8 642.0 540.3 641.4 540.8 640.7 541.3 640.0 541.9 639.2 542.4 638.4 542.9 637.6 543.4 636.7 543.9 635.8 544.4 634.8 544.9 633.8 545.4 632.8 545.9 631.7 546.5 630.6 547.0 629.5 547.5 628.4 548.0 627.2 548.5 626.0 549.0 626.0 549.0 624.8 548.5 623.6 548.0 622.5 547.5 621.4 547.0 620.3 546.5 619.2 545.9 618.2 545.4 617.2 544.9 616.2 544.4 615.3 543.9 614.4 543.4 613.6 542.9 612.8 542.4 612.0 541.9 611.3 541.3 610.6 540.8 610.0 540.3 609.5 539.8 609.1 539.3 608.8 538.8 609.1 538.1 609.5 537.4 610.0 536.7 610.6 536.0 611.3 535.3 612.0 534.7 612.8 534.0 613.6 533.3 614.4 532.6 615.3 531.9 616.2 531.2 617.2 530.5 618.2 529.8 619.2 529.1 620.3 528.5 621.4 527.8 622.5 527.1 623.6 526.4 624.8 525.7 626.0 525.0Z" fill="#29AEE6" fill-opacity="0.45"/>
<path d="M622.8 528.7h0M637.8 540.8h0M627.2 528.6h0M629.4 536.3h0M620.5 528.8h0M630.5 528.9h0M629.4 537.7h0M629.0 530.7h0M621.5 545.2h0M634.3 542.3h0M626.2 549.4h0M621.4 540.0h0M621.5 542.3h0M629.8 539.7h0M626.9 549.1h0M621.7 529.5h0M623.2 535.6h0M619.5 541.2h0M624.5 538.7h0M629.6 534.6h0M639.9 536.9h0M632.4 530.6h0M624.8 539.9h0M627.7 528.9h0M622.6 542.8h0M626.9 541.1h0M630.5 529.3h0M625.5 534.7h0M635.4 542.0h0M623.5 543.9h0M619.2 543.8h0M623.9 538.6h0M630.0 544.2h0M635.0 540.2h0M624.5 535.4h0M623.9 529.7h0M630.7 532.4h0M632.6 530.6h0M624.4 539.3h0M625.2 530.3h0M615.0 538.8h0M625.5 548.2h0M619.8 536.9h0M619.9 535.8h0M617.8 543.9h0M628.6 535.7h0M620.7 537.6h0M612.9 537.6h0M624.4 534.7h0M624.3 542.1h0M630.4 536.6h0M627.2 534.1h0M628.4 532.3h0M630.7 538.4h0M631.1 544.5h0M625.2 549.0h0M625.6 547.0h0M624.8 535.7h0M631.7 545.8h0M621.5 542.8h0" stroke="#29AEE6" stroke-width="1.7" stroke-linecap="round" stroke-opacity="0.6"/>
<path d="M621.5 530.2h0M631.8 540.4h0M621.0 528.4h0M625.5 549.7h0M625.8 527.3h0M630.2 529.6h0M629.4 538.3h0M621.5 546.0h0M632.1 532.8h0M624.1 539.4h0M629.2 535.6h0M630.3 546.7h0M632.3 545.7h0M618.4 530.6h0M620.7 543.4h0M625.0 538.2h0M625.8 548.0h0M621.2 530.7h0M630.6 545.3h0M633.7 530.9h0M632.2 535.8h0M637.1 538.8h0M611.9 537.7h0M636.9 538.7h0M635.3 536.5h0M621.9 537.1h0M618.7 535.6h0M639.9 537.9h0M634.2 539.2h0M623.5 531.9h0M622.4 539.0h0M627.1 525.0h0M628.5 530.6h0M625.4 548.4h0M622.0 533.9h0M640.8 538.5h0M621.7 531.0h0M622.6 545.0h0M632.4 540.3h0M624.6 523.5h0M636.5 541.9h0M625.1 540.8h0M626.4 529.7h0M623.5 530.0h0M626.1 526.9h0M619.6 537.4h0M616.7 532.9h0M624.3 526.5h0M624.6 548.6h0M624.8 541.2h0M620.0 539.1h0M626.9 548.4h0M624.1 536.4h0M621.5 545.7h0M628.1 544.4h0M627.0 538.8h0M613.5 539.2h0M622.7 533.5h0M617.1 532.9h0M623.9 541.1h0" stroke="#29AEE6" stroke-width="1.7" stroke-linecap="round" stroke-opacity="0.6"/>
<path d="M623.2 541.6h0M623.5 546.5h0M623.7 538.1h0M617.4 542.6h0M624.6 538.5h0M618.0 539.7h0M640.9 538.5h0M632.5 529.7h0M625.7 547.6h0M626.0 529.0h0M622.8 547.4h0M633.1 541.8h0M627.5 530.2h0M619.1 531.1h0M619.8 538.2h0M626.8 540.2h0M635.2 533.1h0M626.9 524.6h0M635.7 534.2h0M624.7 539.4h0M633.6 532.8h0M634.7 544.0h0M639.0 539.2h0M628.6 545.0h0M628.7 535.2h0M634.3 535.3h0M637.3 538.6h0M630.0 544.9h0M622.6 532.5h0M624.0 529.1h0M622.4 531.3h0M617.2 542.6h0M631.5 545.7h0M619.6 542.2h0M625.0 534.3h0M638.8 539.6h0M624.7 526.0h0M615.8 543.2h0M621.1 545.0h0M625.9 548.2h0M635.9 539.4h0M624.2 543.2h0M634.5 537.3h0M621.5 533.6h0M632.8 544.4h0M622.7 543.3h0M615.5 535.3h0M616.7 543.4h0M616.7 532.0h0M640.6 537.2h0M621.7 522.4h0M629.5 529.1h0M620.4 532.1h0M632.9 543.5h0M618.5 525.6h0M633.5 533.9h0M619.8 522.0h0M630.5 541.9h0M618.2 535.4h0M619.1 538.7h0" stroke="#29AEE6" stroke-width="1.7" stroke-linecap="round" stroke-opacity="0.6"/>
<path d="M618.4 522.5h0M619.2 551.9h0M631.5 536.2h0M624.1 526.8h0" stroke="#29AEE6" stroke-width="1.7" stroke-linecap="round" stroke-opacity="0.6"/>
<path d="M626.0 525.0 627.2 525.7 628.4 526.4 629.5 527.1 630.6 527.8 631.7 528.5 632.8 529.1 633.8 529.8 634.8 530.5 635.8 531.2 636.7 531.9 637.6 532.6 638.4 533.3 639.2 534.0 640.0 534.7 640.7 535.3 641.4 536.0 642.0 536.7 642.5 537.4 642.9 538.1 643.2 538.8 642.9 539.3 642.5 539.8 642.0 540.3 641.4 540.8 640.7 541.3 640.0 541.9 639.2 542.4 638.4 542.9 637.6 543.4 636.7 543.9 635.8 544.4 634.8 544.9 633.8 545.4 632.8 545.9 631.7 546.5 630.6 547.0 629.5 547.5 628.4 548.0 627.2 548.5 626.0 549.0 626.0 549.0 624.8 548.5 623.6 548.0 622.5 547.5 621.4 547.0 620.3 546.5 619.2 545.9 618.2 545.4 617.2 544.9 616.2 544.4 615.3 543.9 614.4 543.4 613.6 542.9 612.8 542.4 612.0 541.9 611.3 541.3 610.6 540.8 610.0 540.3 609.5 539.8 609.1 539.3 608.8 538.8 609.1 538.1 609.5 537.4 610.0 536.7 610.6 536.0 611.3 535.3 612.0 534.7 612.8 534.0 613.6 533.3 614.4 532.6 615.3 531.9 616.2 531.2 617.2 530.5 618.2 529.8 619.2 529.1 620.3 528.5 621.4 527.8 622.5 527.1 623.6 526.4 624.8 525.7 626.0 525.0Z" fill="none" stroke="#29AEE6" stroke-width="1.1"/>
<line x1="616.0" y1="538.3" x2="636.0" y2="538.3" stroke="#000" stroke-width="1.3"/>
<text x="619.17" y="518.30" font-size="8.5" stroke="#000" stroke-width="0.25" textLength="13.68" lengthAdjust="spacingAndGlyphs">****</text>
<path d="M663.2 525.5 664.1 526.2 664.9 527.0 665.8 527.7 666.5 528.4 667.2 529.1 667.9 529.9 668.5 530.6 669.1 531.3 669.6 532.0 670.1 532.8 670.5 533.5 670.9 534.2 671.3 534.9 671.6 535.6 671.8 536.4 672.0 537.1 672.2 537.8 672.3 538.5 672.4 539.3 672.4 540.0 672.1 541.2 671.7 542.4 671.3 543.5 670.8 544.7 670.4 545.9 670.0 547.0 669.5 548.2 669.0 549.4 668.6 550.6 668.1 551.8 667.6 552.9 667.2 554.1 666.7 555.3 666.2 556.5 665.7 557.6 665.2 558.8 664.7 560.0 664.2 561.1 663.7 562.3 663.2 563.5 663.2 563.5 662.7 562.3 662.2 561.1 661.7 560.0 661.2 558.8 660.7 557.6 660.2 556.5 659.7 555.3 659.2 554.1 658.8 552.9 658.3 551.8 657.8 550.6 657.4 549.4 656.9 548.2 656.4 547.0 656.0 545.9 655.6 544.7 655.1 543.5 654.7 542.4 654.3 541.2 654.0 540.0 654.0 539.3 654.1 538.5 654.2 537.8 654.4 537.1 654.6 536.4 654.8 535.6 655.1 534.9 655.5 534.2 655.9 533.5 656.3 532.8 656.8 532.0 657.3 531.3 657.9 530.6 658.5 529.9 659.2 529.1 659.9 528.4 660.6 527.7 661.5 527.0 662.3 526.2 663.2 525.5Z" fill="#A36FC4" fill-opacity="0.45"/>
<path d="M663.8 550.6h0M663.7 535.1h0M664.2 563.1h0M661.6 559.2h0M663.2 529.9h0M664.6 526.5h0M664.0 537.7h0M662.7 554.0h0M659.6 549.7h0M666.8 541.1h0M658.3 541.6h0M662.1 553.2h0M662.1 555.8h0M659.9 551.9h0M668.8 546.8h0M662.1 545.5h0M664.6 561.0h0M660.7 551.7h0M664.4 531.4h0M657.6 533.1h0M669.6 543.7h0M668.3 537.2h0M664.7 559.0h0M659.5 531.0h0M665.0 558.6h0M658.7 534.4h0M658.6 547.9h0M659.3 532.0h0M661.4 544.2h0M660.3 552.5h0M665.1 555.0h0M664.9 539.6h0M658.6 546.9h0M662.9 557.0h0M668.5 542.7h0M662.3 527.3h0M664.5 528.1h0M666.5 535.8h0M668.9 548.1h0M662.0 534.7h0M662.7 550.4h0M665.7 534.5h0M662.7 550.7h0M657.1 539.8h0M668.8 540.3h0M670.7 539.2h0M662.8 539.2h0M667.3 550.1h0M662.6 552.6h0M657.3 541.3h0M667.9 543.3h0M660.5 535.0h0M662.8 530.2h0M670.8 541.9h0M668.4 546.7h0M662.3 535.3h0M658.2 547.6h0M665.0 544.1h0M661.8 527.8h0M659.9 550.3h0" stroke="#A36FC4" stroke-width="1.7" stroke-linecap="round" stroke-opacity="0.6"/>
<path d="M662.2 545.8h0M669.4 539.9h0M669.5 540.1h0M663.7 551.6h0M661.3 531.9h0M662.3 558.6h0M659.1 544.6h0M665.3 548.6h0M663.8 554.6h0M666.7 532.2h0M669.4 544.2h0M660.6 542.8h0M664.2 541.1h0M664.8 547.5h0M663.5 553.3h0M668.6 535.4h0M659.2 547.9h0M668.7 541.5h0M657.9 544.2h0M664.9 553.5h0M666.1 535.2h0M663.8 553.4h0M663.4 558.1h0M663.7 526.4h0M666.8 552.0h0M667.9 549.3h0M663.0 551.0h0M660.3 530.0h0M666.4 529.3h0M667.0 551.1h0M662.7 550.0h0M656.4 543.9h0M661.8 534.0h0M661.7 529.6h0M658.1 542.8h0M657.3 534.6h0M668.5 541.4h0M666.5 541.2h0M666.7 548.1h0M663.2 550.7h0M660.8 529.2h0M660.6 537.4h0M663.2 544.8h0M657.8 537.6h0M668.6 548.8h0M659.0 547.6h0M666.8 547.4h0M665.2 543.3h0M663.0 553.3h0M659.3 547.8h0M663.8 552.3h0M665.0 535.0h0M662.7 551.8h0M666.6 538.2h0M664.6 563.2h0M663.0 538.2h0M657.3 539.7h0M660.1 543.4h0M668.3 541.9h0M670.3 543.7h0" stroke="#A36FC4" stroke-width="1.7" stroke-linecap="round" stroke-opacity="0.6"/>
<path d="M658.5 535.4h0M665.0 530.2h0M658.7 537.6h0M669.6 545.8h0M668.1 549.2h0M663.3 557.0h0M667.2 535.8h0M656.7 535.8h0M667.2 539.6h0M662.0 545.7h0M659.1 532.8h0M663.1 544.8h0M666.7 543.4h0M668.4 544.1h0M663.3 556.2h0M663.3 539.3h0M658.1 536.7h0M662.5 548.2h0M662.8 527.4h0M656.0 538.4h0M663.7 527.4h0M666.4 551.1h0M659.4 544.7h0M660.2 545.8h0M660.6 536.1h0M658.2 533.2h0M662.0 561.6h0M663.8 559.9h0M659.0 548.9h0M659.5 547.0h0M662.5 542.5h0M660.7 555.2h0M663.5 525.7h0M665.4 542.9h0M661.8 531.2h0M664.3 548.0h0M655.2 538.3h0M666.0 529.0h0M656.3 537.3h0M658.5 537.7h0M656.6 543.4h0M665.3 543.3h0M664.6 543.2h0M661.5 536.4h0M660.9 549.1h0M660.5 551.8h0M669.4 541.9h0M660.4 546.5h0M659.6 539.4h0M661.8 549.2h0M665.0 560.7h0M663.5 560.4h0M664.9 534.0h0M659.1 541.4h0M660.3 542.1h0M661.0 524.0h0M664.8 566.3h0M664.0 541.3h0M663.8 539.1h0M666.5 533.0h0" stroke="#A36FC4" stroke-width="1.7" stroke-linecap="round" stroke-opacity="0.6"/>
<path d="M662.7 558.6h0M662.0 547.2h0M666.3 557.5h0M659.6 564.9h0" stroke="#A36FC4" stroke-width="1.7" stroke-linecap="round" stroke-opacity="0.6"/>
<path d="M663.2 525.5 664.1 526.2 664.9 527.0 665.8 527.7 666.5 528.4 667.2 529.1 667.9 529.9 668.5 530.6 669.1 531.3 669.6 532.0 670.1 532.8 670.5 533.5 670.9 534.2 671.3 534.9 671.6 535.6 671.8 536.4 672.0 537.1 672.2 537.8 672.3 538.5 672.4 539.3 672.4 540.0 672.1 541.2 671.7 542.4 671.3 543.5 670.8 544.7 670.4 545.9 670.0 547.0 669.5 548.2 669.0 549.4 668.6 550.6 668.1 551.8 667.6 552.9 667.2 554.1 666.7 555.3 666.2 556.5 665.7 557.6 665.2 558.8 664.7 560.0 664.2 561.1 663.7 562.3 663.2 563.5 663.2 563.5 662.7 562.3 662.2 561.1 661.7 560.0 661.2 558.8 660.7 557.6 660.2 556.5 659.7 555.3 659.2 554.1 658.8 552.9 658.3 551.8 657.8 550.6 657.4 549.4 656.9 548.2 656.4 547.0 656.0 545.9 655.6 544.7 655.1 543.5 654.7 542.4 654.3 541.2 654.0 540.0 654.0 539.3 654.1 538.5 654.2 537.8 654.4 537.1 654.6 536.4 654.8 535.6 655.1 534.9 655.5 534.2 655.9 533.5 656.3 532.8 656.8 532.0 657.3 531.3 657.9 530.6 658.5 529.9 659.2 529.1 659.9 528.4 660.6 527.7 661.5 527.0 662.3 526.2 663.2 525.5Z" fill="none" stroke="#A36FC4" stroke-width="1.1"/>
<line x1="657.7" y1="542.4" x2="668.7" y2="542.4" stroke="#000" stroke-width="1.3"/>
<text x="656.37" y="518.30" font-size="8.5" stroke="#000" stroke-width="0.25" textLength="13.68" lengthAdjust="spacingAndGlyphs">****</text>
<line x1="491.6" y1="548.4" x2="685" y2="548.4" stroke="#444" stroke-width="1" stroke-dasharray="3.2,2.8"/>
<line x1="491.6" y1="512.2" x2="491.6" y2="586.9" stroke="#222" stroke-width="1.1"/>
<line x1="489.4" y1="515.2" x2="491.6" y2="515.2" stroke="#333" stroke-width="0.9"/>
<text x="477.28" y="518.60" font-size="9.5" fill="#4D4D4D" stroke="#4D4D4D" stroke-width="0.25" textLength="12.79" lengthAdjust="spacingAndGlyphs">0.6</text>
<line x1="489.4" y1="542.3" x2="491.6" y2="542.3" stroke="#333" stroke-width="0.9"/>
<text x="477.28" y="545.70" font-size="9.5" fill="#4D4D4D" stroke="#4D4D4D" stroke-width="0.25" textLength="12.65" lengthAdjust="spacingAndGlyphs">0.4</text>
<line x1="489.4" y1="569.6" x2="491.6" y2="569.6" stroke="#333" stroke-width="0.9"/>
<text x="477.28" y="573.00" font-size="9.5" fill="#4D4D4D" stroke="#4D4D4D" stroke-width="0.25" textLength="12.84" lengthAdjust="spacingAndGlyphs">0.2</text>
<line x1="491.6" y1="586.9" x2="685.0" y2="586.9" stroke="#888" stroke-width="1.1"/>
<path d="M515.0 636.5 515.9 637.2 516.7 637.9 517.5 638.6 518.3 639.3 519.0 640.0 519.8 640.7 520.5 641.4 521.2 642.1 521.8 642.8 522.4 643.5 523.0 644.2 523.6 644.9 524.1 645.6 524.6 646.3 525.1 647.0 525.5 647.7 525.8 648.4 526.1 649.1 526.4 649.8 526.5 650.5 526.5 650.8 526.5 651.0 526.5 651.3 526.5 651.6 526.4 651.8 526.3 652.1 526.2 652.4 526.0 652.6 525.8 652.9 525.5 653.1 525.1 653.4 524.6 653.7 524.0 653.9 523.2 654.2 522.3 654.5 521.2 654.7 520.0 655.0 518.5 655.3 516.9 655.5 515.0 655.8 515.0 655.8 513.1 655.5 511.5 655.3 510.0 655.0 508.8 654.7 507.7 654.5 506.8 654.2 506.0 653.9 505.4 653.7 504.9 653.4 504.5 653.1 504.2 652.9 504.0 652.6 503.8 652.4 503.7 652.1 503.6 651.8 503.5 651.6 503.5 651.3 503.5 651.0 503.5 650.8 503.5 650.5 503.6 649.8 503.9 649.1 504.2 648.4 504.5 647.7 504.9 647.0 505.4 646.3 505.9 645.6 506.4 644.9 507.0 644.2 507.6 643.5 508.2 642.8 508.8 642.1 509.5 641.4 510.2 640.7 511.0 640.0 511.7 639.3 512.5 638.6 513.3 637.9 514.1 637.2 515.0 636.5Z" fill="#F8766D" fill-opacity="0.45"/>
<path d="M510.3 653.8h0M514.2 640.9h0M507.1 650.0h0M524.6 650.0h0M521.7 651.7h0M513.2 642.2h0M513.1 644.1h0M524.1 653.4h0M515.9 644.4h0M524.6 649.6h0M507.9 647.4h0M512.0 640.6h0M507.3 647.8h0M508.7 650.6h0M515.9 638.5h0M519.8 647.6h0M512.6 649.2h0M517.3 639.6h0M510.1 650.4h0M516.0 640.0h0M518.4 654.4h0M522.4 654.2h0M511.9 641.4h0M507.7 647.7h0M521.0 647.9h0M519.7 644.4h0M519.6 644.2h0M512.4 639.8h0M515.4 638.6h0M515.6 637.4h0M522.3 647.0h0M520.9 646.5h0M512.4 651.3h0M517.1 651.7h0M513.5 649.4h0M515.3 642.1h0M513.7 648.4h0M514.0 656.1h0M516.0 653.9h0M515.5 640.6h0M514.9 642.9h0M520.2 647.9h0M508.0 653.9h0M523.2 653.2h0M510.4 642.0h0M506.2 647.7h0M515.1 641.3h0M516.3 643.3h0M517.2 643.3h0M506.3 649.8h0M523.7 650.5h0M513.6 656.8h0M511.3 650.5h0M514.3 647.0h0M515.6 638.8h0M518.5 641.5h0M516.0 640.7h0M505.7 648.9h0M515.0 641.0h0M508.9 646.6h0" stroke="#F8766D" stroke-width="1.7" stroke-linecap="round" stroke-opacity="0.6"/>
<path d="M512.7 640.6h0M507.6 652.2h0M507.0 651.4h0M520.5 652.2h0M513.0 653.3h0M514.7 655.7h0M521.7 649.8h0M510.0 642.0h0M509.3 650.6h0M514.9 643.5h0M512.3 642.5h0M509.7 643.2h0M522.0 652.2h0M513.8 651.0h0M515.6 654.2h0M505.5 648.9h0M510.2 646.0h0M524.5 650.2h0M511.3 649.8h0M506.6 652.5h0M505.7 652.0h0M516.4 655.3h0M514.9 656.2h0M512.9 650.2h0M515.8 651.3h0M520.7 647.5h0M512.3 654.6h0M522.2 644.3h0M512.8 645.7h0M510.8 648.8h0M510.8 647.5h0M520.5 647.3h0M523.9 651.5h0M511.9 654.4h0M519.0 651.7h0M514.8 649.8h0M516.0 654.1h0M510.0 654.6h0M508.8 646.1h0M514.1 650.9h0M512.4 645.4h0M511.3 647.9h0M517.4 648.1h0M514.2 637.2h0M518.2 648.5h0M519.7 649.4h0M522.6 647.2h0M515.1 651.5h0M521.1 649.1h0M511.7 644.7h0M515.1 648.1h0M515.0 638.9h0M520.6 654.1h0M519.0 648.7h0M507.6 646.3h0M515.8 652.3h0M517.3 649.6h0M514.4 655.7h0M519.7 649.1h0M523.5 650.5h0" stroke="#F8766D" stroke-width="1.7" stroke-linecap="round" stroke-opacity="0.6"/>
<path d="M516.2 638.4h0M514.3 638.2h0M520.1 646.0h0M516.0 653.5h0M518.3 648.9h0M514.6 637.6h0M506.6 647.5h0M511.5 645.2h0M511.9 641.4h0M517.8 646.3h0M511.4 652.8h0M519.4 651.8h0M512.4 640.7h0M508.3 653.2h0M516.7 649.8h0M520.6 652.1h0M507.6 652.2h0M523.2 650.9h0M524.5 650.3h0M514.7 640.0h0M514.2 655.5h0M511.6 645.8h0M513.8 646.3h0M510.3 648.2h0M523.3 648.2h0M510.8 645.9h0M518.3 654.0h0M523.5 651.9h0M514.4 656.1h0M515.7 635.0h0M512.7 650.2h0M520.1 653.8h0M517.3 649.1h0M509.3 647.0h0M518.5 645.0h0M515.4 648.1h0M524.0 650.1h0M511.2 641.2h0M509.2 651.5h0M515.1 649.1h0M517.9 650.3h0M516.9 646.7h0M519.5 654.5h0M519.3 647.5h0M521.6 644.9h0M515.2 635.6h0M523.5 651.5h0M515.2 648.7h0M520.2 649.5h0M517.4 646.3h0M510.2 639.0h0M511.3 633.8h0M510.8 643.4h0M517.1 654.4h0M511.3 642.8h0M519.3 643.7h0M517.2 656.0h0M518.9 642.8h0M513.2 646.4h0M517.0 657.9h0" stroke="#F8766D" stroke-width="1.7" stroke-linecap="round" stroke-opacity="0.6"/>
<path d="M510.0 633.2h0M518.2 645.4h0M515.4 644.3h0M516.2 635.5h0" stroke="#F8766D" stroke-width="1.7" stroke-linecap="round" stroke-opacity="0.6"/>
<path d="M515.0 636.5 515.9 637.2 516.7 637.9 517.5 638.6 518.3 639.3 519.0 640.0 519.8 640.7 520.5 641.4 521.2 642.1 521.8 642.8 522.4 643.5 523.0 644.2 523.6 644.9 524.1 645.6 524.6 646.3 525.1 647.0 525.5 647.7 525.8 648.4 526.1 649.1 526.4 649.8 526.5 650.5 526.5 650.8 526.5 651.0 526.5 651.3 526.5 651.6 526.4 651.8 526.3 652.1 526.2 652.4 526.0 652.6 525.8 652.9 525.5 653.1 525.1 653.4 524.6 653.7 524.0 653.9 523.2 654.2 522.3 654.5 521.2 654.7 520.0 655.0 518.5 655.3 516.9 655.5 515.0 655.8 515.0 655.8 513.1 655.5 511.5 655.3 510.0 655.0 508.8 654.7 507.7 654.5 506.8 654.2 506.0 653.9 505.4 653.7 504.9 653.4 504.5 653.1 504.2 652.9 504.0 652.6 503.8 652.4 503.7 652.1 503.6 651.8 503.5 651.6 503.5 651.3 503.5 651.0 503.5 650.8 503.5 650.5 503.6 649.8 503.9 649.1 504.2 648.4 504.5 647.7 504.9 647.0 505.4 646.3 505.9 645.6 506.4 644.9 507.0 644.2 507.6 643.5 508.2 642.8 508.8 642.1 509.5 641.4 510.2 640.7 511.0 640.0 511.7 639.3 512.5 638.6 513.3 637.9 514.1 637.2 515.0 636.5Z" fill="none" stroke="#F8766D" stroke-width="1.1"/>
<line x1="508.1" y1="647.6" x2="521.9" y2="647.6" stroke="#000" stroke-width="1.3"/>
<text x="508.17" y="597.00" font-size="8.5" stroke="#000" stroke-width="0.25" textLength="13.68" lengthAdjust="spacingAndGlyphs">****</text>
<path d="M551.7 620.8 552.1 629.0 552.1 630.0 552.5 631.0 553.1 632.0 553.6 633.0 554.2 634.0 554.7 635.0 555.2 636.0 555.8 637.0 556.3 638.0 556.8 639.0 557.3 640.0 557.7 641.0 558.2 642.0 558.7 643.0 559.1 644.0 559.5 645.0 559.9 646.0 560.3 647.0 560.6 648.0 560.9 649.0 560.9 649.4 560.9 649.7 560.9 650.0 560.9 650.4 560.8 650.8 560.8 651.1 560.7 651.5 560.5 651.8 560.3 652.1 560.1 652.5 559.7 652.9 559.3 653.2 558.8 653.5 558.2 653.9 557.4 654.2 556.5 654.6 555.5 655.0 554.3 655.3 553.0 655.6 551.4 656.0 551.4 656.0 549.8 655.6 548.5 655.3 547.3 655.0 546.3 654.6 545.4 654.2 544.6 653.9 544.0 653.5 543.5 653.2 543.1 652.9 542.7 652.5 542.5 652.1 542.3 651.8 542.1 651.5 542.0 651.1 542.0 650.8 541.9 650.4 541.9 650.0 541.9 649.7 541.9 649.4 541.9 649.0 542.2 648.0 542.5 647.0 542.9 646.0 543.3 645.0 543.7 644.0 544.1 643.0 544.6 642.0 545.1 641.0 545.5 640.0 546.0 639.0 546.5 638.0 547.0 637.0 547.6 636.0 548.1 635.0 548.6 634.0 549.2 633.0 549.7 632.0 550.3 631.0 550.7 630.0 550.7 629.0 551.1 620.8Z" fill="#A3A53A" fill-opacity="0.45"/>
<path d="M549.5 643.7h0M552.3 639.0h0M552.0 651.1h0M552.3 647.3h0M554.8 649.0h0M552.8 629.7h0M544.7 645.3h0M555.9 649.2h0M552.7 642.8h0M552.2 632.2h0M556.6 648.4h0M557.5 645.0h0M544.6 643.8h0M550.4 634.8h0M548.7 639.4h0M552.3 634.9h0M558.1 652.4h0M551.4 642.5h0M552.9 645.9h0M550.2 649.3h0M550.8 630.6h0M551.9 629.8h0M551.9 655.0h0M552.6 648.7h0M549.5 655.2h0M548.7 646.7h0M547.3 644.7h0M548.6 650.2h0M555.3 640.5h0M550.5 630.5h0M553.6 653.5h0M547.9 638.7h0M557.0 648.4h0M552.7 657.2h0M544.3 649.7h0M550.3 650.3h0M544.1 646.0h0M551.5 630.1h0M547.6 648.0h0M548.2 655.0h0M558.4 652.1h0M553.3 634.8h0M550.3 647.5h0M552.1 644.3h0M554.9 653.5h0M550.8 645.0h0M551.8 637.9h0M553.6 651.8h0M550.6 647.2h0M552.5 655.9h0M553.9 645.8h0M547.3 650.6h0M547.9 647.7h0M548.1 649.9h0M553.0 654.8h0M552.5 646.0h0M547.7 647.0h0M551.3 631.1h0M551.1 641.2h0M548.6 639.0h0" stroke="#A3A53A" stroke-width="1.7" stroke-linecap="round" stroke-opacity="0.6"/>
<path d="M551.0 655.6h0M545.2 649.6h0M552.5 634.7h0M555.6 644.2h0M551.4 630.8h0M546.9 647.2h0M546.2 649.1h0M549.2 635.6h0M551.0 632.6h0M545.8 650.2h0M549.5 640.9h0M555.1 639.3h0M545.0 651.2h0M558.2 648.2h0M551.1 629.9h0M550.8 631.3h0M551.1 636.2h0M553.6 638.8h0M545.9 643.1h0M550.8 646.4h0M555.6 649.5h0M550.2 640.0h0M559.4 649.2h0M553.1 646.4h0M550.6 642.1h0M551.4 641.7h0M549.4 641.0h0M550.2 631.4h0M548.9 651.9h0M549.3 654.8h0M556.5 642.8h0M553.9 644.4h0M549.5 650.1h0M546.8 638.7h0M552.6 651.8h0M559.6 650.2h0M552.9 652.0h0M551.9 635.7h0M545.5 645.2h0M550.9 630.6h0M556.3 642.9h0M552.7 656.6h0M555.7 641.8h0M549.6 643.1h0M544.1 646.9h0M544.0 648.4h0M555.4 647.0h0M552.1 633.4h0M549.1 645.6h0M548.3 650.2h0M550.6 638.4h0M555.5 642.8h0M550.4 638.9h0M550.8 650.2h0M547.0 642.2h0M551.8 642.5h0M559.9 650.2h0M551.4 646.1h0M550.8 649.8h0M553.5 640.2h0" stroke="#A3A53A" stroke-width="1.7" stroke-linecap="round" stroke-opacity="0.6"/>
<path d="M546.7 651.1h0M544.2 651.7h0M550.3 638.4h0M551.1 652.8h0M548.2 642.3h0M552.3 644.9h0M557.7 647.2h0M552.9 636.2h0M552.3 654.7h0M556.6 649.0h0M548.5 652.4h0M556.3 644.6h0M551.0 637.4h0M550.6 654.9h0M550.3 644.2h0M555.3 645.1h0M551.1 635.6h0M557.8 644.1h0M548.0 651.6h0M557.3 641.7h0M552.0 629.9h0M550.8 630.4h0M554.3 648.0h0M546.8 647.8h0M556.2 643.6h0M551.8 640.8h0M557.0 646.5h0M556.3 650.6h0M554.3 642.2h0M544.8 652.6h0M550.8 649.3h0M553.3 643.2h0M558.3 650.7h0M558.8 650.5h0M551.6 651.8h0M558.4 648.7h0M544.5 647.0h0M553.9 643.5h0M550.2 630.8h0M554.5 651.4h0M552.2 630.5h0M549.5 647.4h0M544.6 648.0h0M552.8 636.8h0M553.4 648.6h0M547.1 644.3h0M554.6 636.4h0M550.4 641.1h0M543.9 645.7h0M547.7 641.8h0M555.5 627.9h0M549.4 630.5h0M554.1 634.0h0M552.7 656.1h0M552.4 647.4h0M553.0 625.1h0M555.0 659.3h0M547.9 657.8h0M556.1 650.4h0M549.4 633.0h0" stroke="#A3A53A" stroke-width="1.7" stroke-linecap="round" stroke-opacity="0.6"/>
<path d="M548.9 660.2h0M553.1 629.7h0M552.6 636.0h0M548.8 633.4h0M551.8 624.4h0M552.2 625.4h0M550.1 622.5h0M549.3 621.4h0M552.5 623.5h0M548.9 621.1h0M553.2 625.9h0M550.0 627.3h0M553.4 621.2h0M549.8 626.3h0" stroke="#A3A53A" stroke-width="1.7" stroke-linecap="round" stroke-opacity="0.6"/>
<path d="M551.7 620.8 552.1 629.0 552.1 630.0 552.5 631.0 553.1 632.0 553.6 633.0 554.2 634.0 554.7 635.0 555.2 636.0 555.8 637.0 556.3 638.0 556.8 639.0 557.3 640.0 557.7 641.0 558.2 642.0 558.7 643.0 559.1 644.0 559.5 645.0 559.9 646.0 560.3 647.0 560.6 648.0 560.9 649.0 560.9 649.4 560.9 649.7 560.9 650.0 560.9 650.4 560.8 650.8 560.8 651.1 560.7 651.5 560.5 651.8 560.3 652.1 560.1 652.5 559.7 652.9 559.3 653.2 558.8 653.5 558.2 653.9 557.4 654.2 556.5 654.6 555.5 655.0 554.3 655.3 553.0 655.6 551.4 656.0 551.4 656.0 549.8 655.6 548.5 655.3 547.3 655.0 546.3 654.6 545.4 654.2 544.6 653.9 544.0 653.5 543.5 653.2 543.1 652.9 542.7 652.5 542.5 652.1 542.3 651.8 542.1 651.5 542.0 651.1 542.0 650.8 541.9 650.4 541.9 650.0 541.9 649.7 541.9 649.4 541.9 649.0 542.2 648.0 542.5 647.0 542.9 646.0 543.3 645.0 543.7 644.0 544.1 643.0 544.6 642.0 545.1 641.0 545.5 640.0 546.0 639.0 546.5 638.0 547.0 637.0 547.6 636.0 548.1 635.0 548.6 634.0 549.2 633.0 549.7 632.0 550.3 631.0 550.7 630.0 550.7 629.0 551.1 620.8Z" fill="none" stroke="#A3A53A" stroke-width="1.1"/>
<line x1="545.7" y1="643.0" x2="557.1" y2="643.0" stroke="#000" stroke-width="1.3"/>
<text x="544.57" y="597.00" font-size="8.5" stroke="#000" stroke-width="0.25" textLength="13.68" lengthAdjust="spacingAndGlyphs">****</text>
<path d="M588.5 629.0 588.9 638.5 588.9 639.1 589.4 639.7 590.0 640.3 590.5 640.9 591.1 641.5 591.7 642.1 592.2 642.7 592.8 643.3 593.3 643.9 593.8 644.5 594.4 645.1 594.9 645.7 595.4 646.3 595.8 646.9 596.3 647.5 596.8 648.1 597.2 648.7 597.6 649.3 597.9 649.9 598.2 650.5 598.2 650.8 598.2 651.0 598.2 651.3 598.2 651.6 598.1 651.9 598.1 652.1 597.9 652.4 597.8 652.7 597.6 653.0 597.3 653.2 597.0 653.5 596.5 653.8 596.0 654.1 595.3 654.4 594.5 654.6 593.6 654.9 592.5 655.2 591.3 655.5 589.8 655.7 588.2 656.0 588.2 656.0 586.6 655.7 585.1 655.5 583.9 655.2 582.8 654.9 581.9 654.6 581.1 654.4 580.4 654.1 579.9 653.8 579.4 653.5 579.1 653.2 578.8 653.0 578.6 652.7 578.5 652.4 578.3 652.1 578.3 651.9 578.2 651.6 578.2 651.3 578.2 651.0 578.2 650.8 578.2 650.5 578.5 649.9 578.8 649.3 579.2 648.7 579.6 648.1 580.1 647.5 580.6 646.9 581.0 646.3 581.5 645.7 582.0 645.1 582.6 644.5 583.1 643.9 583.6 643.3 584.2 642.7 584.7 642.1 585.3 641.5 585.9 640.9 586.4 640.3 587.0 639.7 587.5 639.1 587.5 638.5 587.9 629.0Z" fill="#3DBB85" fill-opacity="0.45"/>
<path d="M584.0 652.0h0M585.6 648.5h0M593.0 647.2h0M590.5 649.7h0M593.9 654.1h0M579.8 650.7h0M594.8 647.0h0M580.8 648.5h0M589.2 650.7h0M589.2 651.4h0M586.7 645.7h0M587.6 642.8h0M582.2 648.9h0M588.7 640.4h0M593.1 650.4h0M581.7 648.3h0M584.8 649.0h0M584.3 654.1h0M590.7 652.5h0M589.4 645.9h0M587.2 641.0h0M579.9 651.1h0M595.1 649.5h0M589.4 655.6h0M585.0 652.7h0M584.9 646.9h0M586.4 640.9h0M587.2 640.6h0M586.6 646.5h0M593.5 648.5h0M587.8 647.0h0M587.3 652.4h0M596.6 651.3h0M585.0 653.9h0M595.4 652.9h0M584.4 644.9h0M591.1 651.4h0M593.0 644.4h0M595.7 648.3h0M591.8 648.8h0M590.6 642.9h0M583.9 648.0h0M590.6 647.8h0M592.2 653.7h0M591.6 654.3h0M583.6 647.1h0M587.3 654.1h0M589.3 655.4h0M589.7 652.2h0M588.1 644.3h0M581.2 650.6h0M592.4 647.1h0M583.2 644.6h0M587.5 644.7h0M588.5 645.7h0M587.4 645.5h0M592.4 654.4h0M587.1 651.8h0M593.3 649.4h0M586.8 644.4h0" stroke="#3DBB85" stroke-width="1.7" stroke-linecap="round" stroke-opacity="0.6"/>
<path d="M587.9 642.9h0M590.4 646.2h0M590.3 647.0h0M589.7 649.7h0M587.0 647.9h0M589.2 642.6h0M585.4 646.3h0M587.0 653.9h0M589.0 642.2h0M586.5 647.5h0M588.3 650.0h0M585.3 653.9h0M594.2 652.5h0M582.7 645.3h0M588.5 643.3h0M587.7 653.4h0M589.2 645.0h0M595.7 652.2h0M583.0 649.4h0M588.2 649.4h0M584.2 644.5h0M584.8 653.5h0M589.3 653.4h0M589.4 637.4h0M587.2 656.2h0M580.0 651.0h0M582.9 653.9h0M592.6 650.1h0M594.9 649.8h0M592.5 643.8h0M581.2 650.5h0M587.3 639.9h0M587.4 642.5h0M586.7 642.6h0M591.5 653.1h0M583.6 645.7h0M587.1 641.7h0M586.7 640.9h0M587.7 656.9h0M580.6 652.8h0M584.5 643.3h0M594.5 649.2h0M586.0 653.1h0M586.3 652.3h0M584.7 649.0h0M590.1 646.5h0M583.9 647.3h0M582.1 646.6h0M594.1 647.2h0M584.3 649.5h0M588.7 648.4h0M588.5 643.1h0M583.6 645.5h0M586.5 644.8h0M580.1 651.3h0M589.5 648.6h0M582.2 653.0h0M585.3 652.0h0M589.4 642.7h0M597.1 651.2h0" stroke="#3DBB85" stroke-width="1.7" stroke-linecap="round" stroke-opacity="0.6"/>
<path d="M590.5 645.3h0M588.5 654.9h0M581.4 651.0h0M586.9 645.9h0M584.6 644.0h0M590.2 647.0h0M588.5 648.8h0M592.3 649.0h0M585.2 651.5h0M585.9 642.1h0M587.1 646.9h0M581.0 651.0h0M590.7 644.5h0M584.3 653.1h0M589.1 649.4h0M588.2 645.3h0M589.8 640.6h0M592.7 645.1h0M586.9 653.8h0M586.3 643.6h0M583.0 654.6h0M585.5 645.4h0M594.8 646.9h0M594.6 648.0h0M579.3 650.5h0M585.9 646.9h0M585.7 644.0h0M592.2 644.6h0M587.3 649.5h0M589.8 645.9h0M581.8 646.8h0M590.8 643.5h0M591.7 650.9h0M590.0 647.9h0M588.6 639.1h0M590.2 652.9h0M591.4 649.0h0M586.6 652.1h0M589.1 642.3h0M596.1 650.4h0M588.4 639.3h0M581.9 654.1h0M590.8 650.8h0M588.9 652.7h0M593.4 650.8h0M583.2 644.6h0M582.1 651.2h0M585.5 642.5h0M593.9 653.8h0M591.8 648.5h0M584.4 641.5h0M585.9 650.4h0M590.4 634.9h0M589.8 633.6h0M586.1 638.6h0M590.6 643.4h0M584.0 651.2h0M588.6 642.2h0M587.6 659.9h0M591.4 655.8h0" stroke="#3DBB85" stroke-width="1.7" stroke-linecap="round" stroke-opacity="0.6"/>
<path d="M585.7 654.3h0M591.1 637.5h0M588.1 639.6h0M589.3 645.1h0M590.4 631.1h0M586.1 636.3h0M586.8 634.3h0M587.0 637.2h0M588.9 636.8h0M587.5 630.9h0M589.0 630.8h0M586.0 638.4h0M589.9 629.9h0M587.8 629.8h0" stroke="#3DBB85" stroke-width="1.7" stroke-linecap="round" stroke-opacity="0.6"/>
<path d="M588.5 629.0 588.9 638.5 588.9 639.1 589.4 639.7 590.0 640.3 590.5 640.9 591.1 641.5 591.7 642.1 592.2 642.7 592.8 643.3 593.3 643.9 593.8 644.5 594.4 645.1 594.9 645.7 595.4 646.3 595.8 646.9 596.3 647.5 596.8 648.1 597.2 648.7 597.6 649.3 597.9 649.9 598.2 650.5 598.2 650.8 598.2 651.0 598.2 651.3 598.2 651.6 598.1 651.9 598.1 652.1 597.9 652.4 597.8 652.7 597.6 653.0 597.3 653.2 597.0 653.5 596.5 653.8 596.0 654.1 595.3 654.4 594.5 654.6 593.6 654.9 592.5 655.2 591.3 655.5 589.8 655.7 588.2 656.0 588.2 656.0 586.6 655.7 585.1 655.5 583.9 655.2 582.8 654.9 581.9 654.6 581.1 654.4 580.4 654.1 579.9 653.8 579.4 653.5 579.1 653.2 578.8 653.0 578.6 652.7 578.5 652.4 578.3 652.1 578.3 651.9 578.2 651.6 578.2 651.3 578.2 651.0 578.2 650.8 578.2 650.5 578.5 649.9 578.8 649.3 579.2 648.7 579.6 648.1 580.1 647.5 580.6 646.9 581.0 646.3 581.5 645.7 582.0 645.1 582.6 644.5 583.1 643.9 583.6 643.3 584.2 642.7 584.7 642.1 585.3 641.5 585.9 640.9 586.4 640.3 587.0 639.7 587.5 639.1 587.5 638.5 587.9 629.0Z" fill="none" stroke="#3DBB85" stroke-width="1.1"/>
<line x1="582.2" y1="646.6" x2="594.2" y2="646.6" stroke="#000" stroke-width="1.3"/>
<text x="581.37" y="597.00" font-size="8.5" stroke="#000" stroke-width="0.25" textLength="13.68" lengthAdjust="spacingAndGlyphs">****</text>
<path d="M626.0 644.0 627.7 644.4 629.3 644.7 630.8 645.0 632.3 645.4 633.6 645.8 634.9 646.1 636.0 646.5 637.1 646.8 638.1 647.1 639.0 647.5 639.9 647.9 640.6 648.2 641.3 648.5 641.8 648.9 642.3 649.2 642.7 649.6 643.0 650.0 643.2 650.3 643.4 650.6 643.4 651.0 643.4 651.2 643.3 651.5 643.2 651.8 643.1 652.0 642.9 652.2 642.5 652.5 642.1 652.8 641.6 653.0 641.0 653.2 640.3 653.5 639.5 653.8 638.5 654.0 637.5 654.2 636.3 654.5 634.9 654.8 633.4 655.0 631.8 655.2 630.0 655.5 628.1 655.8 626.0 656.0 626.0 656.0 623.9 655.8 622.0 655.5 620.2 655.2 618.6 655.0 617.1 654.8 615.7 654.5 614.5 654.2 613.5 654.0 612.5 653.8 611.7 653.5 611.0 653.2 610.4 653.0 609.9 652.8 609.5 652.5 609.1 652.2 608.9 652.0 608.8 651.8 608.7 651.5 608.6 651.2 608.6 651.0 608.6 650.6 608.8 650.3 609.0 650.0 609.3 649.6 609.7 649.2 610.2 648.9 610.7 648.5 611.4 648.2 612.1 647.9 613.0 647.5 613.9 647.1 614.9 646.8 616.0 646.5 617.1 646.1 618.4 645.8 619.7 645.4 621.2 645.0 622.7 644.7 624.3 644.4 626.0 644.0Z" fill="#29AEE6" fill-opacity="0.45"/>
<path d="M626.8 645.0h0M638.5 653.2h0M624.2 654.7h0M626.5 644.2h0M614.3 650.4h0M617.6 647.9h0M624.1 655.3h0M626.2 656.4h0M634.3 652.4h0M634.4 647.7h0M621.4 655.2h0M619.4 648.7h0M634.9 651.3h0M625.6 654.2h0M626.4 657.0h0M624.3 652.4h0M628.7 651.5h0M626.4 653.3h0M619.7 648.9h0M619.3 649.2h0M641.2 650.9h0M625.3 657.1h0M628.1 649.7h0M613.7 649.0h0M634.6 647.5h0M612.1 650.1h0M617.9 651.3h0M630.1 654.6h0M625.4 643.9h0M623.4 645.6h0M634.9 653.3h0M625.4 654.4h0M628.3 651.1h0M638.0 648.2h0M635.2 647.0h0M632.6 647.5h0M612.0 650.3h0M627.9 653.1h0M633.5 646.0h0M628.9 654.0h0M630.6 645.5h0M627.8 644.5h0M634.2 653.0h0M628.2 654.9h0M624.0 649.4h0M626.4 649.6h0M630.3 652.1h0M634.1 650.4h0M627.2 643.8h0M621.1 648.0h0M625.8 652.5h0M614.1 649.2h0M625.1 652.3h0M623.4 648.7h0M640.7 651.1h0M620.5 651.6h0M622.4 646.2h0M619.3 647.1h0M622.5 652.7h0M616.5 648.8h0" stroke="#29AEE6" stroke-width="1.7" stroke-linecap="round" stroke-opacity="0.6"/>
<path d="M637.7 652.6h0M618.7 652.2h0M614.1 650.1h0M615.9 648.4h0M631.5 650.5h0M634.0 650.7h0M632.4 654.0h0M630.2 649.8h0M632.1 651.3h0M635.6 652.9h0M635.0 650.1h0M636.7 650.1h0M636.8 650.0h0M633.8 646.3h0M629.4 644.8h0M614.3 652.7h0M619.7 648.5h0M617.8 649.9h0M626.4 646.9h0M621.3 652.5h0M622.4 645.0h0M627.4 643.4h0M617.9 652.2h0M617.3 654.6h0M623.2 655.6h0M616.2 647.3h0M618.0 652.9h0M622.3 649.6h0M635.9 651.2h0M614.5 651.2h0M627.5 645.0h0M626.0 650.0h0M622.0 646.1h0M632.7 654.9h0M623.8 648.9h0M631.3 654.5h0M631.9 648.8h0M616.0 648.5h0M624.1 654.9h0M627.1 656.0h0M639.0 650.8h0M626.1 649.7h0M616.2 646.8h0M615.0 649.8h0M625.6 649.3h0M633.4 649.1h0M625.4 653.1h0M641.2 650.8h0M624.6 650.5h0M612.1 652.4h0M618.1 648.2h0M611.1 650.6h0M633.6 652.9h0M638.8 650.2h0M622.2 650.4h0M624.7 645.8h0M632.3 649.1h0M616.2 653.6h0M626.9 650.6h0M624.5 649.5h0" stroke="#29AEE6" stroke-width="1.7" stroke-linecap="round" stroke-opacity="0.6"/>
<path d="M625.7 656.1h0M627.9 649.7h0M628.0 654.6h0M625.6 656.5h0M635.0 653.1h0M633.0 654.9h0M618.9 650.8h0M630.6 650.8h0M628.9 645.8h0M619.0 652.5h0M631.4 648.6h0M627.2 642.8h0M626.5 652.5h0M620.5 650.9h0M619.2 653.4h0M610.9 652.1h0M627.3 644.3h0M624.7 642.8h0M627.0 652.7h0M632.7 646.5h0M625.3 646.0h0M635.6 651.9h0M626.0 652.1h0M621.7 646.2h0M626.3 651.0h0M639.2 648.5h0M638.4 652.8h0M636.7 647.6h0M626.2 655.7h0M630.5 655.3h0M623.1 655.2h0M615.5 647.5h0M619.2 654.5h0M611.0 650.5h0M636.4 653.0h0M622.6 654.9h0M630.5 647.3h0M614.2 650.8h0M622.5 651.4h0M632.7 652.3h0M617.0 649.3h0M627.3 644.3h0M626.3 642.7h0M639.6 652.0h0M641.0 651.8h0M626.4 656.1h0M612.9 650.5h0M613.6 649.0h0M622.3 651.0h0M631.2 655.0h0M619.7 650.8h0M631.1 650.6h0M621.7 658.2h0M629.7 639.4h0M618.1 645.6h0M625.5 645.3h0M630.3 643.0h0M626.6 653.9h0M623.7 648.0h0M622.8 649.8h0" stroke="#29AEE6" stroke-width="1.7" stroke-linecap="round" stroke-opacity="0.6"/>
<path d="M621.8 654.8h0M626.2 648.9h0M619.0 648.7h0M622.1 656.6h0" stroke="#29AEE6" stroke-width="1.7" stroke-linecap="round" stroke-opacity="0.6"/>
<path d="M626.0 644.0 627.7 644.4 629.3 644.7 630.8 645.0 632.3 645.4 633.6 645.8 634.9 646.1 636.0 646.5 637.1 646.8 638.1 647.1 639.0 647.5 639.9 647.9 640.6 648.2 641.3 648.5 641.8 648.9 642.3 649.2 642.7 649.6 643.0 650.0 643.2 650.3 643.4 650.6 643.4 651.0 643.4 651.2 643.3 651.5 643.2 651.8 643.1 652.0 642.9 652.2 642.5 652.5 642.1 652.8 641.6 653.0 641.0 653.2 640.3 653.5 639.5 653.8 638.5 654.0 637.5 654.2 636.3 654.5 634.9 654.8 633.4 655.0 631.8 655.2 630.0 655.5 628.1 655.8 626.0 656.0 626.0 656.0 623.9 655.8 622.0 655.5 620.2 655.2 618.6 655.0 617.1 654.8 615.7 654.5 614.5 654.2 613.5 654.0 612.5 653.8 611.7 653.5 611.0 653.2 610.4 653.0 609.9 652.8 609.5 652.5 609.1 652.2 608.9 652.0 608.8 651.8 608.7 651.5 608.6 651.2 608.6 651.0 608.6 650.6 608.8 650.3 609.0 650.0 609.3 649.6 609.7 649.2 610.2 648.9 610.7 648.5 611.4 648.2 612.1 647.9 613.0 647.5 613.9 647.1 614.9 646.8 616.0 646.5 617.1 646.1 618.4 645.8 619.7 645.4 621.2 645.0 622.7 644.7 624.3 644.4 626.0 644.0Z" fill="none" stroke="#29AEE6" stroke-width="1.1"/>
<line x1="616.0" y1="651.0" x2="636.0" y2="651.0" stroke="#000" stroke-width="1.3"/>
<text x="619.17" y="597.00" font-size="8.5" stroke="#000" stroke-width="0.25" textLength="13.68" lengthAdjust="spacingAndGlyphs">****</text>
<path d="M663.5 632.7 663.9 641.5 664.0 642.0 664.8 642.5 665.6 642.9 666.4 643.4 667.2 643.9 667.9 644.4 668.7 644.8 669.4 645.3 670.1 645.8 670.8 646.2 671.5 646.7 672.1 647.2 672.7 647.7 673.3 648.1 673.9 648.6 674.4 649.1 674.9 649.6 675.4 650.0 675.7 650.5 676.0 651.0 676.0 651.2 676.0 651.5 676.0 651.8 675.9 652.0 675.8 652.2 675.7 652.5 675.5 652.8 675.2 653.0 674.8 653.2 674.4 653.5 673.9 653.8 673.2 654.0 672.5 654.2 671.6 654.5 670.6 654.8 669.4 655.0 668.1 655.2 666.7 655.5 665.0 655.8 663.2 656.0 663.2 656.0 661.4 655.8 659.7 655.5 658.3 655.2 657.0 655.0 655.8 654.8 654.8 654.5 653.9 654.2 653.2 654.0 652.5 653.8 652.0 653.5 651.6 653.2 651.2 653.0 650.9 652.8 650.7 652.5 650.6 652.2 650.5 652.0 650.4 651.8 650.4 651.5 650.4 651.2 650.4 651.0 650.7 650.5 651.0 650.0 651.5 649.6 652.0 649.1 652.5 648.6 653.1 648.1 653.7 647.7 654.3 647.2 654.9 646.7 655.6 646.2 656.3 645.8 657.0 645.3 657.7 644.8 658.5 644.4 659.2 643.9 660.0 643.4 660.8 642.9 661.6 642.5 662.4 642.0 662.5 641.5 662.9 632.7Z" fill="#A36FC4" fill-opacity="0.45"/>
<path d="M668.0 647.2h0M665.6 653.7h0M654.4 653.6h0M665.9 643.7h0M658.2 651.9h0M664.0 656.0h0M661.0 653.7h0M653.6 653.0h0M672.2 648.7h0M662.0 656.9h0M659.9 647.1h0M662.9 653.8h0M664.1 656.3h0M662.5 645.1h0M659.0 645.9h0M664.3 647.2h0M664.2 656.6h0M661.3 648.2h0M658.7 648.9h0M660.9 651.7h0M658.7 648.7h0M669.9 646.4h0M664.6 641.7h0M665.5 651.7h0M668.5 651.6h0M656.7 646.7h0M663.4 656.0h0M671.9 652.5h0M656.7 646.6h0M666.6 654.0h0M654.9 649.5h0M652.6 652.8h0M673.0 652.7h0M659.9 648.4h0M654.5 653.0h0M668.5 646.7h0M665.4 647.3h0M667.6 650.7h0M660.6 646.3h0M671.6 648.4h0M665.0 645.0h0M673.8 652.7h0M659.3 645.0h0M670.1 650.5h0M668.0 651.2h0M670.9 649.2h0M666.3 649.8h0M663.6 642.4h0M660.3 644.5h0M660.7 655.2h0M669.4 654.4h0M664.5 645.0h0M662.0 642.2h0M651.8 651.6h0M672.6 651.5h0M669.8 646.6h0M652.3 651.3h0M659.7 647.0h0M662.4 646.3h0M664.5 644.7h0" stroke="#A36FC4" stroke-width="1.7" stroke-linecap="round" stroke-opacity="0.6"/>
<path d="M660.8 652.2h0M664.1 643.8h0M659.3 648.0h0M667.9 652.1h0M664.9 643.8h0M664.8 654.7h0M658.9 647.6h0M662.2 648.6h0M672.5 650.4h0M663.9 644.5h0M665.2 651.1h0M672.7 651.5h0M653.0 649.4h0M661.7 650.1h0M665.2 643.5h0M653.4 648.8h0M663.7 650.8h0M665.9 647.3h0M670.4 647.8h0M662.2 646.5h0M661.0 650.0h0M666.0 650.6h0M660.1 653.0h0M660.5 652.7h0M653.8 649.1h0M667.8 648.9h0M663.5 653.1h0M664.5 654.7h0M662.6 649.7h0M659.3 651.2h0M667.3 646.2h0M666.7 645.1h0M672.2 651.5h0M657.7 652.2h0M664.2 651.1h0M668.2 651.5h0M663.8 649.4h0M659.7 647.2h0M663.0 642.4h0M670.7 652.2h0M659.4 651.4h0M664.7 643.1h0M664.4 655.4h0M653.3 653.2h0M665.2 653.6h0M667.3 648.5h0M664.5 642.0h0M664.1 641.9h0M666.0 643.5h0M663.2 655.4h0M661.2 652.5h0M665.9 646.2h0M666.8 649.6h0M672.2 649.7h0M658.2 648.6h0M667.7 652.9h0M653.1 650.1h0M659.1 646.5h0M664.5 655.9h0M661.7 646.1h0" stroke="#A36FC4" stroke-width="1.7" stroke-linecap="round" stroke-opacity="0.6"/>
<path d="M657.4 647.1h0M658.2 654.0h0M662.5 652.4h0M670.5 649.8h0M656.8 648.9h0M670.2 648.0h0M659.5 645.7h0M657.8 646.3h0M655.3 651.9h0M658.7 648.3h0M658.6 648.4h0M662.6 656.1h0M662.7 655.5h0M667.7 652.7h0M662.4 640.9h0M665.9 643.7h0M670.5 649.9h0M668.6 647.0h0M663.2 643.9h0M669.2 651.7h0M659.7 648.4h0M673.4 652.3h0M654.8 647.8h0M663.9 646.0h0M661.4 648.1h0M660.3 645.5h0M662.0 650.9h0M656.1 646.6h0M664.9 648.9h0M666.6 647.1h0M654.8 651.3h0M660.1 648.9h0M674.0 650.7h0M655.1 647.9h0M672.3 650.3h0M659.9 643.7h0M670.5 648.8h0M659.3 651.6h0M661.8 654.7h0M662.7 642.3h0M660.9 643.2h0M662.1 647.8h0M672.3 649.0h0M668.3 649.9h0M664.4 641.4h0M666.8 647.6h0M663.7 644.6h0M666.9 645.3h0M672.3 648.8h0M657.9 653.2h0M666.6 643.0h0M659.9 644.2h0M667.6 637.1h0M660.0 653.2h0M659.5 660.8h0M661.5 642.9h0M657.0 640.7h0M668.1 642.1h0M662.7 641.1h0M657.6 656.3h0" stroke="#A36FC4" stroke-width="1.7" stroke-linecap="round" stroke-opacity="0.6"/>
<path d="M667.0 650.0h0M667.6 638.9h0M661.5 652.5h0M664.8 659.1h0M665.2 640.0h0M662.1 634.1h0M660.9 633.8h0M661.1 639.5h0M661.7 638.4h0M660.8 634.0h0M661.2 634.2h0M663.1 637.0h0M661.8 641.0h0M664.9 633.9h0" stroke="#A36FC4" stroke-width="1.7" stroke-linecap="round" stroke-opacity="0.6"/>
<path d="M663.5 632.7 663.9 641.5 664.0 642.0 664.8 642.5 665.6 642.9 666.4 643.4 667.2 643.9 667.9 644.4 668.7 644.8 669.4 645.3 670.1 645.8 670.8 646.2 671.5 646.7 672.1 647.2 672.7 647.7 673.3 648.1 673.9 648.6 674.4 649.1 674.9 649.6 675.4 650.0 675.7 650.5 676.0 651.0 676.0 651.2 676.0 651.5 676.0 651.8 675.9 652.0 675.8 652.2 675.7 652.5 675.5 652.8 675.2 653.0 674.8 653.2 674.4 653.5 673.9 653.8 673.2 654.0 672.5 654.2 671.6 654.5 670.6 654.8 669.4 655.0 668.1 655.2 666.7 655.5 665.0 655.8 663.2 656.0 663.2 656.0 661.4 655.8 659.7 655.5 658.3 655.2 657.0 655.0 655.8 654.8 654.8 654.5 653.9 654.2 653.2 654.0 652.5 653.8 652.0 653.5 651.6 653.2 651.2 653.0 650.9 652.8 650.7 652.5 650.6 652.2 650.5 652.0 650.4 651.8 650.4 651.5 650.4 651.2 650.4 651.0 650.7 650.5 651.0 650.0 651.5 649.6 652.0 649.1 652.5 648.6 653.1 648.1 653.7 647.7 654.3 647.2 654.9 646.7 655.6 646.2 656.3 645.8 657.0 645.3 657.7 644.8 658.5 644.4 659.2 643.9 660.0 643.4 660.8 642.9 661.6 642.5 662.4 642.0 662.5 641.5 662.9 632.7Z" fill="none" stroke="#A36FC4" stroke-width="1.1"/>
<line x1="655.5" y1="648.7" x2="670.9" y2="648.7" stroke="#000" stroke-width="1.3"/>
<text x="656.37" y="597.00" font-size="8.5" stroke="#000" stroke-width="0.25" textLength="13.68" lengthAdjust="spacingAndGlyphs">****</text>
<line x1="491.6" y1="647.7" x2="685" y2="647.7" stroke="#444" stroke-width="1" stroke-dasharray="3.2,2.8"/>
<line x1="491.6" y1="586.9" x2="491.6" y2="662.4" stroke="#222" stroke-width="1.1"/>
<line x1="489.4" y1="591.2" x2="491.6" y2="591.2" stroke="#333" stroke-width="0.9"/>
<text x="477.28" y="594.60" font-size="9.5" fill="#4D4D4D" stroke="#4D4D4D" stroke-width="0.25" textLength="12.79" lengthAdjust="spacingAndGlyphs">0.6</text>
<line x1="489.4" y1="616.2" x2="491.6" y2="616.2" stroke="#333" stroke-width="0.9"/>
<text x="477.28" y="619.60" font-size="9.5" fill="#4D4D4D" stroke="#4D4D4D" stroke-width="0.25" textLength="12.65" lengthAdjust="spacingAndGlyphs">0.4</text>
<line x1="489.4" y1="640.7" x2="491.6" y2="640.7" stroke="#333" stroke-width="0.9"/>
<text x="477.28" y="644.10" font-size="9.5" fill="#4D4D4D" stroke="#4D4D4D" stroke-width="0.25" textLength="12.84" lengthAdjust="spacingAndGlyphs">0.2</text>
<line x1="491.6" y1="662.4" x2="685.0" y2="662.4" stroke="#888" stroke-width="1.1"/>
<path d="M515.0 714.0 516.3 714.3 517.5 714.5 518.7 714.8 519.8 715.0 520.9 715.3 522.0 715.6 523.0 715.8 523.9 716.1 524.9 716.3 525.7 716.6 526.5 716.9 527.3 717.1 528.0 717.4 528.7 717.6 529.3 717.9 529.8 718.2 530.2 718.4 530.6 718.7 530.9 718.9 531.0 719.2 530.9 719.5 530.6 719.8 530.2 720.1 529.8 720.4 529.3 720.7 528.7 720.9 528.0 721.2 527.3 721.5 526.5 721.8 525.7 722.1 524.9 722.4 523.9 722.7 523.0 723.0 522.0 723.3 520.9 723.5 519.8 723.8 518.7 724.1 517.5 724.4 516.3 724.7 515.0 725.0 515.0 725.0 513.7 724.7 512.5 724.4 511.3 724.1 510.2 723.8 509.1 723.5 508.0 723.3 507.0 723.0 506.1 722.7 505.1 722.4 504.3 722.1 503.5 721.8 502.7 721.5 502.0 721.2 501.3 720.9 500.7 720.7 500.2 720.4 499.8 720.1 499.4 719.8 499.1 719.5 499.0 719.2 499.1 718.9 499.4 718.7 499.8 718.4 500.2 718.2 500.7 717.9 501.3 717.6 502.0 717.4 502.7 717.1 503.5 716.9 504.3 716.6 505.1 716.3 506.1 716.1 507.0 715.8 508.0 715.6 509.1 715.3 510.2 715.0 511.3 714.8 512.5 714.5 513.7 714.3 515.0 714.0Z" fill="#F8766D" fill-opacity="0.45"/>
<path d="M511.7 720.4h0M508.0 721.2h0M506.9 717.6h0M512.7 720.0h0M524.6 718.5h0M510.7 723.5h0M515.8 715.1h0M506.0 717.9h0M521.7 720.3h0M522.5 718.0h0M520.2 715.9h0M516.9 720.2h0M516.6 721.2h0M507.4 718.3h0M517.9 720.1h0M511.4 722.4h0M506.0 719.3h0M521.3 719.5h0M507.4 717.4h0M511.9 722.4h0M517.5 718.1h0M520.9 722.5h0M524.5 720.5h0M513.3 715.1h0M512.3 722.1h0M527.2 717.7h0M509.4 718.2h0M514.9 714.3h0M523.9 716.5h0M514.9 723.4h0M507.4 719.1h0M511.9 724.2h0M513.8 713.2h0M508.8 717.2h0M510.4 722.7h0M518.3 720.8h0M503.8 721.3h0M514.8 723.9h0M517.4 715.1h0M511.2 720.7h0M513.8 721.4h0M513.8 719.6h0M521.4 722.0h0M525.9 718.2h0M518.4 722.5h0M513.4 721.1h0M522.9 720.0h0M513.7 721.5h0M515.1 713.5h0M510.7 717.9h0M514.0 718.2h0M523.7 719.5h0M512.7 721.5h0M512.4 723.4h0M520.3 720.5h0M521.1 718.7h0M516.7 723.9h0M504.1 718.8h0M517.4 721.2h0M502.0 719.6h0" stroke="#F8766D" stroke-width="1.7" stroke-linecap="round" stroke-opacity="0.6"/>
<path d="M513.8 713.9h0M517.6 714.6h0M526.1 718.8h0M524.6 718.7h0M514.1 713.9h0M516.4 721.5h0M504.8 717.7h0M515.8 723.1h0M515.7 719.7h0M509.1 722.5h0M511.0 717.5h0M506.2 719.5h0M504.6 717.8h0M504.4 721.6h0M510.6 715.4h0M509.6 722.8h0M517.2 718.4h0M513.7 721.0h0M503.5 719.2h0M517.0 714.5h0M522.1 719.5h0M517.0 715.9h0M515.9 721.7h0M517.3 724.4h0M511.0 716.0h0M504.7 718.9h0M508.3 719.4h0M511.2 715.4h0M514.3 714.0h0M518.4 718.7h0M516.8 714.6h0M519.4 722.1h0M503.6 719.0h0M511.8 716.4h0M528.0 720.5h0M522.5 716.9h0M517.8 723.7h0M519.3 717.6h0M521.4 721.9h0M524.0 722.2h0M513.6 721.9h0M506.1 717.3h0M523.3 718.4h0M520.6 715.7h0M507.9 722.1h0M517.6 722.3h0M514.6 717.2h0M511.1 720.0h0M502.7 719.3h0M521.8 718.0h0M525.5 721.0h0M516.6 718.9h0M525.9 718.0h0M517.9 721.7h0M519.2 717.5h0M514.7 723.2h0M514.2 714.6h0M502.5 718.0h0M512.2 715.9h0M526.9 721.0h0" stroke="#F8766D" stroke-width="1.7" stroke-linecap="round" stroke-opacity="0.6"/>
<path d="M515.1 725.1h0M515.8 723.8h0M517.5 717.1h0M526.7 718.6h0M502.7 717.9h0M516.6 715.4h0M514.2 720.0h0M519.0 722.5h0M510.0 721.2h0M520.8 720.7h0M511.5 714.9h0M519.4 719.0h0M510.1 717.1h0M516.9 717.2h0M510.8 723.7h0M509.5 719.0h0M502.4 719.1h0M519.3 721.6h0M502.4 719.9h0M512.7 715.3h0M513.9 714.5h0M526.8 720.2h0M512.9 714.7h0M521.9 718.8h0M513.9 716.0h0M520.4 715.4h0M515.0 719.0h0M510.6 716.1h0M506.2 719.7h0M506.7 716.3h0M516.2 716.0h0M509.0 718.4h0M503.6 718.3h0M521.3 717.5h0M523.9 719.7h0M524.1 716.6h0M513.9 725.0h0M524.8 717.9h0M516.3 716.9h0M504.7 721.1h0M526.1 719.3h0M525.6 720.2h0M514.6 722.6h0M518.4 715.4h0M517.1 723.8h0M519.5 722.0h0M508.8 718.6h0M516.4 716.1h0M523.4 721.6h0M522.2 720.4h0M509.8 716.7h0M513.4 718.5h0M516.7 715.4h0M510.0 719.8h0M518.9 728.1h0M507.8 722.4h0M522.6 721.5h0M522.6 711.3h0M515.0 711.3h0M521.2 712.6h0" stroke="#F8766D" stroke-width="1.7" stroke-linecap="round" stroke-opacity="0.6"/>
<path d="M521.2 717.2h0M508.3 718.3h0M509.2 720.5h0M512.0 716.2h0" stroke="#F8766D" stroke-width="1.7" stroke-linecap="round" stroke-opacity="0.6"/>
<path d="M515.0 714.0 516.3 714.3 517.5 714.5 518.7 714.8 519.8 715.0 520.9 715.3 522.0 715.6 523.0 715.8 523.9 716.1 524.9 716.3 525.7 716.6 526.5 716.9 527.3 717.1 528.0 717.4 528.7 717.6 529.3 717.9 529.8 718.2 530.2 718.4 530.6 718.7 530.9 718.9 531.0 719.2 530.9 719.5 530.6 719.8 530.2 720.1 529.8 720.4 529.3 720.7 528.7 720.9 528.0 721.2 527.3 721.5 526.5 721.8 525.7 722.1 524.9 722.4 523.9 722.7 523.0 723.0 522.0 723.3 520.9 723.5 519.8 723.8 518.7 724.1 517.5 724.4 516.3 724.7 515.0 725.0 515.0 725.0 513.7 724.7 512.5 724.4 511.3 724.1 510.2 723.8 509.1 723.5 508.0 723.3 507.0 723.0 506.1 722.7 505.1 722.4 504.3 722.1 503.5 721.8 502.7 721.5 502.0 721.2 501.3 720.9 500.7 720.7 500.2 720.4 499.8 720.1 499.4 719.8 499.1 719.5 499.0 719.2 499.1 718.9 499.4 718.7 499.8 718.4 500.2 718.2 500.7 717.9 501.3 717.6 502.0 717.4 502.7 717.1 503.5 716.9 504.3 716.6 505.1 716.3 506.1 716.1 507.0 715.8 508.0 715.6 509.1 715.3 510.2 715.0 511.3 714.8 512.5 714.5 513.7 714.3 515.0 714.0Z" fill="none" stroke="#F8766D" stroke-width="1.1"/>
<line x1="505.4" y1="719.2" x2="524.6" y2="719.2" stroke="#000" stroke-width="1.3"/>
<text x="510.11" y="671.30" font-size="9.5" stroke="#000" stroke-width="0.25" textLength="9.51" lengthAdjust="spacingAndGlyphs">ns</text>
<path d="M551.4 714.0 552.9 714.3 554.3 714.5 555.6 714.8 556.9 715.0 558.1 715.3 559.2 715.6 560.3 715.8 561.3 716.1 562.3 716.3 563.2 716.6 564.0 716.9 564.7 717.1 565.4 717.4 566.0 717.6 566.5 717.9 567.0 718.2 567.4 718.4 567.6 718.7 567.8 718.9 567.9 719.2 567.7 719.5 567.2 719.9 566.7 720.2 566.2 720.6 565.5 720.9 564.8 721.2 564.1 721.6 563.3 721.9 562.5 722.3 561.6 722.6 560.8 722.9 559.8 723.3 558.9 723.6 557.9 724.0 556.9 724.3 555.8 724.6 554.8 725.0 553.7 725.3 552.5 725.7 551.4 726.0 551.4 726.0 550.3 725.7 549.1 725.3 548.0 725.0 547.0 724.6 545.9 724.3 544.9 724.0 543.9 723.6 543.0 723.3 542.0 722.9 541.2 722.6 540.3 722.3 539.5 721.9 538.7 721.6 538.0 721.2 537.3 720.9 536.6 720.6 536.1 720.2 535.6 719.9 535.1 719.5 534.9 719.2 535.0 718.9 535.2 718.7 535.4 718.4 535.8 718.2 536.3 717.9 536.8 717.6 537.4 717.4 538.1 717.1 538.8 716.9 539.6 716.6 540.5 716.3 541.5 716.1 542.5 715.8 543.6 715.6 544.7 715.3 545.9 715.0 547.2 714.8 548.5 714.5 549.9 714.3 551.4 714.0Z" fill="#A3A53A" fill-opacity="0.45"/>
<path d="M548.4 716.0h0M548.4 722.6h0M552.8 725.9h0M551.9 713.9h0M545.5 722.1h0M544.9 716.9h0M543.9 722.5h0M555.0 720.4h0M551.9 713.5h0M549.9 721.5h0M557.3 718.9h0M550.2 718.5h0M552.3 727.1h0M551.7 719.3h0M551.0 712.8h0M544.3 716.6h0M562.3 719.1h0M548.8 724.3h0M543.8 715.8h0M561.7 719.5h0M552.2 725.6h0M552.0 726.5h0M544.5 718.8h0M564.3 719.9h0M542.3 718.1h0M551.9 726.2h0M553.3 721.9h0M548.9 725.2h0M562.8 719.3h0M548.5 720.2h0M548.6 723.7h0M555.7 722.8h0M557.0 722.4h0M547.7 715.7h0M564.3 718.2h0M553.7 723.6h0M550.8 714.5h0M555.7 717.7h0M549.1 724.0h0M544.9 719.7h0M551.6 713.6h0M554.7 714.7h0M557.3 718.2h0M557.2 720.6h0M537.4 718.9h0M553.2 717.4h0M545.8 721.0h0M553.0 722.0h0M560.7 721.5h0M565.1 719.3h0M550.8 714.2h0M552.8 714.9h0M551.1 714.5h0M552.5 713.6h0M558.1 720.6h0M541.5 719.0h0M555.0 717.4h0M552.5 722.9h0M548.5 718.3h0M559.0 722.7h0" stroke="#A3A53A" stroke-width="1.7" stroke-linecap="round" stroke-opacity="0.6"/>
<path d="M541.1 721.0h0M551.8 718.5h0M549.7 718.1h0M538.6 718.3h0M563.2 718.4h0M554.2 715.1h0M554.8 716.7h0M550.7 715.6h0M554.8 718.4h0M553.3 715.3h0M545.3 721.3h0M552.7 714.2h0M546.3 719.4h0M545.6 722.4h0M552.1 725.8h0M549.9 714.2h0M539.9 718.9h0M561.1 719.2h0M553.4 719.2h0M551.1 712.2h0M553.5 723.5h0M549.3 715.4h0M540.1 718.3h0M560.9 720.5h0M559.1 722.8h0M552.1 713.9h0M546.0 720.3h0M550.0 713.7h0M551.9 716.9h0M540.5 718.0h0M554.6 722.7h0M538.7 717.4h0M556.2 720.6h0M557.2 722.4h0M563.9 718.8h0M554.1 716.1h0M559.2 716.4h0M558.9 716.2h0M544.4 722.5h0M558.0 721.3h0M553.3 721.8h0M552.4 713.9h0M543.7 717.4h0M548.2 721.6h0M546.1 715.6h0M548.6 724.6h0M556.5 716.9h0M540.4 720.9h0M551.2 720.9h0M555.6 719.0h0M545.4 716.9h0M551.5 720.1h0M540.7 720.9h0M558.0 716.7h0M550.9 720.7h0M551.1 724.3h0M549.0 717.5h0M550.7 716.4h0M543.9 722.4h0M549.4 718.2h0" stroke="#A3A53A" stroke-width="1.7" stroke-linecap="round" stroke-opacity="0.6"/>
<path d="M543.7 717.6h0M544.4 720.9h0M555.6 715.0h0M560.4 721.6h0M550.7 714.4h0M559.0 720.1h0M552.3 714.1h0M564.8 720.1h0M537.3 719.6h0M559.0 718.4h0M552.3 719.0h0M551.9 720.1h0M547.8 715.3h0M553.2 723.5h0M540.1 718.6h0M544.8 723.1h0M554.7 716.6h0M545.1 718.1h0M545.8 717.8h0M552.3 726.2h0M551.2 727.5h0M551.0 714.7h0M553.4 718.7h0M560.8 720.7h0M538.3 719.3h0M560.8 720.5h0M552.0 716.1h0M544.1 721.9h0M550.5 719.3h0M540.9 718.2h0M552.2 716.9h0M543.8 716.1h0M552.0 726.4h0M559.3 716.9h0M558.2 722.9h0M551.5 724.4h0M551.3 717.1h0M554.4 718.7h0M557.2 718.3h0M543.0 720.5h0M542.0 717.1h0M552.3 714.9h0M549.9 725.4h0M554.0 719.5h0M563.0 717.5h0M555.1 715.1h0M562.7 721.3h0M562.6 719.0h0M550.5 716.2h0M549.3 723.4h0M552.4 718.7h0M557.3 722.9h0M549.9 719.7h0M543.7 715.7h0M544.1 727.8h0M543.8 721.6h0M548.3 724.7h0M548.0 714.3h0M557.3 717.6h0M546.6 728.1h0" stroke="#A3A53A" stroke-width="1.7" stroke-linecap="round" stroke-opacity="0.6"/>
<path d="M556.8 714.7h0M544.4 722.8h0M543.4 719.3h0M546.2 714.9h0" stroke="#A3A53A" stroke-width="1.7" stroke-linecap="round" stroke-opacity="0.6"/>
<path d="M551.4 714.0 552.9 714.3 554.3 714.5 555.6 714.8 556.9 715.0 558.1 715.3 559.2 715.6 560.3 715.8 561.3 716.1 562.3 716.3 563.2 716.6 564.0 716.9 564.7 717.1 565.4 717.4 566.0 717.6 566.5 717.9 567.0 718.2 567.4 718.4 567.6 718.7 567.8 718.9 567.9 719.2 567.7 719.5 567.2 719.9 566.7 720.2 566.2 720.6 565.5 720.9 564.8 721.2 564.1 721.6 563.3 721.9 562.5 722.3 561.6 722.6 560.8 722.9 559.8 723.3 558.9 723.6 557.9 724.0 556.9 724.3 555.8 724.6 554.8 725.0 553.7 725.3 552.5 725.7 551.4 726.0 551.4 726.0 550.3 725.7 549.1 725.3 548.0 725.0 547.0 724.6 545.9 724.3 544.9 724.0 543.9 723.6 543.0 723.3 542.0 722.9 541.2 722.6 540.3 722.3 539.5 721.9 538.7 721.6 538.0 721.2 537.3 720.9 536.6 720.6 536.1 720.2 535.6 719.9 535.1 719.5 534.9 719.2 535.0 718.9 535.2 718.7 535.4 718.4 535.8 718.2 536.3 717.9 536.8 717.6 537.4 717.4 538.1 717.1 538.8 716.9 539.6 716.6 540.5 716.3 541.5 716.1 542.5 715.8 543.6 715.6 544.7 715.3 545.9 715.0 547.2 714.8 548.5 714.5 549.9 714.3 551.4 714.0Z" fill="none" stroke="#A3A53A" stroke-width="1.1"/>
<line x1="541.5" y1="719.0" x2="561.3" y2="719.0" stroke="#000" stroke-width="1.3"/>
<text x="548.07" y="672.30" font-size="8.5" stroke="#000" stroke-width="0.25" textLength="6.64" lengthAdjust="spacingAndGlyphs">**</text>
<path d="M588.5 711.0 588.9 714.5 589.4 714.7 590.5 715.0 591.6 715.2 592.7 715.5 593.8 715.7 594.9 716.0 595.9 716.2 596.9 716.5 597.9 716.7 598.9 717.0 599.8 717.2 600.7 717.4 601.6 717.7 602.4 717.9 603.2 718.2 604.0 718.4 604.7 718.7 605.3 718.9 605.8 719.2 606.2 719.4 606.0 719.7 605.6 719.9 605.2 720.2 604.6 720.4 604.0 720.7 603.2 720.9 602.5 721.2 601.6 721.4 600.8 721.7 599.8 722.0 598.9 722.2 597.8 722.5 596.8 722.7 595.7 723.0 594.5 723.2 593.3 723.5 592.1 723.7 590.8 724.0 589.5 724.2 588.2 724.5 588.2 724.5 586.9 724.2 585.6 724.0 584.3 723.7 583.1 723.5 581.9 723.2 580.7 723.0 579.6 722.7 578.6 722.5 577.5 722.2 576.6 722.0 575.6 721.7 574.8 721.4 573.9 721.2 573.2 720.9 572.4 720.7 571.8 720.4 571.2 720.2 570.8 719.9 570.4 719.7 570.2 719.4 570.6 719.2 571.1 718.9 571.7 718.7 572.4 718.4 573.2 718.2 574.0 717.9 574.8 717.7 575.7 717.4 576.6 717.2 577.5 717.0 578.5 716.7 579.5 716.5 580.5 716.2 581.5 716.0 582.6 715.7 583.7 715.5 584.8 715.2 585.9 715.0 587.0 714.7 587.5 714.5 587.9 711.0Z" fill="#3DBB85" fill-opacity="0.45"/>
<path d="M580.0 717.1h0M578.7 718.8h0M588.5 723.8h0M579.8 721.6h0M587.4 716.3h0M591.9 720.2h0M586.9 713.8h0M590.7 719.3h0M596.3 719.6h0M576.3 718.8h0M588.8 722.0h0M588.3 715.5h0M576.5 719.8h0M599.3 718.4h0M597.5 720.5h0M593.0 720.6h0M592.7 722.4h0M590.2 719.6h0M576.5 720.0h0M578.0 717.5h0M588.7 716.3h0M584.9 716.3h0M576.8 718.5h0M600.4 720.9h0M582.9 718.8h0M586.6 715.8h0M592.3 723.2h0M592.4 722.4h0M588.0 713.7h0M582.2 718.2h0M590.6 723.1h0M579.9 721.7h0M599.3 719.7h0M590.4 718.7h0M588.5 714.2h0M590.7 719.0h0M591.1 720.7h0M596.2 719.0h0M586.8 714.0h0M582.8 716.5h0M585.8 718.7h0M595.1 716.6h0M578.6 720.5h0M589.2 723.1h0M584.7 723.0h0M583.4 720.8h0M599.1 721.3h0M588.4 724.9h0M591.4 715.9h0M587.7 723.9h0M586.8 718.1h0M585.0 717.0h0M589.2 718.2h0M591.0 719.5h0M598.8 719.6h0M589.5 714.4h0M589.1 714.7h0M596.3 720.6h0M578.8 719.9h0M598.1 719.0h0" stroke="#3DBB85" stroke-width="1.7" stroke-linecap="round" stroke-opacity="0.6"/>
<path d="M577.0 718.7h0M589.9 718.4h0M587.3 714.9h0M575.0 719.0h0M576.1 717.9h0M592.8 716.7h0M588.3 714.6h0M591.4 717.3h0M590.9 717.2h0M587.7 721.7h0M577.9 717.5h0M592.0 721.4h0M578.7 717.4h0M589.4 714.3h0M585.0 721.1h0M587.5 720.6h0M586.8 723.4h0M585.1 716.1h0M576.2 721.4h0M591.4 720.2h0M590.3 717.9h0M574.2 720.7h0M580.1 717.5h0M590.5 718.3h0M596.3 717.3h0M581.2 717.2h0M588.5 724.3h0M591.7 723.3h0M591.4 718.5h0M589.5 723.7h0M584.0 715.9h0M583.1 720.3h0M575.9 720.1h0M583.6 715.9h0M601.7 720.1h0M596.3 721.4h0M592.2 719.4h0M574.3 719.5h0M592.1 717.1h0M589.1 724.4h0M590.7 717.5h0M586.7 715.6h0M589.6 714.9h0M585.9 716.3h0M587.8 724.4h0M588.0 716.5h0M577.3 719.2h0M579.9 721.5h0M587.9 714.8h0M597.6 717.8h0M600.3 718.8h0M588.6 718.8h0M587.4 722.2h0M597.0 717.6h0M591.4 722.7h0M588.0 724.6h0M578.8 721.9h0M589.2 715.2h0M577.6 721.4h0M577.1 719.6h0" stroke="#3DBB85" stroke-width="1.7" stroke-linecap="round" stroke-opacity="0.6"/>
<path d="M589.0 716.2h0M599.1 720.2h0M591.1 716.2h0M595.5 717.6h0M585.9 719.2h0M592.9 715.6h0M588.5 719.2h0M587.6 718.0h0M587.5 716.8h0M582.6 717.9h0M575.7 721.2h0M573.6 720.0h0M585.6 719.7h0M590.8 723.1h0M576.6 719.2h0M581.1 719.6h0M602.8 719.3h0M587.4 719.8h0M587.6 714.7h0M585.0 715.9h0M588.4 720.2h0M577.1 719.8h0M592.4 716.1h0M574.5 718.3h0M584.0 719.1h0M591.7 717.5h0M594.8 721.5h0M591.5 722.4h0M595.3 721.7h0M587.7 713.1h0M599.5 720.8h0M587.6 721.0h0M589.8 715.2h0M587.6 717.7h0M596.7 718.3h0M599.8 720.3h0M594.3 721.8h0M588.7 719.7h0M582.0 716.6h0M587.3 724.6h0M601.2 718.3h0M588.1 713.2h0M589.5 724.6h0M587.3 714.7h0M589.2 723.1h0M588.1 714.8h0M589.1 715.4h0M596.2 717.1h0M593.2 722.9h0M592.7 719.3h0M581.7 717.0h0M593.1 727.1h0M587.9 725.8h0M581.0 725.6h0M583.9 721.0h0M596.5 717.1h0M584.5 718.1h0M593.1 710.8h0M593.8 718.3h0M581.3 725.9h0" stroke="#3DBB85" stroke-width="1.7" stroke-linecap="round" stroke-opacity="0.6"/>
<path d="M580.9 726.8h0M591.2 714.8h0M588.2 710.2h0M584.3 728.8h0M585.8 713.8h0M589.6 711.6h0M586.4 712.6h0M588.5 712.5h0M586.5 711.1h0M586.0 713.1h0M590.0 711.0h0M587.8 712.7h0M588.4 711.7h0M588.8 711.8h0" stroke="#3DBB85" stroke-width="1.7" stroke-linecap="round" stroke-opacity="0.6"/>
<path d="M588.5 711.0 588.9 714.5 589.4 714.7 590.5 715.0 591.6 715.2 592.7 715.5 593.8 715.7 594.9 716.0 595.9 716.2 596.9 716.5 597.9 716.7 598.9 717.0 599.8 717.2 600.7 717.4 601.6 717.7 602.4 717.9 603.2 718.2 604.0 718.4 604.7 718.7 605.3 718.9 605.8 719.2 606.2 719.4 606.0 719.7 605.6 719.9 605.2 720.2 604.6 720.4 604.0 720.7 603.2 720.9 602.5 721.2 601.6 721.4 600.8 721.7 599.8 722.0 598.9 722.2 597.8 722.5 596.8 722.7 595.7 723.0 594.5 723.2 593.3 723.5 592.1 723.7 590.8 724.0 589.5 724.2 588.2 724.5 588.2 724.5 586.9 724.2 585.6 724.0 584.3 723.7 583.1 723.5 581.9 723.2 580.7 723.0 579.6 722.7 578.6 722.5 577.5 722.2 576.6 722.0 575.6 721.7 574.8 721.4 573.9 721.2 573.2 720.9 572.4 720.7 571.8 720.4 571.2 720.2 570.8 719.9 570.4 719.7 570.2 719.4 570.6 719.2 571.1 718.9 571.7 718.7 572.4 718.4 573.2 718.2 574.0 717.9 574.8 717.7 575.7 717.4 576.6 717.2 577.5 717.0 578.5 716.7 579.5 716.5 580.5 716.2 581.5 716.0 582.6 715.7 583.7 715.5 584.8 715.2 585.9 715.0 587.0 714.7 587.5 714.5 587.9 711.0Z" fill="none" stroke="#3DBB85" stroke-width="1.1"/>
<line x1="578.2" y1="719.4" x2="598.2" y2="719.4" stroke="#000" stroke-width="1.3"/>
<text x="583.12" y="672.30" font-size="8.5" stroke="#000" stroke-width="0.25" textLength="10.14" lengthAdjust="spacingAndGlyphs">***</text>
<path d="M626.0 714.0 627.3 714.3 628.6 714.5 629.9 714.8 631.1 715.0 632.3 715.3 633.4 715.6 634.5 715.8 635.5 716.1 636.5 716.3 637.4 716.6 638.3 716.9 639.1 717.1 639.8 717.4 640.5 717.6 641.2 717.9 641.7 718.2 642.2 718.4 642.6 718.7 642.9 718.9 643.0 719.2 642.9 719.5 642.6 719.7 642.2 720.0 641.7 720.3 641.2 720.5 640.5 720.8 639.8 721.1 639.1 721.3 638.3 721.6 637.4 721.9 636.5 722.1 635.5 722.4 634.5 722.6 633.4 722.9 632.3 723.2 631.1 723.4 629.9 723.7 628.6 724.0 627.3 724.2 626.0 724.5 626.0 724.5 624.7 724.2 623.4 724.0 622.1 723.7 620.9 723.4 619.7 723.2 618.6 722.9 617.5 722.6 616.5 722.4 615.5 722.1 614.6 721.9 613.7 721.6 612.9 721.3 612.2 721.1 611.5 720.8 610.8 720.5 610.3 720.3 609.8 720.0 609.4 719.7 609.1 719.5 609.0 719.2 609.1 718.9 609.4 718.7 609.8 718.4 610.3 718.2 610.8 717.9 611.5 717.6 612.2 717.4 612.9 717.1 613.7 716.9 614.6 716.6 615.5 716.3 616.5 716.1 617.5 715.8 618.6 715.6 619.7 715.3 620.9 715.0 622.1 714.8 623.4 714.5 624.7 714.3 626.0 714.0Z" fill="#29AEE6" fill-opacity="0.45"/>
<path d="M619.1 715.9h0M619.7 717.3h0M640.2 719.0h0M621.3 721.0h0M627.6 719.6h0M632.0 722.9h0M621.8 715.0h0M628.0 723.5h0M621.3 716.9h0M634.6 719.2h0M633.9 718.2h0M617.4 720.4h0M624.1 718.7h0M613.9 719.7h0M613.0 717.9h0M625.3 713.6h0M632.8 719.3h0M623.5 715.6h0M636.1 718.4h0M633.9 720.7h0M618.2 718.9h0M622.7 716.0h0M628.4 714.7h0M613.7 719.3h0M623.6 716.8h0M613.5 718.0h0M625.7 724.6h0M626.4 724.3h0M632.8 721.8h0M623.5 719.0h0M619.1 716.3h0M619.2 720.1h0M621.0 717.8h0M632.2 722.6h0M625.9 718.1h0M630.4 716.9h0M612.6 720.1h0M624.5 723.0h0M621.4 716.4h0M627.4 723.2h0M627.8 717.5h0M625.0 721.9h0M617.3 720.7h0M627.2 724.3h0M624.8 714.6h0M623.4 722.9h0M624.8 723.7h0M630.3 715.4h0M637.5 717.9h0M630.9 721.1h0M623.0 722.7h0M630.5 718.0h0M621.2 715.9h0M625.0 714.6h0M637.1 717.5h0M627.9 716.2h0M627.3 717.7h0M626.5 717.7h0M625.8 714.9h0M635.8 721.1h0" stroke="#29AEE6" stroke-width="1.7" stroke-linecap="round" stroke-opacity="0.6"/>
<path d="M631.5 719.1h0M618.4 721.2h0M631.7 721.6h0M626.9 720.4h0M633.0 722.7h0M633.4 721.9h0M614.3 718.1h0M630.3 722.1h0M620.6 722.3h0M622.9 722.6h0M615.6 720.0h0M625.7 719.0h0M637.5 718.5h0M628.6 716.1h0M631.8 722.6h0M619.4 717.0h0M626.2 713.3h0M624.6 714.4h0M620.8 723.1h0M624.5 723.4h0M625.2 714.3h0M627.5 721.8h0M625.9 714.4h0M621.5 719.4h0M620.3 715.6h0M629.5 723.0h0M633.0 720.9h0M630.8 719.9h0M630.2 722.1h0M632.3 717.2h0M620.7 721.2h0M625.8 718.8h0M628.6 722.9h0M621.5 721.8h0M627.1 724.2h0M633.3 720.2h0M627.7 722.5h0M627.0 718.6h0M623.0 715.1h0M630.8 719.7h0M625.9 724.8h0M629.4 722.5h0M637.8 720.4h0M621.7 721.8h0M624.2 723.6h0M623.7 716.4h0M638.1 718.8h0M632.1 717.6h0M619.7 722.3h0M624.2 722.5h0M616.9 717.7h0M613.7 721.0h0M632.5 721.7h0M624.2 714.7h0M623.6 721.3h0M629.8 715.1h0M625.6 724.5h0M619.4 715.7h0M636.6 720.8h0M625.9 713.1h0" stroke="#29AEE6" stroke-width="1.7" stroke-linecap="round" stroke-opacity="0.6"/>
<path d="M620.9 718.0h0M630.1 715.4h0M633.2 719.2h0M625.4 725.2h0M626.6 725.1h0M631.3 721.9h0M625.2 719.0h0M620.2 720.9h0M637.1 718.2h0M625.5 716.0h0M617.5 718.2h0M621.3 722.6h0M622.5 721.1h0M623.7 717.1h0M624.8 715.5h0M621.0 717.3h0M624.8 723.0h0M628.4 716.2h0M633.9 720.3h0M625.6 723.7h0M636.4 720.6h0M629.3 720.7h0M627.5 719.3h0M613.3 720.2h0M636.3 721.8h0M625.6 714.4h0M628.7 721.2h0M640.0 719.3h0M633.0 722.7h0M632.1 722.5h0M622.5 716.9h0M626.7 725.3h0M625.0 713.0h0M622.5 720.8h0M630.3 720.0h0M639.1 719.2h0M626.2 715.8h0M627.7 716.6h0M619.5 717.4h0M620.0 721.7h0M625.1 716.3h0M615.6 716.7h0M613.3 720.6h0M621.7 718.9h0M623.9 716.0h0M624.5 714.4h0M622.9 716.7h0M623.6 721.9h0M638.5 718.3h0M620.6 721.5h0M622.2 719.3h0M630.1 722.7h0M628.1 714.0h0M618.5 709.1h0M630.5 717.8h0M621.1 716.0h0M631.8 725.4h0M628.9 711.7h0M634.5 726.9h0M627.4 728.5h0" stroke="#29AEE6" stroke-width="1.7" stroke-linecap="round" stroke-opacity="0.6"/>
<path d="M627.2 712.2h0M630.4 709.3h0M626.0 728.5h0M633.9 717.1h0" stroke="#29AEE6" stroke-width="1.7" stroke-linecap="round" stroke-opacity="0.6"/>
<path d="M626.0 714.0 627.3 714.3 628.6 714.5 629.9 714.8 631.1 715.0 632.3 715.3 633.4 715.6 634.5 715.8 635.5 716.1 636.5 716.3 637.4 716.6 638.3 716.9 639.1 717.1 639.8 717.4 640.5 717.6 641.2 717.9 641.7 718.2 642.2 718.4 642.6 718.7 642.9 718.9 643.0 719.2 642.9 719.5 642.6 719.7 642.2 720.0 641.7 720.3 641.2 720.5 640.5 720.8 639.8 721.1 639.1 721.3 638.3 721.6 637.4 721.9 636.5 722.1 635.5 722.4 634.5 722.6 633.4 722.9 632.3 723.2 631.1 723.4 629.9 723.7 628.6 724.0 627.3 724.2 626.0 724.5 626.0 724.5 624.7 724.2 623.4 724.0 622.1 723.7 620.9 723.4 619.7 723.2 618.6 722.9 617.5 722.6 616.5 722.4 615.5 722.1 614.6 721.9 613.7 721.6 612.9 721.3 612.2 721.1 611.5 720.8 610.8 720.5 610.3 720.3 609.8 720.0 609.4 719.7 609.1 719.5 609.0 719.2 609.1 718.9 609.4 718.7 609.8 718.4 610.3 718.2 610.8 717.9 611.5 717.6 612.2 717.4 612.9 717.1 613.7 716.9 614.6 716.6 615.5 716.3 616.5 716.1 617.5 715.8 618.6 715.6 619.7 715.3 620.9 715.0 622.1 714.8 623.4 714.5 624.7 714.3 626.0 714.0Z" fill="none" stroke="#29AEE6" stroke-width="1.1"/>
<line x1="616.0" y1="719.2" x2="636.0" y2="719.2" stroke="#000" stroke-width="1.3"/>
<text x="621.11" y="671.30" font-size="9.5" stroke="#000" stroke-width="0.25" textLength="9.51" lengthAdjust="spacingAndGlyphs">ns</text>
<path d="M663.2 714.5 664.3 714.7 665.5 715.0 666.6 715.2 667.6 715.4 668.6 715.7 669.6 715.9 670.6 716.1 671.5 716.4 672.4 716.6 673.2 716.9 674.0 717.1 674.8 717.3 675.5 717.6 676.2 717.8 676.8 718.0 677.3 718.3 677.8 718.5 678.2 718.7 678.5 719.0 678.7 719.2 678.5 719.5 678.2 719.7 677.8 720.0 677.3 720.3 676.8 720.5 676.2 720.8 675.5 721.1 674.8 721.3 674.0 721.6 673.2 721.9 672.4 722.1 671.5 722.4 670.6 722.6 669.6 722.9 668.6 723.2 667.6 723.4 666.6 723.7 665.5 724.0 664.3 724.2 663.2 724.5 663.2 724.5 662.1 724.2 660.9 724.0 659.8 723.7 658.8 723.4 657.8 723.2 656.8 722.9 655.8 722.6 654.9 722.4 654.0 722.1 653.2 721.9 652.4 721.6 651.6 721.3 650.9 721.1 650.2 720.8 649.6 720.5 649.1 720.3 648.6 720.0 648.2 719.7 647.9 719.5 647.7 719.2 647.9 719.0 648.2 718.7 648.6 718.5 649.1 718.3 649.6 718.0 650.2 717.8 650.9 717.6 651.6 717.3 652.4 717.1 653.2 716.9 654.0 716.6 654.9 716.4 655.8 716.1 656.8 715.9 657.8 715.7 658.8 715.4 659.8 715.2 660.9 715.0 662.1 714.7 663.2 714.5Z" fill="#A36FC4" fill-opacity="0.45"/>
<path d="M674.6 718.4h0M664.0 716.2h0M650.5 719.4h0M660.2 716.1h0M653.8 720.0h0M660.8 716.8h0M665.5 719.5h0M666.3 716.1h0M666.3 722.9h0M656.4 718.2h0M650.0 718.6h0M672.5 718.0h0M656.4 718.8h0M658.2 718.3h0M668.5 718.8h0M674.3 718.3h0M661.8 713.3h0M658.0 718.5h0M658.3 722.2h0M661.8 723.7h0M658.4 720.8h0M657.9 722.0h0M657.6 719.8h0M654.5 720.8h0M651.0 719.0h0M661.3 721.8h0M656.5 722.1h0M654.9 717.5h0M659.5 722.8h0M659.7 718.3h0M663.6 722.3h0M668.6 718.3h0M654.3 718.5h0M654.7 718.1h0M660.5 719.6h0M667.6 723.3h0M659.4 720.5h0M666.3 717.1h0M656.3 721.9h0M668.3 719.2h0M664.3 717.0h0M650.8 719.6h0M663.3 724.7h0M671.2 718.5h0M664.1 724.4h0M662.8 718.7h0M669.5 719.7h0M666.9 720.5h0M672.7 719.8h0M671.9 719.8h0M676.1 718.9h0M662.6 723.9h0M658.0 717.9h0M665.8 722.4h0M661.6 723.9h0M660.3 718.8h0M658.0 719.2h0M658.3 722.8h0M674.5 720.2h0M670.1 722.1h0" stroke="#A36FC4" stroke-width="1.7" stroke-linecap="round" stroke-opacity="0.6"/>
<path d="M672.1 718.3h0M669.4 716.3h0M663.5 722.7h0M661.0 718.6h0M663.9 715.0h0M663.9 715.8h0M662.2 717.0h0M663.2 722.2h0M658.8 717.9h0M656.6 720.5h0M661.4 724.0h0M656.1 719.2h0M656.3 721.5h0M664.8 715.0h0M660.9 721.8h0M655.4 718.5h0M662.4 724.5h0M675.9 719.8h0M662.1 719.8h0M662.1 713.3h0M672.3 718.2h0M663.8 714.8h0M660.2 715.2h0M654.2 717.3h0M666.0 718.0h0M664.3 714.1h0M663.7 725.8h0M660.0 722.5h0M666.1 717.1h0M672.6 719.3h0M658.4 720.9h0M656.4 721.2h0M662.5 725.6h0M658.5 721.2h0M655.6 717.0h0M662.6 719.0h0M666.7 722.9h0M661.2 723.0h0M669.9 721.3h0M666.8 715.5h0M662.2 724.7h0M658.0 720.9h0M652.6 717.8h0M666.3 720.5h0M655.6 720.9h0M667.2 720.3h0M673.6 717.7h0M651.4 718.5h0M662.3 724.5h0M662.9 713.1h0M662.3 715.0h0M668.2 719.2h0M650.2 718.7h0M663.1 714.5h0M662.7 716.3h0M667.5 719.9h0M663.3 725.0h0M662.2 725.8h0M663.6 714.2h0M669.5 721.4h0" stroke="#A36FC4" stroke-width="1.7" stroke-linecap="round" stroke-opacity="0.6"/>
<path d="M662.5 713.7h0M673.8 718.7h0M664.0 720.1h0M661.6 715.4h0M661.4 720.1h0M659.5 723.4h0M668.6 715.8h0M656.6 719.6h0M664.7 720.1h0M662.4 714.5h0M673.9 720.3h0M656.7 717.9h0M662.1 724.7h0M662.0 722.2h0M668.7 719.5h0M673.7 717.8h0M652.1 718.0h0M667.1 719.5h0M660.9 720.8h0M663.2 716.0h0M662.0 718.4h0M667.6 715.9h0M673.0 717.4h0M665.8 721.0h0M649.4 719.2h0M658.8 718.0h0M667.5 722.7h0M662.7 720.3h0M660.8 723.9h0M670.0 719.2h0M661.1 718.5h0M656.8 721.5h0M666.4 719.1h0M670.7 719.8h0M662.8 726.3h0M667.0 719.6h0M659.9 723.2h0M665.3 715.1h0M656.8 722.3h0M662.1 723.4h0M663.6 719.5h0M660.8 718.0h0M659.2 715.6h0M674.5 720.5h0M665.8 721.6h0M657.4 719.0h0M659.3 723.3h0M667.3 719.6h0M658.0 718.2h0M653.5 721.5h0M656.1 724.7h0M656.8 711.8h0M667.2 714.1h0M669.1 713.4h0M656.3 715.6h0M662.5 720.8h0M659.4 720.5h0M667.5 714.1h0M658.6 723.5h0M666.2 725.3h0" stroke="#A36FC4" stroke-width="1.7" stroke-linecap="round" stroke-opacity="0.6"/>
<path d="M669.9 711.8h0M668.9 718.0h0M669.4 722.9h0M669.2 711.1h0" stroke="#A36FC4" stroke-width="1.7" stroke-linecap="round" stroke-opacity="0.6"/>
<path d="M663.2 714.5 664.3 714.7 665.5 715.0 666.6 715.2 667.6 715.4 668.6 715.7 669.6 715.9 670.6 716.1 671.5 716.4 672.4 716.6 673.2 716.9 674.0 717.1 674.8 717.3 675.5 717.6 676.2 717.8 676.8 718.0 677.3 718.3 677.8 718.5 678.2 718.7 678.5 719.0 678.7 719.2 678.5 719.5 678.2 719.7 677.8 720.0 677.3 720.3 676.8 720.5 676.2 720.8 675.5 721.1 674.8 721.3 674.0 721.6 673.2 721.9 672.4 722.1 671.5 722.4 670.6 722.6 669.6 722.9 668.6 723.2 667.6 723.4 666.6 723.7 665.5 724.0 664.3 724.2 663.2 724.5 663.2 724.5 662.1 724.2 660.9 724.0 659.8 723.7 658.8 723.4 657.8 723.2 656.8 722.9 655.8 722.6 654.9 722.4 654.0 722.1 653.2 721.9 652.4 721.6 651.6 721.3 650.9 721.1 650.2 720.8 649.6 720.5 649.1 720.3 648.6 720.0 648.2 719.7 647.9 719.5 647.7 719.2 647.9 719.0 648.2 718.7 648.6 718.5 649.1 718.3 649.6 718.0 650.2 717.8 650.9 717.6 651.6 717.3 652.4 717.1 653.2 716.9 654.0 716.6 654.9 716.4 655.8 716.1 656.8 715.9 657.8 715.7 658.8 715.4 659.8 715.2 660.9 715.0 662.1 714.7 663.2 714.5Z" fill="none" stroke="#A36FC4" stroke-width="1.1"/>
<line x1="653.9" y1="719.2" x2="672.5" y2="719.2" stroke="#000" stroke-width="1.3"/>
<text x="658.31" y="671.30" font-size="9.5" stroke="#000" stroke-width="0.25" textLength="9.51" lengthAdjust="spacingAndGlyphs">ns</text>
<line x1="491.6" y1="719.2" x2="685" y2="719.2" stroke="#444" stroke-width="1" stroke-dasharray="3.2,2.8"/>
<line x1="491.6" y1="662.4" x2="491.6" y2="738.8" stroke="#222" stroke-width="1.1"/>
<line x1="489.4" y1="667.7" x2="491.6" y2="667.7" stroke="#333" stroke-width="0.9"/>
<text x="477.28" y="671.10" font-size="9.5" fill="#4D4D4D" stroke="#4D4D4D" stroke-width="0.25" textLength="12.79" lengthAdjust="spacingAndGlyphs">0.6</text>
<line x1="489.4" y1="692.6" x2="491.6" y2="692.6" stroke="#333" stroke-width="0.9"/>
<text x="477.28" y="696.00" font-size="9.5" fill="#4D4D4D" stroke="#4D4D4D" stroke-width="0.25" textLength="12.65" lengthAdjust="spacingAndGlyphs">0.4</text>
<line x1="489.4" y1="716.3" x2="491.6" y2="716.3" stroke="#333" stroke-width="0.9"/>
<text x="477.28" y="719.70" font-size="9.5" fill="#4D4D4D" stroke="#4D4D4D" stroke-width="0.25" textLength="12.84" lengthAdjust="spacingAndGlyphs">0.2</text>
<line x1="491.6" y1="738.8" x2="685.0" y2="738.8" stroke="#888" stroke-width="1.1"/>
<line x1="491.6" y1="738.8" x2="685.0" y2="738.8" stroke="#222" stroke-width="1.1"/>
<line x1="515.0" y1="738.8" x2="515.0" y2="741.0" stroke="#333" stroke-width="0.9"/>
<text x="511.68" y="751.20" font-size="11" fill="#4D4D4D" stroke="#4D4D4D" stroke-width="0.25" textLength="6.65" lengthAdjust="spacingAndGlyphs">0</text>
<line x1="551.4" y1="738.8" x2="551.4" y2="741.0" stroke="#333" stroke-width="0.9"/>
<text x="547.50" y="751.20" font-size="11" fill="#4D4D4D" stroke="#4D4D4D" stroke-width="0.25" textLength="7.42" lengthAdjust="spacingAndGlyphs">1</text>
<line x1="588.2" y1="738.8" x2="588.2" y2="741.0" stroke="#333" stroke-width="0.9"/>
<text x="584.67" y="751.20" font-size="11" fill="#4D4D4D" stroke="#4D4D4D" stroke-width="0.25" textLength="7.01" lengthAdjust="spacingAndGlyphs">2</text>
<line x1="626.0" y1="738.8" x2="626.0" y2="741.0" stroke="#333" stroke-width="0.9"/>
<text x="622.68" y="751.20" font-size="11" fill="#4D4D4D" stroke="#4D4D4D" stroke-width="0.25" textLength="6.72" lengthAdjust="spacingAndGlyphs">3</text>
<line x1="663.2" y1="738.8" x2="663.2" y2="741.0" stroke="#333" stroke-width="0.9"/>
<text x="660.07" y="751.20" font-size="11" fill="#4D4D4D" stroke="#4D4D4D" stroke-width="0.25" textLength="6.33" lengthAdjust="spacingAndGlyphs">4</text>
<text x="557.03" y="762.10" font-size="11" stroke="#000" stroke-width="0.25" textLength="66.79" lengthAdjust="spacingAndGlyphs">Subpopulation</text>
<text x="0" y="0" font-size="10" stroke="#000" stroke-width="0.25" textLength="58.84" lengthAdjust="spacingAndGlyphs" transform="translate(459.30 575.91) rotate(-90)">Exp. induced</text>
<text x="0" y="0" font-size="10" stroke="#000" stroke-width="0.25" textLength="73.07" lengthAdjust="spacingAndGlyphs" transform="translate(471.50 581.60) rotate(-90)">osmoconsensus</text>
<text x="0" y="0" font-size="10" stroke="#000" stroke-width="0.25" textLength="68.53" lengthAdjust="spacingAndGlyphs" transform="translate(459.50 660.22) rotate(-90)">Exp. repressed</text>
<text x="0" y="0" font-size="10" stroke="#000" stroke-width="0.25" textLength="73.07" lengthAdjust="spacingAndGlyphs" transform="translate(471.60 660.20) rotate(-90)">osmoconsensus</text>
<text x="0" y="0" font-size="10" stroke="#000" stroke-width="0.25" textLength="79.18" lengthAdjust="spacingAndGlyphs" transform="translate(459.50 744.77) rotate(-90)">Exp. unresponsive</text>
<text x="0" y="0" font-size="10" stroke="#000" stroke-width="0.25" textLength="71.76" lengthAdjust="spacingAndGlyphs" transform="translate(471.60 741.20) rotate(-90)">osmoconsensus</text>
</svg></body></html>
